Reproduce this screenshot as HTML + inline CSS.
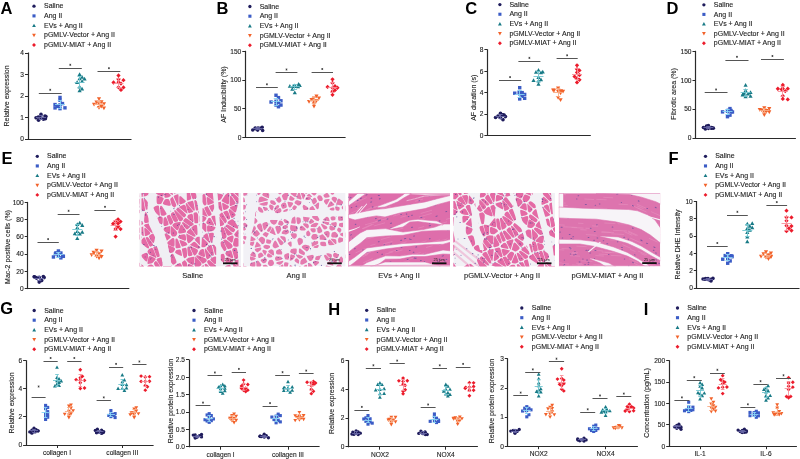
<!DOCTYPE html>
<html><head><meta charset="utf-8"><title>Figure</title>
<style>html,body{margin:0;padding:0;background:#fff;width:800px;height:459px;overflow:hidden}svg{display:block;font-family:"Liberation Sans",sans-serif;will-change:transform}</style>
</head><body>
<svg width="800" height="459" viewBox="0 0 800 459" font-family="Liberation Sans, sans-serif">
<defs>
<clipPath id="hc0"><rect x="139.5" y="193.0" width="101.5" height="73.4"/></clipPath>
<clipPath id="hc1"><rect x="243.3" y="193.0" width="102.0" height="73.4"/></clipPath>
<clipPath id="hc2"><rect x="348.3" y="193.2" width="101.7" height="73.2"/></clipPath>
<clipPath id="hc3"><rect x="453.3" y="193.0" width="101.7" height="73.4"/></clipPath>
<clipPath id="hc4"><rect x="558.8" y="193.2" width="101.4" height="73.0"/></clipPath>
</defs>
<g clip-path="url(#hc0)"><rect x="139.5" y="193.0" width="101.5" height="73.4" fill="#f0eff4"/>
<g fill="#e46aa5"><path d="M144.2 196.4Q143.7 196.4 143.7 196.4L143.6 196.4Q143.6 196.4 146.4 175.6L150.0 147.9Q152.8 127.1 153.6 139.5L154.7 156.1Q155.5 168.5 155.5 170.6L155.5 173.3Q155.6 175.4 154.6 179.9L153.4 185.9Q152.5 190.5 150.9 192.0L148.8 194.0Q147.2 195.5 146.7 195.8L146.0 196.1Q145.5 196.3 144.9 196.3Z"/><path d="M150.2 142.5Q153.3 119.1 143.8 -116.0L131.1 -429.6Q121.5 -664.8 90.7 -634.2L49.6 -593.5Q18.8 -562.9 55.4 -334.9L104.2 -30.9Q140.9 197.1 141.5 197.1L142.4 197.1Q143.0 197.0 146.1 173.7Z"/><path d="M123.6 197.7Q137.6 197.8 138.4 197.5L139.5 197.1Q140.3 196.8 105.9 -17.0L60.1 -302.1Q25.8 -515.9 -179.7 -313.4L-453.7 -43.5Q-659.3 159.0 -434.2 170.5L-134.1 185.9Q91.0 197.4 105.0 197.5Z"/><path d="M176.5 192.9Q177.7 192.4 179.5 189.2L181.8 184.8Q183.6 181.6 188.3 109.2L194.6 12.7Q199.4 -59.7 203.9 -247.1L209.8 -496.9Q214.3 -684.2 206.6 -692.4L196.2 -703.4Q188.5 -711.6 169.5 -692.1L144.1 -666.1Q125.1 -646.6 134.4 -416.5L146.8 -109.6Q156.1 120.5 157.0 134.2L158.2 152.4Q159.1 166.1 163.5 174.5L169.3 185.7Q173.6 194.1 174.8 193.6Z"/><path d="M172.6 194.8Q172.3 195.0 172.3 195.0L172.2 195.0Q172.2 195.0 170.0 193.3L167.0 191.1Q164.8 189.4 163.1 184.8L160.8 178.7Q159.1 174.1 159.1 171.9L159.0 168.9Q159.0 166.7 163.3 174.9L169.0 185.9Q173.3 194.2 173.0 194.4Z"/><path d="M166.1 197.8Q165.0 198.0 164.8 197.6L164.5 197.2Q164.3 196.8 164.4 194.8L164.6 192.2Q164.7 190.2 166.7 191.7L169.4 193.8Q171.4 195.3 170.6 196.0L169.5 196.8Q168.7 197.5 167.6 197.6Z"/><path d="M163.9 191.8Q164.0 189.5 162.2 184.7L159.7 178.2Q157.9 173.4 156.8 178.6L155.4 185.5Q154.4 190.6 155.0 191.8L155.9 193.3Q156.6 194.5 158.7 195.3L161.5 196.4Q163.5 197.2 163.7 194.9Z"/><path d="M159.8 204.1Q159.3 204.3 158.7 204.2L157.9 204.1Q157.3 204.0 157.1 203.4L156.8 202.7Q156.6 202.2 156.6 200.0L156.6 197.2Q156.6 195.0 158.6 195.8L161.2 196.8Q163.2 197.6 163.4 197.9L163.7 198.5Q163.9 198.8 163.1 200.3L162.1 202.2Q161.4 203.6 161.3 203.7L161.2 203.7Q161.2 203.8 160.6 203.9Z"/><path d="M150.0 208.0Q150.5 207.6 150.6 207.5L150.8 207.3Q150.9 207.1 149.3 204.7L147.2 201.3Q145.6 198.9 145.0 198.9L144.3 198.9Q143.8 198.9 144.4 202.2L145.2 206.6Q145.8 209.9 145.9 209.9L146.0 209.9Q146.1 209.9 146.9 209.6L148.0 209.3Q148.8 209.0 149.3 208.6Z"/><path d="M143.7 210.9Q144.4 211.0 144.7 210.9L145.0 210.8Q145.3 210.7 144.7 207.0L143.8 202.0Q143.1 198.3 143.1 198.3L143.0 198.3Q143.0 198.3 142.4 198.3L141.5 198.4Q140.9 198.4 140.0 198.7L138.9 199.1Q138.0 199.4 138.9 202.4L140.1 206.5Q141.0 209.5 141.4 209.9L141.9 210.4Q142.3 210.7 142.9 210.8Z"/><path d="M139.6 206.6Q140.4 209.5 125.3 206.5L105.2 202.5Q90.1 199.5 104.3 199.6L123.3 199.7Q137.6 199.8 138.4 202.7Z"/><path d="M123.5 219.0Q135.5 216.4 137.4 214.9L139.9 212.8Q141.9 211.3 141.5 210.9L141.0 210.4Q140.6 210.0 124.6 206.8L103.2 202.5Q87.2 199.3 -156.2 186.9L-480.7 170.2Q-724.1 157.8 -746.1 179.0L-775.4 207.3Q-797.4 228.5 -797.1 228.8L-796.6 229.2Q-796.2 229.6 -582.1 231.4L-296.6 233.7Q-82.4 235.5 -29.1 232.4L42.0 228.2Q95.3 225.1 107.4 222.5Z"/><path d="M196.0 192.9Q198.7 195.1 199.9 194.1L201.6 192.9Q202.8 191.9 203.5 190.4L204.4 188.3Q205.1 186.8 203.9 119.4L202.3 29.6Q201.1 -37.8 196.8 28.3L191.1 116.4Q186.7 182.5 187.1 183.3L187.5 184.3Q187.9 185.1 188.4 185.9L189.2 187.1Q189.8 187.9 192.4 190.1Z"/><path d="M194.0 199.1Q193.5 199.3 193.2 199.3L192.8 199.2Q192.5 199.2 191.4 195.9L190.0 191.4Q189.0 188.1 191.9 190.4L195.7 193.5Q198.6 195.8 198.5 196.0L198.4 196.1Q198.3 196.3 197.3 197.0L196.1 197.9Q195.2 198.6 194.7 198.8Z"/><path d="M190.8 196.0Q191.9 199.2 190.4 199.6L188.5 200.2Q187.0 200.6 187.0 200.5L186.9 200.3Q186.9 200.2 186.8 195.8L186.6 190.0Q186.5 185.6 187.1 186.4L187.9 187.6Q188.5 188.5 189.5 191.7Z"/><path d="M183.0 203.4Q184.6 202.7 184.9 202.4L185.2 202.1Q185.5 201.9 185.6 201.7L185.8 201.4Q185.9 201.2 185.9 201.1L185.8 200.9Q185.7 200.8 183.8 199.0L181.2 196.6Q179.2 194.8 179.2 197.9L179.2 201.9Q179.2 205.0 180.8 204.3Z"/><path d="M177.7 205.4Q177.7 205.4 178.0 205.2L178.3 204.9Q178.6 204.7 178.6 201.8L178.6 197.9Q178.6 195.0 178.4 194.7L178.2 194.3Q178.0 194.0 176.9 194.5L175.5 195.1Q174.4 195.6 174.1 195.8L173.7 196.1Q173.5 196.3 174.7 199.0L176.4 202.7Q177.7 205.4 177.7 205.4Z"/><path d="M176.1 206.3Q176.8 205.7 175.6 203.0L173.9 199.4Q172.7 196.7 172.6 196.8L172.6 196.8Q172.5 196.8 171.7 197.4L170.7 198.3Q169.8 198.9 170.5 201.0L171.3 203.7Q171.9 205.8 172.6 206.3L173.5 207.1Q174.2 207.7 174.2 207.7L174.2 207.7Q174.3 207.7 175.0 207.1Z"/><path d="M165.0 204.9Q162.3 204.2 163.0 202.7L164.1 200.8Q164.8 199.3 166.1 199.1L167.8 198.9Q169.1 198.7 169.7 201.0L170.7 204.1Q171.4 206.4 168.6 205.7Z"/><path d="M161.4 215.4Q160.7 215.2 160.4 212.4L160.1 208.8Q159.8 206.0 160.4 205.9L161.1 205.7Q161.7 205.5 163.2 208.1L165.4 211.4Q167.0 214.0 166.5 214.3L165.9 214.8Q165.5 215.1 164.8 215.4L163.8 215.7Q163.1 215.9 162.4 215.7Z"/><path d="M154.0 210.8Q151.9 208.6 152.0 208.4L152.1 208.2Q152.2 208.1 153.7 207.2L155.6 206.1Q157.0 205.3 157.6 205.4L158.4 205.5Q159.1 205.6 159.3 208.6L159.7 212.6Q160.0 215.6 159.6 215.7L159.2 215.9Q158.8 216.0 156.7 213.8Z"/><path d="M144.5 222.6Q144.8 223.2 146.3 222.9L148.4 222.4Q149.9 222.1 150.1 221.9L150.4 221.7Q150.6 221.6 149.2 218.7L147.5 215.0Q146.1 212.1 146.0 212.1L145.9 212.1Q145.8 212.1 145.5 212.2L145.2 212.4Q144.9 212.5 144.6 215.1L144.2 218.5Q144.0 221.1 144.2 221.8Z"/><path d="M125.5 219.9Q136.0 217.6 137.9 218.8L140.5 220.4Q142.5 221.6 142.7 222.2L143.0 223.0Q143.3 223.6 143.1 223.9L142.8 224.3Q142.6 224.6 140.2 225.3L137.0 226.2Q134.6 226.9 124.5 226.4L111.1 225.7Q101.0 225.2 111.5 222.9Z"/><path d="M227.6 190.6Q227.4 191.0 226.4 191.8L225.0 192.7Q224.0 193.5 221.1 192.9L217.2 192.3Q214.3 191.7 212.7 190.2L210.6 188.2Q209.0 186.6 207.8 118.1L206.2 26.6Q205.0 -41.9 209.2 -216.0L214.7 -448.2Q218.9 -622.3 247.4 -593.5L285.3 -555.2Q313.7 -526.4 288.4 -313.1L254.7 -28.8Q229.4 184.5 229.0 186.0L228.4 188.1Q228.0 189.6 227.8 190.0Z"/><path d="M217.5 200.7Q216.2 200.9 215.6 198.4L214.8 195.1Q214.1 192.6 217.0 193.2L221.0 193.9Q223.9 194.4 222.8 196.1L221.5 198.4Q220.4 200.1 219.2 200.3Z"/><path d="M215.1 201.4Q215.0 201.6 212.5 199.8L209.2 197.5Q206.7 195.8 206.3 194.9L205.8 193.8Q205.4 193.0 206.1 191.4L207.1 189.2Q207.8 187.6 209.4 189.2L211.6 191.3Q213.2 192.8 213.9 195.3L214.7 198.7Q215.4 201.2 215.3 201.3Z"/><path d="M214.7 202.6Q214.6 202.9 212.6 203.5L209.8 204.4Q207.8 205.0 207.7 205.0L207.6 205.0Q207.5 204.9 207.1 202.2L206.6 198.6Q206.2 195.8 208.9 197.7L212.4 200.2Q215.1 202.1 214.9 202.3Z"/><path d="M206.1 205.1Q206.9 204.8 206.5 202.2L206.0 198.8Q205.7 196.2 205.3 195.3L204.7 194.2Q204.3 193.4 203.0 194.4L201.2 195.7Q199.9 196.7 199.8 196.8L199.6 197.0Q199.6 197.2 200.9 199.8L202.8 203.3Q204.2 205.9 205.0 205.5Z"/><path d="M196.3 210.5Q195.9 210.5 195.3 207.5L194.6 203.5Q194.1 200.6 194.5 200.3L195.2 200.1Q195.7 199.9 197.4 202.2L199.6 205.3Q201.3 207.6 200.1 208.5L198.4 209.7Q197.1 210.7 196.7 210.6Z"/><path d="M194.0 210.7Q193.5 210.9 191.6 208.5L189.0 205.3Q187.1 202.9 187.2 202.7L187.4 202.4Q187.5 202.1 188.9 201.7L190.9 201.2Q192.3 200.8 192.6 200.8L193.0 200.9Q193.3 200.9 193.8 203.8L194.5 207.5Q195.0 210.4 194.6 210.5Z"/><path d="M192.9 212.0Q192.7 212.1 191.3 212.5L189.5 213.1Q188.2 213.5 187.4 210.5L186.3 206.5Q185.5 203.6 185.8 203.3L186.2 203.0Q186.4 202.7 188.6 205.4L191.4 208.9Q193.5 211.5 193.3 211.7Z"/><path d="M187.1 213.6Q186.9 213.8 184.5 211.8L181.3 209.1Q178.9 207.1 179.1 206.9L179.5 206.6Q179.8 206.4 181.4 205.7L183.6 204.8Q185.2 204.1 186.0 206.8L186.9 210.5Q187.7 213.2 187.4 213.4Z"/><path d="M185.7 216.1Q185.3 216.8 184.9 217.1L184.2 217.5Q183.8 217.9 181.3 215.4L178.0 212.1Q175.5 209.7 176.3 209.1L177.5 208.2Q178.3 207.6 178.3 207.6L178.3 207.6Q178.3 207.6 180.8 209.6L184.1 212.4Q186.5 214.4 186.2 215.1Z"/><path d="M177.6 212.3Q175.0 209.7 175.0 209.7L174.9 209.7Q174.9 209.8 174.6 210.2L174.2 210.8Q174.0 211.3 175.5 214.2L177.5 218.1Q179.1 221.1 179.6 221.2L180.3 221.3Q180.9 221.4 181.2 221.2L181.7 220.8Q182.1 220.5 182.6 219.9L183.2 219.0Q183.7 218.3 181.1 215.8Z"/><path d="M175.5 222.0Q174.1 222.3 173.0 219.9L171.4 216.6Q170.3 214.1 171.3 213.3L172.6 212.2Q173.6 211.3 175.2 214.3L177.3 218.3Q178.8 221.3 177.4 221.6Z"/><path d="M170.9 224.8Q170.7 224.9 170.4 224.8L170.1 224.8Q169.9 224.8 168.8 222.3L167.5 218.9Q166.5 216.4 166.9 216.1L167.5 215.6Q168.0 215.2 168.6 215.0L169.4 214.8Q170.0 214.6 171.1 216.9L172.5 220.0Q173.6 222.3 172.9 223.1L171.9 224.0Q171.2 224.8 171.1 224.8Z"/><path d="M167.7 225.2Q169.2 224.8 168.3 222.4L167.0 219.2Q166.0 216.9 165.3 217.1L164.3 217.4Q163.6 217.6 163.5 219.6L163.4 222.3Q163.3 224.4 163.6 224.9L163.9 225.7Q164.2 226.3 165.7 225.9Z"/><path d="M157.9 217.5Q159.0 216.7 159.4 216.6L159.9 216.4Q160.3 216.3 161.1 216.6L162.1 216.9Q162.9 217.1 162.8 219.3L162.7 222.4Q162.6 224.6 160.2 223.7L157.0 222.5Q154.6 221.6 154.5 221.5L154.3 221.3Q154.2 221.2 154.5 220.7L154.9 220.0Q155.2 219.5 156.4 218.6Z"/><path d="M144.2 225.2Q144.0 225.6 144.0 225.7L144.0 225.8Q144.1 225.9 146.3 228.0L149.3 230.9Q151.6 233.1 152.1 233.0L152.7 232.8Q153.1 232.7 152.3 229.8L151.2 226.0Q150.3 223.2 148.7 223.6L146.4 224.1Q144.8 224.4 144.5 224.8Z"/><path d="M146.2 228.5Q144.1 226.5 144.3 229.4L144.6 233.2Q144.8 236.0 144.8 236.0L144.9 236.1Q144.9 236.1 145.8 235.9L146.9 235.7Q147.8 235.5 148.8 234.8L150.1 233.9Q151.1 233.1 149.0 231.1Z"/><path d="M137.5 228.2Q135.1 228.9 137.5 231.1L140.6 234.0Q142.9 236.2 143.2 236.1L143.6 236.0Q143.9 235.9 143.7 233.2L143.4 229.5Q143.2 226.8 143.2 226.7L143.2 226.6Q143.2 226.6 140.7 227.2Z"/><path d="M110.7 228.4Q100.6 227.8 53.7 230.6L-8.7 234.2Q-55.6 237.0 -39.1 237.9L-17.2 239.3Q-0.7 240.2 41.3 240.2L97.4 240.1Q139.4 240.1 140.3 239.2L141.4 237.9Q142.3 237.0 139.9 234.8L136.8 231.8Q134.4 229.6 124.3 229.1Z"/><path d="M242.1 195.1Q245.9 199.5 465.7 172.6L758.9 136.8Q978.7 109.9 780.8 -84.8L516.9 -344.6Q319.0 -539.3 293.2 -322.1L258.9 -32.4Q233.1 184.8 236.9 189.2Z"/><path d="M239.3 197.7Q242.7 200.7 243.4 200.4L244.5 200.1Q245.3 199.8 241.5 195.5L236.6 189.8Q232.8 185.5 232.4 187.0L231.9 189.0Q231.5 190.6 234.8 193.6Z"/><path d="M237.3 203.4Q237.1 203.3 235.2 200.5L232.6 196.8Q230.7 194.0 230.5 193.5L230.3 192.8Q230.1 192.2 230.3 191.8L230.6 191.2Q230.8 190.8 234.3 194.0L238.9 198.2Q242.4 201.3 241.7 201.9L240.7 202.6Q239.9 203.1 239.3 203.2L238.5 203.4Q238.0 203.5 237.7 203.5Z"/><path d="M234.6 201.0Q236.6 203.9 234.6 204.5L232.1 205.4Q230.1 206.1 230.0 205.9L229.8 205.5Q229.6 205.3 229.7 202.0L229.9 197.5Q230.0 194.2 232.0 197.1Z"/><path d="M229.0 192.8Q228.9 192.3 227.8 193.1L226.3 194.1Q225.2 194.9 224.1 196.7L222.6 199.1Q221.5 200.9 221.6 201.0L221.7 201.2Q221.8 201.3 224.0 202.5L226.9 204.1Q229.1 205.3 229.2 202.0L229.3 197.5Q229.4 194.1 229.3 193.6Z"/><path d="M222.2 204.5Q221.7 202.0 223.8 203.2L226.5 204.7Q228.5 205.8 228.7 206.0L228.8 206.3Q229.0 206.6 228.9 206.9L228.7 207.4Q228.6 207.7 228.2 208.1L227.7 208.6Q227.2 209.0 226.0 209.4L224.4 210.0Q223.2 210.4 222.7 207.9Z"/><path d="M215.8 203.4Q215.7 203.6 215.8 204.4L216.0 205.4Q216.2 206.2 217.7 207.7L219.7 209.8Q221.1 211.3 221.4 211.2L221.7 211.2Q222.0 211.1 222.1 211.0L222.3 210.8Q222.5 210.6 222.0 208.1L221.4 204.6Q221.0 202.1 220.9 202.0L220.8 201.8Q220.7 201.7 219.5 202.0L217.8 202.3Q216.5 202.5 216.4 202.6L216.2 202.8Q216.1 202.9 216.0 203.1Z"/><path d="M214.6 204.8Q214.5 204.0 212.7 204.6L210.3 205.4Q208.5 205.9 209.6 208.0L211.1 210.8Q212.2 212.9 213.0 211.0L214.1 208.4Q215.0 206.5 214.8 205.7Z"/><path d="M208.7 216.1Q208.2 216.2 206.9 213.7L205.3 210.4Q204.1 207.9 204.3 207.7L204.5 207.4Q204.7 207.2 205.5 206.9L206.6 206.4Q207.4 206.1 207.5 206.1L207.6 206.2Q207.7 206.2 208.8 208.3L210.4 211.3Q211.5 213.4 211.5 213.7L211.6 214.2Q211.6 214.5 211.1 214.9L210.5 215.4Q210.0 215.8 209.4 215.9Z"/><path d="M198.1 212.3Q197.6 211.5 198.9 210.6L200.6 209.3Q201.9 208.4 202.4 208.2L203.0 208.0Q203.5 207.8 204.8 210.5L206.5 214.1Q207.8 216.8 207.8 216.8L207.8 216.8Q207.8 216.8 205.2 215.9L201.7 214.8Q199.1 214.0 198.7 213.2Z"/><path d="M199.3 217.1Q199.3 214.7 201.6 215.5L204.8 216.5Q207.1 217.3 206.4 218.6L205.4 220.3Q204.6 221.6 203.0 221.9L200.8 222.3Q199.2 222.6 199.2 220.2Z"/><path d="M193.6 213.1Q193.4 213.3 193.7 216.2L194.2 220.1Q194.5 223.1 194.5 223.1L194.5 223.1Q194.6 223.2 195.4 223.2L196.4 223.3Q197.2 223.3 197.4 223.3L197.6 223.2Q197.7 223.1 197.8 223.0L198.1 222.8Q198.2 222.7 198.2 220.3L198.2 217.1Q198.2 214.7 197.8 214.0L197.2 213.1Q196.8 212.4 196.4 212.3L196.0 212.3Q195.6 212.2 195.2 212.4L194.6 212.6Q194.1 212.7 193.9 212.9Z"/><path d="M193.1 216.3Q192.8 213.4 191.6 213.8L190.0 214.3Q188.8 214.6 188.5 214.8L188.2 215.1Q188.0 215.2 187.7 215.9L187.2 216.8Q186.9 217.5 189.0 219.2L191.8 221.4Q193.9 223.1 193.6 220.2Z"/><path d="M194.0 224.0Q193.9 223.9 191.6 222.0L188.4 219.5Q186.0 217.7 185.5 218.0L184.9 218.5Q184.4 218.8 183.9 219.5L183.2 220.4Q182.8 221.1 185.2 222.8L188.4 225.1Q190.8 226.8 191.7 226.0L193.0 224.9Q194.0 224.0 194.0 224.0Z"/><path d="M190.0 227.0Q190.1 226.9 188.0 225.3L185.1 223.3Q183.0 221.8 182.7 222.1L182.3 222.4Q182.0 222.6 182.0 222.9L182.0 223.2Q182.0 223.4 183.4 225.4L185.2 228.1Q186.5 230.2 187.5 229.3L188.9 228.2Q189.8 227.3 189.9 227.2Z"/><path d="M178.4 233.1Q178.5 233.8 180.7 233.4L183.5 232.9Q185.6 232.5 185.6 232.5L185.6 232.5Q185.6 232.5 185.8 232.0L186.1 231.3Q186.3 230.9 184.7 228.6L182.7 225.6Q181.2 223.3 180.3 225.8L179.0 229.1Q178.1 231.5 178.2 232.2Z"/><path d="M175.9 229.6Q177.6 231.4 178.6 228.9L179.8 225.6Q180.8 223.1 180.8 222.9L180.8 222.5Q180.7 222.2 180.2 222.1L179.5 222.0Q178.9 221.9 177.5 222.2L175.6 222.6Q174.2 222.9 173.5 223.7L172.5 224.7Q171.8 225.4 173.5 227.2Z"/><path d="M171.1 235.0Q170.5 234.4 170.6 231.9L170.8 228.7Q171.0 226.2 171.2 226.2L171.4 226.1Q171.5 226.1 173.1 227.8L175.3 230.0Q176.9 231.6 177.1 232.3L177.2 233.1Q177.4 233.8 176.9 234.5L176.3 235.4Q175.9 236.0 175.4 236.2L174.9 236.5Q174.4 236.6 173.8 236.6L173.0 236.6Q172.4 236.6 171.8 235.9Z"/><path d="M170.2 231.9Q170.0 234.5 168.5 233.7L166.6 232.8Q165.2 232.0 164.6 231.2L163.9 230.2Q163.4 229.4 163.7 228.8L164.1 228.1Q164.4 227.5 166.0 227.0L168.1 226.4Q169.7 225.9 169.9 225.9L170.3 226.0Q170.5 226.0 170.4 228.6Z"/><path d="M170.0 235.9Q169.4 235.2 168.0 234.5L166.2 233.6Q164.9 232.9 164.2 234.8L163.3 237.2Q162.6 239.0 162.9 239.8L163.4 240.8Q163.7 241.6 164.4 241.6L165.2 241.6Q165.9 241.6 167.5 240.3L169.6 238.6Q171.2 237.4 170.7 236.7Z"/><path d="M155.6 234.5Q155.7 234.9 155.1 237.7L154.3 241.5Q153.7 244.4 152.0 242.0L149.9 238.8Q148.3 236.4 149.3 235.7L150.8 234.6Q151.8 233.8 152.3 233.7L152.9 233.5Q153.3 233.4 153.9 233.5L154.6 233.6Q155.2 233.7 155.3 234.0Z"/><path d="M151.6 242.1Q153.0 244.3 153.1 244.6L153.2 245.0Q153.2 245.2 152.9 245.5L152.5 245.8Q152.1 246.1 151.4 246.3L150.4 246.7Q149.6 247.0 148.3 244.1L146.5 240.3Q145.2 237.5 146.0 237.3L147.2 237.1Q148.1 237.0 149.6 239.2Z"/><path d="M144.2 237.4Q144.5 237.2 144.6 237.2L144.6 237.2Q144.7 237.2 146.1 240.3L148.1 244.5Q149.5 247.5 149.0 247.9L148.3 248.4Q147.8 248.8 145.7 247.0L143.1 244.7Q141.0 243.0 140.8 242.4L140.5 241.7Q140.2 241.2 141.2 240.1L142.5 238.7Q143.5 237.6 143.8 237.5Z"/><path d="M788.6 230.2Q624.6 229.7 536.7 227.9L419.6 225.4Q331.8 223.6 305.4 221.3L270.1 218.2Q243.7 215.9 243.5 215.8L243.3 215.7Q243.1 215.6 242.4 212.2L241.4 207.7Q240.7 204.3 241.5 203.7L242.6 202.9Q243.4 202.3 244.3 202.0L245.5 201.6Q246.4 201.3 486.1 172.0L805.7 132.9Q1045.4 103.6 1084.1 141.0L1135.7 190.9Q1174.4 228.2 1173.5 229.1L1172.2 230.3Q1171.3 231.2 1007.2 230.7Z"/><path d="M237.3 204.6Q237.0 204.5 235.0 205.2L232.3 206.2Q230.2 206.9 230.1 207.3L229.9 207.8Q229.8 208.1 231.6 209.7L234.0 211.9Q235.8 213.4 236.4 210.8L237.3 207.3Q237.9 204.7 237.6 204.6Z"/><path d="M235.4 214.2Q235.2 213.7 233.6 212.2L231.4 210.3Q229.7 208.8 229.3 209.2L228.8 209.7Q228.3 210.1 229.2 212.5L230.4 215.7Q231.2 218.1 231.7 218.0L232.4 217.9Q232.9 217.8 233.8 217.0L234.9 216.0Q235.8 215.3 235.6 214.8Z"/><path d="M223.4 211.9Q223.6 211.8 224.8 211.3L226.5 210.8Q227.7 210.3 228.6 212.7L229.8 215.9Q230.6 218.3 229.8 218.9L228.6 219.6Q227.8 220.2 226.4 217.8L224.5 214.6Q223.1 212.2 223.2 212.1Z"/><path d="M221.7 212.6Q221.5 212.6 220.6 213.4L219.5 214.3Q218.6 215.1 220.5 217.6L223.1 221.0Q225.0 223.6 225.3 223.3L225.7 223.0Q226.0 222.7 226.4 222.1L226.9 221.4Q227.3 220.8 225.8 218.2L223.8 214.9Q222.4 212.4 222.1 212.5Z"/><path d="M218.5 223.1Q219.2 226.2 219.5 226.2L219.9 226.2Q220.3 226.2 221.1 226.0L222.1 225.7Q222.9 225.5 223.1 225.3L223.3 225.2Q223.5 225.0 223.9 224.6L224.3 224.1Q224.6 223.7 222.7 221.2L220.2 217.8Q218.3 215.3 217.9 215.5L217.4 215.7Q217.0 215.8 217.6 218.9Z"/><path d="M214.3 223.4Q215.8 226.1 216.1 226.3L216.5 226.6Q216.8 226.9 217.4 226.7L218.2 226.5Q218.8 226.4 218.1 223.2L217.2 219.0Q216.6 215.8 215.4 215.8L213.8 215.7Q212.6 215.6 212.1 216.1L211.4 216.6Q210.9 217.0 212.4 219.7Z"/><path d="M206.4 223.0Q206.0 222.5 206.8 221.2L207.8 219.4Q208.6 218.1 208.6 218.1L208.6 218.1Q208.6 218.1 209.1 218.0L209.9 217.8Q210.4 217.7 211.8 220.2L213.6 223.6Q215.0 226.1 212.6 225.6L209.5 224.8Q207.2 224.3 206.8 223.7Z"/><path d="M209.4 225.5Q207.0 224.9 207.0 226.9L207.1 229.5Q207.1 231.5 207.4 231.6L207.7 231.6Q208.0 231.7 209.6 231.5L211.8 231.2Q213.4 230.9 214.1 229.9L215.0 228.6Q215.8 227.6 215.5 227.4L215.1 227.1Q214.8 226.8 212.5 226.3Z"/><path d="M198.9 224.0Q199.1 223.9 200.9 223.5L203.3 223.1Q205.0 222.8 205.4 223.4L205.9 224.1Q206.3 224.7 206.4 226.9L206.4 229.7Q206.4 231.8 206.1 231.9L205.7 232.1Q205.4 232.2 203.3 229.8L200.6 226.7Q198.5 224.3 198.7 224.2Z"/><path d="M195.3 224.9Q194.4 224.9 193.5 225.6L192.3 226.7Q191.4 227.5 191.3 227.6L191.2 227.8Q191.2 227.9 192.7 230.2L194.7 233.2Q196.2 235.5 196.6 235.3L197.2 235.1Q197.6 234.9 197.5 232.0L197.3 228.0Q197.2 225.0 196.4 225.0Z"/><path d="M192.3 230.4Q190.8 228.0 189.7 229.0L188.2 230.2Q187.1 231.2 186.9 231.7L186.7 232.3Q186.5 232.8 188.9 234.0L192.2 235.7Q194.6 237.0 195.0 236.6L195.6 236.2Q196.0 235.9 194.4 233.5Z"/><path d="M186.8 239.1Q187.1 241.5 187.6 242.2L188.2 243.1Q188.7 243.7 190.1 242.5L191.9 240.9Q193.3 239.8 193.6 239.1L193.9 238.2Q194.2 237.5 191.8 236.3L188.7 234.7Q186.3 233.4 186.3 233.4L186.3 233.4Q186.3 233.5 186.5 235.9Z"/><path d="M178.2 236.5Q177.8 237.2 178.2 237.5L178.7 238.1Q179.1 238.4 181.3 239.3L184.1 240.5Q186.3 241.3 186.1 239.1L185.8 236.1Q185.6 233.8 183.7 234.2L181.1 234.7Q179.2 235.0 178.8 235.7Z"/><path d="M187.3 244.6Q187.3 244.6 187.3 244.5L187.4 244.3Q187.4 244.2 186.9 243.6L186.3 242.8Q185.9 242.2 183.8 241.3L181.0 240.2Q178.8 239.3 179.7 241.6L180.9 244.7Q181.7 247.0 183.0 246.6L184.6 246.1Q185.9 245.8 186.3 245.4L186.9 244.9Q187.3 244.6 187.3 244.6Z"/><path d="M175.7 238.7Q175.3 238.9 175.4 241.4L175.4 244.7Q175.5 247.2 175.6 247.5L175.9 248.0Q176.0 248.4 177.4 248.2L179.2 247.9Q180.6 247.7 180.7 247.6L180.8 247.5Q180.9 247.4 180.1 245.0L178.9 241.9Q178.0 239.6 177.6 239.2L177.1 238.7Q176.7 238.3 176.3 238.5Z"/><path d="M173.0 238.1Q172.3 238.1 170.6 239.5L168.2 241.4Q166.5 242.8 166.8 243.2L167.1 243.7Q167.4 244.2 169.6 245.2L172.5 246.5Q174.7 247.5 174.6 244.7L174.6 241.0Q174.5 238.2 173.9 238.2Z"/><path d="M167.9 246.9Q167.3 244.4 169.5 245.4L172.4 246.8Q174.6 247.8 174.8 248.2L175.1 248.8Q175.2 249.2 174.7 250.1L173.9 251.3Q173.3 252.2 173.2 252.2L173.1 252.3Q173.0 252.4 172.2 252.6L171.2 252.9Q170.5 253.1 170.1 253.0L169.6 252.8Q169.3 252.8 168.7 250.2Z"/><path d="M153.9 246.8Q154.2 246.5 155.1 246.6L156.3 246.6Q157.2 246.6 158.1 249.6L159.2 253.5Q160.1 256.5 159.2 256.8L157.9 257.2Q156.9 257.6 155.8 254.5L154.3 250.4Q153.1 247.4 153.5 247.1Z"/><path d="M151.3 255.8Q149.2 254.8 148.7 253.9L147.9 252.7Q147.3 251.8 147.7 251.1L148.1 250.3Q148.4 249.6 148.9 249.3L149.6 248.8Q150.1 248.4 150.9 248.2L151.9 247.8Q152.7 247.5 153.9 250.6L155.4 254.6Q156.5 257.7 156.4 257.8L156.2 258.0Q156.0 258.2 154.0 257.1Z"/><path d="M147.5 263.3Q147.4 262.9 147.8 260.6L148.4 257.5Q148.9 255.2 151.0 256.2L153.8 257.6Q155.9 258.7 155.8 258.9L155.7 259.2Q155.6 259.5 154.7 260.5L153.4 262.0Q152.5 263.1 151.1 263.4L149.2 263.8Q147.8 264.1 147.7 263.7Z"/><path d="M147.4 260.4Q147.0 262.6 144.9 260.4L142.2 257.4Q140.1 255.2 142.1 254.4L144.6 253.3Q146.6 252.4 147.1 253.3L147.9 254.4Q148.4 255.3 148.0 257.5Z"/><path d="M142.1 264.7Q145.1 266.7 144.4 269.8L143.4 274.0Q142.7 277.1 140.5 271.9L137.5 265.1Q135.3 259.9 138.3 262.0Z"/><path d="M89.9 253.8Q132.8 257.7 133.4 258.4L134.2 259.4Q134.8 260.1 137.0 265.3L140.0 272.3Q142.2 277.5 125.0 507.3L102.0 813.7Q84.7 1043.5 -162.1 801.1L-491.3 477.9Q-738.1 235.4 -537.3 237.1L-269.6 239.3Q-68.8 241.0 -51.3 242.0L-27.9 243.4Q-10.3 244.5 32.6 248.5Z"/><path d="M240.6 223.7Q239.4 226.2 239.4 226.7L239.5 227.3Q239.5 227.7 240.4 228.0L241.6 228.5Q242.6 228.8 266.2 227.5L297.8 225.8Q321.5 224.5 298.1 222.5L267.0 219.7Q243.6 217.7 242.3 220.3Z"/><path d="M227.4 222.8Q227.0 223.4 230.0 225.1L233.9 227.3Q236.8 229.0 237.3 228.7L237.9 228.5Q238.3 228.2 238.3 227.8L238.2 227.1Q238.2 226.6 236.7 224.4L234.7 221.3Q233.2 219.1 232.7 219.2L231.9 219.3Q231.4 219.4 230.5 220.0L229.2 220.8Q228.3 221.4 227.9 222.0Z"/><path d="M227.6 228.3Q225.3 226.3 225.6 225.9L226.0 225.4Q226.3 225.1 226.6 224.8L227.0 224.6Q227.3 224.3 229.9 225.8L233.4 227.8Q236.0 229.3 235.1 230.4L233.9 231.9Q233.0 233.0 230.7 231.0Z"/><path d="M224.2 226.4Q224.4 226.3 227.0 228.5L230.4 231.5Q232.9 233.8 232.9 233.9L232.9 234.0Q232.8 234.1 231.2 234.7L228.9 235.5Q227.3 236.2 226.2 233.3L224.8 229.6Q223.7 226.7 223.9 226.6Z"/><path d="M222.6 239.2Q222.8 239.4 223.5 239.1L224.6 238.8Q225.3 238.5 225.8 237.9L226.5 237.0Q227.0 236.4 225.9 233.5L224.4 229.6Q223.3 226.7 222.5 227.0L221.4 227.3Q220.6 227.5 221.1 230.9L221.8 235.4Q222.4 238.8 222.5 239.0Z"/><path d="M209.0 236.1Q208.3 233.2 209.8 233.0L211.9 232.7Q213.5 232.5 213.6 233.1L213.8 233.9Q214.0 234.4 213.4 236.9L212.7 240.2Q212.1 242.6 212.0 242.7L211.8 242.8Q211.6 242.8 211.4 242.8L211.0 242.8Q210.8 242.8 210.0 239.9Z"/><path d="M207.3 241.0Q209.4 243.0 209.6 243.0L209.9 242.9Q210.1 242.8 209.3 240.0L208.4 236.3Q207.6 233.5 207.4 233.4L207.0 233.3Q206.8 233.3 206.5 233.4L206.1 233.5Q205.8 233.6 204.8 234.4L203.5 235.5Q202.5 236.4 204.6 238.3Z"/><path d="M202.5 247.2Q201.8 247.2 201.7 247.0L201.5 246.7Q201.4 246.5 201.5 243.6L201.5 239.7Q201.6 236.8 201.6 236.8L201.6 236.8Q201.6 236.8 203.9 239.0L206.8 241.8Q209.0 244.0 207.8 244.8L206.2 246.0Q205.0 246.9 204.7 247.0L204.3 247.2Q204.1 247.3 203.4 247.3Z"/><path d="M200.9 243.6Q200.8 246.4 199.0 244.6L196.6 242.1Q194.8 240.3 195.0 239.7L195.4 238.8Q195.6 238.1 196.0 237.8L196.5 237.4Q196.9 237.1 197.3 236.9L197.8 236.7Q198.2 236.6 199.0 236.7L200.2 236.8Q201.0 236.9 201.0 239.8Z"/><path d="M199.8 248.0Q200.4 247.6 200.3 247.4L200.1 247.1Q200.0 246.9 198.3 245.2L196.0 242.8Q194.3 241.1 193.0 242.2L191.3 243.7Q190.0 244.7 190.0 244.8L190.0 245.0Q190.0 245.1 192.5 246.3L196.0 247.8Q198.5 249.0 199.1 248.6Z"/><path d="M198.0 251.2Q198.6 249.9 195.8 248.6L192.0 246.9Q189.1 245.6 189.1 245.6L189.1 245.6Q189.1 245.6 190.5 248.5L192.4 252.4Q193.8 255.3 194.2 255.4L194.6 255.5Q194.9 255.5 195.0 255.5L195.1 255.5Q195.1 255.4 195.6 255.0L196.2 254.5Q196.6 254.1 197.2 252.8Z"/><path d="M191.9 252.6Q193.2 255.4 191.6 255.7L189.5 256.2Q187.9 256.5 187.7 253.8L187.4 250.1Q187.2 247.3 187.7 246.9L188.3 246.4Q188.7 246.1 190.1 248.9Z"/><path d="M183.4 248.2Q182.1 248.6 182.0 248.7L181.9 248.9Q181.8 248.9 182.2 251.3L182.9 254.4Q183.3 256.7 183.6 257.2L184.0 257.8Q184.3 258.3 184.5 258.2L184.8 258.2Q185.0 258.2 185.7 257.8L186.6 257.1Q187.2 256.7 187.0 253.8L186.8 250.1Q186.6 247.3 185.2 247.7Z"/><path d="M181.9 254.5Q182.4 256.7 180.0 255.5L176.9 253.9Q174.6 252.7 175.1 251.9L175.8 250.8Q176.3 250.0 177.7 249.8L179.5 249.5Q180.9 249.3 181.3 251.5Z"/><path d="M175.9 259.7Q177.1 262.3 175.9 263.2L174.4 264.3Q173.3 265.1 172.5 264.2L171.5 262.9Q170.7 262.0 170.8 259.7L170.8 256.5Q170.8 254.2 171.6 254.0L172.5 253.8Q173.2 253.6 174.4 256.2Z"/><path d="M166.0 261.9Q164.4 261.5 163.9 263.4L163.2 266.0Q162.6 267.9 162.8 270.3L163.0 273.5Q163.1 275.9 164.0 279.3L165.3 283.8Q166.2 287.2 167.9 280.8L170.2 272.3Q171.9 265.9 171.2 265.0L170.2 263.8Q169.5 262.9 168.0 262.5Z"/><path d="M163.2 259.9Q163.8 261.0 163.2 263.2L162.4 266.1Q161.7 268.2 160.1 265.7L158.0 262.3Q156.4 259.8 156.5 259.5L156.6 259.2Q156.7 259.0 156.8 258.9L157.1 258.7Q157.2 258.6 158.2 258.2L159.5 257.8Q160.5 257.4 160.8 257.5L161.3 257.5Q161.6 257.5 162.3 258.5Z"/><path d="M154.2 262.6Q153.3 263.6 155.8 267.5L159.2 272.8Q161.7 276.7 161.6 274.1L161.4 270.7Q161.2 268.2 159.7 265.8L157.7 262.6Q156.2 260.3 155.3 261.3Z"/><path d="M149.6 264.8Q148.3 265.1 147.9 265.7L147.4 266.5Q147.0 267.1 146.3 270.2L145.3 274.2Q144.6 277.3 128.1 498.0L106.0 792.3Q89.4 1013.0 108.9 1032.5L135.0 1058.6Q154.5 1078.1 156.3 1004.3L158.7 905.9Q160.5 832.1 161.5 669.0L162.9 451.6Q164.0 288.5 163.1 285.0L161.8 280.4Q160.8 276.9 158.4 273.1L155.1 268.0Q152.6 264.1 151.3 264.4Z"/><path d="M489.8 235.2Q595.4 232.0 514.3 230.3L406.1 228.0Q325.0 226.4 300.3 227.7L267.3 229.5Q242.6 230.9 242.2 233.2L241.5 236.4Q241.1 238.7 241.8 239.9L242.8 241.5Q243.5 242.7 349.1 239.5Z"/><path d="M236.7 237.1Q235.1 236.5 234.8 235.9L234.4 235.0Q234.1 234.4 234.1 234.3L234.1 234.2Q234.2 234.1 235.1 232.9L236.4 231.4Q237.4 230.2 237.8 230.0L238.3 229.8Q238.7 229.6 239.7 229.9L240.9 230.4Q241.9 230.7 241.4 233.1L240.8 236.2Q240.4 238.6 238.8 238.0Z"/><path d="M236.1 246.7Q237.1 246.7 237.7 246.5L238.6 246.3Q239.2 246.1 240.3 245.3L241.8 244.3Q242.9 243.5 242.1 242.2L241.0 240.6Q240.3 239.3 238.6 238.6L236.4 237.8Q234.7 237.1 234.1 239.2L233.4 242.0Q232.9 244.1 233.1 244.8L233.4 245.8Q233.7 246.6 234.7 246.6Z"/><path d="M232.7 241.6Q232.2 243.4 230.4 242.1L228.2 240.3Q226.4 238.9 226.9 238.4L227.4 237.6Q227.9 237.0 229.3 236.5L231.3 235.7Q232.8 235.2 233.1 235.8L233.5 236.6Q233.8 237.2 233.3 239.1Z"/><path d="M231.6 247.9Q231.1 248.4 230.0 248.7L228.6 249.1Q227.6 249.4 226.2 246.6L224.4 242.9Q223.1 240.2 223.1 240.2L223.1 240.2Q223.1 240.2 223.9 239.9L224.9 239.6Q225.6 239.3 227.5 240.8L230.1 242.8Q232.0 244.3 232.2 245.1L232.6 246.1Q232.8 246.8 232.3 247.3Z"/><path d="M221.8 241.2Q222.7 240.4 224.1 243.1L225.8 246.8Q227.2 249.5 226.2 250.1L225.0 251.0Q224.0 251.7 222.7 249.1L220.8 245.7Q219.4 243.1 220.4 242.3Z"/><path d="M213.9 244.8Q214.3 244.8 216.1 247.2L218.6 250.4Q220.4 252.8 219.3 253.5L217.7 254.4Q216.6 255.1 216.1 255.0L215.5 254.9Q215.0 254.8 214.3 251.9L213.3 248.0Q212.5 245.0 212.7 245.0L212.9 244.9Q213.0 244.8 213.4 244.8Z"/><path d="M207.2 247.3Q205.9 248.3 207.7 250.6L210.1 253.7Q211.9 256.1 212.6 255.8L213.5 255.5Q214.2 255.2 213.5 252.1L212.4 248.1Q211.6 245.0 211.4 245.0L211.0 245.0Q210.8 245.0 210.5 245.1L210.3 245.1Q210.0 245.2 208.8 246.1Z"/><path d="M205.0 251.5Q204.6 248.9 204.9 248.8L205.3 248.6Q205.5 248.5 207.3 250.9L209.7 254.0Q211.5 256.4 210.6 257.1L209.5 258.1Q208.7 258.8 208.3 259.0L207.8 259.2Q207.4 259.4 206.9 258.9L206.4 258.2Q206.0 257.6 205.6 255.0Z"/><path d="M202.4 249.0Q201.7 249.0 201.1 249.4L200.3 250.1Q199.8 250.5 199.2 251.8L198.4 253.4Q197.8 254.6 200.1 255.5L203.1 256.8Q205.4 257.7 205.0 255.1L204.4 251.6Q204.0 249.0 203.3 249.0Z"/><path d="M199.7 255.9Q197.3 254.9 196.8 255.3L196.2 255.9Q195.7 256.3 197.8 258.5L200.6 261.5Q202.7 263.8 202.9 263.7L203.1 263.7Q203.3 263.6 204.1 263.1L205.2 262.4Q206.0 262.0 206.3 261.4L206.7 260.6Q207.0 260.1 206.5 259.5L206.0 258.8Q205.5 258.2 203.0 257.2Z"/><path d="M195.4 256.6Q195.5 256.5 197.6 258.8L200.4 261.7Q202.5 264.0 200.6 265.7L198.2 267.9Q196.3 269.6 195.8 268.5L195.0 267.0Q194.4 265.9 194.7 263.1L195.0 259.4Q195.3 256.6 195.3 256.6Z"/><path d="M194.4 256.8Q194.7 256.9 194.4 259.5L194.1 263.0Q193.9 265.6 192.2 264.7L189.9 263.4Q188.1 262.5 187.5 261.6L186.6 260.4Q185.9 259.5 186.6 259.0L187.5 258.4Q188.1 257.9 189.8 257.6L192.0 257.1Q193.6 256.7 193.9 256.8Z"/><path d="M186.9 271.0Q186.5 274.4 187.9 280.6L189.6 288.8Q191.0 295.0 192.4 287.5L194.3 277.5Q195.8 269.9 195.2 268.8L194.4 267.4Q193.9 266.2 192.0 265.2L189.6 263.9Q187.7 262.9 187.3 266.4Z"/><path d="M182.9 266.0Q181.5 262.8 182.3 262.1L183.5 261.1Q184.4 260.3 184.6 260.3L184.9 260.3Q185.1 260.3 185.8 261.2L186.6 262.3Q187.3 263.2 187.0 266.3L186.5 270.5Q186.2 273.6 184.8 270.4Z"/><path d="M182.2 266.3Q180.7 262.9 179.9 263.1L178.8 263.4Q178.0 263.6 176.8 264.4L175.3 265.6Q174.1 266.4 172.3 273.4L169.8 282.6Q167.9 289.6 166.8 461.0L165.3 689.6Q164.2 861.1 171.9 690.8L182.2 463.9Q189.9 293.6 188.6 287.8L186.9 280.0Q185.6 274.2 184.2 270.8Z"/><path d="M749.3 234.5Q597.1 234.0 491.1 237.3L349.7 241.6Q243.6 244.8 242.6 245.5L241.2 246.5Q240.1 247.3 241.4 250.1L243.1 253.7Q244.4 256.5 484.0 267.9L803.5 283.2Q1043.1 294.7 1061.5 276.9L1086.0 253.2Q1104.4 235.4 952.3 235.0Z"/><path d="M234.8 259.2Q234.9 259.3 236.0 259.0L237.4 258.6Q238.5 258.4 238.0 255.2L237.5 251.0Q237.0 247.9 236.0 247.8L234.7 247.8Q233.7 247.8 233.1 248.2L232.4 248.9Q231.9 249.3 232.7 252.2L233.8 256.1Q234.6 259.0 234.7 259.1Z"/><path d="M233.0 256.2Q233.7 258.8 231.5 257.9L228.6 256.8Q226.4 256.0 226.1 255.1L225.6 253.9Q225.2 253.0 225.2 253.0L225.2 253.0Q225.2 253.0 226.1 252.3L227.2 251.5Q228.1 250.9 229.0 250.7L230.3 250.3Q231.3 250.1 232.0 252.7Z"/><path d="M233.7 259.7Q233.8 259.8 233.5 260.5L233.0 261.3Q232.7 262.0 232.4 262.3L232.0 262.7Q231.7 263.0 229.8 263.3L227.2 263.8Q225.3 264.1 225.3 264.0L225.2 264.0Q225.2 263.9 225.5 261.7L225.8 258.8Q226.1 256.6 228.3 257.5L231.3 258.7Q233.6 259.5 233.6 259.6Z"/><path d="M218.6 255.8Q217.5 256.5 217.6 256.8L217.8 257.2Q217.9 257.5 219.8 259.4L222.3 261.8Q224.2 263.7 224.4 261.5L224.7 258.7Q225.0 256.6 224.6 255.7L224.1 254.5Q223.7 253.6 223.0 253.8L222.0 254.0Q221.3 254.2 220.1 254.9Z"/><path d="M215.2 256.6Q214.7 256.6 214.0 256.8L213.1 257.2Q212.4 257.4 211.6 258.1L210.5 259.1Q209.7 259.8 211.5 261.3L214.0 263.4Q215.9 264.9 216.1 262.8L216.4 260.0Q216.6 257.9 216.5 257.6L216.4 257.1Q216.3 256.8 215.8 256.8Z"/><path d="M207.5 261.1Q207.7 260.5 208.2 260.3L208.7 260.1Q209.2 259.9 211.1 261.5L213.8 263.7Q215.8 265.4 216.6 267.9L217.7 271.2Q218.5 273.7 218.3 274.5L218.1 275.6Q217.9 276.5 214.5 272.2L210.1 266.6Q206.8 262.4 207.1 261.8Z"/><path d="M205.7 263.8Q206.4 263.3 209.4 267.1L213.3 272.1Q216.2 275.8 216.2 280.2L216.1 286.0Q216.0 290.4 212.4 282.7L207.7 272.4Q204.1 264.8 204.8 264.3Z"/><path d="M203.4 265.0Q203.6 264.9 207.2 272.7L212.0 283.1Q215.6 290.8 223.1 515.3L233.0 814.6Q240.5 1039.0 226.2 1053.7L207.1 1073.2Q192.8 1087.9 184.1 1078.8L172.6 1066.5Q163.9 1057.4 165.6 985.5L168.0 889.6Q169.7 817.7 176.9 660.0L186.4 449.7Q193.5 292.0 194.8 285.4L196.5 276.6Q197.7 270.1 199.3 268.6L201.5 266.6Q203.1 265.1 203.2 265.0Z"/><path d="M766.3 283.5Q990.1 294.2 846.8 434.5L655.7 621.7Q512.4 762.1 431.6 614.3L323.8 417.2Q243.0 269.4 242.4 266.6L241.5 262.7Q240.8 259.8 241.8 259.4L243.2 258.9Q244.3 258.5 468.0 269.2Z"/><path d="M236.3 260.1Q235.2 260.4 234.9 261.1L234.5 262.0Q234.1 262.7 236.6 264.9L239.9 267.9Q242.4 270.1 241.7 267.0L240.7 262.8Q239.9 259.6 239.6 259.6L239.1 259.6Q238.7 259.5 237.7 259.8Z"/><path d="M233.3 263.1Q233.7 262.8 236.3 265.2L239.8 268.3Q242.4 270.7 335.5 441.0L459.7 668.2Q552.9 838.5 499.5 891.4L428.4 961.9Q375.1 1014.8 332.3 789.5L275.3 489.2Q232.6 263.9 232.9 263.6Z"/><path d="M230.0 264.8Q231.9 264.4 270.7 468.7L322.4 741.2Q361.2 945.5 326.5 980.1L280.3 1026.3Q245.6 1061.0 237.9 830.1L227.7 522.2Q220.0 291.3 220.1 286.8L220.2 280.7Q220.3 276.2 220.5 275.4L220.7 274.4Q220.9 273.6 222.3 271.2L224.1 268.0Q225.5 265.5 227.5 265.2Z"/></g>
<ellipse cx="153.1" cy="255.2" rx="0.68" ry="0.42" fill="#4e3f92" opacity="0.75"/>
<ellipse cx="189.8" cy="226.0" rx="0.65" ry="0.55" fill="#4e3f92" opacity="0.75"/>
<ellipse cx="149.0" cy="195.1" rx="0.70" ry="0.46" fill="#4e3f92" opacity="0.75"/>
<ellipse cx="216.9" cy="193.2" rx="0.58" ry="0.53" fill="#4e3f92" opacity="0.75"/>
<ellipse cx="162.7" cy="262.4" rx="0.72" ry="0.37" fill="#4e3f92" opacity="0.75"/>
<ellipse cx="142.1" cy="232.7" rx="0.73" ry="0.45" fill="#4e3f92" opacity="0.75"/>
<ellipse cx="161.5" cy="224.0" rx="0.46" ry="0.41" fill="#4e3f92" opacity="0.75"/>
<ellipse cx="183.9" cy="229.4" rx="0.52" ry="0.42" fill="#4e3f92" opacity="0.75"/>
<ellipse cx="161.7" cy="226.7" rx="0.54" ry="0.37" fill="#4e3f92" opacity="0.75"/>
<ellipse cx="224.5" cy="233.8" rx="0.64" ry="0.40" fill="#4e3f92" opacity="0.75"/>
<ellipse cx="240.2" cy="256.1" rx="0.49" ry="0.44" fill="#4e3f92" opacity="0.75"/>
<ellipse cx="212.7" cy="245.2" rx="0.73" ry="0.46" fill="#4e3f92" opacity="0.75"/>
<ellipse cx="223.7" cy="242.2" rx="0.54" ry="0.50" fill="#4e3f92" opacity="0.75"/>
<ellipse cx="229.1" cy="255.1" rx="0.60" ry="0.50" fill="#4e3f92" opacity="0.75"/>
<ellipse cx="143.0" cy="210.8" rx="0.69" ry="0.46" fill="#4e3f92" opacity="0.75"/>
<ellipse cx="157.1" cy="233.3" rx="0.66" ry="0.52" fill="#4e3f92" opacity="0.75"/>
<ellipse cx="177.5" cy="225.2" rx="0.60" ry="0.55" fill="#4e3f92" opacity="0.75"/>
<ellipse cx="192.4" cy="221.9" rx="0.60" ry="0.37" fill="#4e3f92" opacity="0.75"/>
<ellipse cx="143.9" cy="244.6" rx="0.74" ry="0.50" fill="#4e3f92" opacity="0.75"/>
<ellipse cx="179.5" cy="205.5" rx="0.60" ry="0.60" fill="#4e3f92" opacity="0.75"/>
<ellipse cx="217.7" cy="232.6" rx="0.71" ry="0.42" fill="#4e3f92" opacity="0.75"/>
<ellipse cx="191.6" cy="262.9" rx="0.62" ry="0.47" fill="#4e3f92" opacity="0.75"/>
<ellipse cx="166.8" cy="233.2" rx="0.74" ry="0.36" fill="#4e3f92" opacity="0.75"/>
<ellipse cx="219.0" cy="253.2" rx="0.72" ry="0.54" fill="#4e3f92" opacity="0.75"/>
<ellipse cx="221.6" cy="231.1" rx="0.62" ry="0.46" fill="#4e3f92" opacity="0.75"/>
<ellipse cx="145.2" cy="256.9" rx="0.62" ry="0.41" fill="#4e3f92" opacity="0.75"/>
<ellipse cx="190.7" cy="228.6" rx="0.56" ry="0.44" fill="#4e3f92" opacity="0.75"/>
<ellipse cx="194.2" cy="238.8" rx="0.63" ry="0.47" fill="#4e3f92" opacity="0.75"/>
<ellipse cx="142.3" cy="209.9" rx="0.50" ry="0.50" fill="#4e3f92" opacity="0.75"/>
<ellipse cx="226.9" cy="251.6" rx="0.69" ry="0.56" fill="#4e3f92" opacity="0.75"/>
<ellipse cx="165.4" cy="254.8" rx="0.65" ry="0.38" fill="#4e3f92" opacity="0.75"/>
<ellipse cx="141.2" cy="194.1" rx="0.68" ry="0.42" fill="#4e3f92" opacity="0.75"/>
<ellipse cx="150.6" cy="238.9" rx="0.55" ry="0.38" fill="#4e3f92" opacity="0.75"/>
<ellipse cx="155.7" cy="231.7" rx="0.50" ry="0.43" fill="#4e3f92" opacity="0.75"/>
<ellipse cx="211.7" cy="226.4" rx="0.55" ry="0.47" fill="#4e3f92" opacity="0.75"/>
<ellipse cx="141.9" cy="221.4" rx="0.58" ry="0.41" fill="#4e3f92" opacity="0.75"/>
<ellipse cx="150.5" cy="259.0" rx="0.60" ry="0.41" fill="#4e3f92" opacity="0.75"/>
<ellipse cx="201.0" cy="253.0" rx="0.46" ry="0.36" fill="#4e3f92" opacity="0.75"/>
<ellipse cx="154.4" cy="245.8" rx="0.50" ry="0.53" fill="#4e3f92" opacity="0.75"/>
<ellipse cx="208.3" cy="233.0" rx="0.52" ry="0.59" fill="#4e3f92" opacity="0.75"/>
<ellipse cx="220.5" cy="230.9" rx="0.52" ry="0.52" fill="#4e3f92" opacity="0.75"/>
<ellipse cx="179.6" cy="235.3" rx="0.55" ry="0.51" fill="#4e3f92" opacity="0.75"/>
<ellipse cx="145.5" cy="214.9" rx="0.74" ry="0.57" fill="#4e3f92" opacity="0.75"/>
<ellipse cx="170.6" cy="256.0" rx="0.54" ry="0.59" fill="#4e3f92" opacity="0.75"/>
<ellipse cx="215.0" cy="223.5" rx="0.53" ry="0.36" fill="#4e3f92" opacity="0.75"/>
<ellipse cx="228.7" cy="195.8" rx="0.70" ry="0.59" fill="#4e3f92" opacity="0.75"/>
<ellipse cx="197.4" cy="205.6" rx="0.71" ry="0.59" fill="#4e3f92" opacity="0.75"/>
<ellipse cx="211.0" cy="230.4" rx="0.56" ry="0.44" fill="#4e3f92" opacity="0.75"/>
<ellipse cx="160.4" cy="242.5" rx="0.58" ry="0.41" fill="#4e3f92" opacity="0.75"/>
<ellipse cx="150.1" cy="241.9" rx="0.54" ry="0.48" fill="#4e3f92" opacity="0.75"/>
<ellipse cx="172.5" cy="257.0" rx="0.72" ry="0.36" fill="#4e3f92" opacity="0.75"/>
<ellipse cx="159.9" cy="217.1" rx="0.75" ry="0.55" fill="#4e3f92" opacity="0.75"/>
<ellipse cx="173.9" cy="208.6" rx="0.65" ry="0.56" fill="#4e3f92" opacity="0.75"/>
<ellipse cx="234.1" cy="218.2" rx="0.71" ry="0.52" fill="#4e3f92" opacity="0.75"/>
<ellipse cx="188.7" cy="265.3" rx="0.52" ry="0.53" fill="#4e3f92" opacity="0.75"/>
<ellipse cx="148.1" cy="205.5" rx="0.72" ry="0.41" fill="#4e3f92" opacity="0.75"/>
<ellipse cx="216.6" cy="237.1" rx="0.70" ry="0.45" fill="#4e3f92" opacity="0.75"/>
<ellipse cx="174.0" cy="214.4" rx="0.71" ry="0.50" fill="#4e3f92" opacity="0.75"/>
<ellipse cx="236.4" cy="258.1" rx="0.49" ry="0.49" fill="#4e3f92" opacity="0.75"/>
<ellipse cx="150.1" cy="195.9" rx="0.47" ry="0.57" fill="#4e3f92" opacity="0.75"/>
<ellipse cx="219.5" cy="253.8" rx="0.55" ry="0.51" fill="#4e3f92" opacity="0.75"/>
<ellipse cx="218.9" cy="220.7" rx="0.62" ry="0.41" fill="#4e3f92" opacity="0.75"/>
<ellipse cx="147.8" cy="212.6" rx="0.72" ry="0.50" fill="#4e3f92" opacity="0.75"/>
<ellipse cx="233.4" cy="226.6" rx="0.53" ry="0.55" fill="#4e3f92" opacity="0.75"/>
<ellipse cx="223.5" cy="193.9" rx="0.65" ry="0.38" fill="#4e3f92" opacity="0.75"/>
<ellipse cx="151.2" cy="258.0" rx="0.46" ry="0.42" fill="#4e3f92" opacity="0.75"/>
<ellipse cx="239.8" cy="223.9" rx="0.48" ry="0.40" fill="#4e3f92" opacity="0.75"/>
<ellipse cx="164.0" cy="247.6" rx="0.48" ry="0.58" fill="#4e3f92" opacity="0.75"/>
<ellipse cx="177.9" cy="264.2" rx="0.72" ry="0.43" fill="#4e3f92" opacity="0.75"/>
<ellipse cx="165.2" cy="228.0" rx="0.48" ry="0.52" fill="#4e3f92" opacity="0.75"/>
<ellipse cx="143.5" cy="193.8" rx="0.74" ry="0.43" fill="#4e3f92" opacity="0.75"/>
<ellipse cx="200.1" cy="226.0" rx="0.54" ry="0.38" fill="#4e3f92" opacity="0.75"/>
<ellipse cx="232.2" cy="264.2" rx="0.74" ry="0.39" fill="#4e3f92" opacity="0.75"/>
<ellipse cx="161.3" cy="238.3" rx="0.74" ry="0.49" fill="#4e3f92" opacity="0.75"/>
<ellipse cx="209.4" cy="241.6" rx="0.53" ry="0.49" fill="#4e3f92" opacity="0.75"/>
<ellipse cx="170.7" cy="211.1" rx="0.47" ry="0.43" fill="#4e3f92" opacity="0.75"/>
<ellipse cx="239.3" cy="225.9" rx="0.65" ry="0.51" fill="#4e3f92" opacity="0.75"/>
<ellipse cx="235.0" cy="221.7" rx="0.54" ry="0.44" fill="#4e3f92" opacity="0.75"/>
<ellipse cx="171.6" cy="255.2" rx="0.72" ry="0.43" fill="#4e3f92" opacity="0.75"/>
<ellipse cx="173.4" cy="232.9" rx="0.62" ry="0.50" fill="#4e3f92" opacity="0.75"/>
<ellipse cx="164.4" cy="194.5" rx="0.52" ry="0.38" fill="#4e3f92" opacity="0.75"/>
<ellipse cx="195.4" cy="198.2" rx="0.47" ry="0.51" fill="#4e3f92" opacity="0.75"/>
<ellipse cx="169.0" cy="251.1" rx="0.60" ry="0.57" fill="#4e3f92" opacity="0.75"/>
<ellipse cx="155.1" cy="229.8" rx="0.69" ry="0.38" fill="#4e3f92" opacity="0.75"/>
<ellipse cx="235.8" cy="205.7" rx="0.68" ry="0.60" fill="#4e3f92" opacity="0.75"/>
<ellipse cx="222.9" cy="216.5" rx="0.48" ry="0.48" fill="#4e3f92" opacity="0.75"/>
<ellipse cx="232.8" cy="214.5" rx="0.72" ry="0.39" fill="#4e3f92" opacity="0.75"/>
<ellipse cx="231.9" cy="195.3" rx="0.54" ry="0.58" fill="#4e3f92" opacity="0.75"/>
<ellipse cx="221.1" cy="259.6" rx="0.70" ry="0.54" fill="#4e3f92" opacity="0.75"/>
<ellipse cx="209.5" cy="206.1" rx="0.58" ry="0.40" fill="#4e3f92" opacity="0.75"/>
<ellipse cx="212.1" cy="242.0" rx="0.53" ry="0.38" fill="#4e3f92" opacity="0.75"/>
<ellipse cx="237.3" cy="252.3" rx="0.61" ry="0.49" fill="#4e3f92" opacity="0.75"/>
<ellipse cx="225.9" cy="226.3" rx="0.57" ry="0.44" fill="#4e3f92" opacity="0.75"/>
<ellipse cx="165.7" cy="194.8" rx="0.64" ry="0.46" fill="#4e3f92" opacity="0.75"/>
<ellipse cx="197.4" cy="197.6" rx="0.56" ry="0.39" fill="#4e3f92" opacity="0.75"/>
<ellipse cx="152.2" cy="212.0" rx="0.70" ry="0.46" fill="#4e3f92" opacity="0.75"/>
<ellipse cx="180.2" cy="238.0" rx="0.52" ry="0.36" fill="#4e3f92" opacity="0.75"/>
<ellipse cx="193.2" cy="229.8" rx="0.64" ry="0.47" fill="#4e3f92" opacity="0.75"/>
<ellipse cx="209.2" cy="246.7" rx="0.52" ry="0.48" fill="#4e3f92" opacity="0.75"/>
<ellipse cx="188.1" cy="209.5" rx="0.57" ry="0.49" fill="#4e3f92" opacity="0.75"/>
<ellipse cx="231.6" cy="260.4" rx="0.53" ry="0.52" fill="#4e3f92" opacity="0.75"/>
<ellipse cx="144.4" cy="198.3" rx="0.60" ry="0.57" fill="#4e3f92" opacity="0.75"/>
<ellipse cx="155.7" cy="249.2" rx="0.71" ry="0.43" fill="#4e3f92" opacity="0.75"/>
<ellipse cx="209.8" cy="255.3" rx="0.56" ry="0.53" fill="#4e3f92" opacity="0.75"/>
<ellipse cx="214.2" cy="236.6" rx="0.71" ry="0.58" fill="#4e3f92" opacity="0.75"/>
<ellipse cx="236.9" cy="234.9" rx="0.50" ry="0.42" fill="#4e3f92" opacity="0.75"/>
<ellipse cx="161.6" cy="234.8" rx="0.68" ry="0.37" fill="#4e3f92" opacity="0.75"/>
<ellipse cx="208.7" cy="245.6" rx="0.55" ry="0.48" fill="#4e3f92" opacity="0.75"/>
<ellipse cx="156.2" cy="246.6" rx="0.46" ry="0.60" fill="#4e3f92" opacity="0.75"/>
<ellipse cx="221.5" cy="239.1" rx="0.53" ry="0.58" fill="#4e3f92" opacity="0.75"/>
<ellipse cx="236.9" cy="203.2" rx="0.68" ry="0.56" fill="#4e3f92" opacity="0.75"/>
<ellipse cx="206.5" cy="244.4" rx="0.58" ry="0.58" fill="#4e3f92" opacity="0.75"/>
<ellipse cx="238.1" cy="221.1" rx="0.69" ry="0.46" fill="#4e3f92" opacity="0.75"/>
<ellipse cx="156.2" cy="216.9" rx="0.49" ry="0.58" fill="#4e3f92" opacity="0.75"/>
<ellipse cx="236.9" cy="201.7" rx="0.63" ry="0.46" fill="#4e3f92" opacity="0.75"/>
<ellipse cx="151.5" cy="214.7" rx="0.52" ry="0.54" fill="#4e3f92" opacity="0.75"/>
<ellipse cx="139.9" cy="206.9" rx="0.58" ry="0.37" fill="#4e3f92" opacity="0.75"/>
<ellipse cx="203.2" cy="237.5" rx="0.70" ry="0.41" fill="#4e3f92" opacity="0.75"/>
<ellipse cx="168.4" cy="232.8" rx="0.53" ry="0.50" fill="#4e3f92" opacity="0.75"/>
<ellipse cx="165.0" cy="243.2" rx="0.69" ry="0.55" fill="#4e3f92" opacity="0.75"/>
<ellipse cx="238.3" cy="233.0" rx="0.60" ry="0.57" fill="#4e3f92" opacity="0.75"/>
<ellipse cx="217.6" cy="234.9" rx="0.56" ry="0.43" fill="#4e3f92" opacity="0.75"/>
<ellipse cx="150.5" cy="252.3" rx="0.49" ry="0.54" fill="#4e3f92" opacity="0.75"/>
<ellipse cx="194.8" cy="263.8" rx="0.68" ry="0.59" fill="#4e3f92" opacity="0.75"/>
<ellipse cx="153.4" cy="229.7" rx="0.62" ry="0.43" fill="#4e3f92" opacity="0.75"/>
<ellipse cx="190.6" cy="219.2" rx="0.61" ry="0.36" fill="#4e3f92" opacity="0.75"/>
<ellipse cx="184.4" cy="226.0" rx="0.54" ry="0.46" fill="#4e3f92" opacity="0.75"/>
<ellipse cx="219.0" cy="243.2" rx="0.60" ry="0.52" fill="#4e3f92" opacity="0.75"/>
<ellipse cx="177.8" cy="208.0" rx="0.45" ry="0.43" fill="#4e3f92" opacity="0.75"/>
<ellipse cx="200.2" cy="257.7" rx="0.70" ry="0.48" fill="#4e3f92" opacity="0.75"/>
<ellipse cx="239.7" cy="226.9" rx="0.70" ry="0.46" fill="#4e3f92" opacity="0.75"/>
<ellipse cx="215.1" cy="265.5" rx="0.54" ry="0.40" fill="#4e3f92" opacity="0.75"/>
<ellipse cx="202.4" cy="232.0" rx="0.56" ry="0.36" fill="#4e3f92" opacity="0.75"/>
<ellipse cx="179.0" cy="224.3" rx="0.57" ry="0.57" fill="#4e3f92" opacity="0.75"/>
<ellipse cx="198.8" cy="246.9" rx="0.72" ry="0.54" fill="#4e3f92" opacity="0.75"/>
<ellipse cx="189.5" cy="247.7" rx="0.64" ry="0.52" fill="#4e3f92" opacity="0.75"/>
<ellipse cx="203.4" cy="222.9" rx="0.64" ry="0.51" fill="#4e3f92" opacity="0.75"/>
<ellipse cx="234.6" cy="250.4" rx="0.70" ry="0.54" fill="#4e3f92" opacity="0.75"/>
<ellipse cx="222.3" cy="237.4" rx="0.55" ry="0.42" fill="#4e3f92" opacity="0.75"/>
<ellipse cx="211.4" cy="257.1" rx="0.61" ry="0.40" fill="#4e3f92" opacity="0.75"/>
<ellipse cx="224.0" cy="228.6" rx="0.59" ry="0.37" fill="#4e3f92" opacity="0.75"/>
<ellipse cx="191.3" cy="247.7" rx="0.58" ry="0.45" fill="#4e3f92" opacity="0.75"/>
<ellipse cx="206.2" cy="194.4" rx="0.60" ry="0.59" fill="#4e3f92" opacity="0.75"/>
<ellipse cx="209.6" cy="222.5" rx="0.66" ry="0.51" fill="#4e3f92" opacity="0.75"/>
<ellipse cx="160.7" cy="208.2" rx="0.72" ry="0.42" fill="#4e3f92" opacity="0.75"/>
<ellipse cx="147.1" cy="254.0" rx="0.61" ry="0.45" fill="#4e3f92" opacity="0.75"/>
<ellipse cx="191.4" cy="247.1" rx="0.50" ry="0.52" fill="#4e3f92" opacity="0.75"/>
<ellipse cx="211.9" cy="252.8" rx="0.53" ry="0.51" fill="#4e3f92" opacity="0.75"/>
<ellipse cx="163.1" cy="234.2" rx="0.50" ry="0.55" fill="#4e3f92" opacity="0.75"/>
<ellipse cx="227.5" cy="217.2" rx="0.52" ry="0.59" fill="#4e3f92" opacity="0.75"/>
<ellipse cx="211.2" cy="254.9" rx="0.46" ry="0.58" fill="#4e3f92" opacity="0.75"/>
<ellipse cx="202.7" cy="216.2" rx="0.58" ry="0.54" fill="#4e3f92" opacity="0.75"/>
<ellipse cx="219.2" cy="206.9" rx="0.64" ry="0.40" fill="#4e3f92" opacity="0.75"/>
<ellipse cx="238.3" cy="225.6" rx="0.72" ry="0.53" fill="#4e3f92" opacity="0.75"/>
<ellipse cx="201.0" cy="212.2" rx="0.61" ry="0.39" fill="#4e3f92" opacity="0.75"/>
<ellipse cx="153.5" cy="245.5" rx="0.56" ry="0.54" fill="#4e3f92" opacity="0.75"/>
<ellipse cx="163.9" cy="245.7" rx="0.67" ry="0.43" fill="#4e3f92" opacity="0.75"/>
<ellipse cx="150.3" cy="222.1" rx="0.60" ry="0.38" fill="#4e3f92" opacity="0.75"/>
<ellipse cx="158.5" cy="197.1" rx="0.63" ry="0.57" fill="#4e3f92" opacity="0.75"/>
<ellipse cx="161.5" cy="195.5" rx="0.66" ry="0.56" fill="#4e3f92" opacity="0.75"/>
<g fill="#f0eff4"><polygon points="148.5,193.0 155.0,193.0 153.5,208.0 160.0,224.7 164.0,233.0 167.0,241.0 170.0,257.4 171.5,266.4 163.0,266.4 161.5,257.4 157.0,241.0 153.0,233.0 149.0,224.7 147.5,208.3"/><polygon points="212.8,193.0 217.5,193.0 220.0,224.7 220.8,249.0 220.8,266.4 216.2,266.4 216.2,249.0 216.0,224.7"/><polygon points="196.0,193.0 202.5,193.0 202.5,216.5 202.0,235.0 201.0,246.0 200.0,246.0 199.5,230.0 199.5,216.5 197.5,205.0"/><polygon points="139.5,193.0 141.5,193.0 141.5,266.4 139.5,266.4"/><polygon points="238.5,193.0 241.5,193.0 241.5,266.4 238.5,266.4"/></g>
<rect x="223.0" y="262.4" width="14.5" height="1.8" fill="#111"/><text x="230.2" y="261.2" font-size="4" text-anchor="middle" fill="#222">25 μm</text></g>
<g clip-path="url(#hc1)"><rect x="243.3" y="193.0" width="102.0" height="73.4" fill="#f2f1f6"/>
<g fill="#e57aae"><path d="M243.6 192.0Q241.8 192.8 153.4 68.3L35.5 -97.5Q-53.0 -221.9 19.5 -293.5L116.2 -388.9Q188.7 -460.5 205.7 -287.8L228.4 -57.5Q245.4 115.3 246.1 137.8L247.1 167.9Q247.8 190.4 246.0 191.1Z"/><path d="M190.6 211.3Q175.6 214.3 165.2 214.6L151.2 215.0Q140.8 215.3 -36.0 215.1L-271.8 214.9Q-448.6 214.7 -324.1 92.9L-158.0 -69.6Q-33.5 -191.4 48.7 -75.8L158.2 78.2Q240.3 193.8 240.4 194.3L240.5 195.0Q240.6 195.5 238.9 197.1L236.7 199.3Q235.0 200.9 232.2 201.9L228.4 203.2Q225.6 204.1 210.6 207.2Z"/><path d="M244.2 195.8Q244.9 196.0 245.7 195.4L246.8 194.6Q247.6 194.0 247.8 193.5L248.1 192.8Q248.3 192.3 248.2 192.0L248.0 191.5Q247.9 191.2 246.2 191.8L243.9 192.8Q242.2 193.4 242.3 194.0L242.4 194.7Q242.5 195.2 243.2 195.5Z"/><path d="M245.0 202.1Q245.0 202.2 242.4 202.3L238.8 202.3Q236.2 202.4 237.9 200.7L240.2 198.5Q242.0 196.9 242.7 197.1L243.7 197.4Q244.4 197.7 244.6 198.9L244.9 200.5Q245.1 201.7 245.1 201.8Z"/><path d="M232.0 208.7Q226.9 208.2 229.7 207.2L233.5 205.9Q236.3 204.9 238.9 204.8L242.4 204.8Q245.0 204.7 245.3 205.1L245.7 205.5Q246.0 205.8 245.9 206.7L245.6 207.9Q245.5 208.8 244.9 209.2L244.2 209.6Q243.7 210.0 238.7 209.4Z"/><path d="M169.5 221.3Q170.4 221.4 174.6 221.4L180.2 221.4Q184.5 221.5 202.3 219.5L226.1 217.0Q244.0 215.0 243.9 214.0L243.8 212.6Q243.7 211.6 238.0 210.9L230.4 210.1Q224.7 209.5 207.6 213.0L184.7 217.7Q167.6 221.2 168.4 221.2Z"/><path d="M259.6 194.5Q260.2 194.2 260.8 193.1L261.7 191.6Q262.3 190.5 261.3 186.5L259.9 181.1Q258.9 177.0 258.4 182.1L257.7 188.8Q257.2 193.9 257.5 194.3L258.0 194.8Q258.3 195.2 258.9 194.9Z"/><path d="M257.5 181.1Q258.0 175.5 255.0 156.3L251.0 130.7Q248.0 111.5 248.8 135.1L249.8 166.6Q250.5 190.3 250.6 190.7L250.8 191.2Q250.9 191.6 252.5 192.3L254.6 193.4Q256.2 194.1 256.7 188.5Z"/><path d="M205.2 220.1Q188.6 221.9 200.8 222.2L217.0 222.7Q229.1 223.0 232.6 222.6L237.2 222.0Q240.7 221.5 241.8 221.2L243.3 220.7Q244.4 220.3 244.9 219.6L245.5 218.6Q245.9 217.9 245.3 217.3L244.6 216.5Q244.0 215.9 227.4 217.7Z"/><path d="M246.7 227.2Q246.2 227.9 244.8 226.7L242.9 225.1Q241.5 223.9 242.6 223.5L244.1 223.0Q245.2 222.6 246.0 223.4L247.1 224.5Q247.9 225.4 247.4 226.1Z"/><path d="M245.9 228.9Q245.9 228.5 244.4 227.2L242.4 225.4Q240.9 224.1 237.1 224.6L232.1 225.2Q228.3 225.7 233.0 227.2L239.2 229.1Q243.9 230.6 244.5 230.4L245.2 230.1Q245.8 229.9 245.9 229.5Z"/><path d="M178.7 226.2Q174.7 226.1 184.7 228.0L198.0 230.5Q208.0 232.4 217.9 233.7L231.0 235.4Q240.9 236.7 241.7 236.1L242.7 235.3Q243.5 234.6 243.5 233.8L243.4 232.8Q243.4 232.0 239.0 230.6L233.2 228.8Q228.8 227.4 216.6 227.1L200.2 226.6Q188.0 226.2 184.0 226.2Z"/><path d="M263.5 185.3Q264.7 190.0 266.3 190.6L268.3 191.6Q269.9 192.2 270.8 191.4L272.1 190.3Q273.0 189.5 273.4 187.9L273.9 185.8Q274.2 184.1 271.8 -50.3L268.6 -362.9Q266.2 -597.3 242.9 -573.6L211.9 -542.1Q188.6 -518.5 207.1 -330.5L231.8 -79.9Q250.3 108.1 253.5 128.0L257.6 154.6Q260.7 174.5 261.9 179.2Z"/><path d="M266.6 197.5Q268.7 198.4 268.8 198.3L268.9 198.2Q269.1 198.1 269.1 196.7L269.3 194.9Q269.3 193.5 267.8 192.8L265.7 191.9Q264.2 191.2 263.4 192.5L262.4 194.2Q261.7 195.4 263.8 196.3Z"/><path d="M258.5 202.3Q258.5 202.8 261.3 202.0L265.1 200.9Q267.9 200.2 268.0 199.9L268.2 199.6Q268.3 199.3 266.2 198.4L263.4 197.2Q261.3 196.3 260.7 196.7L259.8 197.1Q259.2 197.5 259.0 198.6L258.6 200.0Q258.4 201.1 258.4 201.6Z"/><path d="M260.4 204.8Q259.4 204.3 259.4 204.3L259.4 204.2Q259.4 204.2 259.4 204.0L259.5 203.8Q259.5 203.6 262.0 202.9L265.3 202.0Q267.7 201.4 267.8 202.0L267.8 202.8Q267.8 203.4 267.6 204.1L267.2 204.9Q267.0 205.6 265.7 205.6L263.9 205.7Q262.6 205.7 261.6 205.3Z"/><path d="M263.0 212.8Q262.8 213.3 262.1 213.2L261.2 213.1Q260.6 213.1 259.8 212.1L258.7 210.8Q257.8 209.8 258.0 208.8L258.2 207.4Q258.4 206.4 259.3 206.8L260.6 207.4Q261.6 207.8 262.2 209.0L263.0 210.6Q263.6 211.8 263.3 212.2Z"/><path d="M258.4 213.2Q259.3 214.2 258.7 215.2L257.9 216.5Q257.4 217.6 256.1 216.7L254.5 215.6Q253.2 214.7 253.2 214.7L253.3 214.6Q253.3 214.5 254.2 213.5L255.5 212.0Q256.5 211.0 257.3 211.9Z"/><path d="M251.7 219.5Q250.6 217.7 251.1 217.1L251.7 216.3Q252.2 215.8 253.5 216.7L255.3 217.9Q256.7 218.8 257.0 219.7L257.4 220.8Q257.6 221.7 256.9 222.3L255.9 223.2Q255.2 223.8 254.9 223.8L254.6 223.8Q254.3 223.8 253.2 221.9Z"/><path d="M243.4 236.1Q244.2 235.5 245.1 235.9L246.3 236.4Q247.2 236.8 246.7 237.9L246.0 239.3Q245.5 240.3 244.3 239.5L242.8 238.4Q241.7 237.5 242.4 236.9Z"/><path d="M244.8 243.1Q244.8 243.4 244.5 243.8L244.1 244.2Q243.9 244.5 232.5 241.4L217.3 237.2Q205.9 234.0 216.3 235.4L230.2 237.2Q240.6 238.6 241.9 239.5L243.6 240.8Q244.8 241.7 244.9 241.9L244.9 242.1Q244.9 242.3 244.9 242.6Z"/><path d="M242.4 249.1Q242.7 248.7 242.8 247.8L243.0 246.6Q243.1 245.7 233.0 242.9L219.4 239.1Q209.3 236.3 199.9 234.6L187.3 232.2Q177.9 230.4 177.2 230.4L176.2 230.3Q175.5 230.2 164.9 230.5L150.9 230.9Q140.3 231.2 170.8 236.8L211.4 244.3Q241.9 249.9 242.1 249.5Z"/><path d="M280.0 194.4Q280.4 194.4 281.1 193.7L282.0 192.8Q282.7 192.1 280.9 190.0L278.4 187.1Q276.6 185.0 276.2 186.5L275.8 188.5Q275.4 190.1 276.5 191.3L278.0 193.0Q279.1 194.2 279.5 194.3Z"/><path d="M270.4 200.7Q270.5 200.5 270.6 200.4L270.8 200.3Q270.9 200.2 271.8 200.3L273.1 200.6Q274.1 200.7 274.8 201.6L275.7 202.8Q276.4 203.7 275.8 204.2L275.0 204.8Q274.4 205.3 273.2 204.7L271.5 203.9Q270.3 203.3 270.3 202.7L270.2 201.9Q270.2 201.2 270.3 201.0Z"/><path d="M269.3 207.2Q269.0 206.4 269.2 205.7L269.6 204.8Q269.8 204.1 271.1 204.7L272.8 205.5Q274.1 206.1 273.6 207.5L272.9 209.4Q272.4 210.8 271.7 210.3L270.8 209.6Q270.1 209.2 269.8 208.3Z"/><path d="M264.0 210.1Q264.6 211.3 265.7 210.8L267.1 210.3Q268.2 209.9 267.9 209.1L267.4 208.0Q267.1 207.2 265.7 207.2L263.9 207.3Q262.6 207.3 263.2 208.5Z"/><path d="M260.2 231.3Q261.2 232.5 261.8 231.9L262.5 231.2Q263.1 230.7 262.5 228.5L261.8 225.6Q261.2 223.5 260.6 223.4L259.8 223.4Q259.2 223.4 258.4 224.1L257.4 224.9Q256.7 225.6 257.0 226.4L257.5 227.5Q257.8 228.4 258.8 229.6Z"/><path d="M251.5 230.5Q250.8 232.1 251.0 232.6L251.3 233.3Q251.6 233.8 251.6 233.8L251.6 233.8Q251.7 233.8 253.0 232.4L254.8 230.5Q256.2 229.0 255.9 228.2L255.5 227.1Q255.1 226.3 254.9 226.3L254.5 226.3Q254.2 226.3 253.9 226.4L253.5 226.6Q253.2 226.7 252.5 228.3Z"/><path d="M259.8 234.0Q259.8 234.3 258.8 235.1L257.5 236.2Q256.6 237.1 255.2 236.2L253.4 235.1Q252.0 234.2 253.4 232.8L255.3 230.9Q256.6 229.4 257.6 230.6L259.0 232.2Q259.9 233.4 259.9 233.6Z"/><path d="M252.4 241.0Q254.7 240.6 254.9 240.3L255.3 239.9Q255.5 239.6 255.5 239.4L255.5 239.1Q255.6 238.9 254.2 238.0L252.3 236.8Q250.9 235.9 250.9 235.9L250.9 235.9Q250.8 235.9 250.2 236.3L249.4 237.0Q248.7 237.4 248.2 238.6L247.4 240.1Q246.8 241.3 246.9 241.5L246.9 241.7Q247.0 241.9 249.3 241.5Z"/><path d="M253.5 244.9Q252.9 246.4 251.1 245.6L248.7 244.6Q246.9 243.8 247.0 243.5L247.1 243.0Q247.1 242.7 249.4 242.3L252.5 241.7Q254.8 241.3 254.2 242.9Z"/><path d="M245.9 268.0Q245.5 268.9 242.4 267.7L238.2 266.2Q235.0 265.0 237.0 264.2L239.5 263.1Q241.4 262.2 243.0 263.0L245.1 264.1Q246.7 264.9 246.8 265.2L246.8 265.6Q246.8 265.9 246.4 266.8Z"/><path d="M284.6 191.4Q283.5 191.7 281.6 189.4L279.0 186.4Q277.0 184.1 274.6 -49.8L271.4 -361.7Q268.9 -595.7 275.9 -602.8L285.1 -612.4Q292.1 -619.5 303.5 -607.5L318.7 -591.5Q330.1 -579.5 325.1 -437.5L318.6 -248.3Q313.6 -106.3 305.7 -17.2L295.1 101.6Q287.2 190.7 286.1 191.0Z"/><path d="M286.3 200.2Q286.0 200.4 285.3 200.3L284.3 200.3Q283.6 200.2 283.0 198.9L282.2 197.1Q281.5 195.7 282.3 195.0L283.2 194.1Q284.0 193.4 285.0 193.1L286.4 192.7Q287.5 192.4 287.7 192.8L288.0 193.2Q288.3 193.5 288.3 193.8L288.4 194.2Q288.5 194.5 288.0 196.1L287.4 198.2Q286.9 199.8 286.6 200.0Z"/><path d="M280.1 202.2Q279.4 202.8 278.9 202.7L278.3 202.6Q277.9 202.5 277.2 201.6L276.3 200.4Q275.6 199.6 276.6 198.6L277.8 197.4Q278.8 196.5 279.1 196.6L279.6 196.6Q279.9 196.7 280.5 197.9L281.2 199.5Q281.8 200.7 281.1 201.4Z"/><path d="M279.0 205.9Q278.9 205.3 278.5 205.2L277.9 205.1Q277.4 205.0 276.8 205.5L276.0 206.1Q275.4 206.6 274.9 207.9L274.3 209.7Q273.8 211.1 273.8 211.1L273.8 211.1Q273.8 211.1 273.9 211.1L274.0 211.2Q274.1 211.2 275.7 210.0L277.8 208.4Q279.4 207.2 279.2 206.6Z"/><path d="M281.5 210.5Q281.5 210.0 281.1 209.2L280.5 208.2Q280.0 207.4 278.2 208.8L275.8 210.6Q274.0 212.0 275.2 212.5L276.8 213.2Q278.0 213.7 279.0 213.1L280.3 212.4Q281.3 211.9 281.3 211.3Z"/><path d="M275.6 223.9Q276.3 223.6 276.7 222.5L277.3 221.1Q277.7 220.1 277.7 220.1L277.6 220.1Q277.6 220.0 275.6 219.9L272.8 219.7Q270.8 219.6 270.5 219.9L270.1 220.4Q269.7 220.7 270.2 221.5L270.8 222.6Q271.2 223.4 271.9 223.8L272.8 224.3Q273.4 224.6 273.6 224.7L273.8 224.8Q274.0 224.8 274.7 224.4Z"/><path d="M263.2 222.9Q262.0 223.3 262.5 225.5L263.3 228.3Q263.9 230.4 264.2 230.3L264.7 230.1Q265.0 230.0 266.1 228.5L267.6 226.4Q268.6 224.9 268.1 224.0L267.5 222.8Q267.0 222.0 266.8 221.9L266.5 221.9Q266.2 221.8 264.9 222.3Z"/><path d="M267.4 229.4Q266.4 230.8 267.3 231.2L268.4 231.8Q269.3 232.2 270.1 230.7L271.2 228.7Q272.0 227.2 271.4 226.8L270.5 226.4Q269.8 226.0 268.8 227.4Z"/><path d="M262.7 234.6Q262.6 234.9 263.7 235.6L265.2 236.6Q266.3 237.4 266.4 237.4L266.5 237.4Q266.6 237.4 267.4 236.3L268.3 234.8Q269.0 233.7 269.0 233.6L268.9 233.5Q268.8 233.4 267.9 232.9L266.7 232.4Q265.8 231.9 265.4 232.0L265.0 232.2Q264.7 232.3 264.1 232.8L263.4 233.5Q262.8 234.0 262.8 234.3Z"/><path d="M260.6 237.1Q261.6 236.3 262.7 237.1L264.2 238.1Q265.3 238.9 265.1 240.2L264.8 241.8Q264.7 243.1 264.0 243.5L263.1 244.0Q262.5 244.4 261.2 243.0L259.6 241.2Q258.4 239.8 258.4 239.6L258.4 239.3Q258.4 239.1 259.4 238.3Z"/><path d="M255.2 245.5Q254.7 246.8 254.8 247.0L254.8 247.4Q254.9 247.6 256.7 247.3L259.0 246.8Q260.8 246.5 260.8 246.2L260.8 245.9Q260.9 245.6 259.7 244.3L258.2 242.7Q257.1 241.5 256.9 241.7L256.6 242.1Q256.4 242.4 255.9 243.7Z"/><path d="M261.1 249.2Q261.4 248.6 261.3 248.2L261.2 247.8Q261.1 247.4 259.2 247.8L256.8 248.2Q254.9 248.6 254.9 249.0L254.8 249.7Q254.7 250.1 255.4 250.8L256.4 251.8Q257.1 252.5 258.1 251.9L259.4 251.1Q260.4 250.6 260.7 250.0Z"/><path d="M250.4 254.5Q249.6 255.6 251.5 256.2L254.1 256.9Q256.0 257.4 255.9 256.4L255.8 255.1Q255.7 254.1 254.9 253.3L253.9 252.2Q253.1 251.5 252.9 251.6L252.5 251.7Q252.3 251.8 251.5 253.0Z"/><path d="M249.5 256.3Q249.7 256.2 251.4 256.7L253.7 257.3Q255.5 257.8 255.6 258.1L255.7 258.5Q255.8 258.8 255.4 259.1L255.0 259.6Q254.6 259.9 253.4 260.2L251.8 260.6Q250.6 260.9 250.2 259.6L249.6 257.8Q249.1 256.5 249.3 256.4Z"/><path d="M255.4 265.4Q255.4 267.0 254.8 267.1L254.0 267.3Q253.4 267.5 252.2 267.0L250.6 266.3Q249.4 265.8 249.3 265.4L249.3 264.9Q249.3 264.5 249.8 264.0L250.5 263.3Q251.0 262.7 252.3 262.4L254.0 261.9Q255.3 261.6 255.4 263.2Z"/><path d="M248.8 275.5Q248.1 270.0 248.5 269.1L249.0 267.9Q249.4 267.0 250.4 267.5L251.8 268.1Q252.8 268.5 252.1 274.4L251.1 282.3Q250.3 288.2 249.7 282.7Z"/><path d="M297.3 190.8Q297.0 191.0 295.0 191.2L292.4 191.5Q290.4 191.8 290.2 191.5L289.9 191.1Q289.6 190.8 297.0 108.4L306.8 -1.5Q314.1 -84.0 313.6 -55.6L312.9 -17.7Q312.3 10.7 310.5 53.1L308.2 109.6Q306.4 152.0 304.0 163.2L300.9 178.1Q298.5 189.3 298.4 189.6L298.1 190.0Q298.0 190.2 297.7 190.5Z"/><path d="M296.1 196.0Q295.6 197.5 294.1 196.5L292.1 195.1Q290.7 194.1 290.6 193.8L290.5 193.4Q290.5 193.1 292.5 192.8L295.2 192.5Q297.2 192.3 296.7 193.9Z"/><path d="M294.7 198.5Q294.7 198.5 293.3 197.5L291.5 196.2Q290.2 195.3 289.7 196.7L289.2 198.6Q288.8 200.1 290.0 200.4L291.7 200.7Q293.0 201.0 293.5 200.3L294.2 199.4Q294.8 198.7 294.8 198.6Z"/><path d="M289.1 207.2Q289.3 207.3 289.7 207.4L290.3 207.5Q290.7 207.5 291.4 206.5L292.4 205.1Q293.2 204.1 293.0 203.6L292.9 203.1Q292.7 202.6 291.4 202.3L289.6 201.9Q288.2 201.6 288.0 201.8L287.6 202.1Q287.3 202.2 287.7 203.6L288.2 205.5Q288.6 206.9 288.8 207.0Z"/><path d="M285.8 207.9Q287.1 207.3 286.8 205.9L286.2 204.0Q285.9 202.6 285.1 202.5L284.2 202.4Q283.4 202.4 282.6 203.1L281.6 204.0Q280.8 204.7 280.9 205.3L281.1 206.1Q281.3 206.7 281.7 207.4L282.3 208.4Q282.7 209.1 284.1 208.6Z"/><path d="M287.9 208.9Q288.1 209.0 287.6 210.5L287.0 212.5Q286.6 213.9 286.4 214.0L286.0 214.0Q285.8 214.0 285.0 213.4L284.0 212.6Q283.2 212.0 283.3 211.5L283.4 210.8Q283.5 210.3 284.7 209.8L286.3 209.1Q287.5 208.6 287.7 208.7Z"/><path d="M278.8 224.9Q277.7 224.4 278.2 223.2L278.8 221.7Q279.3 220.5 280.1 220.6L281.3 220.8Q282.2 220.9 282.7 221.8L283.4 222.9Q284.0 223.7 283.2 224.4L282.2 225.4Q281.4 226.1 280.3 225.6Z"/><path d="M277.8 234.0Q277.9 234.0 278.4 233.7L279.1 233.4Q279.6 233.1 280.1 232.1L280.8 230.7Q281.3 229.6 281.2 228.9L281.0 227.8Q280.9 227.1 279.8 226.6L278.4 226.0Q277.3 225.5 276.6 225.9L275.6 226.4Q274.9 226.8 275.7 229.0L276.7 231.9Q277.5 234.0 277.7 234.0Z"/><path d="M275.0 232.5Q275.8 234.7 275.7 234.9L275.5 235.1Q275.3 235.2 273.7 234.5L271.6 233.5Q269.9 232.8 269.9 232.7L269.7 232.6Q269.7 232.5 270.5 230.9L271.7 228.8Q272.5 227.2 272.7 227.3L273.0 227.4Q273.1 227.4 273.9 229.6Z"/><path d="M271.3 241.5Q271.8 240.4 270.3 240.0L268.3 239.5Q266.8 239.2 266.7 239.2L266.6 239.2Q266.5 239.2 266.3 240.4L266.1 242.0Q265.9 243.2 267.2 243.4L268.9 243.8Q270.2 244.1 270.7 243.0Z"/><path d="M270.1 247.0Q270.3 247.6 269.4 248.1L268.3 248.8Q267.4 249.4 266.3 249.0L264.8 248.4Q263.7 248.0 263.6 247.6L263.5 247.1Q263.4 246.8 263.4 246.5L263.5 246.1Q263.5 245.8 264.1 245.5L264.9 245.0Q265.6 244.6 266.8 244.9L268.6 245.3Q269.9 245.6 270.0 246.2Z"/><path d="M266.8 251.3Q266.9 250.9 265.8 250.4L264.2 249.9Q263.1 249.4 262.8 250.0L262.4 250.8Q262.2 251.4 263.0 252.6L264.2 254.2Q265.1 255.4 265.1 255.4L265.2 255.4Q265.2 255.4 265.7 254.4L266.3 253.1Q266.8 252.1 266.8 251.8Z"/><path d="M263.3 254.8Q264.2 256.0 262.7 256.6L260.8 257.5Q259.3 258.2 259.1 258.1L258.7 258.0Q258.5 257.9 258.4 257.6L258.3 257.3Q258.2 257.0 258.2 256.1L258.1 254.9Q258.0 254.0 259.0 253.4L260.3 252.7Q261.3 252.1 262.2 253.3Z"/><path d="M263.7 263.2Q262.8 263.4 262.0 262.3L260.9 261.0Q260.0 259.9 261.5 259.3L263.5 258.4Q265.0 257.7 265.0 257.7L265.0 257.8Q265.1 257.8 265.7 258.3L266.6 259.0Q267.2 259.6 266.9 260.5L266.3 261.8Q266.0 262.8 265.0 263.0Z"/><path d="M261.2 265.6Q261.1 266.1 260.4 266.9L259.4 267.9Q258.7 268.7 258.0 268.2L257.1 267.5Q256.4 267.0 256.4 265.4L256.3 263.2Q256.3 261.6 256.6 261.3L257.1 260.9Q257.5 260.5 257.8 260.6L258.1 260.7Q258.4 260.8 259.3 261.9L260.5 263.5Q261.5 264.6 261.3 265.1Z"/><path d="M306.7 193.6Q306.0 194.2 304.6 192.9L302.7 191.2Q301.3 189.9 303.7 178.1L307.0 162.4Q309.5 150.7 309.6 151.7L309.7 153.0Q309.8 154.0 309.4 165.5L308.9 180.8Q308.5 192.2 307.8 192.8Z"/><path d="M305.2 195.5Q305.1 195.7 304.6 196.9L303.8 198.4Q303.3 199.5 303.3 199.5L303.3 199.5Q303.3 199.5 303.2 199.4L303.0 199.3Q302.9 199.3 302.1 196.9L301.0 193.8Q300.2 191.5 300.4 191.3L300.6 190.9Q300.8 190.6 302.1 191.9L304.0 193.5Q305.3 194.8 305.3 195.1Z"/><path d="M296.5 198.1Q296.5 198.0 297.0 196.3L297.7 194.1Q298.2 192.4 298.5 192.2L299.0 191.8Q299.3 191.6 300.2 194.1L301.3 197.4Q302.2 199.8 300.5 199.4L298.3 198.7Q296.6 198.3 296.5 198.2Z"/><path d="M301.3 202.7Q301.3 203.3 300.9 203.8L300.5 204.5Q300.2 205.1 299.6 205.2L298.8 205.4Q298.2 205.5 297.2 204.9L295.9 204.1Q294.9 203.6 294.8 203.2L294.6 202.6Q294.5 202.2 295.1 201.5L295.8 200.6Q296.3 199.9 297.8 200.3L299.8 200.9Q301.2 201.3 301.3 201.4L301.5 201.5Q301.5 201.5 301.5 202.0Z"/><path d="M293.6 210.1Q294.3 210.9 295.2 209.7L296.5 208.0Q297.5 206.8 296.5 206.2L295.1 205.5Q294.1 204.9 293.4 205.9L292.5 207.2Q291.8 208.2 292.6 209.0Z"/><path d="M288.8 223.6Q288.7 223.8 287.5 223.5L286.1 223.3Q285.0 223.1 284.4 222.2L283.8 221.1Q283.2 220.3 283.6 219.9L284.2 219.3Q284.6 218.8 286.0 219.6L287.8 220.7Q289.2 221.5 289.2 222.0L289.1 222.8Q289.1 223.3 289.0 223.5Z"/><path d="M287.9 226.4Q288.0 225.5 287.0 225.3L285.7 225.1Q284.7 224.9 284.0 225.5L283.1 226.3Q282.4 226.9 282.5 227.6L282.7 228.5Q282.8 229.2 284.3 229.0L286.3 228.6Q287.8 228.4 287.8 227.5Z"/><path d="M286.6 234.2Q285.8 234.5 284.4 234.3L282.6 234.0Q281.2 233.8 281.7 232.8L282.4 231.4Q282.9 230.3 284.4 230.1L286.6 229.7Q288.1 229.4 288.4 230.2L288.8 231.2Q289.1 231.9 288.9 232.3L288.6 232.9Q288.3 233.3 287.6 233.7Z"/><path d="M285.4 242.5Q285.4 242.5 285.6 242.1L285.9 241.7Q286.1 241.3 285.9 239.9L285.6 238.0Q285.4 236.6 284.1 236.4L282.4 236.2Q281.2 236.0 280.7 236.2L280.1 236.5Q279.6 236.7 281.3 238.5L283.5 240.8Q285.2 242.5 285.3 242.5Z"/><path d="M283.3 244.1Q284.4 243.4 282.7 241.6L280.3 239.2Q278.6 237.4 278.5 237.4L278.3 237.5Q278.2 237.5 278.1 237.6L277.9 237.8Q277.7 237.9 277.5 238.3L277.2 238.9Q277.0 239.4 278.1 241.3L279.5 243.9Q280.6 245.8 281.8 245.1Z"/><path d="M279.2 246.6Q279.2 246.6 277.9 247.2L276.2 248.0Q275.0 248.6 274.4 248.1L273.5 247.5Q272.9 247.1 272.8 246.5L272.6 245.7Q272.5 245.1 273.0 244.0L273.6 242.5Q274.1 241.4 274.6 241.0L275.2 240.6Q275.6 240.2 276.7 242.1L278.1 244.7Q279.2 246.6 279.2 246.6Z"/><path d="M273.0 250.1Q273.7 250.6 273.8 251.8L274.0 253.5Q274.1 254.7 273.9 255.0L273.6 255.4Q273.3 255.7 271.8 254.7L269.7 253.3Q268.2 252.2 268.2 251.8L268.2 251.3Q268.3 250.9 269.2 250.3L270.5 249.5Q271.4 248.9 272.1 249.4Z"/><path d="M267.6 253.8Q268.1 252.8 269.4 253.7L271.3 255.0Q272.6 255.9 272.4 256.3L272.2 256.8Q272.0 257.2 271.0 257.4L269.7 257.6Q268.7 257.7 268.1 257.2L267.2 256.5Q266.6 255.9 267.0 255.0Z"/><path d="M268.3 264.4Q267.6 263.5 268.0 262.5L268.6 261.2Q269.0 260.1 270.0 260.0L271.5 259.8Q272.5 259.7 272.9 260.5L273.5 261.5Q273.9 262.3 274.0 262.7L274.0 263.2Q274.0 263.6 273.7 264.2L273.2 265.0Q272.9 265.5 272.0 265.8L270.8 266.2Q269.8 266.5 269.2 265.6Z"/><path d="M262.8 266.1Q262.7 266.5 264.0 267.7L265.8 269.4Q267.2 270.6 267.6 269.7L268.1 268.4Q268.5 267.5 267.9 266.6L267.0 265.4Q266.3 264.5 265.3 264.7L264.0 264.9Q263.0 265.1 262.9 265.5Z"/><path d="M263.4 268.4Q262.2 267.3 261.5 268.0L260.7 268.9Q260.1 269.6 260.8 283.8L261.8 302.7Q262.5 316.8 263.7 303.1L265.2 284.8Q266.3 271.1 265.1 270.0Z"/><path d="M311.2 193.3Q310.3 192.3 310.6 181.3L311.1 166.6Q311.4 155.6 313.1 166.9L315.4 181.9Q317.0 193.2 316.4 193.8L315.6 194.7Q315.0 195.4 314.5 195.5L314.0 195.6Q313.5 195.6 312.5 194.6Z"/><path d="M306.7 195.8Q306.7 196.1 308.2 196.4L310.2 196.8Q311.7 197.2 311.9 197.0L312.1 196.8Q312.2 196.6 311.3 195.7L310.1 194.4Q309.2 193.5 308.5 194.0L307.6 194.7Q306.9 195.2 306.8 195.5Z"/><path d="M308.1 196.8Q306.6 196.5 306.1 197.5L305.4 198.9Q304.9 199.9 306.4 199.9L308.5 199.9Q310.0 199.9 310.5 199.2L311.1 198.3Q311.6 197.5 310.1 197.2Z"/><path d="M308.4 208.3Q308.4 207.6 307.0 206.7L305.1 205.4Q303.6 204.5 303.3 205.1L302.8 205.9Q302.4 206.5 302.9 207.8L303.5 209.5Q303.9 210.8 305.2 210.5L306.9 210.1Q308.2 209.8 308.3 209.2Z"/><path d="M297.3 223.8Q296.9 223.6 296.7 221.6L296.4 219.0Q296.1 217.0 297.4 217.2L299.2 217.4Q300.5 217.5 300.6 218.8L300.9 220.5Q301.0 221.7 300.8 222.1L300.5 222.6Q300.3 223.0 299.7 223.4L298.9 223.9Q298.3 224.3 297.9 224.1Z"/><path d="M292.6 223.6Q291.1 223.4 291.1 222.9L291.2 222.2Q291.2 221.6 291.5 220.5L291.9 219.0Q292.2 217.8 292.9 217.4L293.9 216.9Q294.6 216.5 294.8 216.5L295.0 216.6Q295.2 216.7 295.5 218.9L295.8 221.8Q296.1 224.0 294.6 223.8Z"/><path d="M290.4 225.3Q290.3 225.5 290.2 226.4L290.1 227.7Q290.0 228.6 290.3 229.4L290.7 230.5Q291.0 231.2 292.7 231.3L295.0 231.3Q296.7 231.3 296.9 231.1L297.1 230.7Q297.3 230.4 297.4 229.2L297.4 227.7Q297.5 226.5 297.0 226.2L296.4 225.9Q295.9 225.6 294.4 225.5L292.3 225.2Q290.8 225.0 290.6 225.2Z"/><path d="M291.2 235.7Q290.5 234.5 290.7 234.1L291.0 233.6Q291.2 233.2 292.8 233.2L294.8 233.2Q296.4 233.3 296.6 234.1L296.8 235.3Q297.0 236.2 296.5 237.0L295.7 238.0Q295.2 238.7 294.5 238.7L293.5 238.6Q292.7 238.5 292.1 237.3Z"/><path d="M288.4 244.6Q287.5 243.7 287.7 243.3L288.0 242.9Q288.2 242.5 289.2 242.1L290.5 241.5Q291.5 241.1 291.6 242.7L291.7 244.8Q291.7 246.4 291.4 246.5L290.8 246.7Q290.5 246.8 289.6 245.9Z"/><path d="M280.8 249.9Q280.1 248.6 278.9 249.2L277.2 250.0Q275.9 250.6 276.0 251.7L276.1 253.2Q276.2 254.3 277.8 254.5L280.0 254.6Q281.6 254.7 281.9 254.2L282.2 253.4Q282.5 252.9 281.8 251.6Z"/><path d="M277.7 256.4Q276.1 256.3 275.9 256.6L275.6 256.9Q275.4 257.2 275.2 257.6L275.0 258.2Q274.8 258.6 275.2 259.4L275.7 260.4Q276.1 261.1 278.0 260.7L280.5 260.1Q282.4 259.6 282.1 258.7L281.7 257.6Q281.5 256.7 279.8 256.6Z"/><path d="M283.0 260.9Q282.8 260.7 280.8 261.2L278.2 261.8Q276.3 262.3 276.3 262.7L276.3 263.2Q276.3 263.6 277.3 264.0L278.7 264.6Q279.7 265.0 280.5 264.5L281.6 263.7Q282.4 263.1 282.7 262.6L283.1 261.9Q283.4 261.3 283.2 261.1Z"/><path d="M268.1 436.1Q265.1 507.1 264.6 475.6L264.0 433.7Q263.5 402.3 264.0 377.4L264.7 344.2Q265.2 319.3 266.4 305.0L268.0 285.8Q269.2 271.4 269.6 270.5L270.1 269.3Q270.5 268.4 271.4 268.1L272.6 267.7Q273.5 267.4 274.0 268.3L274.7 269.5Q275.3 270.4 272.2 341.4Z"/><path d="M319.5 201.1Q319.9 201.2 320.5 201.1L321.4 201.0Q322.1 200.9 322.4 200.2L322.7 199.4Q323.0 198.8 322.5 197.9L321.9 196.7Q321.4 195.8 320.7 195.6L319.6 195.2Q318.9 195.0 318.3 195.6L317.5 196.5Q316.9 197.1 317.4 198.2L318.2 199.7Q318.8 200.8 319.1 200.9Z"/><path d="M313.5 198.3Q313.3 198.5 312.7 199.3L312.0 200.3Q311.5 201.1 311.9 202.1L312.6 203.3Q313.0 204.2 313.3 204.4L313.6 204.5Q313.9 204.6 315.0 203.7L316.4 202.5Q317.4 201.5 316.8 200.4L316.0 198.8Q315.4 197.6 314.9 197.7L314.3 197.8Q313.9 197.9 313.7 198.1Z"/><path d="M318.3 208.8Q318.8 208.6 318.9 206.8L319.1 204.5Q319.2 202.8 318.9 202.7L318.4 202.5Q318.1 202.3 317.0 203.2L315.6 204.5Q314.6 205.4 315.3 206.6L316.3 208.2Q317.1 209.4 317.6 209.2Z"/><path d="M314.8 209.1Q315.5 210.3 315.4 210.5L315.3 210.9Q315.1 211.1 314.2 211.5L313.0 212.1Q312.1 212.5 311.3 211.7L310.2 210.7Q309.4 209.9 309.5 209.3L309.6 208.4Q309.6 207.8 310.4 207.2L311.5 206.5Q312.3 206.0 312.5 206.1L312.9 206.2Q313.1 206.3 313.9 207.5Z"/><path d="M309.7 217.7Q309.8 217.9 309.2 219.1L308.4 220.7Q307.8 221.9 306.6 221.8L304.9 221.6Q303.6 221.5 303.4 220.1L303.2 218.3Q303.0 217.0 303.1 216.9L303.2 216.8Q303.3 216.7 305.2 216.9L307.7 217.2Q309.6 217.4 309.7 217.5Z"/><path d="M306.4 223.5Q307.6 223.6 308.0 224.1L308.4 224.7Q308.8 225.2 308.8 225.8L308.9 226.5Q308.9 227.0 308.7 227.3L308.4 227.8Q308.2 228.1 307.8 228.2L307.3 228.4Q306.9 228.4 305.7 227.3L304.0 225.7Q302.8 224.5 303.0 224.1L303.3 223.6Q303.6 223.2 304.8 223.3Z"/><path d="M299.8 227.8Q299.9 226.8 300.5 226.3L301.3 225.8Q301.9 225.3 303.2 226.5L304.8 228.1Q306.1 229.4 305.7 229.8L305.1 230.3Q304.7 230.7 303.2 230.6L301.2 230.5Q299.7 230.4 299.7 229.3Z"/><path d="M298.2 243.8Q298.7 245.4 299.1 245.3L299.6 245.3Q300.0 245.2 300.8 244.5L302.0 243.6Q302.9 242.9 302.9 241.7L302.8 240.1Q302.8 238.9 301.7 238.4L300.1 237.9Q299.0 237.5 298.4 238.3L297.6 239.3Q297.1 240.1 297.6 241.7Z"/><path d="M290.7 250.0Q291.0 249.2 291.5 249.1L292.0 248.9Q292.4 248.8 293.8 248.6L295.5 248.5Q296.9 248.4 296.8 249.8L296.7 251.7Q296.6 253.1 296.2 253.5L295.7 254.2Q295.3 254.7 294.0 254.1L292.2 253.4Q290.8 252.9 290.6 252.5L290.3 252.1Q290.0 251.7 290.3 251.0Z"/><path d="M291.8 254.4Q290.3 253.9 290.2 255.9L289.9 258.6Q289.8 260.6 289.8 260.6L289.9 260.7Q289.9 260.7 290.7 260.5L291.8 260.3Q292.5 260.1 293.3 259.1L294.3 257.8Q295.0 256.8 295.0 256.5L295.0 256.0Q295.0 255.7 293.6 255.1Z"/><path d="M286.0 253.7Q284.9 254.1 284.6 254.6L284.3 255.3Q284.0 255.9 284.3 256.8L284.7 257.9Q285.0 258.8 285.1 258.9L285.3 259.2Q285.5 259.4 286.5 259.6L287.8 259.8Q288.7 260.0 288.9 258.2L289.1 255.8Q289.2 254.0 289.0 253.7L288.7 253.3Q288.5 252.9 287.4 253.3Z"/><path d="M287.1 269.6Q286.5 272.2 286.0 271.5L285.3 270.6Q284.7 269.9 284.5 268.1L284.1 265.7Q283.9 263.8 284.2 263.3L284.5 262.6Q284.8 262.0 285.9 262.3L287.3 262.5Q288.3 262.8 288.4 262.8L288.4 262.8Q288.5 262.9 288.5 263.1L288.5 263.3Q288.5 263.5 287.9 266.1Z"/><path d="M283.0 269.4Q284.0 270.0 283.7 268.2L283.4 265.8Q283.1 264.0 282.3 264.5L281.1 265.3Q280.3 265.9 280.4 266.5L280.6 267.3Q280.7 267.9 281.7 268.5Z"/><path d="M287.6 282.2Q288.6 285.9 289.6 302.8L290.9 325.2Q291.8 342.1 288.8 557.7L284.7 845.3Q281.6 1060.9 277.7 1056.9L272.4 1051.4Q268.4 1047.4 267.6 892.1L266.5 684.9Q265.7 529.6 269.0 451.9L273.5 348.2Q276.8 270.5 277.8 270.0L279.1 269.3Q280.1 268.8 281.1 269.5L282.5 270.4Q283.5 271.1 284.1 271.8L284.8 272.7Q285.3 273.4 286.3 277.2Z"/><path d="M333.3 190.3Q334.9 192.1 336.9 189.5L339.6 186.1Q341.6 183.6 385.0 18.1L442.9 -202.6Q486.3 -368.1 442.2 -412.2L383.4 -470.9Q339.4 -515.0 334.9 -384.9L328.8 -211.4Q324.3 -81.3 323.8 -53.1L323.0 -15.6Q322.5 12.5 324.6 64.7L327.4 134.1Q329.6 186.3 331.2 188.0Z"/><path d="M332.3 194.7Q331.7 194.9 330.9 193.7L329.8 192.2Q329.0 191.1 329.1 189.7L329.2 187.8Q329.2 186.4 330.9 188.2L333.1 190.5Q334.7 192.3 334.4 192.9L334.0 193.8Q333.7 194.4 333.1 194.5Z"/><path d="M323.6 195.9Q323.1 195.0 324.4 194.3L326.0 193.3Q327.3 192.5 328.0 193.6L329.0 195.0Q329.8 196.0 329.6 196.4L329.3 197.0Q329.1 197.4 327.8 197.5L326.0 197.7Q324.6 197.9 324.2 197.0Z"/><path d="M325.7 204.3Q326.5 205.4 327.5 203.7L328.7 201.5Q329.7 199.9 329.6 199.6L329.6 199.2Q329.5 198.9 328.1 199.1L326.1 199.3Q324.6 199.5 324.4 200.1L324.0 201.0Q323.7 201.6 324.6 202.7Z"/><path d="M318.9 220.4Q318.7 220.8 318.6 220.9L318.5 221.1Q318.4 221.2 317.6 221.0L316.5 220.8Q315.6 220.6 314.6 219.6L313.1 218.4Q312.1 217.4 312.1 217.3L312.0 217.1Q312.0 216.9 312.3 216.3L312.8 215.5Q313.2 214.8 314.0 214.5L315.2 214.0Q316.1 213.6 317.1 215.2L318.4 217.4Q319.4 219.1 319.4 219.2L319.4 219.4Q319.3 219.5 319.2 219.9Z"/><path d="M313.7 220.7Q315.0 221.8 313.5 222.6L311.6 223.6Q310.2 224.4 309.8 223.9L309.3 223.1Q308.9 222.5 309.5 221.2L310.3 219.5Q310.9 218.2 312.1 219.3Z"/><path d="M318.3 223.5Q318.4 223.2 317.5 223.0L316.2 222.7Q315.3 222.5 313.9 223.3L312.1 224.3Q310.7 225.1 310.7 225.7L310.7 226.5Q310.7 227.1 312.3 227.1L314.3 227.2Q315.9 227.3 316.6 226.4L317.5 225.1Q318.2 224.2 318.3 223.9Z"/><path d="M314.2 228.3Q315.7 228.4 315.7 229.5L315.7 231.1Q315.7 232.2 314.7 232.3L313.3 232.5Q312.3 232.6 311.7 231.7L310.8 230.4Q310.2 229.4 310.4 229.1L310.7 228.6Q310.9 228.2 312.3 228.3Z"/><path d="M306.3 234.8Q306.4 235.9 307.3 236.0L308.5 236.2Q309.4 236.3 309.8 235.5L310.3 234.4Q310.8 233.6 310.1 232.7L309.3 231.5Q308.7 230.5 308.3 230.6L307.8 230.7Q307.5 230.8 307.1 231.2L306.6 231.8Q306.2 232.1 306.2 233.3Z"/><path d="M309.7 246.7Q309.9 247.2 309.4 248.3L308.7 249.8Q308.1 250.8 307.7 251.1L307.1 251.4Q306.7 251.7 305.0 250.3L302.7 248.4Q301.1 247.0 302.0 246.2L303.3 245.2Q304.2 244.5 305.7 244.8L307.7 245.2Q309.2 245.4 309.4 246.0Z"/><path d="M299.0 248.7Q299.0 248.8 298.9 250.1L298.8 251.8Q298.7 253.1 300.3 253.8L302.5 254.7Q304.1 255.3 304.1 255.3L304.2 255.3Q304.2 255.3 304.6 254.5L305.0 253.5Q305.3 252.7 303.8 251.5L301.8 249.8Q300.3 248.5 300.0 248.5L299.5 248.6Q299.1 248.6 299.1 248.7Z"/><path d="M297.1 255.3Q296.8 255.8 296.8 256.1L296.7 256.5Q296.7 256.8 297.7 257.5L299.1 258.4Q300.1 259.1 301.2 258.3L302.8 257.3Q303.9 256.6 302.2 255.9L299.8 254.9Q298.0 254.2 297.6 254.7Z"/><path d="M297.1 262.9Q298.4 263.8 298.5 263.7L298.7 263.7Q298.8 263.6 299.0 262.5L299.2 261.1Q299.4 260.0 298.4 259.4L297.2 258.5Q296.2 257.9 295.6 258.8L294.7 260.0Q294.0 260.9 295.3 261.7Z"/><path d="M290.2 280.0Q291.1 283.3 292.1 279.0L293.5 273.3Q294.5 269.0 293.2 267.6L291.4 265.6Q290.1 264.1 289.5 266.5L288.8 269.8Q288.2 272.2 289.1 275.5Z"/><path d="M334.2 202.3Q335.3 203.5 336.0 201.9L336.9 199.8Q337.5 198.3 336.5 197.8L335.2 197.1Q334.2 196.6 333.6 196.7L332.8 196.9Q332.3 197.1 332.0 197.5L331.8 198.1Q331.5 198.6 331.6 198.8L331.6 199.2Q331.7 199.5 332.8 200.7Z"/><path d="M327.7 206.9Q327.8 207.3 328.0 207.3L328.2 207.3Q328.3 207.3 329.9 206.8L332.0 206.0Q333.6 205.5 333.8 205.2L334.1 204.9Q334.3 204.7 334.3 204.6L334.3 204.5Q334.3 204.3 333.2 203.2L331.8 201.7Q330.7 200.5 329.8 202.1L328.5 204.3Q327.6 206.0 327.6 206.4Z"/><path d="M331.6 210.9Q332.8 211.8 333.3 211.3L334.0 210.6Q334.5 210.1 334.4 209.2L334.3 208.0Q334.2 207.0 332.6 207.6L330.4 208.3Q328.8 208.9 330.0 209.7Z"/><path d="M327.6 220.9Q329.7 221.3 329.7 221.3L329.7 221.2Q329.7 221.2 329.4 220.1L329.0 218.6Q328.7 217.5 328.0 217.2L327.2 216.8Q326.6 216.4 325.5 217.4L324.0 218.7Q322.9 219.6 322.9 219.8L322.9 220.0Q322.9 220.1 324.9 220.5Z"/><path d="M328.3 225.0Q328.0 225.4 326.2 224.5L323.8 223.3Q322.1 222.4 322.3 222.0L322.5 221.5Q322.7 221.1 324.7 221.5L327.4 222.0Q329.5 222.3 329.3 222.8L329.1 223.5Q329.0 224.0 328.7 224.4Z"/><path d="M327.3 228.1Q327.2 228.8 326.3 229.1L325.0 229.5Q324.0 229.8 323.1 228.3L321.9 226.3Q321.0 224.9 321.1 224.6L321.1 224.2Q321.2 223.9 321.3 223.8L321.4 223.7Q321.5 223.6 323.3 224.5L325.6 225.7Q327.3 226.6 327.3 227.2Z"/><path d="M321.6 229.2Q322.6 230.7 322.3 231.1L322.0 231.7Q321.8 232.1 321.0 232.5L319.8 233.1Q319.0 233.5 318.5 233.1L317.8 232.6Q317.4 232.2 317.3 231.0L317.3 229.5Q317.3 228.4 318.0 227.5L318.8 226.4Q319.5 225.6 320.4 227.1Z"/><path d="M317.6 238.0Q317.5 239.2 316.0 239.4L313.9 239.7Q312.4 239.9 312.0 239.1L311.4 238.1Q310.9 237.3 311.4 236.4L312.0 235.2Q312.4 234.3 313.5 234.1L314.9 234.0Q316.0 233.8 316.5 234.2L317.2 234.8Q317.7 235.2 317.7 236.4Z"/><path d="M316.4 244.7Q318.1 243.9 318.2 243.2L318.2 242.3Q318.2 241.6 318.0 241.5L317.8 241.2Q317.6 241.0 316.2 241.2L314.2 241.5Q312.8 241.7 312.4 242.6L311.9 243.8Q311.5 244.7 311.7 245.2L311.9 245.9Q312.1 246.4 312.2 246.4L312.3 246.4Q312.4 246.4 314.1 245.7Z"/><path d="M318.6 244.9Q318.4 244.4 316.7 245.2L314.3 246.2Q312.5 247.0 313.3 247.3L314.2 247.8Q314.9 248.1 315.8 248.1L317.0 248.1Q317.8 248.1 318.1 247.5L318.5 246.6Q318.9 245.9 318.7 245.5Z"/><path d="M313.8 256.8Q314.2 255.8 312.7 254.8L310.7 253.6Q309.2 252.7 308.8 252.9L308.2 253.3Q307.7 253.5 307.3 254.4L306.8 255.6Q306.5 256.5 307.3 257.8L308.3 259.5Q309.1 260.8 309.7 260.9L310.5 261.0Q311.1 261.1 311.6 260.5L312.4 259.8Q313.0 259.2 313.3 258.2Z"/><path d="M305.4 263.2Q306.8 262.5 307.0 262.3L307.3 262.0Q307.5 261.8 306.7 260.5L305.6 258.7Q304.9 257.4 304.8 257.4L304.7 257.4Q304.7 257.5 303.5 258.2L301.9 259.3Q300.7 260.1 300.5 261.3L300.3 262.9Q300.1 264.2 300.7 264.3L301.5 264.6Q302.2 264.8 303.6 264.1Z"/><path d="M306.6 272.6Q306.9 271.9 307.0 269.6L307.2 266.5Q307.3 264.2 306.0 264.8L304.4 265.6Q303.2 266.2 303.9 268.6L305.0 271.8Q305.8 274.2 306.1 273.5Z"/><path d="M294.6 279.7Q293.6 284.0 294.4 299.0L295.6 319.1Q296.4 334.1 298.7 316.3L301.8 292.6Q304.1 274.8 303.3 272.4L302.3 269.2Q301.5 266.8 300.9 266.6L300.2 266.4Q299.6 266.2 299.5 266.2L299.3 266.3Q299.2 266.3 298.5 267.3L297.6 268.6Q296.9 269.6 295.9 273.9Z"/><path d="M337.4 204.7Q336.2 204.4 336.1 204.3L336.1 204.1Q336.1 204.0 336.8 202.3L337.7 200.1Q338.4 198.5 338.6 198.5L338.8 198.5Q338.9 198.4 340.3 199.5L342.2 201.0Q343.5 202.1 343.5 202.3L343.4 202.7Q343.4 202.9 342.5 203.7L341.3 204.7Q340.3 205.5 339.1 205.1Z"/><path d="M335.4 206.9Q335.2 207.1 335.3 207.9L335.4 209.1Q335.6 210.0 336.4 210.6L337.5 211.4Q338.3 212.0 338.7 211.1L339.3 210.0Q339.7 209.1 339.7 208.6L339.6 207.8Q339.6 207.3 338.5 207.0L337.0 206.6Q335.9 206.3 335.7 206.6Z"/><path d="M330.6 218.2Q330.3 217.1 331.2 216.7L332.3 216.2Q333.2 215.9 333.9 216.2L334.8 216.5Q335.5 216.8 335.5 217.8L335.5 219.1Q335.6 220.1 334.3 220.3L332.6 220.5Q331.3 220.7 331.0 219.6Z"/><path d="M334.3 226.4Q335.7 227.2 335.9 226.9L336.3 226.3Q336.6 225.9 336.7 225.0L336.8 223.8Q336.9 222.9 336.6 222.7L336.3 222.3Q336.0 222.0 334.7 222.2L332.9 222.5Q331.5 222.7 331.5 222.7L331.5 222.8Q331.5 222.8 331.3 223.3L331.1 224.0Q331.0 224.6 332.4 225.4Z"/><path d="M335.3 228.5Q335.5 227.9 334.0 227.0L332.0 225.9Q330.5 225.0 330.2 225.5L329.7 226.1Q329.4 226.6 329.4 227.4L329.3 228.3Q329.3 229.1 329.9 229.6L330.7 230.2Q331.3 230.8 332.4 230.5L333.8 230.1Q334.8 229.9 335.0 229.3Z"/><path d="M329.3 231.9Q329.9 232.3 329.7 233.7L329.4 235.4Q329.2 236.7 329.1 236.9L328.9 237.0Q328.7 237.2 328.4 237.4L328.0 237.6Q327.7 237.8 326.5 236.4L324.9 234.6Q323.7 233.2 323.9 232.8L324.2 232.2Q324.5 231.8 325.5 231.5L326.9 231.0Q328.0 230.7 328.6 231.2Z"/><path d="M326.4 239.0Q326.7 238.6 325.5 237.2L323.9 235.4Q322.7 234.0 321.9 234.4L320.7 235.0Q319.8 235.4 319.8 236.5L319.7 238.0Q319.6 239.2 319.8 239.4L320.0 239.6Q320.2 239.8 321.9 239.8L324.1 239.9Q325.8 239.9 326.1 239.5Z"/><path d="M325.9 242.9Q325.7 241.8 324.1 241.8L321.9 241.8Q320.3 241.8 320.3 242.4L320.2 243.3Q320.2 244.0 320.3 244.4L320.5 245.0Q320.6 245.4 322.0 245.9L323.9 246.5Q325.4 247.0 325.7 246.5L326.1 245.9Q326.4 245.5 326.2 244.4Z"/><path d="M317.5 256.0Q316.4 256.2 316.3 256.3L316.0 256.5Q315.8 256.6 315.5 257.5L315.1 258.7Q314.7 259.6 316.0 259.9L317.7 260.3Q319.0 260.5 319.6 259.2L320.4 257.3Q321.0 256.0 320.7 255.9L320.2 255.7Q319.9 255.6 318.8 255.8Z"/><path d="M315.7 260.9Q314.4 260.6 313.8 261.1L313.1 261.8Q312.6 262.4 313.2 263.3L314.1 264.6Q314.7 265.6 315.0 265.7L315.3 265.9Q315.6 266.0 316.7 265.0L318.2 263.7Q319.3 262.7 319.1 262.4L319.0 261.9Q318.9 261.6 317.5 261.3Z"/><path d="M307.9 269.8Q307.8 272.4 309.3 270.7L311.4 268.5Q313.0 266.8 312.3 265.8L311.4 264.5Q310.7 263.5 310.1 263.4L309.4 263.3Q308.8 263.2 308.6 263.4L308.3 263.6Q308.1 263.8 308.0 266.4Z"/><path d="M308.6 273.6Q309.0 272.9 310.4 271.4L312.3 269.4Q313.7 267.9 313.9 268.0L314.3 268.2Q314.5 268.3 316.1 270.1L318.1 272.6Q319.6 274.5 322.8 288.4L327.1 307.0Q330.3 320.9 354.2 485.4L386.0 704.8Q409.9 869.3 376.8 903.1L332.8 948.3Q299.7 982.1 297.1 979.4L293.7 975.7Q291.1 973.0 293.8 781.3L297.4 525.9Q300.2 334.3 302.5 316.5L305.5 292.9Q307.8 275.2 308.2 274.5Z"/><path d="M346.5 201.8Q345.8 202.5 345.8 202.7L345.7 203.1Q345.7 203.3 348.0 205.7L351.2 208.9Q353.6 211.3 476.2 218.4L639.7 227.9Q762.3 235.0 868.7 238.6L1010.5 243.4Q1116.9 247.0 1124.4 240.2L1134.2 231.1Q1141.7 224.3 1114.7 198.1L1078.7 163.2Q1051.7 137.1 840.6 156.0L559.2 181.2Q348.1 200.1 347.4 200.8Z"/><path d="M341.7 207.5Q341.6 206.9 342.5 206.2L343.7 205.2Q344.6 204.5 346.9 206.8L350.0 210.0Q352.4 212.3 351.4 212.6L350.2 213.0Q349.2 213.3 347.0 212.0L344.0 210.2Q341.8 208.9 341.8 208.3Z"/><path d="M338.1 219.0Q338.1 220.0 338.4 220.3L338.7 220.6Q339.0 220.9 340.2 220.8L342.0 220.6Q343.3 220.4 343.8 219.4L344.5 218.1Q345.1 217.1 343.4 216.5L341.2 215.8Q339.5 215.2 339.1 215.6L338.4 216.3Q338.0 216.7 338.0 217.7Z"/><path d="M338.9 225.3Q338.8 226.2 339.7 226.6L340.9 227.1Q341.8 227.5 342.9 227.1L344.3 226.6Q345.4 226.2 344.8 225.1L344.1 223.7Q343.6 222.7 342.3 222.8L340.5 223.0Q339.1 223.2 339.0 224.1Z"/><path d="M337.4 229.1Q337.5 228.6 337.8 228.2L338.2 227.7Q338.4 227.3 339.3 227.7L340.4 228.2Q341.3 228.6 341.3 229.4L341.3 230.5Q341.3 231.3 340.7 231.7L339.9 232.3Q339.2 232.8 338.6 232.0L337.7 231.1Q337.0 230.4 337.1 229.8Z"/><path d="M334.2 231.9Q335.3 231.6 336.1 232.4L337.1 233.5Q337.9 234.3 338.0 234.8L338.0 235.5Q338.1 235.9 337.7 236.5L337.1 237.3Q336.6 237.9 334.9 237.6L332.6 237.4Q330.9 237.2 331.2 235.8L331.5 233.9Q331.7 232.5 332.8 232.2Z"/><path d="M332.0 240.7Q330.6 239.1 330.7 239.0L330.9 238.8Q331.1 238.6 332.6 238.8L334.7 239.1Q336.2 239.3 336.3 240.4L336.4 242.0Q336.5 243.2 336.5 243.3L336.4 243.5Q336.4 243.7 336.0 243.9L335.6 244.2Q335.3 244.4 333.9 242.8Z"/><path d="M329.1 239.7Q328.7 239.9 328.5 240.3L328.1 240.8Q327.8 241.3 328.0 242.4L328.3 244.0Q328.5 245.2 330.3 245.4L332.7 245.7Q334.4 245.9 334.6 245.7L334.9 245.3Q335.1 245.1 333.5 243.4L331.4 241.0Q329.9 239.2 329.5 239.4Z"/><path d="M328.3 253.3Q326.8 253.1 326.6 253.4L326.3 253.7Q326.0 254.0 327.4 255.4L329.2 257.2Q330.5 258.6 331.0 258.2L331.5 257.5Q331.9 257.1 331.9 256.1L331.8 254.9Q331.8 253.9 330.3 253.7Z"/><path d="M330.1 259.3Q330.1 259.1 328.7 257.7L326.9 255.8Q325.5 254.4 324.9 254.7L324.2 255.2Q323.7 255.5 324.5 257.2L325.7 259.5Q326.5 261.2 327.5 260.7L328.9 260.1Q330.0 259.6 330.0 259.5Z"/><path d="M348.2 217.9Q347.5 218.4 346.9 219.4L346.1 220.7Q345.6 221.7 346.1 222.8L346.8 224.1Q347.3 225.2 348.8 226.4L350.8 227.9Q352.3 229.1 353.9 229.8L355.9 230.8Q357.4 231.6 468.2 233.3L615.8 235.7Q726.5 237.5 614.5 231.0L465.1 222.3Q353.0 215.8 352.1 216.1L350.9 216.4Q350.1 216.7 349.3 217.2Z"/><path d="M342.3 236.3Q340.3 235.6 340.2 235.1L340.1 234.6Q340.1 234.1 340.7 233.6L341.6 233.0Q342.2 232.5 344.8 232.5L348.2 232.4Q350.8 232.4 352.3 233.1L354.4 234.1Q355.9 234.9 353.4 235.8L350.1 237.1Q347.6 238.1 347.5 238.1L347.2 238.1Q347.0 238.1 345.0 237.3Z"/><path d="M338.1 240.2Q338.0 238.9 338.4 238.4L339.0 237.6Q339.5 237.0 341.7 237.8L344.7 238.9Q346.9 239.7 344.4 240.8L340.9 242.2Q338.4 243.3 338.2 242.0Z"/><path d="M333.7 253.4Q333.0 253.8 333.1 254.8L333.1 256.1Q333.2 257.0 334.4 257.4L336.0 257.9Q337.2 258.3 337.9 257.3L338.8 256.1Q339.4 255.1 338.2 254.3L336.5 253.2Q335.2 252.4 334.5 252.8Z"/><path d="M331.4 259.6Q331.4 259.5 331.9 259.0L332.4 258.4Q332.9 257.9 334.1 258.3L335.7 258.8Q336.9 259.1 336.9 260.2L336.8 261.7Q336.8 262.8 336.2 263.3L335.5 264.0Q334.9 264.5 333.8 263.2L332.4 261.3Q331.3 260.0 331.3 259.8Z"/><path d="M331.3 262.2Q330.4 261.0 329.5 261.4L328.2 261.9Q327.3 262.3 327.1 262.9L326.9 263.6Q326.7 264.1 328.7 264.6L331.3 265.3Q333.3 265.7 333.4 265.5L333.5 265.2Q333.6 265.0 332.6 263.8Z"/><path d="M331.0 266.6Q333.0 267.0 333.5 282.7L334.3 303.6Q334.8 319.3 331.6 305.5L327.4 287.2Q324.2 273.4 324.7 271.2L325.3 268.2Q325.8 266.0 326.0 265.8L326.2 265.6Q326.4 265.4 328.4 265.9Z"/><path d="M346.8 245.2Q345.8 246.9 347.6 248.4L349.9 250.4Q351.6 251.9 355.6 252.6L361.0 253.6Q365.0 254.3 581.4 265.0L870.0 279.3Q1086.4 290.0 1096.9 279.8L1110.9 266.4Q1121.4 256.2 1014.3 252.6L871.6 247.8Q764.5 244.2 642.6 242.2L480.1 239.6Q358.2 237.7 355.5 238.7L351.8 240.2Q349.1 241.2 348.1 242.9Z"/><path d="M343.7 255.0Q343.9 254.8 345.9 254.6L348.7 254.4Q350.7 254.2 354.3 254.8L359.0 255.7Q362.5 256.3 357.4 257.2L350.7 258.3Q345.7 259.1 345.0 258.0L344.1 256.5Q343.4 255.3 343.5 255.2Z"/><path d="M338.7 261.6Q338.6 262.6 339.6 262.6L340.9 262.7Q341.9 262.8 342.4 262.4L343.1 261.9Q343.6 261.4 343.7 261.1L343.8 260.5Q344.0 260.2 343.3 259.0L342.3 257.5Q341.7 256.3 341.4 256.4L341.1 256.4Q340.8 256.5 340.2 257.3L339.4 258.5Q338.8 259.3 338.7 260.3Z"/><path d="M336.9 265.5Q336.4 266.0 336.3 266.3L336.1 266.6Q336.0 266.9 336.6 284.5L337.5 307.9Q338.1 325.5 364.6 508.1L399.9 751.5Q426.4 934.1 466.6 894.3L520.1 841.3Q560.2 801.6 494.7 640.5L407.4 425.7Q341.9 264.6 340.8 264.5L339.3 264.4Q338.2 264.3 337.6 264.8Z"/><path d="M818.5 280.4Q1013.6 290.0 923.0 378.7L802.2 496.9Q711.6 585.6 601.7 488.5L455.3 359.1Q345.5 262.1 345.6 261.7L345.8 261.2Q345.9 260.8 351.1 259.9L358.0 258.8Q363.2 257.9 558.3 267.5Z"/></g>
<ellipse cx="340.8" cy="262.6" rx="0.47" ry="0.38" fill="#4e3f92" opacity="0.75"/>
<ellipse cx="328.5" cy="247.0" rx="0.65" ry="0.43" fill="#4e3f92" opacity="0.75"/>
<ellipse cx="305.1" cy="237.5" rx="0.62" ry="0.40" fill="#4e3f92" opacity="0.75"/>
<ellipse cx="287.2" cy="221.9" rx="0.67" ry="0.60" fill="#4e3f92" opacity="0.75"/>
<ellipse cx="340.1" cy="232.9" rx="0.58" ry="0.42" fill="#4e3f92" opacity="0.75"/>
<ellipse cx="247.0" cy="195.0" rx="0.59" ry="0.44" fill="#4e3f92" opacity="0.75"/>
<ellipse cx="282.1" cy="258.5" rx="0.61" ry="0.49" fill="#4e3f92" opacity="0.75"/>
<ellipse cx="267.4" cy="194.8" rx="0.55" ry="0.39" fill="#4e3f92" opacity="0.75"/>
<ellipse cx="295.3" cy="266.3" rx="0.65" ry="0.40" fill="#4e3f92" opacity="0.75"/>
<ellipse cx="334.4" cy="251.5" rx="0.67" ry="0.58" fill="#4e3f92" opacity="0.75"/>
<ellipse cx="321.1" cy="251.0" rx="0.56" ry="0.60" fill="#4e3f92" opacity="0.75"/>
<ellipse cx="341.4" cy="204.8" rx="0.68" ry="0.53" fill="#4e3f92" opacity="0.75"/>
<ellipse cx="290.4" cy="231.9" rx="0.60" ry="0.58" fill="#4e3f92" opacity="0.75"/>
<ellipse cx="294.4" cy="254.0" rx="0.56" ry="0.57" fill="#4e3f92" opacity="0.75"/>
<ellipse cx="335.1" cy="226.8" rx="0.62" ry="0.58" fill="#4e3f92" opacity="0.75"/>
<ellipse cx="317.1" cy="228.7" rx="0.52" ry="0.44" fill="#4e3f92" opacity="0.75"/>
<ellipse cx="314.7" cy="205.2" rx="0.72" ry="0.42" fill="#4e3f92" opacity="0.75"/>
<ellipse cx="336.3" cy="215.7" rx="0.74" ry="0.53" fill="#4e3f92" opacity="0.75"/>
<ellipse cx="294.7" cy="231.0" rx="0.65" ry="0.50" fill="#4e3f92" opacity="0.75"/>
<ellipse cx="275.1" cy="208.3" rx="0.60" ry="0.58" fill="#4e3f92" opacity="0.75"/>
<ellipse cx="306.9" cy="198.5" rx="0.70" ry="0.53" fill="#4e3f92" opacity="0.75"/>
<ellipse cx="335.9" cy="207.0" rx="0.67" ry="0.37" fill="#4e3f92" opacity="0.75"/>
<ellipse cx="309.9" cy="213.0" rx="0.52" ry="0.57" fill="#4e3f92" opacity="0.75"/>
<ellipse cx="254.1" cy="231.3" rx="0.71" ry="0.42" fill="#4e3f92" opacity="0.75"/>
<ellipse cx="264.8" cy="257.6" rx="0.58" ry="0.53" fill="#4e3f92" opacity="0.75"/>
<ellipse cx="246.6" cy="219.6" rx="0.50" ry="0.52" fill="#4e3f92" opacity="0.75"/>
<ellipse cx="251.8" cy="263.1" rx="0.46" ry="0.54" fill="#4e3f92" opacity="0.75"/>
<ellipse cx="245.5" cy="211.8" rx="0.69" ry="0.40" fill="#4e3f92" opacity="0.75"/>
<ellipse cx="262.0" cy="243.8" rx="0.57" ry="0.37" fill="#4e3f92" opacity="0.75"/>
<ellipse cx="344.3" cy="204.1" rx="0.46" ry="0.44" fill="#4e3f92" opacity="0.75"/>
<ellipse cx="306.1" cy="247.5" rx="0.48" ry="0.44" fill="#4e3f92" opacity="0.75"/>
<ellipse cx="246.4" cy="225.9" rx="0.68" ry="0.54" fill="#4e3f92" opacity="0.75"/>
<ellipse cx="335.3" cy="248.5" rx="0.71" ry="0.53" fill="#4e3f92" opacity="0.75"/>
<ellipse cx="291.5" cy="209.6" rx="0.65" ry="0.44" fill="#4e3f92" opacity="0.75"/>
<ellipse cx="253.7" cy="225.9" rx="0.71" ry="0.39" fill="#4e3f92" opacity="0.75"/>
<ellipse cx="303.0" cy="221.8" rx="0.60" ry="0.39" fill="#4e3f92" opacity="0.75"/>
<ellipse cx="341.2" cy="212.0" rx="0.63" ry="0.46" fill="#4e3f92" opacity="0.75"/>
<ellipse cx="245.1" cy="234.0" rx="0.49" ry="0.37" fill="#4e3f92" opacity="0.75"/>
<ellipse cx="246.7" cy="204.8" rx="0.48" ry="0.51" fill="#4e3f92" opacity="0.75"/>
<ellipse cx="295.1" cy="265.2" rx="0.73" ry="0.60" fill="#4e3f92" opacity="0.75"/>
<ellipse cx="267.0" cy="225.6" rx="0.53" ry="0.50" fill="#4e3f92" opacity="0.75"/>
<ellipse cx="307.0" cy="251.7" rx="0.66" ry="0.42" fill="#4e3f92" opacity="0.75"/>
<ellipse cx="286.4" cy="231.6" rx="0.45" ry="0.37" fill="#4e3f92" opacity="0.75"/>
<ellipse cx="285.0" cy="201.2" rx="0.67" ry="0.42" fill="#4e3f92" opacity="0.75"/>
<ellipse cx="253.5" cy="206.3" rx="0.52" ry="0.41" fill="#4e3f92" opacity="0.75"/>
<ellipse cx="296.4" cy="227.1" rx="0.54" ry="0.51" fill="#4e3f92" opacity="0.75"/>
<ellipse cx="265.0" cy="259.5" rx="0.74" ry="0.53" fill="#4e3f92" opacity="0.75"/>
<ellipse cx="287.5" cy="230.5" rx="0.62" ry="0.37" fill="#4e3f92" opacity="0.75"/>
<ellipse cx="285.9" cy="231.5" rx="0.50" ry="0.38" fill="#4e3f92" opacity="0.75"/>
<ellipse cx="325.2" cy="219.9" rx="0.61" ry="0.58" fill="#4e3f92" opacity="0.75"/>
<ellipse cx="305.6" cy="214.3" rx="0.75" ry="0.45" fill="#4e3f92" opacity="0.75"/>
<ellipse cx="245.2" cy="243.3" rx="0.48" ry="0.43" fill="#4e3f92" opacity="0.75"/>
<ellipse cx="329.0" cy="242.4" rx="0.45" ry="0.47" fill="#4e3f92" opacity="0.75"/>
<ellipse cx="285.2" cy="228.7" rx="0.51" ry="0.50" fill="#4e3f92" opacity="0.75"/>
<ellipse cx="250.8" cy="213.9" rx="0.56" ry="0.58" fill="#4e3f92" opacity="0.75"/>
<ellipse cx="251.1" cy="248.4" rx="0.51" ry="0.50" fill="#4e3f92" opacity="0.75"/>
<ellipse cx="283.3" cy="227.0" rx="0.68" ry="0.45" fill="#4e3f92" opacity="0.75"/>
<ellipse cx="255.7" cy="201.9" rx="0.47" ry="0.56" fill="#4e3f92" opacity="0.75"/>
<ellipse cx="308.7" cy="263.4" rx="0.66" ry="0.37" fill="#4e3f92" opacity="0.75"/>
<ellipse cx="310.5" cy="250.0" rx="0.67" ry="0.48" fill="#4e3f92" opacity="0.75"/>
<ellipse cx="279.8" cy="226.5" rx="0.69" ry="0.42" fill="#4e3f92" opacity="0.75"/>
<ellipse cx="297.0" cy="228.1" rx="0.74" ry="0.55" fill="#4e3f92" opacity="0.75"/>
<ellipse cx="338.4" cy="254.4" rx="0.54" ry="0.42" fill="#4e3f92" opacity="0.75"/>
<ellipse cx="293.2" cy="212.0" rx="0.58" ry="0.52" fill="#4e3f92" opacity="0.75"/>
<ellipse cx="337.0" cy="236.0" rx="0.70" ry="0.38" fill="#4e3f92" opacity="0.75"/>
<ellipse cx="279.6" cy="266.2" rx="0.49" ry="0.46" fill="#4e3f92" opacity="0.75"/>
<ellipse cx="250.1" cy="199.3" rx="0.72" ry="0.60" fill="#4e3f92" opacity="0.75"/>
<ellipse cx="309.4" cy="202.4" rx="0.54" ry="0.42" fill="#4e3f92" opacity="0.75"/>
<ellipse cx="311.7" cy="243.0" rx="0.58" ry="0.49" fill="#4e3f92" opacity="0.75"/>
<ellipse cx="254.7" cy="232.7" rx="0.73" ry="0.54" fill="#4e3f92" opacity="0.75"/>
<ellipse cx="253.1" cy="230.9" rx="0.66" ry="0.42" fill="#4e3f92" opacity="0.75"/>
<ellipse cx="334.6" cy="226.8" rx="0.66" ry="0.46" fill="#4e3f92" opacity="0.75"/>
<ellipse cx="344.8" cy="250.5" rx="0.62" ry="0.39" fill="#4e3f92" opacity="0.75"/>
<ellipse cx="288.3" cy="195.2" rx="0.63" ry="0.57" fill="#4e3f92" opacity="0.75"/>
<ellipse cx="261.7" cy="230.4" rx="0.59" ry="0.46" fill="#4e3f92" opacity="0.75"/>
<ellipse cx="315.8" cy="261.8" rx="0.66" ry="0.47" fill="#4e3f92" opacity="0.75"/>
<ellipse cx="341.4" cy="217.3" rx="0.67" ry="0.52" fill="#4e3f92" opacity="0.75"/>
<ellipse cx="321.0" cy="255.5" rx="0.52" ry="0.51" fill="#4e3f92" opacity="0.75"/>
<ellipse cx="284.4" cy="242.0" rx="0.74" ry="0.51" fill="#4e3f92" opacity="0.75"/>
<ellipse cx="244.5" cy="227.1" rx="0.66" ry="0.57" fill="#4e3f92" opacity="0.75"/>
<ellipse cx="309.6" cy="252.9" rx="0.46" ry="0.59" fill="#4e3f92" opacity="0.75"/>
<ellipse cx="317.7" cy="237.5" rx="0.72" ry="0.57" fill="#4e3f92" opacity="0.75"/>
<ellipse cx="253.5" cy="252.9" rx="0.68" ry="0.41" fill="#4e3f92" opacity="0.75"/>
<ellipse cx="319.2" cy="236.0" rx="0.51" ry="0.55" fill="#4e3f92" opacity="0.75"/>
<ellipse cx="257.4" cy="237.9" rx="0.58" ry="0.42" fill="#4e3f92" opacity="0.75"/>
<ellipse cx="301.0" cy="227.3" rx="0.51" ry="0.59" fill="#4e3f92" opacity="0.75"/>
<ellipse cx="250.7" cy="193.2" rx="0.60" ry="0.56" fill="#4e3f92" opacity="0.75"/>
<ellipse cx="310.5" cy="248.4" rx="0.60" ry="0.52" fill="#4e3f92" opacity="0.75"/>
<ellipse cx="277.5" cy="212.6" rx="0.60" ry="0.37" fill="#4e3f92" opacity="0.75"/>
<ellipse cx="251.4" cy="248.3" rx="0.50" ry="0.54" fill="#4e3f92" opacity="0.75"/>
<ellipse cx="323.3" cy="222.7" rx="0.65" ry="0.55" fill="#4e3f92" opacity="0.75"/>
<ellipse cx="331.4" cy="202.9" rx="0.50" ry="0.45" fill="#4e3f92" opacity="0.75"/>
<ellipse cx="290.7" cy="214.6" rx="0.45" ry="0.49" fill="#4e3f92" opacity="0.75"/>
<ellipse cx="341.9" cy="219.9" rx="0.61" ry="0.45" fill="#4e3f92" opacity="0.75"/>
<ellipse cx="288.5" cy="256.9" rx="0.54" ry="0.52" fill="#4e3f92" opacity="0.75"/>
<ellipse cx="292.6" cy="232.5" rx="0.72" ry="0.38" fill="#4e3f92" opacity="0.75"/>
<ellipse cx="327.4" cy="215.3" rx="0.64" ry="0.55" fill="#4e3f92" opacity="0.75"/>
<ellipse cx="309.9" cy="221.8" rx="0.70" ry="0.38" fill="#4e3f92" opacity="0.75"/>
<ellipse cx="307.9" cy="221.7" rx="0.61" ry="0.56" fill="#4e3f92" opacity="0.75"/>
<ellipse cx="324.7" cy="239.2" rx="0.54" ry="0.42" fill="#4e3f92" opacity="0.75"/>
<ellipse cx="290.0" cy="210.0" rx="0.53" ry="0.59" fill="#4e3f92" opacity="0.75"/>
<ellipse cx="254.7" cy="253.1" rx="0.56" ry="0.45" fill="#4e3f92" opacity="0.75"/>
<ellipse cx="275.8" cy="198.7" rx="0.59" ry="0.40" fill="#4e3f92" opacity="0.75"/>
<ellipse cx="288.4" cy="214.4" rx="0.72" ry="0.58" fill="#4e3f92" opacity="0.75"/>
<ellipse cx="288.4" cy="239.9" rx="0.73" ry="0.44" fill="#4e3f92" opacity="0.75"/>
<ellipse cx="253.5" cy="210.5" rx="0.51" ry="0.52" fill="#4e3f92" opacity="0.75"/>
<ellipse cx="281.4" cy="219.1" rx="0.69" ry="0.42" fill="#4e3f92" opacity="0.75"/>
<ellipse cx="325.8" cy="239.5" rx="0.57" ry="0.56" fill="#4e3f92" opacity="0.75"/>
<ellipse cx="278.2" cy="257.5" rx="0.73" ry="0.48" fill="#4e3f92" opacity="0.75"/>
<ellipse cx="313.7" cy="262.6" rx="0.67" ry="0.54" fill="#4e3f92" opacity="0.75"/>
<ellipse cx="332.0" cy="261.7" rx="0.68" ry="0.59" fill="#4e3f92" opacity="0.75"/>
<ellipse cx="273.0" cy="238.7" rx="0.65" ry="0.45" fill="#4e3f92" opacity="0.75"/>
<ellipse cx="283.6" cy="205.8" rx="0.74" ry="0.44" fill="#4e3f92" opacity="0.75"/>
<ellipse cx="291.9" cy="258.6" rx="0.51" ry="0.59" fill="#4e3f92" opacity="0.75"/>
<ellipse cx="256.3" cy="195.1" rx="0.56" ry="0.45" fill="#4e3f92" opacity="0.75"/>
<ellipse cx="336.9" cy="257.8" rx="0.68" ry="0.46" fill="#4e3f92" opacity="0.75"/>
<ellipse cx="298.7" cy="210.4" rx="0.70" ry="0.45" fill="#4e3f92" opacity="0.75"/>
<ellipse cx="272.3" cy="239.8" rx="0.50" ry="0.44" fill="#4e3f92" opacity="0.75"/>
<ellipse cx="337.8" cy="200.0" rx="0.49" ry="0.41" fill="#4e3f92" opacity="0.75"/>
<ellipse cx="268.9" cy="223.9" rx="0.53" ry="0.44" fill="#4e3f92" opacity="0.75"/>
<ellipse cx="268.4" cy="210.6" rx="0.63" ry="0.44" fill="#4e3f92" opacity="0.75"/>
<ellipse cx="281.3" cy="249.4" rx="0.47" ry="0.39" fill="#4e3f92" opacity="0.75"/>
<ellipse cx="330.1" cy="224.5" rx="0.68" ry="0.39" fill="#4e3f92" opacity="0.75"/>
<ellipse cx="296.6" cy="255.1" rx="0.55" ry="0.54" fill="#4e3f92" opacity="0.75"/>
<ellipse cx="305.6" cy="222.0" rx="0.75" ry="0.45" fill="#4e3f92" opacity="0.75"/>
<ellipse cx="291.6" cy="238.5" rx="0.55" ry="0.56" fill="#4e3f92" opacity="0.75"/>
<ellipse cx="304.2" cy="236.2" rx="0.61" ry="0.60" fill="#4e3f92" opacity="0.75"/>
<ellipse cx="344.2" cy="254.7" rx="0.59" ry="0.46" fill="#4e3f92" opacity="0.75"/>
<ellipse cx="296.8" cy="196.4" rx="0.48" ry="0.60" fill="#4e3f92" opacity="0.75"/>
<ellipse cx="256.4" cy="261.8" rx="0.65" ry="0.58" fill="#4e3f92" opacity="0.75"/>
<ellipse cx="251.2" cy="215.4" rx="0.69" ry="0.36" fill="#4e3f92" opacity="0.75"/>
<ellipse cx="254.1" cy="218.7" rx="0.50" ry="0.40" fill="#4e3f92" opacity="0.75"/>
<ellipse cx="311.6" cy="199.7" rx="0.74" ry="0.52" fill="#4e3f92" opacity="0.75"/>
<ellipse cx="248.4" cy="259.0" rx="0.52" ry="0.48" fill="#4e3f92" opacity="0.75"/>
<ellipse cx="300.3" cy="203.2" rx="0.60" ry="0.37" fill="#4e3f92" opacity="0.75"/>
<ellipse cx="263.7" cy="260.4" rx="0.70" ry="0.49" fill="#4e3f92" opacity="0.75"/>
<ellipse cx="312.8" cy="257.3" rx="0.49" ry="0.48" fill="#4e3f92" opacity="0.75"/>
<ellipse cx="256.7" cy="201.6" rx="0.48" ry="0.41" fill="#4e3f92" opacity="0.75"/>
<ellipse cx="248.7" cy="208.8" rx="0.56" ry="0.51" fill="#4e3f92" opacity="0.75"/>
<ellipse cx="330.9" cy="259.4" rx="0.67" ry="0.48" fill="#4e3f92" opacity="0.75"/>
<ellipse cx="336.8" cy="205.0" rx="0.48" ry="0.56" fill="#4e3f92" opacity="0.75"/>
<ellipse cx="307.3" cy="208.4" rx="0.56" ry="0.43" fill="#4e3f92" opacity="0.75"/>
<ellipse cx="287.2" cy="224.4" rx="0.57" ry="0.55" fill="#4e3f92" opacity="0.75"/>
<ellipse cx="326.1" cy="234.3" rx="0.59" ry="0.43" fill="#4e3f92" opacity="0.75"/>
<ellipse cx="321.4" cy="265.4" rx="0.52" ry="0.53" fill="#4e3f92" opacity="0.75"/>
<ellipse cx="314.6" cy="241.3" rx="0.46" ry="0.49" fill="#4e3f92" opacity="0.75"/>
<ellipse cx="263.9" cy="207.3" rx="0.62" ry="0.51" fill="#4e3f92" opacity="0.75"/>
<ellipse cx="307.1" cy="247.5" rx="0.66" ry="0.47" fill="#4e3f92" opacity="0.75"/>
<ellipse cx="248.2" cy="249.7" rx="0.70" ry="0.56" fill="#4e3f92" opacity="0.75"/>
<ellipse cx="304.3" cy="195.8" rx="0.51" ry="0.39" fill="#4e3f92" opacity="0.75"/>
<g fill="#f2f1f6"><polygon points="247.5,193.0 256.0,193.0 256.0,208.0 254.0,225.0 251.0,235.0 250.0,245.0 250.0,266.4 243.3,266.4 243.3,248.0 246.0,240.0 248.0,228.0 247.5,210.0"/><polygon points="256.0,212.0 275.0,214.0 293.0,210.0 320.0,210.0 346.0,211.0 346.0,216.5 320.0,216.0 293.0,216.0 275.0,220.0 256.0,219.0"/><polygon points="305.0,252.0 320.0,247.0 346.0,243.0 346.0,249.0 320.0,253.0 307.0,256.0"/><polygon points="343.0,193.0 346.0,193.0 346.0,266.4 343.0,266.4"/></g>
<rect x="327.3" y="262.4" width="14.5" height="1.8" fill="#111"/><text x="334.6" y="261.2" font-size="4" text-anchor="middle" fill="#222">25 μm</text></g>
<g clip-path="url(#hc2)"><rect x="348.3" y="193.2" width="101.7" height="73.2" fill="#de6eab"/>
<g stroke="#f0a8cc" stroke-width="0.6" opacity="0.55" fill="none"><path d="M345.7 203.2L353.4 199.7"/><path d="M415.0 204.2L420.7 202.5"/><path d="M368.8 249.5L374.9 247.8"/><path d="M420.6 242.5L426.6 240.8"/><path d="M398.6 227.2L407.0 224.8"/><path d="M447.1 200.7L452.1 199.3"/><path d="M440.6 223.6L447.1 221.8"/><path d="M375.3 221.7L388.4 218.1"/><path d="M365.0 211.2L374.4 207.0"/><path d="M397.9 264.7L410.0 261.3"/><path d="M378.4 209.8L390.5 206.4"/><path d="M443.3 197.0L454.5 193.9"/><path d="M433.3 241.8L440.0 239.9"/><path d="M426.1 247.5L432.6 245.7"/><path d="M410.9 210.0L416.1 208.5"/><path d="M378.3 218.8L386.6 216.5"/><path d="M407.5 256.2L420.6 252.6"/><path d="M441.8 267.6L453.4 264.3"/><path d="M374.3 207.5L384.6 204.7"/><path d="M401.0 243.4L406.6 241.8"/><path d="M363.2 262.8L372.7 258.5"/><path d="M414.9 201.4L423.2 199.0"/><path d="M434.2 242.6L447.6 238.9"/><path d="M362.8 229.0L373.9 224.0"/><path d="M388.7 252.3L398.4 249.6"/><path d="M354.0 203.3L366.6 197.6"/><path d="M356.8 209.1L364.1 205.8"/><path d="M416.4 257.0L425.3 254.5"/><path d="M395.3 251.9L402.6 249.9"/><path d="M381.0 239.5L391.3 236.6"/><path d="M349.3 202.7L355.0 200.1"/><path d="M415.4 245.8L428.7 242.1"/><path d="M420.6 213.5L432.1 210.2"/><path d="M446.0 219.4L450.9 218.0"/><path d="M383.3 214.8L389.6 213.0"/><path d="M347.1 205.0L358.7 199.7"/><path d="M350.3 239.5L356.5 236.7"/><path d="M364.5 254.9L371.5 251.7"/><path d="M361.9 228.8L372.1 224.2"/><path d="M397.5 257.3L405.8 255.0"/><path d="M397.2 246.9L406.0 244.5"/><path d="M418.2 228.2L424.2 226.5"/><path d="M355.5 252.9L366.2 248.1"/><path d="M439.3 245.1L449.1 242.3"/><path d="M362.4 256.9L368.0 254.4"/><path d="M387.5 204.6L395.6 202.4"/><path d="M374.1 225.9L385.0 222.8"/><path d="M397.6 212.6L409.2 209.4"/><path d="M420.5 254.5L425.6 253.0"/><path d="M407.3 259.7L414.3 257.8"/><path d="M365.1 254.5L372.6 251.1"/><path d="M385.0 254.2L393.2 251.9"/><path d="M364.8 210.6L372.2 207.2"/><path d="M413.5 221.8L425.0 218.5"/><path d="M350.2 213.6L359.9 209.2"/><path d="M390.6 231.6L403.5 228.0"/><path d="M374.0 207.2L379.1 205.8"/><path d="M392.9 216.2L401.8 213.7"/><path d="M345.0 194.9L352.7 191.5"/><path d="M419.0 217.0L431.7 213.4"/><path d="M401.4 224.3L413.0 221.1"/><path d="M365.9 239.2L378.1 235.8"/><path d="M400.5 217.4L406.1 215.8"/><path d="M402.7 208.1L410.7 205.8"/><path d="M398.1 263.6L408.8 260.6"/><path d="M397.4 257.1L404.9 255.0"/><path d="M382.9 244.1L392.5 241.4"/><path d="M364.9 224.9L376.8 221.6"/><path d="M370.3 245.6L375.6 244.1"/><path d="M441.6 244.3L449.2 242.2"/></g>
<g fill="#6a4f9e" opacity="0.8"><ellipse cx="372.5" cy="233.0" rx="0.88" ry="0.5" transform="rotate(-16 372.5 233.0)"/><ellipse cx="409.7" cy="239.0" rx="0.73" ry="0.5" transform="rotate(-16 409.7 239.0)"/><ellipse cx="349.6" cy="254.5" rx="0.83" ry="0.5" transform="rotate(-24 349.6 254.5)"/><ellipse cx="372.1" cy="266.1" rx="0.94" ry="0.5" transform="rotate(-16 372.1 266.1)"/><ellipse cx="433.4" cy="228.1" rx="1.02" ry="0.5" transform="rotate(-16 433.4 228.1)"/><ellipse cx="363.6" cy="239.7" rx="1.13" ry="0.5" transform="rotate(-24 363.6 239.7)"/><ellipse cx="401.5" cy="247.5" rx="1.04" ry="0.5" transform="rotate(-16 401.5 247.5)"/><ellipse cx="354.8" cy="248.7" rx="1.00" ry="0.5" transform="rotate(-24 354.8 248.7)"/><ellipse cx="378.9" cy="195.5" rx="1.13" ry="0.5" transform="rotate(-16 378.9 195.5)"/><ellipse cx="396.4" cy="245.8" rx="1.14" ry="0.5" transform="rotate(-16 396.4 245.8)"/><ellipse cx="420.9" cy="260.6" rx="0.90" ry="0.5" transform="rotate(-16 420.9 260.6)"/><ellipse cx="429.8" cy="225.7" rx="1.17" ry="0.5" transform="rotate(-16 429.8 225.7)"/><ellipse cx="437.7" cy="200.3" rx="0.77" ry="0.5" transform="rotate(-16 437.7 200.3)"/><ellipse cx="370.4" cy="263.9" rx="0.92" ry="0.5" transform="rotate(-16 370.4 263.9)"/><ellipse cx="412.0" cy="215.2" rx="0.95" ry="0.5" transform="rotate(-16 412.0 215.2)"/><ellipse cx="387.5" cy="218.9" rx="0.99" ry="0.5" transform="rotate(-16 387.5 218.9)"/><ellipse cx="407.7" cy="259.4" rx="1.04" ry="0.5" transform="rotate(-16 407.7 259.4)"/><ellipse cx="442.8" cy="255.9" rx="1.20" ry="0.5" transform="rotate(-16 442.8 255.9)"/><ellipse cx="416.6" cy="205.1" rx="1.13" ry="0.5" transform="rotate(-16 416.6 205.1)"/><ellipse cx="446.4" cy="259.4" rx="0.98" ry="0.5" transform="rotate(-16 446.4 259.4)"/><ellipse cx="420.9" cy="208.7" rx="1.12" ry="0.5" transform="rotate(-16 420.9 208.7)"/><ellipse cx="406.6" cy="214.1" rx="0.73" ry="0.5" transform="rotate(-16 406.6 214.1)"/><ellipse cx="435.1" cy="265.7" rx="0.74" ry="0.5" transform="rotate(-16 435.1 265.7)"/><ellipse cx="429.7" cy="223.2" rx="0.78" ry="0.5" transform="rotate(-16 429.7 223.2)"/><ellipse cx="378.2" cy="249.5" rx="1.14" ry="0.5" transform="rotate(-16 378.2 249.5)"/><ellipse cx="352.8" cy="238.2" rx="0.72" ry="0.5" transform="rotate(-24 352.8 238.2)"/><ellipse cx="421.4" cy="217.4" rx="1.14" ry="0.5" transform="rotate(-16 421.4 217.4)"/><ellipse cx="448.0" cy="230.2" rx="1.20" ry="0.5" transform="rotate(-16 448.0 230.2)"/><ellipse cx="379.8" cy="198.8" rx="1.00" ry="0.5" transform="rotate(-16 379.8 198.8)"/><ellipse cx="351.5" cy="207.6" rx="0.90" ry="0.5" transform="rotate(-24 351.5 207.6)"/><ellipse cx="410.4" cy="204.6" rx="0.72" ry="0.5" transform="rotate(-16 410.4 204.6)"/><ellipse cx="436.6" cy="216.2" rx="1.18" ry="0.5" transform="rotate(-16 436.6 216.2)"/><ellipse cx="439.5" cy="220.9" rx="0.93" ry="0.5" transform="rotate(-16 439.5 220.9)"/><ellipse cx="401.2" cy="240.3" rx="1.00" ry="0.5" transform="rotate(-16 401.2 240.3)"/><ellipse cx="405.2" cy="238.6" rx="1.17" ry="0.5" transform="rotate(-16 405.2 238.6)"/><ellipse cx="399.9" cy="224.8" rx="1.06" ry="0.5" transform="rotate(-16 399.9 224.8)"/><ellipse cx="372.5" cy="215.2" rx="1.19" ry="0.5" transform="rotate(-16 372.5 215.2)"/><ellipse cx="401.3" cy="233.3" rx="0.71" ry="0.5" transform="rotate(-16 401.3 233.3)"/><ellipse cx="390.5" cy="235.7" rx="0.71" ry="0.5" transform="rotate(-16 390.5 235.7)"/><ellipse cx="410.9" cy="239.5" rx="0.73" ry="0.5" transform="rotate(-16 410.9 239.5)"/><ellipse cx="412.1" cy="227.3" rx="1.04" ry="0.5" transform="rotate(-16 412.1 227.3)"/><ellipse cx="384.2" cy="244.9" rx="1.07" ry="0.5" transform="rotate(-16 384.2 244.9)"/><ellipse cx="350.6" cy="197.6" rx="1.04" ry="0.5" transform="rotate(-24 350.6 197.6)"/><ellipse cx="446.3" cy="211.6" rx="0.93" ry="0.5" transform="rotate(-16 446.3 211.6)"/><ellipse cx="408.6" cy="216.6" rx="0.88" ry="0.5" transform="rotate(-16 408.6 216.6)"/><ellipse cx="380.1" cy="220.2" rx="1.00" ry="0.5" transform="rotate(-16 380.1 220.2)"/><ellipse cx="378.9" cy="220.8" rx="1.09" ry="0.5" transform="rotate(-16 378.9 220.8)"/><ellipse cx="351.0" cy="234.9" rx="1.07" ry="0.5" transform="rotate(-24 351.0 234.9)"/><ellipse cx="379.8" cy="209.5" rx="1.10" ry="0.5" transform="rotate(-16 379.8 209.5)"/><ellipse cx="372.6" cy="206.9" rx="0.92" ry="0.5" transform="rotate(-16 372.6 206.9)"/><ellipse cx="419.3" cy="200.7" rx="0.86" ry="0.5" transform="rotate(-16 419.3 200.7)"/><ellipse cx="382.2" cy="254.2" rx="0.92" ry="0.5" transform="rotate(-16 382.2 254.2)"/><ellipse cx="435.3" cy="205.6" rx="0.87" ry="0.5" transform="rotate(-16 435.3 205.6)"/><ellipse cx="414.4" cy="258.0" rx="0.93" ry="0.5" transform="rotate(-16 414.4 258.0)"/><ellipse cx="371.2" cy="202.1" rx="0.96" ry="0.5" transform="rotate(-16 371.2 202.1)"/><ellipse cx="367.7" cy="252.3" rx="1.12" ry="0.5" transform="rotate(-24 367.7 252.3)"/><ellipse cx="367.0" cy="213.6" rx="1.10" ry="0.5" transform="rotate(-24 367.0 213.6)"/><ellipse cx="413.6" cy="252.2" rx="0.87" ry="0.5" transform="rotate(-16 413.6 252.2)"/><ellipse cx="361.5" cy="214.6" rx="1.10" ry="0.5" transform="rotate(-24 361.5 214.6)"/><ellipse cx="375.9" cy="218.6" rx="0.91" ry="0.5" transform="rotate(-16 375.9 218.6)"/><ellipse cx="391.0" cy="223.2" rx="1.16" ry="0.5" transform="rotate(-16 391.0 223.2)"/><ellipse cx="364.2" cy="193.5" rx="1.17" ry="0.5" transform="rotate(-24 364.2 193.5)"/><ellipse cx="437.8" cy="265.4" rx="0.92" ry="0.5" transform="rotate(-16 437.8 265.4)"/><ellipse cx="444.9" cy="261.1" rx="0.81" ry="0.5" transform="rotate(-16 444.9 261.1)"/><ellipse cx="424.1" cy="254.4" rx="1.03" ry="0.5" transform="rotate(-16 424.1 254.4)"/><ellipse cx="401.1" cy="214.4" rx="0.87" ry="0.5" transform="rotate(-16 401.1 214.4)"/><ellipse cx="371.4" cy="198.2" rx="0.99" ry="0.5" transform="rotate(-16 371.4 198.2)"/><ellipse cx="377.5" cy="252.5" rx="0.72" ry="0.5" transform="rotate(-16 377.5 252.5)"/><ellipse cx="440.2" cy="244.0" rx="1.16" ry="0.5" transform="rotate(-16 440.2 244.0)"/><ellipse cx="439.5" cy="259.1" rx="0.99" ry="0.5" transform="rotate(-16 439.5 259.1)"/><ellipse cx="349.6" cy="247.8" rx="0.79" ry="0.5" transform="rotate(-24 349.6 247.8)"/><ellipse cx="378.8" cy="241.7" rx="0.96" ry="0.5" transform="rotate(-16 378.8 241.7)"/><ellipse cx="390.4" cy="261.9" rx="1.01" ry="0.5" transform="rotate(-16 390.4 261.9)"/><ellipse cx="383.0" cy="211.7" rx="1.13" ry="0.5" transform="rotate(-16 383.0 211.7)"/><ellipse cx="396.8" cy="250.5" rx="0.88" ry="0.5" transform="rotate(-16 396.8 250.5)"/><ellipse cx="368.4" cy="232.3" rx="1.11" ry="0.5" transform="rotate(-24 368.4 232.3)"/><ellipse cx="365.7" cy="251.2" rx="1.16" ry="0.5" transform="rotate(-24 365.7 251.2)"/><ellipse cx="430.3" cy="253.5" rx="0.70" ry="0.5" transform="rotate(-16 430.3 253.5)"/><ellipse cx="412.2" cy="256.3" rx="0.72" ry="0.5" transform="rotate(-16 412.2 256.3)"/><ellipse cx="375.9" cy="212.9" rx="0.96" ry="0.5" transform="rotate(-16 375.9 212.9)"/><ellipse cx="391.3" cy="227.8" rx="1.09" ry="0.5" transform="rotate(-16 391.3 227.8)"/><ellipse cx="348.5" cy="197.2" rx="0.76" ry="0.5" transform="rotate(-24 348.5 197.2)"/><ellipse cx="361.0" cy="198.2" rx="1.19" ry="0.5" transform="rotate(-24 361.0 198.2)"/><ellipse cx="435.2" cy="199.5" rx="0.95" ry="0.5" transform="rotate(-16 435.2 199.5)"/><ellipse cx="380.4" cy="216.2" rx="0.88" ry="0.5" transform="rotate(-16 380.4 216.2)"/><ellipse cx="414.1" cy="236.1" rx="0.88" ry="0.5" transform="rotate(-16 414.1 236.1)"/><ellipse cx="367.7" cy="217.3" rx="0.76" ry="0.5" transform="rotate(-24 367.7 217.3)"/><ellipse cx="404.8" cy="245.6" rx="0.89" ry="0.5" transform="rotate(-16 404.8 245.6)"/><ellipse cx="356.4" cy="206.3" rx="0.89" ry="0.5" transform="rotate(-24 356.4 206.3)"/><ellipse cx="409.8" cy="250.5" rx="0.89" ry="0.5" transform="rotate(-16 409.8 250.5)"/><ellipse cx="429.8" cy="238.8" rx="0.92" ry="0.5" transform="rotate(-16 429.8 238.8)"/><ellipse cx="386.2" cy="229.5" rx="1.05" ry="0.5" transform="rotate(-16 386.2 229.5)"/><ellipse cx="391.1" cy="244.0" rx="0.93" ry="0.5" transform="rotate(-16 391.1 244.0)"/><ellipse cx="373.2" cy="232.4" rx="1.05" ry="0.5" transform="rotate(-16 373.2 232.4)"/><ellipse cx="355.6" cy="224.3" rx="0.91" ry="0.5" transform="rotate(-24 355.6 224.3)"/><ellipse cx="437.8" cy="261.8" rx="0.89" ry="0.5" transform="rotate(-16 437.8 261.8)"/><ellipse cx="439.6" cy="251.1" rx="0.83" ry="0.5" transform="rotate(-16 439.6 251.1)"/><ellipse cx="395.5" cy="202.2" rx="1.11" ry="0.5" transform="rotate(-16 395.5 202.2)"/><ellipse cx="415.7" cy="258.2" rx="1.10" ry="0.5" transform="rotate(-16 415.7 258.2)"/><ellipse cx="416.2" cy="246.9" rx="0.98" ry="0.5" transform="rotate(-16 416.2 246.9)"/><ellipse cx="358.8" cy="236.2" rx="0.70" ry="0.5" transform="rotate(-24 358.8 236.2)"/><ellipse cx="362.9" cy="249.9" rx="0.72" ry="0.5" transform="rotate(-24 362.9 249.9)"/><ellipse cx="357.6" cy="200.5" rx="1.14" ry="0.5" transform="rotate(-24 357.6 200.5)"/><ellipse cx="366.5" cy="194.9" rx="1.12" ry="0.5" transform="rotate(-24 366.5 194.9)"/><ellipse cx="360.6" cy="255.0" rx="1.04" ry="0.5" transform="rotate(-24 360.6 255.0)"/><ellipse cx="433.3" cy="262.9" rx="0.99" ry="0.5" transform="rotate(-16 433.3 262.9)"/><ellipse cx="429.5" cy="195.9" rx="1.08" ry="0.5" transform="rotate(-16 429.5 195.9)"/><ellipse cx="400.3" cy="245.5" rx="0.75" ry="0.5" transform="rotate(-16 400.3 245.5)"/><ellipse cx="424.5" cy="261.6" rx="0.73" ry="0.5" transform="rotate(-16 424.5 261.6)"/><ellipse cx="381.3" cy="234.5" rx="1.11" ry="0.5" transform="rotate(-16 381.3 234.5)"/></g>
<g fill="#f7f4f8" stroke="#de6eab" stroke-width="0.60" stroke-linejoin="round"><polygon points="348.3,201.8 357.8,193.2 366.6,193.2 348.3,206.0"/><polygon points="377.7,206.3 385.0,203.6 395.8,199.5 402.4,195.3 404.9,193.2 412.3,193.2 404.0,197.8 397.4,202.0 385.0,206.9 377.7,207.8"/><polygon points="406.5,200.3 414.0,198.6 425.0,195.3 451.0,193.8 451.0,195.0 425.0,196.4 414.0,199.6 406.5,201.3"/><polygon points="409.8,193.2 451.0,193.2 451.0,194.3 425.0,195.0 412.0,194.5"/><polygon points="348.3,214.5 355.0,213.5 366.6,211.0 376.4,209.3 385.0,208.6 400.0,206.0 425.0,201.9 438.0,198.5 451.0,195.3 451.0,201.0 438.0,204.4 425.0,208.6 400.0,213.0 385.0,217.0 376.4,215.9 366.6,217.5 355.0,220.0 348.3,218.1"/><polygon points="348.3,242.2 355.0,237.0 360.0,233.0 366.8,229.7 385.5,228.6 395.0,230.5 403.0,232.0 423.0,229.6 435.0,227.0 443.0,224.0 451.0,224.0 451.0,230.4 443.0,230.4 423.0,231.2 403.0,235.3 385.5,236.0 366.8,237.7 360.0,243.5 355.0,247.0 348.3,252.4"/><polygon points="390.0,228.5 403.0,223.0 409.8,220.2 418.0,219.3 425.0,220.0 437.0,221.0 443.0,224.0 443.0,225.0 437.0,224.0 425.0,222.5 418.0,221.5 409.8,222.0 403.0,227.0 390.0,229.5"/><polygon points="348.3,261.5 355.0,257.0 366.8,247.9 385.5,245.6 403.0,243.5 425.0,242.4 443.0,241.0 451.0,239.4 451.0,242.0 443.0,244.3 425.0,244.7 403.0,246.8 385.5,249.0 366.8,252.4 355.0,262.0 348.3,267.0"/><polygon points="360.0,267.0 366.8,262.6 385.5,255.8 400.0,256.0 412.5,254.3 425.0,254.3 443.0,250.0 451.0,250.9 451.0,254.3 443.0,254.0 425.0,256.6 412.5,256.6 400.0,259.0 385.5,259.2 375.0,267.0"/><polygon points="370.0,267.0 385.0,262.0 425.0,262.0 440.0,266.0 440.0,267.0"/><polygon points="348.3,265.6 451.0,265.2 451.0,267.0 348.3,267.0"/></g><g fill="#f7f4f8"><polygon points="358.8,212.6 366.6,203.6 367.2,204.0 359.5,213.0"/><polygon points="355.0,214.0 362.0,206.0 362.6,206.4 355.7,214.4"/><polygon points="348.3,230.5 355.0,228.5 360.0,226.5 360.0,227.0 355.0,229.5 348.3,232.0"/></g>
<rect x="432.0" y="262.4" width="14.5" height="1.8" fill="#111"/><text x="439.2" y="261.2" font-size="4" text-anchor="middle" fill="#222">25 μm</text></g>
<g clip-path="url(#hc3)"><rect x="453.3" y="193.0" width="101.7" height="73.4" fill="#f2f1f5"/>
<g stroke="#efc6dc" stroke-width="2.2" fill="none"><path d="M453 245L478 266"/><path d="M453 252L470 266.5"/><path d="M455 241L482 262"/></g>
<g fill="#e46aa5"><path d="M467.9 193.5Q467.8 193.5 466.2 193.7L464.0 194.0Q462.4 194.2 447.9 -26.0L428.6 -319.6Q414.1 -539.9 428.3 -554.0L447.1 -572.9Q461.3 -587.0 464.8 -361.2L469.5 -60.0Q472.9 165.9 471.9 173.5L470.6 183.7Q469.6 191.3 469.1 191.9L468.5 192.8Q468.0 193.4 468.0 193.4Z"/><path d="M461.4 195.0Q461.3 195.1 460.8 195.3L460.1 195.5Q459.6 195.7 457.6 192.7L454.9 188.7Q452.8 185.7 390.1 -14.0L306.6 -280.2Q243.9 -479.9 292.7 -528.4L357.8 -593.1Q406.7 -641.6 423.2 -390.7L445.2 -56.2Q461.7 194.8 461.6 194.9Z"/><path d="M455.8 199.1Q456.0 199.0 456.9 198.1L458.2 196.8Q459.2 195.8 457.2 192.9L454.6 189.0Q452.6 186.1 452.6 190.0L452.6 195.2Q452.7 199.2 453.5 199.2L454.6 199.2Q455.4 199.3 455.6 199.2Z"/><path d="M488.0 193.5Q488.3 193.4 489.6 192.1L491.3 190.4Q492.6 189.1 493.1 186.8L493.7 183.7Q494.2 181.4 496.1 77.5L498.5 -61.1Q500.4 -165.0 497.4 -312.4L493.4 -508.9Q490.4 -656.4 482.6 -648.3L472.1 -637.7Q464.3 -629.6 468.0 -391.4L472.9 -73.7Q476.5 164.5 478.2 171.9L480.4 181.7Q482.1 189.0 483.6 190.4L485.6 192.3Q487.2 193.6 487.5 193.6Z"/><path d="M485.7 195.0Q486.5 194.2 485.0 192.9L483.1 191.1Q481.6 189.7 480.9 191.6L480.1 194.0Q479.4 195.8 479.7 196.4L480.0 197.3Q480.3 197.9 481.3 197.6L482.7 197.3Q483.8 197.0 484.6 196.2Z"/><path d="M479.2 181.5Q480.9 189.2 480.2 191.2L479.3 193.8Q478.6 195.8 476.4 194.5L473.6 192.8Q471.4 191.6 472.5 183.2L474.0 172.0Q475.2 163.6 476.9 171.3Z"/><path d="M473.4 203.0Q472.9 203.5 472.5 203.7L472.0 203.9Q471.6 204.0 470.6 203.9L469.2 203.8Q468.1 203.7 468.4 201.2L468.7 197.8Q469.0 195.3 469.1 195.3L469.1 195.2Q469.2 195.2 470.8 197.1L472.9 199.8Q474.5 201.7 474.0 202.3Z"/><path d="M468.1 197.6Q468.3 194.8 466.5 195.0L464.1 195.3Q462.2 195.5 462.1 195.6L462.0 195.7Q461.8 195.8 463.2 198.4L465.1 201.8Q466.5 204.4 466.8 204.3L467.1 204.1Q467.4 204.0 467.7 201.3Z"/><path d="M462.7 203.7Q465.3 205.3 465.6 205.1L465.9 204.8Q466.2 204.5 464.8 202.0L463.0 198.6Q461.6 196.0 461.1 196.2L460.4 196.4Q459.9 196.6 459.0 197.5L457.7 198.8Q456.7 199.8 459.3 201.5Z"/><path d="M464.3 206.2Q464.2 206.5 462.6 207.6L460.4 209.1Q458.8 210.2 458.0 207.4L457.0 203.6Q456.2 200.8 456.4 200.8L456.6 200.7Q456.8 200.6 459.1 202.1L462.3 204.1Q464.6 205.6 464.5 205.9Z"/><path d="M456.0 203.9Q455.2 201.1 454.5 201.0L453.5 201.0Q452.7 200.9 450.0 201.7L446.5 202.8Q443.8 203.6 448.0 205.7L453.6 208.5Q457.8 210.6 457.8 210.6L457.8 210.6Q457.8 210.6 457.0 207.7Z"/><path d="M456.7 213.1Q457.9 211.9 457.9 211.7L458.0 211.5Q458.0 211.3 453.4 209.0L447.2 206.0Q442.6 203.7 426.3 205.6L404.4 208.1Q388.1 210.0 407.8 211.8L434.1 214.2Q453.8 215.9 455.1 214.7Z"/><path d="M505.7 196.4Q505.2 196.3 505.2 196.1L505.2 195.8Q505.2 195.6 508.7 187.4L513.3 176.6Q516.9 168.4 517.0 172.7L517.3 178.5Q517.5 182.8 516.5 186.3L515.3 191.0Q514.3 194.5 512.1 195.1L509.2 196.0Q507.0 196.6 506.4 196.5Z"/><path d="M499.5 185.8Q497.2 182.0 499.0 83.6L501.3 -47.5Q503.1 -145.8 506.7 -60.3L511.5 53.7Q515.1 139.1 515.2 147.1L515.2 157.7Q515.3 165.7 515.2 167.2L515.1 169.3Q515.0 170.8 511.9 178.0L507.8 187.6Q504.7 194.8 502.5 190.9Z"/><path d="M503.9 196.1Q504.0 196.0 504.0 195.8L504.0 195.5Q504.0 195.3 501.7 191.4L498.6 186.2Q496.3 182.3 495.8 184.5L495.2 187.4Q494.7 189.6 495.3 190.7L496.0 192.2Q496.6 193.3 498.7 194.2L501.6 195.4Q503.7 196.3 503.8 196.2Z"/><path d="M503.1 197.6Q503.4 197.0 501.3 196.1L498.4 194.9Q496.3 194.0 496.0 196.4L495.7 199.5Q495.4 201.8 497.1 201.3L499.4 200.6Q501.1 200.0 501.4 199.8L501.9 199.4Q502.2 199.1 502.6 198.5Z"/><path d="M494.3 201.8Q494.5 201.6 494.8 199.3L495.1 196.3Q495.4 194.0 494.8 192.9L494.0 191.4Q493.5 190.3 492.3 191.6L490.6 193.2Q489.4 194.5 490.6 196.8L492.3 199.9Q493.5 202.2 493.6 202.2L493.7 202.2Q493.8 202.2 494.0 202.0Z"/><path d="M488.2 194.5Q488.6 194.5 489.9 197.1L491.8 200.6Q493.2 203.2 492.3 203.6L491.1 204.1Q490.3 204.5 488.5 202.5L486.1 199.8Q484.4 197.8 485.3 196.9L486.5 195.6Q487.4 194.7 487.7 194.6Z"/><path d="M482.5 201.4Q480.7 199.4 480.7 199.4L480.7 199.4Q480.7 199.4 481.8 199.1L483.1 198.8Q484.2 198.5 485.7 200.3L487.8 202.6Q489.3 204.3 489.1 204.6L488.8 204.9Q488.6 205.1 488.0 205.4L487.2 205.8Q486.6 206.0 484.9 204.0Z"/><path d="M479.3 199.8Q479.9 199.1 482.0 201.5L484.7 204.6Q486.8 206.9 485.7 208.0L484.3 209.3Q483.3 210.4 481.7 207.7L479.5 204.1Q477.9 201.3 478.5 200.7Z"/><path d="M474.4 204.0Q473.9 204.6 475.6 206.8L477.8 209.8Q479.5 212.0 480.4 211.7L481.5 211.3Q482.4 211.1 482.5 210.8L482.6 210.5Q482.8 210.3 481.2 207.8L479.2 204.3Q477.7 201.8 477.1 202.0L476.3 202.3Q475.6 202.6 475.1 203.2Z"/><path d="M470.5 205.2Q471.7 205.3 471.8 208.4L471.9 212.5Q471.9 215.5 471.8 215.6L471.7 215.7Q471.6 215.8 471.5 215.8L471.3 215.9Q471.1 215.9 471.1 215.9L471.1 215.9Q471.1 215.9 470.8 215.7L470.4 215.5Q470.2 215.3 468.8 212.8L466.9 209.5Q465.5 207.0 465.7 206.8L465.8 206.4Q466.0 206.1 466.2 205.9L466.6 205.6Q466.9 205.3 467.2 205.2L467.5 205.1Q467.8 205.0 469.0 205.1Z"/><path d="M461.4 213.7Q462.2 214.4 464.4 214.7L467.2 215.1Q469.4 215.3 468.1 213.0L466.4 210.0Q465.1 207.7 463.4 208.8L461.2 210.3Q459.6 211.5 459.6 211.5L459.6 211.5Q459.6 211.5 459.6 211.7L459.5 211.9Q459.5 212.1 460.3 212.8Z"/><path d="M462.3 217.6Q462.2 215.5 464.3 215.7L467.0 216.1Q469.1 216.4 469.3 216.5L469.6 216.7Q469.9 216.9 468.2 218.6L466.1 221.0Q464.5 222.8 463.9 222.7L463.3 222.6Q462.7 222.6 462.7 222.5L462.7 222.5Q462.6 222.4 462.5 220.3Z"/><path d="M453.9 217.2Q453.7 216.9 434.0 215.1L407.6 212.7Q387.8 210.9 292.2 214.4L164.7 219.0Q69.1 222.5 163.2 226.1L288.7 230.8Q382.8 234.3 403.9 232.7L431.9 230.6Q452.9 229.0 453.3 225.7L453.8 221.2Q454.1 217.9 454.0 217.6Z"/><path d="M537.1 193.3Q535.3 193.8 530.7 176.0L524.4 152.3Q519.7 134.5 515.8 41.4L510.6 -82.7Q506.6 -175.8 503.5 -327.6L499.4 -530.1Q496.3 -682.0 499.8 -685.7L504.4 -690.7Q507.9 -694.4 528.4 -673.7L555.7 -646.1Q576.2 -625.5 566.6 -381.9L553.8 -57.1Q544.3 186.5 544.1 186.9L544.0 187.5Q543.8 187.9 543.1 189.2L542.0 190.8Q541.3 192.0 539.5 192.5Z"/><path d="M534.7 194.1Q534.6 194.1 533.8 194.4L532.7 194.7Q531.9 195.0 528.2 185.6L523.3 173.0Q519.6 163.6 519.5 155.0L519.4 143.5Q519.3 134.9 524.0 152.6L530.2 176.2Q534.8 193.9 534.8 194.0Z"/><path d="M531.1 195.5Q530.9 195.6 529.1 194.9L526.7 193.9Q524.9 193.2 523.3 190.2L521.1 186.1Q519.4 183.1 519.2 179.0L519.0 173.6Q518.8 169.5 518.9 167.8L519.0 165.6Q519.1 163.9 522.8 173.3L527.7 185.8Q531.4 195.2 531.3 195.3Z"/><path d="M528.7 200.2Q529.5 199.5 529.8 198.6L530.2 197.3Q530.5 196.4 528.7 195.7L526.4 194.8Q524.6 194.1 523.9 195.6L523.0 197.6Q522.3 199.2 522.7 200.0L523.2 201.0Q523.6 201.8 524.5 201.8L525.7 201.9Q526.5 202.0 526.6 201.9L526.7 201.9Q526.8 201.9 527.6 201.2Z"/><path d="M520.0 198.2Q521.6 198.9 522.3 197.3L523.2 195.3Q523.9 193.7 522.3 190.8L520.2 186.8Q518.6 183.8 517.7 187.1L516.5 191.5Q515.6 194.8 515.8 195.3L516.2 196.0Q516.4 196.5 518.0 197.2Z"/><path d="M513.6 206.4Q513.6 206.7 515.2 206.8L517.2 206.9Q518.7 207.0 520.0 205.7L521.7 203.8Q522.9 202.4 522.5 201.6L521.9 200.5Q521.5 199.6 519.8 198.8L517.5 197.8Q515.9 197.0 515.2 199.6L514.2 203.1Q513.6 205.7 513.6 206.0Z"/><path d="M511.6 207.5Q512.2 207.3 512.4 207.1L512.7 206.9Q512.9 206.7 512.9 206.4L512.9 206.0Q512.8 205.7 511.0 203.2L508.6 199.9Q506.8 197.4 506.3 197.3L505.6 197.2Q505.1 197.1 505.0 197.2L504.8 197.3Q504.7 197.4 504.3 198.1L503.8 199.1Q503.3 199.8 505.4 202.3L508.2 205.6Q510.2 208.1 510.8 207.9Z"/><path d="M509.3 208.7Q509.9 208.2 507.9 205.8L505.2 202.5Q503.2 200.0 502.8 200.3L502.3 200.7Q502.0 201.0 502.7 203.9L503.6 207.8Q504.4 210.7 504.5 210.8L504.6 211.0Q504.8 211.1 505.7 210.8L506.8 210.3Q507.7 210.0 508.4 209.4Z"/><path d="M495.8 203.5Q496.0 203.3 497.7 202.8L499.9 202.2Q501.6 201.6 502.2 204.2L503.0 207.6Q503.7 210.2 501.7 209.1L499.0 207.6Q496.9 206.5 496.4 205.8L495.8 204.7Q495.3 204.0 495.5 203.8Z"/><path d="M494.4 205.5Q493.8 204.8 493.8 204.8L493.7 204.8Q493.6 204.8 492.8 205.1L491.7 205.6Q490.9 205.9 490.7 206.2L490.4 206.5Q490.1 206.7 491.2 209.6L492.6 213.4Q493.7 216.3 493.8 216.4L494.0 216.5Q494.1 216.6 494.3 216.6L494.6 216.5Q494.7 216.5 495.0 213.8L495.3 210.1Q495.6 207.4 495.0 206.6Z"/><path d="M486.3 208.5Q487.3 207.5 488.0 207.1L488.9 206.7Q489.5 206.3 490.7 209.5L492.3 213.8Q493.5 217.0 491.2 216.2L488.0 215.1Q485.6 214.3 485.0 213.5L484.1 212.5Q483.5 211.7 483.6 211.4L483.7 211.1Q483.8 210.9 484.9 209.9Z"/><path d="M480.7 221.2Q481.5 224.3 482.0 224.3L482.6 224.2Q483.1 224.2 483.4 224.1L483.7 223.9Q484.0 223.8 484.3 221.1L484.7 217.5Q485.0 214.8 484.4 214.0L483.5 213.0Q482.9 212.2 482.0 212.4L480.7 212.8Q479.8 213.1 479.6 213.3L479.2 213.6Q479.0 213.8 479.7 217.0Z"/><path d="M471.1 217.8Q471.0 217.8 469.4 219.6L467.2 222.0Q465.5 223.8 465.7 224.1L466.0 224.5Q466.2 224.7 468.0 225.5L470.4 226.5Q472.2 227.3 471.9 224.4L471.4 220.6Q471.1 217.8 471.1 217.8Z"/><path d="M466.9 234.4Q467.3 235.0 468.4 234.5L470.0 234.0Q471.1 233.5 471.6 232.2L472.3 230.5Q472.8 229.1 472.5 228.9L472.1 228.5Q471.8 228.2 470.0 227.5L467.6 226.4Q465.8 225.7 465.8 227.8L465.8 230.7Q465.8 232.9 466.3 233.5Z"/><path d="M454.0 242.4Q453.5 242.8 442.4 242.0L427.6 240.8Q416.4 240.0 407.9 238.7L396.4 237.1Q387.8 235.8 407.4 234.3L433.4 232.4Q453.0 230.9 453.0 230.9L453.1 230.9Q453.2 230.9 453.8 234.1L454.6 238.2Q455.2 241.4 454.7 241.8Z"/><path d="M980.0 154.4Q825.5 172.4 746.2 179.7L640.4 189.4Q561.0 196.7 556.6 193.7L550.7 189.6Q546.3 186.5 556.0 -61.8L569.0 -392.9Q578.8 -641.1 807.3 -415.1L1111.9 -113.7Q1340.4 112.4 1185.9 130.4Z"/><path d="M551.1 196.1Q553.3 199.2 555.3 198.5L558.1 197.6Q560.1 196.9 556.0 194.0L550.5 190.2Q546.4 187.4 546.3 187.8L546.1 188.4Q546.0 188.8 548.2 191.9Z"/><path d="M543.1 194.2Q543.2 194.8 545.2 196.8L547.8 199.4Q549.8 201.3 550.4 201.2L551.2 200.9Q551.9 200.7 552.2 200.5L552.6 200.1Q552.9 199.9 550.6 196.5L547.5 192.1Q545.2 188.8 544.4 190.0L543.4 191.6Q542.7 192.8 542.8 193.4Z"/><path d="M542.4 198.3Q542.9 195.6 544.7 197.4L547.2 199.8Q549.0 201.6 548.6 201.9L548.1 202.4Q547.8 202.7 546.2 203.3L544.1 204.2Q542.5 204.8 542.3 204.8L541.9 204.8Q541.6 204.8 541.4 204.8L541.2 204.7Q541.1 204.7 541.6 201.9Z"/><path d="M529.7 201.4Q530.5 200.7 532.5 202.3L535.2 204.5Q537.2 206.1 536.8 206.5L536.2 207.1Q535.8 207.5 535.2 207.9L534.4 208.3Q533.7 208.6 532.0 206.9L529.6 204.7Q527.9 203.0 528.6 202.3Z"/><path d="M529.2 205.2Q527.5 203.5 527.4 203.6L527.3 203.6Q527.2 203.6 527.4 205.8L527.6 208.8Q527.8 211.0 528.2 211.5L528.7 212.1Q529.1 212.6 529.5 212.5L530.0 212.3Q530.4 212.2 531.3 211.3L532.4 210.0Q533.2 209.0 531.5 207.4Z"/><path d="M526.9 208.9Q527.1 211.3 525.0 210.3L522.2 209.1Q520.0 208.1 519.9 208.0L519.7 207.7Q519.6 207.5 520.8 206.2L522.3 204.5Q523.5 203.2 524.4 203.3L525.6 203.4Q526.5 203.4 526.6 205.8Z"/><path d="M527.4 213.1Q527.8 213.6 527.6 213.9L527.3 214.4Q527.0 214.8 525.2 215.4L522.8 216.1Q520.9 216.7 520.6 214.4L520.2 211.3Q519.9 209.0 521.9 209.9L524.6 211.1Q526.5 212.0 526.9 212.5Z"/><path d="M512.0 208.6Q512.6 208.4 513.7 211.6L515.3 216.0Q516.4 219.3 515.8 219.8L514.9 220.6Q514.2 221.2 512.5 218.1L510.2 214.0Q508.4 210.8 509.1 210.3L509.9 209.6Q510.6 209.1 511.2 208.9Z"/><path d="M509.8 214.3Q508.2 211.3 507.3 211.6L506.2 212.0Q505.4 212.4 504.9 213.3L504.4 214.5Q503.9 215.4 506.7 217.3L510.3 219.8Q513.1 221.6 513.3 221.5L513.5 221.3Q513.7 221.2 513.7 221.2L513.7 221.2Q513.7 221.2 512.0 218.2Z"/><path d="M511.0 224.8Q511.4 224.5 511.9 223.8L512.6 222.9Q513.1 222.2 510.2 220.2L506.3 217.6Q503.4 215.7 502.9 216.1L502.3 216.7Q501.9 217.2 503.7 219.9L506.0 223.6Q507.8 226.3 508.5 226.1L509.4 225.7Q510.1 225.5 510.5 225.2Z"/><path d="M503.2 220.3Q501.5 217.7 501.0 217.9L500.3 218.2Q499.7 218.4 500.3 221.8L501.1 226.3Q501.7 229.7 501.8 229.7L502.0 229.7Q502.1 229.7 502.8 229.5L503.8 229.1Q504.6 228.9 505.4 228.1L506.4 227.1Q507.2 226.4 505.5 223.8Z"/><path d="M496.9 218.5Q495.9 218.6 496.2 221.3L496.6 225.0Q496.9 227.8 497.7 228.6L498.7 229.6Q499.4 230.4 499.9 230.2L500.6 230.0Q501.2 229.8 500.6 226.4L499.8 221.9Q499.2 218.5 498.2 218.5Z"/><path d="M495.3 218.3Q495.4 218.4 495.7 221.2L496.2 225.1Q496.5 228.0 494.5 227.2L491.8 226.2Q489.8 225.5 489.7 225.2L489.4 224.9Q489.3 224.6 490.8 222.7L492.8 220.2Q494.3 218.3 494.5 218.3L494.8 218.2Q495.0 218.2 495.1 218.3Z"/><path d="M498.0 231.3Q498.2 231.0 497.5 230.3L496.6 229.3Q495.9 228.6 494.1 227.9L491.7 227.0Q489.9 226.4 490.0 228.6L490.0 231.6Q490.1 233.8 491.2 234.0L492.7 234.2Q493.8 234.4 493.9 234.3L494.1 234.2Q494.3 234.2 495.3 233.5L496.6 232.6Q497.5 231.9 497.7 231.6Z"/><path d="M488.8 225.3Q488.6 225.0 487.3 224.9L485.6 224.7Q484.3 224.6 484.1 224.7L483.7 224.9Q483.4 225.0 484.3 228.2L485.5 232.4Q486.4 235.6 487.3 235.2L488.5 234.8Q489.3 234.4 489.3 231.9L489.2 228.4Q489.2 225.9 489.0 225.6Z"/><path d="M480.6 226.1Q480.2 226.3 479.8 226.8L479.3 227.4Q478.9 227.8 480.1 230.2L481.6 233.4Q482.8 235.8 483.1 236.0L483.5 236.2Q483.8 236.4 484.0 236.4L484.3 236.3Q484.5 236.2 484.9 235.9L485.4 235.5Q485.8 235.2 485.0 232.3L483.9 228.5Q483.1 225.6 482.7 225.6L482.1 225.7Q481.7 225.7 481.2 225.9Z"/><path d="M467.7 236.5Q467.6 236.5 469.1 239.5L471.1 243.5Q472.5 246.5 472.6 246.5L472.6 246.5Q472.7 246.5 473.5 245.9L474.6 245.0Q475.4 244.3 475.0 242.0L474.3 238.9Q473.8 236.6 473.2 236.1L472.4 235.4Q471.8 235.0 470.5 235.4L468.9 236.1Q467.7 236.5 467.7 236.5Z"/><path d="M453.9 250.9Q453.6 252.6 441.8 249.2L426.2 244.7Q414.5 241.3 426.2 242.2L441.8 243.4Q453.5 244.3 453.8 245.0L454.2 246.0Q454.6 246.8 454.3 248.5Z"/><path d="M453.4 253.9Q453.1 253.3 442.5 250.3L428.4 246.2Q417.8 243.1 409.7 242.0L398.8 240.4Q390.7 239.2 307.7 236.1L197.0 231.9Q114.1 228.8 -25.6 228.3L-211.9 227.7Q-351.6 227.2 -353.9 229.4L-357.1 232.3Q-359.5 234.5 -317.3 275.4L-261.1 330.0Q-218.9 370.9 -18.0 337.0L250.0 292.0Q450.9 258.2 451.9 257.2L453.2 256.0Q454.1 255.1 453.8 254.6Z"/><path d="M553.7 205.4Q552.8 202.0 553.2 201.7L553.6 201.4Q553.9 201.2 556.0 200.4L558.9 199.5Q561.1 198.7 637.9 191.6L740.4 182.2Q817.3 175.1 738.8 186.6L634.1 201.8Q555.6 213.3 554.8 209.9Z"/><path d="M549.7 207.0Q549.1 204.1 549.4 203.8L549.9 203.3Q550.3 203.0 550.9 202.8L551.6 202.6Q552.2 202.4 553.0 205.6L554.0 209.9Q554.8 213.1 554.2 213.4L553.4 213.8Q552.8 214.1 552.4 214.2L551.9 214.2Q551.5 214.3 551.4 214.1L551.2 213.8Q551.1 213.6 550.5 210.8Z"/><path d="M546.8 204.6Q548.5 204.0 549.1 207.0L550.0 211.0Q550.6 214.0 548.3 211.7L545.2 208.6Q542.8 206.2 544.5 205.5Z"/><path d="M544.8 209.0Q542.6 206.8 542.3 206.8L542.0 206.9Q541.7 206.9 542.5 210.0L543.5 214.1Q544.3 217.2 545.6 216.8L547.2 216.4Q548.5 216.1 549.1 215.8L549.8 215.3Q550.4 214.9 550.3 214.7L550.1 214.4Q550.0 214.2 547.8 212.0Z"/><path d="M535.1 209.6Q534.4 209.9 533.5 211.0L532.3 212.4Q531.4 213.4 533.7 215.2L536.7 217.6Q539.0 219.3 539.3 219.2L539.8 219.1Q540.2 219.0 539.1 215.9L537.7 211.8Q536.6 208.8 536.0 209.1Z"/><path d="M530.0 214.5Q529.6 214.7 529.4 215.0L529.1 215.5Q528.8 215.9 529.0 216.7L529.2 217.7Q529.3 218.4 531.2 219.7L533.7 221.4Q535.6 222.7 536.4 221.9L537.4 220.7Q538.2 219.9 536.1 218.2L533.2 215.9Q531.0 214.3 530.6 214.4Z"/><path d="M532.0 227.8Q532.2 227.8 532.8 227.2L533.7 226.5Q534.3 226.0 534.7 225.2L535.2 224.1Q535.6 223.3 533.6 221.9L530.9 220.0Q528.9 218.6 528.4 220.8L527.7 223.8Q527.2 226.0 527.4 226.4L527.5 227.1Q527.7 227.6 528.8 227.7L530.3 227.9Q531.5 228.0 531.7 227.9Z"/><path d="M528.3 217.6Q528.4 218.4 527.9 220.7L527.2 223.7Q526.7 226.0 524.7 223.8L522.0 220.9Q520.0 218.8 520.3 218.5L520.6 218.1Q520.8 217.9 522.9 217.2L525.8 216.3Q527.9 215.7 528.1 216.5Z"/><path d="M520.8 228.0Q523.3 230.3 523.1 230.5L522.9 230.9Q522.7 231.2 521.7 231.7L520.2 232.3Q519.2 232.8 517.2 230.5L514.6 227.6Q512.6 225.4 513.1 224.7L513.8 223.9Q514.2 223.2 514.4 223.1L514.6 222.9Q514.8 222.8 517.4 225.0Z"/><path d="M511.6 225.7Q512.0 225.4 514.1 227.8L516.9 230.9Q519.0 233.3 518.0 234.4L516.7 235.8Q515.6 236.9 515.5 236.9L515.3 237.0Q515.2 237.0 513.8 233.8L512.0 229.6Q510.7 226.4 511.1 226.1Z"/><path d="M511.7 230.0Q510.5 227.1 509.9 227.3L509.1 227.6Q508.4 227.8 507.7 228.5L506.7 229.4Q506.0 230.2 508.0 232.4L510.6 235.4Q512.6 237.6 512.8 237.7L513.1 237.7Q513.3 237.7 513.7 237.4L514.2 237.0Q514.6 236.7 513.3 233.8Z"/><path d="M508.3 239.8Q506.5 240.4 505.3 237.6L503.7 233.9Q502.5 231.2 503.2 230.9L504.3 230.5Q505.1 230.2 507.3 232.7L510.2 236.0Q512.4 238.5 510.6 239.0Z"/><path d="M505.7 240.5Q505.9 240.3 504.8 237.8L503.3 234.4Q502.2 231.9 502.1 231.9L501.9 231.9Q501.8 231.9 501.3 232.1L500.6 232.3Q500.1 232.4 499.9 232.7L499.6 233.1Q499.4 233.3 500.3 235.9L501.6 239.4Q502.5 242.0 503.4 241.7L504.5 241.3Q505.3 241.0 505.5 240.8Z"/><path d="M499.8 236.1Q498.8 233.5 497.8 234.2L496.5 235.2Q495.4 235.9 496.9 238.3L498.7 241.5Q500.2 243.9 500.7 243.4L501.4 242.7Q502.0 242.2 501.0 239.6Z"/><path d="M499.4 244.8Q499.7 244.2 498.3 241.8L496.4 238.5Q495.0 236.1 494.8 236.1L494.6 236.2Q494.4 236.3 494.0 239.1L493.6 242.9Q493.2 245.7 493.3 246.0L493.4 246.5Q493.5 246.8 493.8 246.9L494.1 247.1Q494.4 247.2 495.7 246.9L497.4 246.4Q498.8 246.1 499.0 245.5Z"/><path d="M486.2 236.7Q486.7 236.3 487.6 236.0L488.7 235.5Q489.6 235.2 490.9 235.4L492.6 235.6Q493.8 235.8 493.5 238.9L492.9 243.0Q492.6 246.0 490.4 243.4L487.4 240.0Q485.2 237.5 485.7 237.1Z"/><path d="M486.5 246.7Q488.1 248.7 489.4 248.3L491.2 247.8Q492.5 247.3 492.4 247.0L492.3 246.5Q492.2 246.2 490.0 243.7L487.2 240.3Q485.0 237.8 484.8 237.9L484.5 238.0Q484.3 238.1 483.9 239.2L483.2 240.7Q482.7 241.9 484.4 243.9Z"/><path d="M487.2 249.4Q487.6 249.0 486.0 247.0L483.9 244.3Q482.4 242.3 481.4 243.0L480.1 243.9Q479.2 244.6 480.4 246.7L482.1 249.5Q483.3 251.6 484.2 251.3L485.3 250.8Q486.1 250.5 486.6 250.0Z"/><path d="M481.6 249.8Q482.8 251.9 482.5 252.3L482.0 252.9Q481.6 253.3 479.6 252.3L476.9 250.9Q474.9 249.9 474.4 249.2L473.9 248.1Q473.5 247.4 474.3 246.7L475.3 245.9Q476.2 245.3 476.9 245.2L477.9 245.0Q478.7 244.9 479.9 247.0Z"/><path d="M456.9 268.1Q456.8 267.5 455.1 265.2L452.9 262.0Q451.2 259.6 240.6 295.1L-40.3 342.3Q-251.0 377.7 -103.7 522.1L92.6 714.5Q239.9 858.8 305.1 682.0L392.1 446.3Q457.3 269.5 457.1 268.9Z"/><path d="M637.1 233.9Q600.3 233.4 587.4 230.9L570.0 227.6Q557.1 225.0 556.1 222.5L554.9 219.0Q554.0 216.5 554.6 216.2L555.4 215.8Q556.0 215.5 629.8 204.7L728.2 190.4Q802.0 179.6 942.7 163.2L1130.3 141.4Q1270.9 125.0 1301.3 153.9L1341.7 192.5Q1372.0 221.4 1177.3 225.5L917.6 230.9Q722.9 235.0 686.1 234.5Z"/><path d="M552.1 216.6Q551.6 216.6 551.0 217.0L550.3 217.5Q549.7 217.9 550.2 220.8L550.9 224.7Q551.4 227.7 551.5 227.7L551.6 227.7Q551.7 227.7 553.1 227.0L554.9 226.2Q556.2 225.5 555.3 222.8L554.0 219.2Q553.0 216.5 552.6 216.5Z"/><path d="M544.4 219.6Q544.9 219.3 546.1 219.0L547.8 218.6Q549.0 218.3 549.5 221.1L550.1 224.8Q550.6 227.6 550.6 227.6L550.5 227.6Q550.5 227.7 548.7 226.3L546.3 224.6Q544.4 223.3 544.1 222.4L543.7 221.2Q543.4 220.3 543.9 220.0Z"/><path d="M537.4 222.8Q536.5 223.7 536.1 224.5L535.6 225.6Q535.2 226.4 537.5 227.5L540.5 228.8Q542.7 229.9 542.9 227.9L543.2 225.4Q543.4 223.4 543.1 222.4L542.6 221.1Q542.3 220.1 541.8 220.2L541.1 220.2Q540.6 220.2 540.3 220.3L539.8 220.5Q539.4 220.6 538.5 221.5Z"/><path d="M542.3 234.5Q543.5 234.3 543.7 234.1L543.9 233.8Q544.0 233.7 543.5 232.7L542.7 231.3Q542.2 230.3 540.1 229.4L537.4 228.1Q535.4 227.2 534.8 227.7L534.0 228.4Q533.4 228.9 535.2 230.7L537.6 233.3Q539.3 235.1 540.6 234.9Z"/><path d="M536.0 238.9Q534.8 240.2 534.2 240.3L533.5 240.3Q532.9 240.3 532.8 240.1L532.6 239.8Q532.5 239.6 532.3 236.5L532.0 232.4Q531.8 229.3 532.1 229.2L532.4 229.1Q532.6 229.0 534.5 231.1L537.1 233.8Q539.0 235.9 537.7 237.2Z"/><path d="M531.6 236.4Q531.7 239.2 530.0 238.2L527.8 236.7Q526.1 235.7 525.6 234.7L525.1 233.3Q524.7 232.3 524.8 232.1L525.0 231.7Q525.2 231.4 525.9 230.9L526.9 230.1Q527.7 229.5 528.7 229.6L530.1 229.8Q531.2 229.9 531.3 232.7Z"/><path d="M523.5 239.9Q523.1 241.4 521.2 240.2L518.8 238.7Q516.9 237.5 517.8 236.6L519.0 235.3Q519.9 234.4 520.9 234.0L522.3 233.4Q523.3 232.9 523.7 233.9L524.2 235.3Q524.7 236.2 524.2 237.8Z"/><path d="M523.5 244.1Q523.8 244.9 522.8 245.6L521.6 246.7Q520.6 247.4 518.8 245.4L516.5 242.6Q514.7 240.6 514.6 240.2L514.5 239.7Q514.5 239.3 514.9 239.0L515.4 238.6Q515.8 238.2 515.9 238.2L516.1 238.1Q516.2 238.0 518.2 239.3L520.8 240.9Q522.8 242.2 523.1 243.0Z"/><path d="M518.0 250.2Q517.5 250.6 517.0 250.8L516.2 251.2Q515.7 251.4 515.5 251.4L515.3 251.4Q515.2 251.4 514.2 250.9L512.8 250.3Q511.7 249.8 511.7 249.8L511.7 249.7Q511.7 249.7 512.4 247.2L513.4 243.8Q514.2 241.3 515.9 243.2L518.2 245.8Q519.8 247.8 519.6 248.2L519.4 248.8Q519.2 249.2 518.7 249.6Z"/><path d="M513.3 239.8Q513.2 239.4 513.0 239.4L512.7 239.3Q512.5 239.3 510.8 239.8L508.5 240.6Q506.8 241.1 506.6 241.4L506.4 241.7Q506.2 241.9 507.3 244.1L508.9 247.1Q510.1 249.4 510.3 249.5L510.5 249.7Q510.7 249.8 511.5 247.1L512.6 243.4Q513.4 240.7 513.4 240.3Z"/><path d="M506.8 244.5Q505.7 242.5 504.9 242.8L503.9 243.1Q503.1 243.4 502.6 243.9L501.9 244.5Q501.4 245.0 501.1 245.6L500.7 246.3Q500.4 246.8 500.8 247.1L501.2 247.4Q501.5 247.7 503.8 248.2L506.9 248.8Q509.3 249.3 508.2 247.3Z"/><path d="M508.8 252.2Q510.1 250.8 510.1 250.8L510.1 250.7Q510.1 250.7 509.9 250.6L509.6 250.4Q509.4 250.3 506.9 249.8L503.5 249.1Q501.0 248.6 501.7 250.8L502.5 253.8Q503.2 256.0 504.0 255.9L505.0 255.7Q505.8 255.5 507.1 254.1Z"/><path d="M502.0 254.0Q502.7 256.3 502.5 256.5L502.2 256.8Q502.0 257.0 501.6 257.1L501.0 257.3Q500.6 257.5 498.8 255.2L496.5 252.2Q494.7 250.0 494.6 249.5L494.6 249.0Q494.5 248.6 495.9 248.2L497.8 247.8Q499.2 247.4 499.6 247.8L500.0 248.2Q500.4 248.5 501.1 250.9Z"/><path d="M494.4 253.8Q494.7 250.6 496.3 252.7L498.4 255.4Q500.0 257.4 498.8 258.3L497.3 259.6Q496.1 260.5 495.3 260.7L494.3 260.9Q493.5 261.1 493.9 257.9Z"/><path d="M488.2 250.6Q488.6 250.1 489.8 249.8L491.4 249.2Q492.7 248.9 492.9 249.0L493.3 249.1Q493.5 249.2 493.6 249.6L493.7 250.1Q493.7 250.5 493.4 253.6L492.9 257.8Q492.5 261.0 492.3 261.1L492.1 261.3Q492.0 261.4 490.5 258.4L488.6 254.5Q487.2 251.5 487.6 251.1Z"/><path d="M485.7 251.8Q486.6 251.5 488.1 254.7L490.2 258.9Q491.7 262.1 491.2 262.7L490.5 263.5Q490.0 264.1 487.7 261.4L484.6 257.6Q482.3 254.9 482.3 254.6L482.4 254.3Q482.4 254.1 482.8 253.6L483.3 253.1Q483.7 252.6 484.6 252.3Z"/><path d="M481.0 256.5Q481.9 255.6 484.0 258.1L486.9 261.6Q489.0 264.1 489.0 264.2L489.0 264.2Q489.0 264.3 488.6 264.8L488.2 265.4Q487.9 265.9 485.2 263.8L481.6 260.9Q478.9 258.7 479.8 257.8Z"/><path d="M477.8 259.1Q478.4 258.9 481.3 261.2L485.1 264.3Q488.0 266.6 486.9 269.2L485.3 272.7Q484.1 275.3 483.4 274.3L482.5 272.9Q481.8 271.9 480.3 268.3L478.1 263.4Q476.5 259.8 477.1 259.5Z"/><path d="M469.4 264.1Q468.9 264.3 472.6 272.1L477.6 282.6Q481.3 290.5 481.8 286.0L482.4 280.0Q482.9 275.5 482.2 274.5L481.3 273.2Q480.7 272.2 477.6 269.7L473.6 266.2Q470.5 263.7 470.0 263.8Z"/><path d="M467.7 264.2Q467.4 264.2 467.3 264.3L467.1 264.4Q466.9 264.4 464.6 266.2L461.6 268.7Q459.4 270.5 390.0 458.5L297.6 709.0Q228.3 896.9 299.6 968.5L394.6 1064.0Q465.8 1135.5 470.5 882.4L476.7 545.0Q481.3 291.9 477.4 283.6L472.2 272.6Q468.3 264.3 468.0 264.3Z"/><path d="M592.4 236.9Q606.3 235.8 591.4 232.9L571.6 229.1Q556.8 226.2 555.3 226.9L553.3 227.8Q551.9 228.5 554.3 231.8L557.5 236.2Q559.9 239.5 573.8 238.4Z"/><path d="M550.0 235.6Q546.5 234.1 548.0 232.7L549.8 230.8Q551.3 229.4 551.3 229.4L551.4 229.3Q551.4 229.3 551.5 229.3L551.6 229.3Q551.7 229.3 553.8 232.2L556.7 236.1Q558.8 239.0 558.5 239.1L558.2 239.2Q558.0 239.2 554.6 237.7Z"/><path d="M535.6 241.2Q535.2 240.8 536.5 239.5L538.2 237.7Q539.5 236.3 541.0 236.0L542.9 235.6Q544.3 235.3 544.3 235.4L544.3 235.4Q544.3 235.5 543.9 238.0L543.4 241.3Q543.0 243.8 541.0 243.3L538.4 242.6Q536.5 242.1 536.1 241.8Z"/><path d="M538.4 243.1Q536.6 242.6 537.2 245.0L538.0 248.1Q538.6 250.4 538.6 250.4L538.7 250.4Q538.7 250.4 539.7 250.2L541.0 249.9Q541.9 249.6 542.3 249.4L542.7 249.1Q543.0 248.9 543.3 248.3L543.8 247.4Q544.1 246.8 543.7 246.0L543.1 244.9Q542.7 244.2 540.9 243.7Z"/><path d="M535.2 241.7Q534.8 241.3 534.2 241.3L533.5 241.3Q532.9 241.3 532.5 241.7L532.1 242.3Q531.7 242.7 532.3 245.5L533.0 249.3Q533.6 252.2 535.0 251.7L536.8 251.1Q538.2 250.7 537.6 248.3L536.7 245.0Q536.1 242.6 535.7 242.2Z"/><path d="M527.2 244.9Q525.5 245.6 527.2 247.8L529.5 250.6Q531.3 252.7 531.6 252.6L532.2 252.4Q532.6 252.3 532.7 252.2L532.8 252.0Q533.0 251.9 532.5 249.3L531.8 245.8Q531.3 243.1 529.5 243.9Z"/><path d="M524.9 246.3Q525.0 246.3 526.6 248.4L528.8 251.1Q530.4 253.1 529.8 253.7L529.1 254.5Q528.5 255.1 526.3 253.6L523.3 251.6Q521.1 250.1 521.3 249.7L521.6 249.1Q521.8 248.7 522.7 248.0L523.9 247.0Q524.8 246.3 524.9 246.3Z"/><path d="M527.7 257.9Q527.7 257.8 528.0 257.3L528.2 256.5Q528.4 255.9 526.0 254.3L522.8 252.1Q520.3 250.5 519.8 250.9L519.1 251.5Q518.5 252.0 520.4 254.1L522.8 257.0Q524.6 259.2 525.5 258.9L526.6 258.5Q527.4 258.1 527.5 258.0Z"/><path d="M522.4 257.3Q524.2 259.4 523.8 259.7L523.3 260.2Q522.9 260.5 521.9 260.8L520.5 261.2Q519.5 261.5 518.6 259.0L517.3 255.7Q516.4 253.3 517.0 253.0L517.8 252.7Q518.3 252.4 520.1 254.5Z"/><path d="M514.1 256.2Q515.2 253.7 515.3 253.7L515.5 253.7Q515.7 253.7 516.6 256.1L517.8 259.3Q518.6 261.7 518.5 261.9L518.3 262.2Q518.1 262.4 517.3 262.8L516.3 263.2Q515.6 263.6 514.5 263.5L513.0 263.3Q511.8 263.2 511.8 262.8L511.7 262.3Q511.7 261.9 512.7 259.4Z"/><path d="M512.0 251.8Q510.8 251.3 509.5 252.7L507.7 254.7Q506.4 256.2 507.7 257.9L509.5 260.2Q510.9 261.9 512.0 259.3L513.5 255.7Q514.7 253.0 513.5 252.5Z"/><path d="M507.3 258.2Q506.0 256.4 505.2 256.6L504.1 256.8Q503.3 256.9 503.1 257.1L502.8 257.4Q502.6 257.6 503.9 260.4L505.7 264.2Q507.0 267.1 508.1 266.1L509.6 264.7Q510.7 263.7 510.7 263.3L510.6 262.7Q510.5 262.3 509.2 260.5Z"/><path d="M503.6 260.5Q502.3 257.6 501.8 257.8L501.2 258.0Q500.8 258.1 499.5 259.2L497.7 260.6Q496.4 261.6 499.4 263.5L503.4 266.0Q506.4 267.9 506.5 267.7L506.6 267.5Q506.7 267.3 505.4 264.4Z"/><path d="M505.3 270.1Q505.1 271.0 501.1 269.3L495.6 267.1Q491.5 265.4 491.5 265.3L491.6 265.3Q491.6 265.2 492.1 264.7L492.7 263.9Q493.2 263.3 493.4 263.2L493.6 263.0Q493.8 262.9 494.6 262.7L495.6 262.5Q496.4 262.3 499.2 264.1L502.9 266.4Q505.6 268.1 505.5 269.0Z"/><path d="M557.0 252.2Q557.6 255.3 557.7 255.3L557.8 255.4Q557.9 255.4 607.1 250.8L672.8 244.8Q722.0 240.2 685.5 239.8L636.7 239.1Q600.1 238.7 588.0 239.6L571.8 240.9Q559.7 241.9 559.5 242.0L559.2 242.1Q558.9 242.1 557.9 243.0L556.6 244.1Q555.5 244.9 556.2 248.0Z"/><path d="M553.6 255.4Q552.1 255.2 552.1 252.4L552.2 248.8Q552.2 246.0 553.0 245.6L554.1 245.1Q554.9 244.7 555.6 248.0L556.5 252.4Q557.2 255.7 555.7 255.6Z"/><path d="M545.9 251.9Q543.8 250.3 543.6 250.5L543.2 250.8Q542.9 251.0 543.7 253.8L544.9 257.6Q545.8 260.5 545.9 260.4L546.2 260.3Q546.3 260.2 547.6 258.9L549.3 257.1Q550.5 255.7 548.5 254.1Z"/><path d="M539.8 251.2Q538.8 251.4 539.7 254.6L540.9 258.9Q541.7 262.2 542.6 262.2L543.7 262.1Q544.5 262.1 544.6 262.1L544.6 262.1Q544.7 262.1 544.9 261.8L545.3 261.5Q545.5 261.3 544.5 258.1L543.2 253.8Q542.2 250.6 541.2 250.8Z"/><path d="M538.4 251.9Q538.5 251.9 539.3 254.9L540.4 258.8Q541.2 261.8 540.6 262.0L539.9 262.2Q539.4 262.4 537.7 259.8L535.4 256.2Q533.7 253.6 533.8 253.5L534.0 253.3Q534.1 253.2 535.4 252.8L537.1 252.3Q538.4 251.9 538.4 251.9Z"/><path d="M531.5 260.0Q528.8 258.2 529.0 257.7L529.3 256.9Q529.5 256.3 530.2 255.6L531.0 254.8Q531.7 254.1 532.1 254.0L532.7 253.7Q533.1 253.6 534.9 256.4L537.3 260.2Q539.1 263.0 538.7 263.3L538.1 263.8Q537.6 264.1 535.0 262.3Z"/><path d="M528.8 263.6Q527.8 259.0 527.0 259.4L525.8 259.8Q524.9 260.1 524.5 260.5L524.0 261.0Q523.6 261.3 525.5 266.2L527.9 272.7Q529.8 277.5 530.1 276.5L530.6 275.2Q531.0 274.2 530.0 269.6Z"/><path d="M522.2 262.0Q523.2 261.8 525.0 266.3L527.2 272.3Q529.0 276.8 528.9 277.0L528.9 277.3Q528.8 277.4 526.0 273.2L522.2 267.6Q519.3 263.4 519.5 263.2L519.7 262.9Q519.9 262.7 520.9 262.4Z"/><path d="M518.0 264.1Q518.8 263.7 521.7 268.0L525.6 273.7Q528.5 278.0 527.9 285.0L527.1 294.3Q526.5 301.3 523.4 290.4L519.3 275.9Q516.2 265.0 517.0 264.6Z"/><path d="M510.4 265.5Q511.5 264.5 512.7 264.7L514.3 264.8Q515.5 265.0 518.7 276.4L523.1 291.6Q526.3 303.0 525.0 392.8L523.3 512.5Q522.1 602.4 517.5 503.1L511.5 370.7Q506.9 271.5 507.1 270.6L507.3 269.3Q507.4 268.4 507.5 268.3L507.7 268.0Q507.8 267.9 508.9 266.9Z"/><path d="M673.8 247.1Q723.4 242.6 918.6 238.5L1178.9 233.0Q1374.0 228.9 1376.3 231.0L1379.2 233.7Q1381.5 235.7 1217.5 396.1L998.8 609.9Q834.8 770.3 753.1 623.3L644.1 427.3Q562.4 280.3 560.6 275.8L558.1 269.7Q556.2 265.2 556.8 263.0L557.6 260.0Q558.1 257.8 607.7 253.3Z"/><path d="M546.5 262.1Q546.3 262.2 546.1 262.4L545.7 262.7Q545.5 262.9 550.5 268.8L557.1 276.6Q562.1 282.4 560.0 277.4L557.3 270.7Q555.2 265.6 552.7 264.5L549.4 263.0Q546.9 261.9 546.8 262.0Z"/><path d="M545.2 263.5Q545.3 263.5 550.0 269.1L556.4 276.6Q561.2 282.2 648.2 438.6L764.1 647.2Q851.1 803.6 765.5 888.8L651.5 1002.4Q566.0 1087.6 559.7 840.4L551.4 510.8Q545.1 263.6 545.2 263.5Z"/><path d="M536.5 267.9Q538.3 265.0 538.8 264.7L539.4 264.3Q539.8 263.9 540.4 263.7L541.2 263.5Q541.8 263.3 542.6 263.3L543.7 263.3Q544.5 263.3 551.1 522.2L559.8 867.4Q566.4 1126.4 555.1 1137.6L540.2 1152.7Q528.9 1163.9 527.6 997.0L525.9 774.4Q524.5 607.4 525.8 516.3L527.6 394.7Q528.8 303.5 529.5 296.1L530.3 286.2Q531.0 278.8 531.0 278.6L531.1 278.3Q531.1 278.1 531.5 277.1L532.0 275.7Q532.3 274.7 534.1 271.8Z"/></g>
<ellipse cx="477.3" cy="200.6" rx="0.57" ry="0.40" fill="#4e3f92" opacity="0.75"/>
<ellipse cx="460.1" cy="222.5" rx="0.73" ry="0.55" fill="#4e3f92" opacity="0.75"/>
<ellipse cx="531.1" cy="209.3" rx="0.61" ry="0.43" fill="#4e3f92" opacity="0.75"/>
<ellipse cx="470.9" cy="200.8" rx="0.51" ry="0.58" fill="#4e3f92" opacity="0.75"/>
<ellipse cx="537.6" cy="252.2" rx="0.69" ry="0.41" fill="#4e3f92" opacity="0.75"/>
<ellipse cx="484.8" cy="239.0" rx="0.67" ry="0.57" fill="#4e3f92" opacity="0.75"/>
<ellipse cx="542.8" cy="199.4" rx="0.63" ry="0.52" fill="#4e3f92" opacity="0.75"/>
<ellipse cx="504.8" cy="206.0" rx="0.59" ry="0.38" fill="#4e3f92" opacity="0.75"/>
<ellipse cx="548.3" cy="256.5" rx="0.61" ry="0.43" fill="#4e3f92" opacity="0.75"/>
<ellipse cx="545.7" cy="235.0" rx="0.71" ry="0.56" fill="#4e3f92" opacity="0.75"/>
<ellipse cx="505.0" cy="223.4" rx="0.63" ry="0.46" fill="#4e3f92" opacity="0.75"/>
<ellipse cx="469.7" cy="215.4" rx="0.69" ry="0.37" fill="#4e3f92" opacity="0.75"/>
<ellipse cx="458.0" cy="239.0" rx="0.53" ry="0.49" fill="#4e3f92" opacity="0.75"/>
<ellipse cx="501.2" cy="218.2" rx="0.75" ry="0.41" fill="#4e3f92" opacity="0.75"/>
<ellipse cx="495.3" cy="207.9" rx="0.64" ry="0.43" fill="#4e3f92" opacity="0.75"/>
<ellipse cx="489.5" cy="247.8" rx="0.55" ry="0.49" fill="#4e3f92" opacity="0.75"/>
<ellipse cx="545.3" cy="200.4" rx="0.47" ry="0.41" fill="#4e3f92" opacity="0.75"/>
<ellipse cx="531.1" cy="238.2" rx="0.52" ry="0.44" fill="#4e3f92" opacity="0.75"/>
<ellipse cx="471.4" cy="226.7" rx="0.46" ry="0.53" fill="#4e3f92" opacity="0.75"/>
<ellipse cx="544.4" cy="263.1" rx="0.67" ry="0.59" fill="#4e3f92" opacity="0.75"/>
<ellipse cx="455.1" cy="214.2" rx="0.74" ry="0.55" fill="#4e3f92" opacity="0.75"/>
<ellipse cx="495.0" cy="262.2" rx="0.64" ry="0.56" fill="#4e3f92" opacity="0.75"/>
<ellipse cx="483.1" cy="207.0" rx="0.58" ry="0.39" fill="#4e3f92" opacity="0.75"/>
<ellipse cx="492.1" cy="263.6" rx="0.55" ry="0.36" fill="#4e3f92" opacity="0.75"/>
<ellipse cx="457.9" cy="205.4" rx="0.69" ry="0.45" fill="#4e3f92" opacity="0.75"/>
<ellipse cx="482.8" cy="200.1" rx="0.74" ry="0.46" fill="#4e3f92" opacity="0.75"/>
<ellipse cx="474.4" cy="197.4" rx="0.47" ry="0.40" fill="#4e3f92" opacity="0.75"/>
<ellipse cx="522.1" cy="204.0" rx="0.46" ry="0.48" fill="#4e3f92" opacity="0.75"/>
<ellipse cx="478.6" cy="266.2" rx="0.49" ry="0.49" fill="#4e3f92" opacity="0.75"/>
<ellipse cx="532.0" cy="223.0" rx="0.75" ry="0.47" fill="#4e3f92" opacity="0.75"/>
<ellipse cx="477.9" cy="223.1" rx="0.46" ry="0.46" fill="#4e3f92" opacity="0.75"/>
<ellipse cx="478.6" cy="258.3" rx="0.70" ry="0.48" fill="#4e3f92" opacity="0.75"/>
<ellipse cx="456.5" cy="211.7" rx="0.52" ry="0.41" fill="#4e3f92" opacity="0.75"/>
<ellipse cx="476.8" cy="256.8" rx="0.49" ry="0.37" fill="#4e3f92" opacity="0.75"/>
<ellipse cx="547.7" cy="234.5" rx="0.75" ry="0.46" fill="#4e3f92" opacity="0.75"/>
<ellipse cx="544.9" cy="241.0" rx="0.69" ry="0.54" fill="#4e3f92" opacity="0.75"/>
<ellipse cx="503.6" cy="199.8" rx="0.51" ry="0.57" fill="#4e3f92" opacity="0.75"/>
<ellipse cx="544.8" cy="260.9" rx="0.55" ry="0.52" fill="#4e3f92" opacity="0.75"/>
<ellipse cx="534.6" cy="240.2" rx="0.69" ry="0.49" fill="#4e3f92" opacity="0.75"/>
<ellipse cx="519.9" cy="243.3" rx="0.53" ry="0.58" fill="#4e3f92" opacity="0.75"/>
<ellipse cx="550.6" cy="198.5" rx="0.74" ry="0.59" fill="#4e3f92" opacity="0.75"/>
<ellipse cx="521.3" cy="196.3" rx="0.72" ry="0.39" fill="#4e3f92" opacity="0.75"/>
<ellipse cx="551.8" cy="242.0" rx="0.47" ry="0.40" fill="#4e3f92" opacity="0.75"/>
<ellipse cx="517.9" cy="234.8" rx="0.67" ry="0.58" fill="#4e3f92" opacity="0.75"/>
<ellipse cx="475.5" cy="193.2" rx="0.73" ry="0.36" fill="#4e3f92" opacity="0.75"/>
<ellipse cx="542.4" cy="201.5" rx="0.69" ry="0.55" fill="#4e3f92" opacity="0.75"/>
<ellipse cx="542.6" cy="233.4" rx="0.71" ry="0.41" fill="#4e3f92" opacity="0.75"/>
<ellipse cx="521.6" cy="217.3" rx="0.72" ry="0.55" fill="#4e3f92" opacity="0.75"/>
<ellipse cx="501.3" cy="231.6" rx="0.46" ry="0.37" fill="#4e3f92" opacity="0.75"/>
<ellipse cx="513.8" cy="228.9" rx="0.71" ry="0.51" fill="#4e3f92" opacity="0.75"/>
<ellipse cx="467.4" cy="219.6" rx="0.68" ry="0.49" fill="#4e3f92" opacity="0.75"/>
<ellipse cx="454.4" cy="254.5" rx="0.70" ry="0.38" fill="#4e3f92" opacity="0.75"/>
<ellipse cx="508.6" cy="221.0" rx="0.69" ry="0.43" fill="#4e3f92" opacity="0.75"/>
<ellipse cx="477.1" cy="228.7" rx="0.74" ry="0.38" fill="#4e3f92" opacity="0.75"/>
<ellipse cx="464.9" cy="238.6" rx="0.72" ry="0.48" fill="#4e3f92" opacity="0.75"/>
<ellipse cx="497.4" cy="256.0" rx="0.68" ry="0.38" fill="#4e3f92" opacity="0.75"/>
<ellipse cx="542.9" cy="207.4" rx="0.54" ry="0.56" fill="#4e3f92" opacity="0.75"/>
<ellipse cx="496.3" cy="251.6" rx="0.50" ry="0.57" fill="#4e3f92" opacity="0.75"/>
<ellipse cx="471.2" cy="204.0" rx="0.60" ry="0.44" fill="#4e3f92" opacity="0.75"/>
<ellipse cx="508.4" cy="259.4" rx="0.66" ry="0.36" fill="#4e3f92" opacity="0.75"/>
<ellipse cx="485.0" cy="233.0" rx="0.60" ry="0.53" fill="#4e3f92" opacity="0.75"/>
<ellipse cx="502.5" cy="198.6" rx="0.52" ry="0.56" fill="#4e3f92" opacity="0.75"/>
<ellipse cx="489.6" cy="249.3" rx="0.75" ry="0.51" fill="#4e3f92" opacity="0.75"/>
<ellipse cx="522.1" cy="237.7" rx="0.54" ry="0.58" fill="#4e3f92" opacity="0.75"/>
<ellipse cx="500.8" cy="259.9" rx="0.54" ry="0.57" fill="#4e3f92" opacity="0.75"/>
<ellipse cx="533.3" cy="238.0" rx="0.58" ry="0.39" fill="#4e3f92" opacity="0.75"/>
<ellipse cx="531.7" cy="219.6" rx="0.65" ry="0.39" fill="#4e3f92" opacity="0.75"/>
<ellipse cx="461.7" cy="203.6" rx="0.69" ry="0.40" fill="#4e3f92" opacity="0.75"/>
<ellipse cx="545.0" cy="220.3" rx="0.62" ry="0.44" fill="#4e3f92" opacity="0.75"/>
<ellipse cx="516.4" cy="199.9" rx="0.57" ry="0.58" fill="#4e3f92" opacity="0.75"/>
<ellipse cx="471.6" cy="241.0" rx="0.55" ry="0.43" fill="#4e3f92" opacity="0.75"/>
<ellipse cx="455.7" cy="194.5" rx="0.73" ry="0.56" fill="#4e3f92" opacity="0.75"/>
<ellipse cx="534.8" cy="252.3" rx="0.74" ry="0.40" fill="#4e3f92" opacity="0.75"/>
<ellipse cx="512.7" cy="229.4" rx="0.62" ry="0.59" fill="#4e3f92" opacity="0.75"/>
<ellipse cx="530.6" cy="264.1" rx="0.49" ry="0.52" fill="#4e3f92" opacity="0.75"/>
<ellipse cx="522.0" cy="247.7" rx="0.64" ry="0.56" fill="#4e3f92" opacity="0.75"/>
<ellipse cx="484.1" cy="261.1" rx="0.57" ry="0.50" fill="#4e3f92" opacity="0.75"/>
<ellipse cx="544.5" cy="244.6" rx="0.54" ry="0.42" fill="#4e3f92" opacity="0.75"/>
<ellipse cx="486.5" cy="239.0" rx="0.75" ry="0.58" fill="#4e3f92" opacity="0.75"/>
<ellipse cx="494.0" cy="222.4" rx="0.70" ry="0.43" fill="#4e3f92" opacity="0.75"/>
<ellipse cx="495.2" cy="194.0" rx="0.51" ry="0.49" fill="#4e3f92" opacity="0.75"/>
<ellipse cx="523.8" cy="238.1" rx="0.56" ry="0.59" fill="#4e3f92" opacity="0.75"/>
<ellipse cx="516.7" cy="204.5" rx="0.47" ry="0.59" fill="#4e3f92" opacity="0.75"/>
<ellipse cx="553.8" cy="260.5" rx="0.63" ry="0.43" fill="#4e3f92" opacity="0.75"/>
<ellipse cx="462.6" cy="211.9" rx="0.52" ry="0.58" fill="#4e3f92" opacity="0.75"/>
<ellipse cx="544.1" cy="250.1" rx="0.49" ry="0.42" fill="#4e3f92" opacity="0.75"/>
<ellipse cx="483.7" cy="262.6" rx="0.50" ry="0.55" fill="#4e3f92" opacity="0.75"/>
<ellipse cx="522.5" cy="233.2" rx="0.74" ry="0.42" fill="#4e3f92" opacity="0.75"/>
<ellipse cx="506.6" cy="204.6" rx="0.48" ry="0.37" fill="#4e3f92" opacity="0.75"/>
<ellipse cx="485.5" cy="201.9" rx="0.47" ry="0.60" fill="#4e3f92" opacity="0.75"/>
<ellipse cx="482.7" cy="258.3" rx="0.66" ry="0.54" fill="#4e3f92" opacity="0.75"/>
<ellipse cx="519.9" cy="262.9" rx="0.71" ry="0.53" fill="#4e3f92" opacity="0.75"/>
<ellipse cx="510.2" cy="243.9" rx="0.67" ry="0.49" fill="#4e3f92" opacity="0.75"/>
<ellipse cx="504.4" cy="204.3" rx="0.70" ry="0.48" fill="#4e3f92" opacity="0.75"/>
<ellipse cx="460.2" cy="205.3" rx="0.71" ry="0.42" fill="#4e3f92" opacity="0.75"/>
<ellipse cx="493.1" cy="243.1" rx="0.71" ry="0.44" fill="#4e3f92" opacity="0.75"/>
<ellipse cx="492.6" cy="224.1" rx="0.46" ry="0.57" fill="#4e3f92" opacity="0.75"/>
<ellipse cx="455.2" cy="263.5" rx="0.50" ry="0.40" fill="#4e3f92" opacity="0.75"/>
<ellipse cx="539.6" cy="253.4" rx="0.52" ry="0.49" fill="#4e3f92" opacity="0.75"/>
<ellipse cx="501.8" cy="245.7" rx="0.51" ry="0.56" fill="#4e3f92" opacity="0.75"/>
<ellipse cx="554.6" cy="244.9" rx="0.73" ry="0.58" fill="#4e3f92" opacity="0.75"/>
<ellipse cx="491.9" cy="255.2" rx="0.70" ry="0.50" fill="#4e3f92" opacity="0.75"/>
<ellipse cx="464.2" cy="238.5" rx="0.72" ry="0.43" fill="#4e3f92" opacity="0.75"/>
<ellipse cx="519.1" cy="258.9" rx="0.63" ry="0.37" fill="#4e3f92" opacity="0.75"/>
<ellipse cx="517.6" cy="211.8" rx="0.71" ry="0.52" fill="#4e3f92" opacity="0.75"/>
<ellipse cx="484.6" cy="258.7" rx="0.64" ry="0.44" fill="#4e3f92" opacity="0.75"/>
<ellipse cx="538.1" cy="258.4" rx="0.72" ry="0.57" fill="#4e3f92" opacity="0.75"/>
<ellipse cx="520.3" cy="244.3" rx="0.63" ry="0.49" fill="#4e3f92" opacity="0.75"/>
<ellipse cx="553.7" cy="218.9" rx="0.47" ry="0.53" fill="#4e3f92" opacity="0.75"/>
<ellipse cx="504.0" cy="233.1" rx="0.63" ry="0.42" fill="#4e3f92" opacity="0.75"/>
<ellipse cx="473.7" cy="198.2" rx="0.68" ry="0.58" fill="#4e3f92" opacity="0.75"/>
<ellipse cx="524.2" cy="201.6" rx="0.74" ry="0.56" fill="#4e3f92" opacity="0.75"/>
<ellipse cx="505.1" cy="193.1" rx="0.70" ry="0.51" fill="#4e3f92" opacity="0.75"/>
<ellipse cx="516.6" cy="194.3" rx="0.67" ry="0.37" fill="#4e3f92" opacity="0.75"/>
<ellipse cx="501.9" cy="203.6" rx="0.56" ry="0.57" fill="#4e3f92" opacity="0.75"/>
<ellipse cx="529.4" cy="252.9" rx="0.54" ry="0.45" fill="#4e3f92" opacity="0.75"/>
<ellipse cx="514.8" cy="195.5" rx="0.57" ry="0.59" fill="#4e3f92" opacity="0.75"/>
<ellipse cx="530.0" cy="256.3" rx="0.54" ry="0.53" fill="#4e3f92" opacity="0.75"/>
<ellipse cx="533.5" cy="244.7" rx="0.58" ry="0.40" fill="#4e3f92" opacity="0.75"/>
<ellipse cx="455.1" cy="258.1" rx="0.73" ry="0.43" fill="#4e3f92" opacity="0.75"/>
<ellipse cx="530.2" cy="222.9" rx="0.64" ry="0.56" fill="#4e3f92" opacity="0.75"/>
<ellipse cx="486.0" cy="238.5" rx="0.53" ry="0.48" fill="#4e3f92" opacity="0.75"/>
<ellipse cx="456.4" cy="212.3" rx="0.54" ry="0.58" fill="#4e3f92" opacity="0.75"/>
<ellipse cx="466.8" cy="248.7" rx="0.48" ry="0.60" fill="#4e3f92" opacity="0.75"/>
<ellipse cx="470.2" cy="199.8" rx="0.51" ry="0.58" fill="#4e3f92" opacity="0.75"/>
<ellipse cx="521.3" cy="258.4" rx="0.60" ry="0.39" fill="#4e3f92" opacity="0.75"/>
<ellipse cx="487.9" cy="226.4" rx="0.75" ry="0.40" fill="#4e3f92" opacity="0.75"/>
<ellipse cx="478.1" cy="254.9" rx="0.48" ry="0.59" fill="#4e3f92" opacity="0.75"/>
<ellipse cx="483.5" cy="234.6" rx="0.65" ry="0.58" fill="#4e3f92" opacity="0.75"/>
<ellipse cx="461.0" cy="255.2" rx="0.50" ry="0.53" fill="#4e3f92" opacity="0.75"/>
<ellipse cx="456.1" cy="249.3" rx="0.50" ry="0.41" fill="#4e3f92" opacity="0.75"/>
<ellipse cx="456.8" cy="216.8" rx="0.55" ry="0.60" fill="#4e3f92" opacity="0.75"/>
<ellipse cx="515.0" cy="219.7" rx="0.75" ry="0.40" fill="#4e3f92" opacity="0.75"/>
<ellipse cx="475.2" cy="263.2" rx="0.74" ry="0.52" fill="#4e3f92" opacity="0.75"/>
<ellipse cx="552.8" cy="197.2" rx="0.72" ry="0.53" fill="#4e3f92" opacity="0.75"/>
<ellipse cx="521.2" cy="254.9" rx="0.48" ry="0.41" fill="#4e3f92" opacity="0.75"/>
<ellipse cx="467.3" cy="228.1" rx="0.61" ry="0.49" fill="#4e3f92" opacity="0.75"/>
<ellipse cx="490.1" cy="247.6" rx="0.70" ry="0.54" fill="#4e3f92" opacity="0.75"/>
<ellipse cx="457.2" cy="204.2" rx="0.52" ry="0.42" fill="#4e3f92" opacity="0.75"/>
<ellipse cx="511.7" cy="207.3" rx="0.64" ry="0.44" fill="#4e3f92" opacity="0.75"/>
<ellipse cx="490.3" cy="245.0" rx="0.73" ry="0.41" fill="#4e3f92" opacity="0.75"/>
<ellipse cx="488.7" cy="265.0" rx="0.51" ry="0.37" fill="#4e3f92" opacity="0.75"/>
<ellipse cx="472.7" cy="253.6" rx="0.67" ry="0.59" fill="#4e3f92" opacity="0.75"/>
<ellipse cx="503.9" cy="196.0" rx="0.54" ry="0.53" fill="#4e3f92" opacity="0.75"/>
<ellipse cx="493.3" cy="203.2" rx="0.56" ry="0.47" fill="#4e3f92" opacity="0.75"/>
<ellipse cx="489.5" cy="225.8" rx="0.49" ry="0.37" fill="#4e3f92" opacity="0.75"/>
<ellipse cx="533.0" cy="246.7" rx="0.58" ry="0.39" fill="#4e3f92" opacity="0.75"/>
<ellipse cx="483.4" cy="234.0" rx="0.72" ry="0.48" fill="#4e3f92" opacity="0.75"/>
<ellipse cx="552.3" cy="231.7" rx="0.50" ry="0.51" fill="#4e3f92" opacity="0.75"/>
<ellipse cx="514.3" cy="237.0" rx="0.67" ry="0.37" fill="#4e3f92" opacity="0.75"/>
<ellipse cx="497.7" cy="251.7" rx="0.49" ry="0.37" fill="#4e3f92" opacity="0.75"/>
<ellipse cx="471.9" cy="214.0" rx="0.58" ry="0.44" fill="#4e3f92" opacity="0.75"/>
<ellipse cx="517.8" cy="205.5" rx="0.55" ry="0.52" fill="#4e3f92" opacity="0.75"/>
<ellipse cx="508.7" cy="263.4" rx="0.73" ry="0.42" fill="#4e3f92" opacity="0.75"/>
<ellipse cx="487.4" cy="232.5" rx="0.61" ry="0.45" fill="#4e3f92" opacity="0.75"/>
<ellipse cx="541.0" cy="207.5" rx="0.59" ry="0.39" fill="#4e3f92" opacity="0.75"/>
<ellipse cx="543.1" cy="236.7" rx="0.75" ry="0.39" fill="#4e3f92" opacity="0.75"/>
<ellipse cx="525.6" cy="236.8" rx="0.47" ry="0.56" fill="#4e3f92" opacity="0.75"/>
<ellipse cx="542.2" cy="198.9" rx="0.73" ry="0.55" fill="#4e3f92" opacity="0.75"/>
<ellipse cx="514.8" cy="232.9" rx="0.53" ry="0.37" fill="#4e3f92" opacity="0.75"/>
<g fill="#f2f1f5"><polygon points="474.0,193.0 480.0,193.0 479.0,205.0 476.0,210.0"/><polygon points="470.0,205.0 474.0,205.0 481.0,235.0 484.0,250.0 480.0,250.0 477.0,238.0"/><polygon points="532.5,193.0 538.0,193.0 545.0,216.0 553.0,249.0 555.0,266.4 551.5,266.4 546.0,245.0 538.0,216.0"/><polygon points="509.5,193.0 513.5,193.0 519.0,210.0 525.0,230.0 532.0,255.0 530.0,255.0 522.5,232.0 515.0,210.0"/><polygon points="551.0,193.0 555.0,193.0 555.0,225.0 553.0,215.0"/></g>
<rect x="537.0" y="262.4" width="14.5" height="1.8" fill="#111"/><text x="544.2" y="261.2" font-size="4" text-anchor="middle" fill="#222">25 μm</text></g>
<g clip-path="url(#hc4)"><rect x="558.8" y="193.2" width="101.4" height="73.0" fill="#dd74ae"/>
<g stroke="#f0a8cc" stroke-width="0.6" opacity="0.55" fill="none"><path d="M580.3 229.7L586.7 230.0"/><path d="M637.5 208.0L646.6 212.1"/><path d="M646.5 219.4L659.0 225.0"/><path d="M628.1 231.0L637.8 235.4"/><path d="M611.3 219.1L625.2 219.8"/><path d="M593.4 264.7L606.1 265.3"/><path d="M557.0 211.8L566.3 212.3"/><path d="M636.6 204.0L646.2 208.3"/><path d="M589.4 250.2L602.7 250.9"/><path d="M630.7 204.9L641.5 209.7"/><path d="M598.6 254.1L607.8 254.5"/><path d="M645.1 262.6L656.4 267.7"/><path d="M637.9 250.9L647.3 255.1"/><path d="M571.9 265.0L581.1 265.4"/><path d="M556.1 224.7L564.8 225.1"/><path d="M576.2 263.2L582.2 263.5"/><path d="M647.5 232.0L653.5 234.7"/><path d="M592.1 225.9L598.2 226.2"/><path d="M629.9 237.9L642.5 243.6"/><path d="M636.6 247.7L649.3 253.4"/><path d="M648.8 238.2L657.8 242.2"/><path d="M605.3 252.3L618.6 252.9"/><path d="M640.6 253.4L645.4 255.5"/><path d="M596.3 199.3L606.6 199.8"/><path d="M611.3 233.8L624.0 234.5"/><path d="M576.5 246.1L586.7 246.7"/><path d="M577.7 264.5L583.1 264.8"/><path d="M600.8 232.0L611.1 232.6"/><path d="M652.5 230.8L664.3 236.1"/><path d="M585.5 228.2L591.8 228.5"/><path d="M617.6 223.7L629.7 224.3"/><path d="M563.4 226.8L577.0 227.4"/><path d="M554.4 241.1L565.5 241.7"/><path d="M628.1 231.9L636.7 235.8"/><path d="M650.9 211.6L661.3 216.2"/><path d="M622.3 244.5L630.8 248.3"/><path d="M556.8 249.6L564.3 250.0"/><path d="M632.7 262.8L643.6 267.7"/><path d="M595.4 255.6L603.9 256.0"/><path d="M585.8 234.6L596.7 235.2"/><path d="M624.4 231.8L632.3 235.3"/><path d="M629.3 214.7L638.9 219.0"/><path d="M553.0 202.4L565.7 203.1"/><path d="M577.9 223.2L583.4 223.5"/><path d="M633.9 216.1L638.9 218.3"/><path d="M580.7 260.8L592.5 261.4"/><path d="M556.3 262.7L561.9 263.0"/><path d="M601.9 231.9L613.9 232.5"/><path d="M569.4 253.2L576.9 253.6"/><path d="M629.0 258.7L638.4 263.0"/><path d="M554.5 241.7L563.4 242.1"/><path d="M630.1 249.2L635.6 251.7"/><path d="M609.7 239.8L623.0 240.5"/><path d="M615.1 237.8L627.0 238.4"/><path d="M569.9 255.7L580.1 256.2"/><path d="M618.5 204.2L628.2 204.7"/><path d="M593.6 207.9L607.0 208.6"/><path d="M642.0 225.5L647.2 227.9"/><path d="M654.2 199.8L662.9 203.8"/><path d="M610.7 255.4L621.6 255.9"/><path d="M613.1 230.3L626.9 231.0"/><path d="M636.4 216.7L647.5 221.7"/><path d="M652.3 227.5L657.5 229.9"/><path d="M562.2 263.7L569.0 264.0"/><path d="M637.1 205.9L643.5 208.7"/><path d="M572.2 252.6L578.0 252.9"/><path d="M601.8 252.0L611.5 252.5"/><path d="M553.5 194.1L566.0 194.7"/><path d="M584.4 199.0L594.1 199.5"/><path d="M635.5 214.1L641.2 216.6"/><path d="M571.6 227.5L583.6 228.1"/><path d="M561.6 248.5L572.8 249.0"/><path d="M612.7 221.0L618.0 221.3"/><path d="M604.3 223.0L615.4 223.5"/><path d="M562.5 205.2L567.7 205.4"/><path d="M603.3 197.3L613.0 197.8"/><path d="M599.8 217.2L606.5 217.5"/><path d="M649.5 227.1L654.9 229.5"/><path d="M612.7 248.7L622.1 249.1"/><path d="M644.1 252.1L654.2 256.7"/></g>
<g fill="#6a4f9e" opacity="0.8"><ellipse cx="622.0" cy="247.4" rx="1.10" ry="0.5" transform="rotate(3 622.0 247.4)"/><ellipse cx="654.4" cy="247.2" rx="1.16" ry="0.5" transform="rotate(24 654.4 247.2)"/><ellipse cx="561.7" cy="227.2" rx="1.17" ry="0.5" transform="rotate(3 561.7 227.2)"/><ellipse cx="624.6" cy="259.0" rx="0.76" ry="0.5" transform="rotate(3 624.6 259.0)"/><ellipse cx="606.4" cy="211.2" rx="0.97" ry="0.5" transform="rotate(3 606.4 211.2)"/><ellipse cx="617.0" cy="194.2" rx="0.81" ry="0.5" transform="rotate(3 617.0 194.2)"/><ellipse cx="587.1" cy="260.1" rx="1.08" ry="0.5" transform="rotate(3 587.1 260.1)"/><ellipse cx="575.0" cy="251.4" rx="0.77" ry="0.5" transform="rotate(3 575.0 251.4)"/><ellipse cx="621.4" cy="202.4" rx="0.70" ry="0.5" transform="rotate(3 621.4 202.4)"/><ellipse cx="647.2" cy="208.5" rx="0.81" ry="0.5" transform="rotate(24 647.2 208.5)"/><ellipse cx="658.4" cy="256.9" rx="0.84" ry="0.5" transform="rotate(24 658.4 256.9)"/><ellipse cx="656.3" cy="232.6" rx="1.04" ry="0.5" transform="rotate(24 656.3 232.6)"/><ellipse cx="579.6" cy="261.9" rx="1.05" ry="0.5" transform="rotate(3 579.6 261.9)"/><ellipse cx="656.8" cy="258.4" rx="0.85" ry="0.5" transform="rotate(24 656.8 258.4)"/><ellipse cx="595.4" cy="205.3" rx="0.77" ry="0.5" transform="rotate(3 595.4 205.3)"/><ellipse cx="565.4" cy="215.2" rx="1.00" ry="0.5" transform="rotate(3 565.4 215.2)"/><ellipse cx="559.1" cy="242.7" rx="0.87" ry="0.5" transform="rotate(3 559.1 242.7)"/><ellipse cx="590.2" cy="253.0" rx="0.94" ry="0.5" transform="rotate(3 590.2 253.0)"/><ellipse cx="590.8" cy="228.3" rx="1.05" ry="0.5" transform="rotate(3 590.8 228.3)"/><ellipse cx="564.6" cy="264.4" rx="0.71" ry="0.5" transform="rotate(3 564.6 264.4)"/><ellipse cx="634.8" cy="254.9" rx="0.71" ry="0.5" transform="rotate(24 634.8 254.9)"/><ellipse cx="638.7" cy="219.9" rx="0.99" ry="0.5" transform="rotate(24 638.7 219.9)"/><ellipse cx="559.7" cy="196.6" rx="0.79" ry="0.5" transform="rotate(3 559.7 196.6)"/><ellipse cx="655.7" cy="207.5" rx="1.08" ry="0.5" transform="rotate(24 655.7 207.5)"/><ellipse cx="653.1" cy="262.0" rx="0.87" ry="0.5" transform="rotate(24 653.1 262.0)"/><ellipse cx="594.8" cy="231.5" rx="1.09" ry="0.5" transform="rotate(3 594.8 231.5)"/><ellipse cx="569.8" cy="247.8" rx="1.10" ry="0.5" transform="rotate(3 569.8 247.8)"/><ellipse cx="646.0" cy="195.9" rx="1.17" ry="0.5" transform="rotate(24 646.0 195.9)"/><ellipse cx="568.0" cy="218.1" rx="1.01" ry="0.5" transform="rotate(3 568.0 218.1)"/><ellipse cx="651.9" cy="218.0" rx="1.16" ry="0.5" transform="rotate(24 651.9 218.0)"/><ellipse cx="614.1" cy="216.0" rx="0.86" ry="0.5" transform="rotate(3 614.1 216.0)"/><ellipse cx="576.8" cy="198.9" rx="0.77" ry="0.5" transform="rotate(3 576.8 198.9)"/><ellipse cx="628.7" cy="266.0" rx="0.78" ry="0.5" transform="rotate(24 628.7 266.0)"/><ellipse cx="563.7" cy="265.2" rx="0.97" ry="0.5" transform="rotate(3 563.7 265.2)"/><ellipse cx="600.0" cy="210.5" rx="1.00" ry="0.5" transform="rotate(3 600.0 210.5)"/><ellipse cx="642.6" cy="226.5" rx="0.91" ry="0.5" transform="rotate(24 642.6 226.5)"/><ellipse cx="564.4" cy="260.1" rx="0.72" ry="0.5" transform="rotate(3 564.4 260.1)"/><ellipse cx="608.8" cy="254.4" rx="0.77" ry="0.5" transform="rotate(3 608.8 254.4)"/><ellipse cx="633.0" cy="262.5" rx="1.02" ry="0.5" transform="rotate(24 633.0 262.5)"/><ellipse cx="638.7" cy="201.0" rx="0.92" ry="0.5" transform="rotate(24 638.7 201.0)"/><ellipse cx="573.9" cy="254.9" rx="0.85" ry="0.5" transform="rotate(3 573.9 254.9)"/><ellipse cx="604.7" cy="266.1" rx="1.13" ry="0.5" transform="rotate(3 604.7 266.1)"/><ellipse cx="657.8" cy="226.3" rx="0.94" ry="0.5" transform="rotate(24 657.8 226.3)"/><ellipse cx="632.8" cy="228.2" rx="0.85" ry="0.5" transform="rotate(24 632.8 228.2)"/><ellipse cx="599.7" cy="203.9" rx="0.89" ry="0.5" transform="rotate(3 599.7 203.9)"/><ellipse cx="659.0" cy="263.3" rx="1.01" ry="0.5" transform="rotate(24 659.0 263.3)"/><ellipse cx="609.4" cy="217.9" rx="0.74" ry="0.5" transform="rotate(3 609.4 217.9)"/><ellipse cx="586.4" cy="250.3" rx="1.13" ry="0.5" transform="rotate(3 586.4 250.3)"/><ellipse cx="595.4" cy="250.6" rx="1.09" ry="0.5" transform="rotate(3 595.4 250.6)"/><ellipse cx="629.2" cy="241.7" rx="1.08" ry="0.5" transform="rotate(24 629.2 241.7)"/><ellipse cx="595.7" cy="244.6" rx="0.84" ry="0.5" transform="rotate(3 595.7 244.6)"/><ellipse cx="608.0" cy="249.4" rx="1.05" ry="0.5" transform="rotate(3 608.0 249.4)"/><ellipse cx="588.6" cy="262.2" rx="1.02" ry="0.5" transform="rotate(3 588.6 262.2)"/><ellipse cx="617.7" cy="194.0" rx="0.97" ry="0.5" transform="rotate(3 617.7 194.0)"/><ellipse cx="584.2" cy="242.2" rx="0.93" ry="0.5" transform="rotate(3 584.2 242.2)"/><ellipse cx="641.6" cy="240.5" rx="1.10" ry="0.5" transform="rotate(24 641.6 240.5)"/><ellipse cx="594.1" cy="240.2" rx="1.07" ry="0.5" transform="rotate(3 594.1 240.2)"/><ellipse cx="642.8" cy="218.8" rx="1.12" ry="0.5" transform="rotate(24 642.8 218.8)"/><ellipse cx="647.0" cy="243.4" rx="1.19" ry="0.5" transform="rotate(24 647.0 243.4)"/><ellipse cx="655.8" cy="231.0" rx="0.96" ry="0.5" transform="rotate(24 655.8 231.0)"/><ellipse cx="575.6" cy="254.3" rx="1.17" ry="0.5" transform="rotate(3 575.6 254.3)"/><ellipse cx="607.2" cy="243.7" rx="1.06" ry="0.5" transform="rotate(3 607.2 243.7)"/><ellipse cx="632.9" cy="205.7" rx="1.09" ry="0.5" transform="rotate(24 632.9 205.7)"/><ellipse cx="617.7" cy="241.8" rx="0.91" ry="0.5" transform="rotate(3 617.7 241.8)"/><ellipse cx="622.0" cy="249.8" rx="1.02" ry="0.5" transform="rotate(3 622.0 249.8)"/><ellipse cx="631.9" cy="195.2" rx="0.78" ry="0.5" transform="rotate(24 631.9 195.2)"/><ellipse cx="603.5" cy="240.7" rx="0.81" ry="0.5" transform="rotate(3 603.5 240.7)"/><ellipse cx="628.4" cy="239.3" rx="0.72" ry="0.5" transform="rotate(24 628.4 239.3)"/><ellipse cx="606.6" cy="209.7" rx="0.73" ry="0.5" transform="rotate(3 606.6 209.7)"/><ellipse cx="572.3" cy="216.4" rx="0.79" ry="0.5" transform="rotate(3 572.3 216.4)"/><ellipse cx="578.4" cy="195.8" rx="0.93" ry="0.5" transform="rotate(3 578.4 195.8)"/><ellipse cx="597.4" cy="237.9" rx="1.00" ry="0.5" transform="rotate(3 597.4 237.9)"/><ellipse cx="582.9" cy="259.1" rx="0.70" ry="0.5" transform="rotate(3 582.9 259.1)"/><ellipse cx="599.9" cy="213.5" rx="0.91" ry="0.5" transform="rotate(3 599.9 213.5)"/><ellipse cx="570.5" cy="253.9" rx="0.89" ry="0.5" transform="rotate(3 570.5 253.9)"/><ellipse cx="562.5" cy="238.0" rx="0.75" ry="0.5" transform="rotate(3 562.5 238.0)"/><ellipse cx="614.1" cy="218.0" rx="0.99" ry="0.5" transform="rotate(3 614.1 218.0)"/><ellipse cx="656.0" cy="253.0" rx="0.91" ry="0.5" transform="rotate(24 656.0 253.0)"/><ellipse cx="641.2" cy="240.1" rx="0.88" ry="0.5" transform="rotate(24 641.2 240.1)"/><ellipse cx="573.2" cy="236.7" rx="0.98" ry="0.5" transform="rotate(3 573.2 236.7)"/><ellipse cx="655.9" cy="263.9" rx="1.00" ry="0.5" transform="rotate(24 655.9 263.9)"/><ellipse cx="594.4" cy="258.4" rx="0.70" ry="0.5" transform="rotate(3 594.4 258.4)"/><ellipse cx="569.7" cy="234.5" rx="1.01" ry="0.5" transform="rotate(3 569.7 234.5)"/><ellipse cx="573.1" cy="239.2" rx="1.15" ry="0.5" transform="rotate(3 573.1 239.2)"/><ellipse cx="596.9" cy="224.7" rx="0.81" ry="0.5" transform="rotate(3 596.9 224.7)"/><ellipse cx="588.4" cy="264.2" rx="0.89" ry="0.5" transform="rotate(3 588.4 264.2)"/><ellipse cx="656.3" cy="259.9" rx="1.00" ry="0.5" transform="rotate(24 656.3 259.9)"/><ellipse cx="585.1" cy="264.8" rx="0.95" ry="0.5" transform="rotate(3 585.1 264.8)"/><ellipse cx="600.9" cy="216.5" rx="1.19" ry="0.5" transform="rotate(3 600.9 216.5)"/><ellipse cx="608.7" cy="214.1" rx="0.94" ry="0.5" transform="rotate(3 608.7 214.1)"/><ellipse cx="571.2" cy="238.6" rx="0.92" ry="0.5" transform="rotate(3 571.2 238.6)"/><ellipse cx="588.5" cy="250.3" rx="1.11" ry="0.5" transform="rotate(3 588.5 250.3)"/><ellipse cx="560.1" cy="232.1" rx="0.84" ry="0.5" transform="rotate(3 560.1 232.1)"/><ellipse cx="653.6" cy="250.3" rx="0.82" ry="0.5" transform="rotate(24 653.6 250.3)"/><ellipse cx="585.9" cy="204.5" rx="1.19" ry="0.5" transform="rotate(3 585.9 204.5)"/><ellipse cx="588.5" cy="237.6" rx="0.94" ry="0.5" transform="rotate(3 588.5 237.6)"/><ellipse cx="624.2" cy="237.3" rx="1.07" ry="0.5" transform="rotate(3 624.2 237.3)"/><ellipse cx="570.8" cy="248.7" rx="0.85" ry="0.5" transform="rotate(3 570.8 248.7)"/><ellipse cx="612.9" cy="217.7" rx="0.85" ry="0.5" transform="rotate(3 612.9 217.7)"/><ellipse cx="612.5" cy="227.1" rx="0.88" ry="0.5" transform="rotate(3 612.5 227.1)"/></g>
<g fill="#f7f4f8" stroke="#dd74ae" stroke-width="0.60" stroke-linejoin="round"><polygon points="558.8,193.2 563.5,193.2 563.5,207.5 558.8,208.0"/><polygon points="596.0,193.2 661.0,193.2 661.0,204.3 655.8,201.7 641.5,197.2 629.8,194.6"/><polygon points="558.8,207.0 583.0,208.2 609.0,208.9 628.5,209.5 637.6,210.8 648.0,215.0 655.0,220.0 661.0,228.7 661.0,243.3 658.5,241.5 650.3,235.0 641.2,229.6 629.3,225.0 615.5,221.8 596.0,219.2 570.0,218.5 558.8,217.9"/><polygon points="558.8,239.3 580.0,239.8 595.0,241.5 613.7,247.0 627.4,252.4 638.4,258.8 647.6,264.3 650.0,267.0 645.7,267.0 638.4,261.6 627.4,256.1 613.7,251.5 595.0,246.5 580.0,244.0 558.8,244.0"/><polygon points="600.0,236.0 618.3,236.9 632.0,241.5 641.2,246.0 650.3,251.5 656.7,255.2 661.0,257.5 661.0,261.0 656.7,258.8 650.3,255.2 641.2,249.7 627.4,243.3 613.7,239.6 600.0,236.6"/><polygon points="590.0,258.0 600.0,260.5 609.0,263.0 616.0,267.0 606.0,267.0 600.0,263.0 590.0,259.0"/><polygon points="558.8,265.8 661.0,265.8 661.0,267.0 558.8,267.0"/></g><g fill="#f7f4f8"><polygon points="639.6,213.6 650.0,216.4 661.0,219.4 661.0,220.8 650.0,217.6 639.6,214.4"/><polygon points="588.0,251.5 600.0,241.8 600.8,242.6 588.8,252.3"/></g>
<rect x="642.2" y="262.2" width="14.5" height="1.8" fill="#111"/><text x="649.5" y="261.0" font-size="4" text-anchor="middle" fill="#222">25 μm</text></g>
<text x="0.6" y="14.3" font-size="16.5" font-weight="bold" fill="#000">A</text>
<circle cx="34" cy="6.2" r="1.65" fill="#1f1c5c"/>
<text x="44" y="8.35" font-size="7" fill="#222" stroke="#222" stroke-width="0.12">Saline</text>
<rect x="32.45" y="14.35" width="3.1" height="3.1" fill="#3b5cc6"/>
<text x="44" y="18.05" font-size="7" fill="#222" stroke="#222" stroke-width="0.12">Ang II</text>
<path d="M34 23.7L35.9 27.12L32.1 27.12Z" fill="#187a86"/>
<text x="44" y="27.75" font-size="7" fill="#222" stroke="#222" stroke-width="0.12">EVs + Ang II</text>
<path d="M34 37.2L35.9 33.78L32.1 33.78Z" fill="#f2622a"/>
<text x="44" y="37.45" font-size="7" fill="#222" stroke="#222" stroke-width="0.12">pGMLV-Vector + Ang II</text>
<path d="M34 43.05L35.95 45L34 46.95L32.05 45Z" fill="#ec1b2b"/>
<text x="44" y="47.15" font-size="7" fill="#222" stroke="#222" stroke-width="0.12">pGMLV-MIAT + Ang II</text>
<line x1="28.5" y1="52.5" x2="28.5" y2="139.6" stroke="#2a2a2a" stroke-width="1.2"/>
<line x1="27.4" y1="139.5" x2="131.5" y2="139.5" stroke="#2a2a2a" stroke-width="1.2"/>
<line x1="25" y1="139.5" x2="28" y2="139.5" stroke="#2a2a2a" stroke-width="1"/>
<text x="24" y="141.3" font-size="6.6" text-anchor="end" fill="#222" stroke="#222" stroke-width="0.12">0</text>
<line x1="25" y1="117.5" x2="28" y2="117.5" stroke="#2a2a2a" stroke-width="1"/>
<text x="24" y="119.8" font-size="6.6" text-anchor="end" fill="#222" stroke="#222" stroke-width="0.12">1</text>
<line x1="25" y1="96.5" x2="28" y2="96.5" stroke="#2a2a2a" stroke-width="1"/>
<text x="24" y="98.3" font-size="6.6" text-anchor="end" fill="#222" stroke="#222" stroke-width="0.12">2</text>
<line x1="25" y1="74.5" x2="28" y2="74.5" stroke="#2a2a2a" stroke-width="1"/>
<text x="24" y="76.8" font-size="6.6" text-anchor="end" fill="#222" stroke="#222" stroke-width="0.12">3</text>
<line x1="25" y1="53.5" x2="28" y2="53.5" stroke="#2a2a2a" stroke-width="1"/>
<text x="24" y="55.3" font-size="6.6" text-anchor="end" fill="#222" stroke="#222" stroke-width="0.12">4</text>
<text transform="translate(8.7 96) rotate(-90)" font-size="7" text-anchor="middle" fill="#222" stroke="#222" stroke-width="0.12">Relative expression</text>
<circle cx="41" cy="117.64" r="1.81" fill="#1f1c5c"/>
<circle cx="43.48" cy="119.21" r="1.81" fill="#1f1c5c"/>
<circle cx="41" cy="114.39" r="1.81" fill="#1f1c5c"/>
<circle cx="45.95" cy="116.47" r="1.81" fill="#1f1c5c"/>
<circle cx="36.05" cy="117.84" r="1.81" fill="#1f1c5c"/>
<circle cx="38.31" cy="116.96" r="1.81" fill="#1f1c5c"/>
<circle cx="45.41" cy="118.69" r="1.81" fill="#1f1c5c"/>
<circle cx="38.52" cy="120.2" r="1.81" fill="#1f1c5c"/>
<circle cx="44.97" cy="116.11" r="1.81" fill="#1f1c5c"/>
<line x1="36" y1="117.5" x2="46" y2="117.5" stroke="#6a6aa8" stroke-width="0.9"/>
<line x1="41.5" y1="115.74" x2="41.5" y2="119.26" stroke="#6a6aa8" stroke-width="0.9"/>
<line x1="38.75" y1="115.5" x2="43.25" y2="115.5" stroke="#6a6aa8" stroke-width="0.9"/>
<line x1="38.75" y1="119.5" x2="43.25" y2="119.5" stroke="#6a6aa8" stroke-width="0.9"/>
<rect x="58.3" y="106.94" width="3.41" height="3.41" fill="#3b5cc6"/>
<rect x="58.3" y="103.2" width="3.41" height="3.41" fill="#3b5cc6"/>
<rect x="58.3" y="95.76" width="3.41" height="3.41" fill="#3b5cc6"/>
<rect x="58.3" y="98.52" width="3.41" height="3.41" fill="#3b5cc6"/>
<rect x="60.77" y="101.86" width="3.41" height="3.41" fill="#3b5cc6"/>
<rect x="53.34" y="102.86" width="3.41" height="3.41" fill="#3b5cc6"/>
<rect x="63.25" y="106.14" width="3.41" height="3.41" fill="#3b5cc6"/>
<rect x="55.82" y="104.58" width="3.41" height="3.41" fill="#3b5cc6"/>
<rect x="53.34" y="106.19" width="3.41" height="3.41" fill="#3b5cc6"/>
<line x1="55" y1="104.5" x2="65" y2="104.5" stroke="#86d4f5" stroke-width="0.9"/>
<line x1="60.5" y1="100.86" x2="60.5" y2="108.34" stroke="#86d4f5" stroke-width="0.9"/>
<line x1="57.75" y1="100.5" x2="62.25" y2="100.5" stroke="#86d4f5" stroke-width="0.9"/>
<line x1="57.75" y1="108.5" x2="62.25" y2="108.5" stroke="#86d4f5" stroke-width="0.9"/>
<path d="M79.6 88.38L81.69 92.14L77.51 92.14Z" fill="#187a86"/>
<path d="M79.6 76.5L81.69 80.26L77.51 80.26Z" fill="#187a86"/>
<path d="M79.6 72.26L81.69 76.02L77.51 76.02Z" fill="#187a86"/>
<path d="M82.07 79.13L84.16 82.9L79.98 82.9Z" fill="#187a86"/>
<path d="M82.07 74.9L84.16 78.66L79.98 78.66Z" fill="#187a86"/>
<path d="M84.55 76.77L86.64 80.54L82.46 80.54Z" fill="#187a86"/>
<path d="M82.07 86.64L84.16 90.4L79.98 90.4Z" fill="#187a86"/>
<path d="M79.6 84.65L81.69 88.42L77.51 88.42Z" fill="#187a86"/>
<path d="M77.12 80.17L79.22 83.93L75.03 83.93Z" fill="#187a86"/>
<line x1="74.6" y1="82.5" x2="84.6" y2="82.5" stroke="#72c6d0" stroke-width="0.9"/>
<line x1="79.5" y1="76.49" x2="79.5" y2="87.56" stroke="#72c6d0" stroke-width="0.9"/>
<line x1="77.35" y1="76.5" x2="81.85" y2="76.5" stroke="#72c6d0" stroke-width="0.9"/>
<line x1="77.35" y1="87.5" x2="81.85" y2="87.5" stroke="#72c6d0" stroke-width="0.9"/>
<path d="M99 106.01L101.09 102.25L96.91 102.25Z" fill="#f2622a"/>
<path d="M103.95 106L106.04 102.24L101.86 102.24Z" fill="#f2622a"/>
<path d="M99 101.03L101.09 97.27L96.91 97.27Z" fill="#f2622a"/>
<path d="M99 109.85L101.09 106.09L96.91 106.09Z" fill="#f2622a"/>
<path d="M101.47 108.4L103.56 104.64L99.38 104.64Z" fill="#f2622a"/>
<path d="M101.47 103.97L103.56 100.21L99.38 100.21Z" fill="#f2622a"/>
<path d="M94.05 106.58L96.14 102.82L91.96 102.82Z" fill="#f2622a"/>
<path d="M96.53 104.22L98.62 100.46L94.44 100.46Z" fill="#f2622a"/>
<path d="M103.95 110.27L106.04 106.51L101.86 106.51Z" fill="#f2622a"/>
<line x1="94" y1="104.5" x2="104" y2="104.5" stroke="#f8ab84" stroke-width="0.9"/>
<line x1="99.5" y1="101.2" x2="99.5" y2="107.14" stroke="#f8ab84" stroke-width="0.9"/>
<line x1="96.75" y1="101.5" x2="101.25" y2="101.5" stroke="#f8ab84" stroke-width="0.9"/>
<line x1="96.75" y1="107.5" x2="101.25" y2="107.5" stroke="#f8ab84" stroke-width="0.9"/>
<path d="M118.5 80.01L120.64 82.15L118.5 84.3L116.36 82.15Z" fill="#ec1b2b"/>
<path d="M118.5 77.23L120.64 79.37L118.5 81.52L116.36 79.37Z" fill="#ec1b2b"/>
<path d="M120.97 81.39L123.12 83.53L120.97 85.68L118.83 83.53Z" fill="#ec1b2b"/>
<path d="M118.5 85.17L120.64 87.31L118.5 89.46L116.36 87.31Z" fill="#ec1b2b"/>
<path d="M118.5 73.35L120.64 75.5L118.5 77.64L116.36 75.5Z" fill="#ec1b2b"/>
<path d="M123.45 85.32L125.59 87.46L123.45 89.61L121.31 87.46Z" fill="#ec1b2b"/>
<path d="M123.45 78.04L125.59 80.18L123.45 82.33L121.31 80.18Z" fill="#ec1b2b"/>
<path d="M113.55 80.34L115.69 82.49L113.55 84.63L111.41 82.49Z" fill="#ec1b2b"/>
<path d="M120.97 87.76L123.12 89.9L120.97 92.05L118.83 89.9Z" fill="#ec1b2b"/>
<line x1="113.5" y1="83.5" x2="123.5" y2="83.5" stroke="#f7909a" stroke-width="0.9"/>
<line x1="118.5" y1="78.56" x2="118.5" y2="87.64" stroke="#f7909a" stroke-width="0.9"/>
<line x1="116.25" y1="78.5" x2="120.75" y2="78.5" stroke="#f7909a" stroke-width="0.9"/>
<line x1="116.25" y1="87.5" x2="120.75" y2="87.5" stroke="#f7909a" stroke-width="0.9"/>
<line x1="38.8" y1="93.5" x2="61.7" y2="93.5" stroke="#555" stroke-width="1"/>
<path d="M50.25 88.8v2M49.4 89.3l1.7 1M51.1 89.3l-1.7 1" stroke="#333" stroke-width="0.7"/>
<line x1="58.8" y1="68.5" x2="81.8" y2="68.5" stroke="#555" stroke-width="1"/>
<path d="M70.3 63.8v2M69.45 64.3l1.7 1M71.15 64.3l-1.7 1" stroke="#333" stroke-width="0.7"/>
<line x1="97.5" y1="71.5" x2="120.3" y2="71.5" stroke="#555" stroke-width="1"/>
<path d="M108.9 67.2v2M108.05 67.7l1.7 1M109.75 67.7l-1.7 1" stroke="#333" stroke-width="0.7"/>
<text x="216.6" y="14.2" font-size="16.5" font-weight="bold" fill="#000">B</text>
<circle cx="249.9" cy="6.5" r="1.65" fill="#1f1c5c"/>
<text x="259.7" y="8.65" font-size="7" fill="#222" stroke="#222" stroke-width="0.12">Saline</text>
<rect x="248.35" y="14.65" width="3.1" height="3.1" fill="#3b5cc6"/>
<text x="259.7" y="18.35" font-size="7" fill="#222" stroke="#222" stroke-width="0.12">Ang II</text>
<path d="M249.9 24L251.8 27.42L248 27.42Z" fill="#187a86"/>
<text x="259.7" y="28.05" font-size="7" fill="#222" stroke="#222" stroke-width="0.12">EVs + Ang II</text>
<path d="M249.9 37.5L251.8 34.08L248 34.08Z" fill="#f2622a"/>
<text x="259.7" y="37.75" font-size="7" fill="#222" stroke="#222" stroke-width="0.12">pGMLV-Vector + Ang II</text>
<path d="M249.9 43.35L251.85 45.3L249.9 47.25L247.95 45.3Z" fill="#ec1b2b"/>
<text x="259.7" y="47.45" font-size="7" fill="#222" stroke="#222" stroke-width="0.12">pGMLV-MIAT + Ang II</text>
<line x1="245.5" y1="50.8" x2="245.5" y2="138" stroke="#2a2a2a" stroke-width="1.2"/>
<line x1="244.7" y1="137.5" x2="345.6" y2="137.5" stroke="#2a2a2a" stroke-width="1.2"/>
<line x1="242.3" y1="137.5" x2="245.3" y2="137.5" stroke="#2a2a2a" stroke-width="1"/>
<text x="241.3" y="139.7" font-size="6.6" text-anchor="end" fill="#222" stroke="#222" stroke-width="0.12">0</text>
<line x1="242.3" y1="108.5" x2="245.3" y2="108.5" stroke="#2a2a2a" stroke-width="1"/>
<text x="241.3" y="111" font-size="6.6" text-anchor="end" fill="#222" stroke="#222" stroke-width="0.12">50</text>
<line x1="242.3" y1="80.5" x2="245.3" y2="80.5" stroke="#2a2a2a" stroke-width="1"/>
<text x="241.3" y="82.3" font-size="6.6" text-anchor="end" fill="#222" stroke="#222" stroke-width="0.12">100</text>
<line x1="242.3" y1="51.5" x2="245.3" y2="51.5" stroke="#2a2a2a" stroke-width="1"/>
<text x="241.3" y="53.6" font-size="6.6" text-anchor="end" fill="#222" stroke="#222" stroke-width="0.12">150</text>
<text transform="translate(226.2 94.5) rotate(-90)" font-size="7" text-anchor="middle" fill="#222" stroke="#222" stroke-width="0.12">AF Inducibility (%)</text>
<circle cx="257.7" cy="130.08" r="1.81" fill="#1f1c5c"/>
<circle cx="262.65" cy="130.46" r="1.81" fill="#1f1c5c"/>
<circle cx="260.18" cy="128.23" r="1.81" fill="#1f1c5c"/>
<circle cx="252.75" cy="130.01" r="1.81" fill="#1f1c5c"/>
<circle cx="255.22" cy="127.97" r="1.81" fill="#1f1c5c"/>
<circle cx="262.15" cy="127.31" r="1.81" fill="#1f1c5c"/>
<circle cx="258.14" cy="127.95" r="1.81" fill="#1f1c5c"/>
<circle cx="257.15" cy="128.47" r="1.81" fill="#1f1c5c"/>
<circle cx="255.41" cy="128.63" r="1.81" fill="#1f1c5c"/>
<line x1="252.7" y1="128.5" x2="262.7" y2="128.5" stroke="#6a6aa8" stroke-width="0.9"/>
<line x1="257.5" y1="127.67" x2="257.5" y2="129.91" stroke="#6a6aa8" stroke-width="0.9"/>
<line x1="255.45" y1="127.5" x2="259.95" y2="127.5" stroke="#6a6aa8" stroke-width="0.9"/>
<line x1="255.45" y1="129.5" x2="259.95" y2="129.5" stroke="#6a6aa8" stroke-width="0.9"/>
<rect x="274.3" y="103.28" width="3.41" height="3.41" fill="#3b5cc6"/>
<rect x="274.3" y="99.59" width="3.41" height="3.41" fill="#3b5cc6"/>
<rect x="279.25" y="99.07" width="3.41" height="3.41" fill="#3b5cc6"/>
<rect x="274.3" y="93.55" width="3.41" height="3.41" fill="#3b5cc6"/>
<rect x="279.25" y="103.36" width="3.41" height="3.41" fill="#3b5cc6"/>
<rect x="276.77" y="100.85" width="3.41" height="3.41" fill="#3b5cc6"/>
<rect x="276.77" y="105.03" width="3.41" height="3.41" fill="#3b5cc6"/>
<rect x="276.77" y="95.92" width="3.41" height="3.41" fill="#3b5cc6"/>
<rect x="269.35" y="100.32" width="3.41" height="3.41" fill="#3b5cc6"/>
<line x1="271" y1="101.5" x2="281" y2="101.5" stroke="#86d4f5" stroke-width="0.9"/>
<line x1="276.5" y1="98.15" x2="276.5" y2="105.48" stroke="#86d4f5" stroke-width="0.9"/>
<line x1="273.75" y1="98.5" x2="278.25" y2="98.5" stroke="#86d4f5" stroke-width="0.9"/>
<line x1="273.75" y1="105.5" x2="278.25" y2="105.5" stroke="#86d4f5" stroke-width="0.9"/>
<path d="M294.8 83.44L296.89 87.2L292.71 87.2Z" fill="#187a86"/>
<path d="M299.75 83.36L301.84 87.12L297.66 87.12Z" fill="#187a86"/>
<path d="M289.85 84.11L291.94 87.87L287.76 87.87Z" fill="#187a86"/>
<path d="M294.81 84.28L296.9 88.05L292.72 88.05Z" fill="#187a86"/>
<path d="M298.08 84.47L300.17 88.23L295.99 88.23Z" fill="#187a86"/>
<path d="M293.35 84.06L295.44 87.83L291.26 87.83Z" fill="#187a86"/>
<path d="M292.32 86.93L294.41 90.69L290.24 90.69Z" fill="#187a86"/>
<path d="M298.59 81.96L300.68 85.73L296.5 85.73Z" fill="#187a86"/>
<path d="M294.8 90.57L296.89 94.34L292.71 94.34Z" fill="#187a86"/>
<line x1="289.8" y1="86.5" x2="299.8" y2="86.5" stroke="#72c6d0" stroke-width="0.9"/>
<line x1="294.5" y1="84.36" x2="294.5" y2="89.42" stroke="#72c6d0" stroke-width="0.9"/>
<line x1="292.55" y1="84.5" x2="297.05" y2="84.5" stroke="#72c6d0" stroke-width="0.9"/>
<line x1="292.55" y1="89.5" x2="297.05" y2="89.5" stroke="#72c6d0" stroke-width="0.9"/>
<path d="M314 100.33L316.09 96.57L311.91 96.57Z" fill="#f2622a"/>
<path d="M316.48 102.9L318.56 99.14L314.39 99.14Z" fill="#f2622a"/>
<path d="M311.52 101.69L313.61 97.93L309.44 97.93Z" fill="#f2622a"/>
<path d="M314 108.59L316.09 104.83L311.91 104.83Z" fill="#f2622a"/>
<path d="M316.48 98.26L318.56 94.5L314.39 94.5Z" fill="#f2622a"/>
<path d="M314 105.58L316.09 101.82L311.91 101.82Z" fill="#f2622a"/>
<path d="M309.05 103.73L311.14 99.97L306.96 99.97Z" fill="#f2622a"/>
<path d="M318.95 100.17L321.04 96.41L316.86 96.41Z" fill="#f2622a"/>
<path d="M314.04 103.53L316.13 99.77L311.95 99.77Z" fill="#f2622a"/>
<line x1="309" y1="100.5" x2="319" y2="100.5" stroke="#f8ab84" stroke-width="0.9"/>
<line x1="314.5" y1="97.55" x2="314.5" y2="103.78" stroke="#f8ab84" stroke-width="0.9"/>
<line x1="311.75" y1="97.5" x2="316.25" y2="97.5" stroke="#f8ab84" stroke-width="0.9"/>
<line x1="311.75" y1="103.5" x2="316.25" y2="103.5" stroke="#f8ab84" stroke-width="0.9"/>
<path d="M332.5 85.66L334.64 87.8L332.5 89.95L330.36 87.8Z" fill="#ec1b2b"/>
<path d="M332.5 77.19L334.64 79.33L332.5 81.48L330.36 79.33Z" fill="#ec1b2b"/>
<path d="M334.98 87.98L337.12 90.13L334.98 92.27L332.83 90.13Z" fill="#ec1b2b"/>
<path d="M332.5 92.68L334.64 94.83L332.5 96.97L330.36 94.83Z" fill="#ec1b2b"/>
<path d="M332.5 80.75L334.64 82.89L332.5 85.04L330.36 82.89Z" fill="#ec1b2b"/>
<path d="M334.98 84.04L337.12 86.18L334.98 88.33L332.83 86.18Z" fill="#ec1b2b"/>
<path d="M332.5 89.19L334.64 91.34L332.5 93.48L330.36 91.34Z" fill="#ec1b2b"/>
<path d="M337.45 85.59L339.59 87.73L337.45 89.88L335.31 87.73Z" fill="#ec1b2b"/>
<path d="M327.55 84.77L329.69 86.92L327.55 89.06L325.41 86.92Z" fill="#ec1b2b"/>
<line x1="327.5" y1="87.5" x2="337.5" y2="87.5" stroke="#f7909a" stroke-width="0.9"/>
<line x1="332.5" y1="82.91" x2="332.5" y2="92.01" stroke="#f7909a" stroke-width="0.9"/>
<line x1="330.25" y1="82.5" x2="334.75" y2="82.5" stroke="#f7909a" stroke-width="0.9"/>
<line x1="330.25" y1="92.5" x2="334.75" y2="92.5" stroke="#f7909a" stroke-width="0.9"/>
<line x1="256" y1="87.5" x2="277.8" y2="87.5" stroke="#555" stroke-width="1"/>
<path d="M266.9 83.3v2M266.05 83.8l1.7 1M267.75 83.8l-1.7 1" stroke="#333" stroke-width="0.7"/>
<line x1="275.6" y1="72.5" x2="297.4" y2="72.5" stroke="#555" stroke-width="1"/>
<path d="M286.5 68.5v2M285.65 69l1.7 1M287.35 69l-1.7 1" stroke="#333" stroke-width="0.7"/>
<line x1="311.6" y1="72.5" x2="333" y2="72.5" stroke="#555" stroke-width="1"/>
<path d="M322.3 68v2M321.45 68.5l1.7 1M323.15 68.5l-1.7 1" stroke="#333" stroke-width="0.7"/>
<text x="465.3" y="14.2" font-size="16.5" font-weight="bold" fill="#000">C</text>
<circle cx="499.9" cy="4.6" r="1.65" fill="#1f1c5c"/>
<text x="509.4" y="6.75" font-size="7" fill="#222" stroke="#222" stroke-width="0.12">Saline</text>
<rect x="498.35" y="12.7" width="3.1" height="3.1" fill="#3b5cc6"/>
<text x="509.4" y="16.4" font-size="7" fill="#222" stroke="#222" stroke-width="0.12">Ang II</text>
<path d="M499.9 22L501.8 25.42L498 25.42Z" fill="#187a86"/>
<text x="509.4" y="26.05" font-size="7" fill="#222" stroke="#222" stroke-width="0.12">EVs + Ang II</text>
<path d="M499.9 35.45L501.8 32.03L498 32.03Z" fill="#f2622a"/>
<text x="509.4" y="35.7" font-size="7" fill="#222" stroke="#222" stroke-width="0.12">pGMLV-Vector + Ang II</text>
<path d="M499.9 41.25L501.85 43.2L499.9 45.15L497.95 43.2Z" fill="#ec1b2b"/>
<text x="509.4" y="45.35" font-size="7" fill="#222" stroke="#222" stroke-width="0.12">pGMLV-MIAT + Ang II</text>
<line x1="487.5" y1="49.3" x2="487.5" y2="136" stroke="#2a2a2a" stroke-width="1.2"/>
<line x1="486.8" y1="135.5" x2="590.8" y2="135.5" stroke="#2a2a2a" stroke-width="1.2"/>
<line x1="484.4" y1="135.5" x2="487.4" y2="135.5" stroke="#2a2a2a" stroke-width="1"/>
<text x="483.4" y="137.7" font-size="6.6" text-anchor="end" fill="#222" stroke="#222" stroke-width="0.12">0</text>
<line x1="484.4" y1="114.5" x2="487.4" y2="114.5" stroke="#2a2a2a" stroke-width="1"/>
<text x="483.4" y="116.3" font-size="6.6" text-anchor="end" fill="#222" stroke="#222" stroke-width="0.12">2</text>
<line x1="484.4" y1="92.5" x2="487.4" y2="92.5" stroke="#2a2a2a" stroke-width="1"/>
<text x="483.4" y="94.9" font-size="6.6" text-anchor="end" fill="#222" stroke="#222" stroke-width="0.12">4</text>
<line x1="484.4" y1="71.5" x2="487.4" y2="71.5" stroke="#2a2a2a" stroke-width="1"/>
<text x="483.4" y="73.5" font-size="6.6" text-anchor="end" fill="#222" stroke="#222" stroke-width="0.12">6</text>
<line x1="484.4" y1="49.5" x2="487.4" y2="49.5" stroke="#2a2a2a" stroke-width="1"/>
<text x="483.4" y="52.1" font-size="6.6" text-anchor="end" fill="#222" stroke="#222" stroke-width="0.12">8</text>
<text transform="translate(475.5 97.7) rotate(-90)" font-size="7" text-anchor="middle" fill="#222" stroke="#222" stroke-width="0.12">AF duration (s)</text>
<circle cx="500.5" cy="117.69" r="1.81" fill="#1f1c5c"/>
<circle cx="505.45" cy="116.61" r="1.81" fill="#1f1c5c"/>
<circle cx="500.5" cy="113.21" r="1.81" fill="#1f1c5c"/>
<circle cx="498.02" cy="115.97" r="1.81" fill="#1f1c5c"/>
<circle cx="502.98" cy="114.74" r="1.81" fill="#1f1c5c"/>
<circle cx="495.55" cy="117.44" r="1.81" fill="#1f1c5c"/>
<circle cx="501.84" cy="114.85" r="1.81" fill="#1f1c5c"/>
<circle cx="502.98" cy="119.63" r="1.81" fill="#1f1c5c"/>
<circle cx="504.14" cy="115.13" r="1.81" fill="#1f1c5c"/>
<line x1="495.5" y1="116.5" x2="505.5" y2="116.5" stroke="#6a6aa8" stroke-width="0.9"/>
<line x1="500.5" y1="114.21" x2="500.5" y2="118.07" stroke="#6a6aa8" stroke-width="0.9"/>
<line x1="498.25" y1="114.5" x2="502.75" y2="114.5" stroke="#6a6aa8" stroke-width="0.9"/>
<line x1="498.25" y1="118.5" x2="502.75" y2="118.5" stroke="#6a6aa8" stroke-width="0.9"/>
<rect x="518" y="97.22" width="3.41" height="3.41" fill="#3b5cc6"/>
<rect x="518" y="92.17" width="3.41" height="3.41" fill="#3b5cc6"/>
<rect x="522.95" y="92.74" width="3.41" height="3.41" fill="#3b5cc6"/>
<rect x="522.95" y="96.61" width="3.41" height="3.41" fill="#3b5cc6"/>
<rect x="520.47" y="90.91" width="3.41" height="3.41" fill="#3b5cc6"/>
<rect x="520.47" y="94.61" width="3.41" height="3.41" fill="#3b5cc6"/>
<rect x="518" y="85.98" width="3.41" height="3.41" fill="#3b5cc6"/>
<rect x="513.04" y="91.49" width="3.41" height="3.41" fill="#3b5cc6"/>
<rect x="517.45" y="90.76" width="3.41" height="3.41" fill="#3b5cc6"/>
<line x1="514.7" y1="94.5" x2="524.7" y2="94.5" stroke="#86d4f5" stroke-width="0.9"/>
<line x1="519.5" y1="90.8" x2="519.5" y2="97.61" stroke="#86d4f5" stroke-width="0.9"/>
<line x1="517.45" y1="90.5" x2="521.95" y2="90.5" stroke="#86d4f5" stroke-width="0.9"/>
<line x1="517.45" y1="97.5" x2="521.95" y2="97.5" stroke="#86d4f5" stroke-width="0.9"/>
<path d="M538.5 68.11L540.59 71.88L536.41 71.88Z" fill="#187a86"/>
<path d="M538.5 78.73L540.59 82.5L536.41 82.5Z" fill="#187a86"/>
<path d="M540.98 70.58L543.07 74.34L538.88 74.34Z" fill="#187a86"/>
<path d="M536.02 69.99L538.12 73.75L533.93 73.75Z" fill="#187a86"/>
<path d="M540.98 77.49L543.07 81.25L538.88 81.25Z" fill="#187a86"/>
<path d="M533.55 78.33L535.64 82.09L531.46 82.09Z" fill="#187a86"/>
<path d="M538.5 82.02L540.59 85.79L536.41 85.79Z" fill="#187a86"/>
<path d="M538.5 75.2L540.59 78.96L536.41 78.96Z" fill="#187a86"/>
<path d="M542.75 69.68L544.84 73.44L540.66 73.44Z" fill="#187a86"/>
<line x1="533.5" y1="76.5" x2="543.5" y2="76.5" stroke="#72c6d0" stroke-width="0.9"/>
<line x1="538.5" y1="71.57" x2="538.5" y2="81.53" stroke="#72c6d0" stroke-width="0.9"/>
<line x1="536.25" y1="71.5" x2="540.75" y2="71.5" stroke="#72c6d0" stroke-width="0.9"/>
<line x1="536.25" y1="81.5" x2="540.75" y2="81.5" stroke="#72c6d0" stroke-width="0.9"/>
<path d="M558.1 93.5L560.19 89.74L556.01 89.74Z" fill="#f2622a"/>
<path d="M563.05 93.54L565.14 89.78L560.96 89.78Z" fill="#f2622a"/>
<path d="M558.1 99.66L560.19 95.9L556.01 95.9Z" fill="#f2622a"/>
<path d="M560.58 102.03L562.67 98.27L558.49 98.27Z" fill="#f2622a"/>
<path d="M560.58 95.17L562.67 91.41L558.49 91.41Z" fill="#f2622a"/>
<path d="M558.1 90.26L560.19 86.5L556.01 86.5Z" fill="#f2622a"/>
<path d="M553.15 92.35L555.24 88.59L551.06 88.59Z" fill="#f2622a"/>
<path d="M554.03 92.58L556.12 88.82L551.94 88.82Z" fill="#f2622a"/>
<path d="M561.08 93.11L563.17 89.35L558.99 89.35Z" fill="#f2622a"/>
<line x1="553.1" y1="92.5" x2="563.1" y2="92.5" stroke="#f8ab84" stroke-width="0.9"/>
<line x1="558.5" y1="88.83" x2="558.5" y2="96.37" stroke="#f8ab84" stroke-width="0.9"/>
<line x1="555.85" y1="88.5" x2="560.35" y2="88.5" stroke="#f8ab84" stroke-width="0.9"/>
<line x1="555.85" y1="96.5" x2="560.35" y2="96.5" stroke="#f8ab84" stroke-width="0.9"/>
<path d="M577 80.33L579.14 82.48L577 84.62L574.86 82.48Z" fill="#ec1b2b"/>
<path d="M577 70.3L579.14 72.45L577 74.59L574.86 72.45Z" fill="#ec1b2b"/>
<path d="M579.48 77.63L581.62 79.77L579.48 81.92L577.33 79.77Z" fill="#ec1b2b"/>
<path d="M579.48 72.92L581.62 75.07L579.48 77.21L577.33 75.07Z" fill="#ec1b2b"/>
<path d="M579.48 68.32L581.62 70.47L579.48 72.61L577.33 70.47Z" fill="#ec1b2b"/>
<path d="M577 63.21L579.14 65.36L577 67.5L574.86 65.36Z" fill="#ec1b2b"/>
<path d="M577 76.26L579.14 78.4L577 80.55L574.86 78.4Z" fill="#ec1b2b"/>
<path d="M574.52 74.42L576.67 76.56L574.52 78.71L572.38 76.56Z" fill="#ec1b2b"/>
<path d="M577 66.99L579.14 69.13L577 71.28L574.86 69.13Z" fill="#ec1b2b"/>
<line x1="572" y1="74.5" x2="582" y2="74.5" stroke="#f7909a" stroke-width="0.9"/>
<line x1="577.5" y1="68.89" x2="577.5" y2="79.93" stroke="#f7909a" stroke-width="0.9"/>
<line x1="574.75" y1="68.5" x2="579.25" y2="68.5" stroke="#f7909a" stroke-width="0.9"/>
<line x1="574.75" y1="79.5" x2="579.25" y2="79.5" stroke="#f7909a" stroke-width="0.9"/>
<line x1="499" y1="80.5" x2="521.2" y2="80.5" stroke="#555" stroke-width="1"/>
<path d="M510.1 76.1v2M509.25 76.6l1.7 1M510.95 76.6l-1.7 1" stroke="#333" stroke-width="0.7"/>
<line x1="518.4" y1="61.5" x2="540.4" y2="61.5" stroke="#555" stroke-width="1"/>
<path d="M529.4 56.9v2M528.55 57.4l1.7 1M530.25 57.4l-1.7 1" stroke="#333" stroke-width="0.7"/>
<line x1="556.6" y1="58.5" x2="577.7" y2="58.5" stroke="#555" stroke-width="1"/>
<path d="M567.15 54.3v2M566.3 54.8l1.7 1M568 54.8l-1.7 1" stroke="#333" stroke-width="0.7"/>
<text x="666.5" y="14.2" font-size="16.5" font-weight="bold" fill="#000">D</text>
<circle cx="703.9" cy="4.8" r="1.65" fill="#1f1c5c"/>
<text x="713.8" y="6.95" font-size="7" fill="#222" stroke="#222" stroke-width="0.12">Saline</text>
<rect x="702.35" y="12.85" width="3.1" height="3.1" fill="#3b5cc6"/>
<text x="713.8" y="16.55" font-size="7" fill="#222" stroke="#222" stroke-width="0.12">Ang II</text>
<path d="M703.9 22.1L705.8 25.52L702 25.52Z" fill="#187a86"/>
<text x="713.8" y="26.15" font-size="7" fill="#222" stroke="#222" stroke-width="0.12">EVs + Ang II</text>
<path d="M703.9 35.5L705.8 32.08L702 32.08Z" fill="#f2622a"/>
<text x="713.8" y="35.75" font-size="7" fill="#222" stroke="#222" stroke-width="0.12">pGMLV-Vector + Ang II</text>
<path d="M703.9 41.25L705.85 43.2L703.9 45.15L701.95 43.2Z" fill="#ec1b2b"/>
<text x="713.8" y="45.35" font-size="7" fill="#222" stroke="#222" stroke-width="0.12">pGMLV-MIAT + Ang II</text>
<line x1="695.5" y1="50.8" x2="695.5" y2="138.6" stroke="#2a2a2a" stroke-width="1.2"/>
<line x1="694.9" y1="138.5" x2="795.9" y2="138.5" stroke="#2a2a2a" stroke-width="1.2"/>
<line x1="692.5" y1="138.5" x2="695.5" y2="138.5" stroke="#2a2a2a" stroke-width="1"/>
<text x="691.5" y="140.3" font-size="6.6" text-anchor="end" fill="#222" stroke="#222" stroke-width="0.12">0</text>
<line x1="692.5" y1="109.5" x2="695.5" y2="109.5" stroke="#2a2a2a" stroke-width="1"/>
<text x="691.5" y="111.4" font-size="6.6" text-anchor="end" fill="#222" stroke="#222" stroke-width="0.12">50</text>
<line x1="692.5" y1="80.5" x2="695.5" y2="80.5" stroke="#2a2a2a" stroke-width="1"/>
<text x="691.5" y="82.5" font-size="6.6" text-anchor="end" fill="#222" stroke="#222" stroke-width="0.12">100</text>
<line x1="692.5" y1="51.5" x2="695.5" y2="51.5" stroke="#2a2a2a" stroke-width="1"/>
<text x="691.5" y="53.6" font-size="6.6" text-anchor="end" fill="#222" stroke="#222" stroke-width="0.12">150</text>
<text transform="translate(676.4 94) rotate(-90)" font-size="7" text-anchor="middle" fill="#222" stroke="#222" stroke-width="0.12">Fibrotic area (%)</text>
<circle cx="708.4" cy="128.37" r="1.81" fill="#1f1c5c"/>
<circle cx="713.35" cy="128.14" r="1.81" fill="#1f1c5c"/>
<circle cx="703.45" cy="127.5" r="1.81" fill="#1f1c5c"/>
<circle cx="711.66" cy="127.93" r="1.81" fill="#1f1c5c"/>
<circle cx="711.44" cy="127.51" r="1.81" fill="#1f1c5c"/>
<circle cx="711.37" cy="128.27" r="1.81" fill="#1f1c5c"/>
<circle cx="708.4" cy="125.51" r="1.81" fill="#1f1c5c"/>
<circle cx="705.37" cy="128.98" r="1.81" fill="#1f1c5c"/>
<circle cx="706.52" cy="126.16" r="1.81" fill="#1f1c5c"/>
<line x1="703.4" y1="127.5" x2="713.4" y2="127.5" stroke="#6a6aa8" stroke-width="0.9"/>
<line x1="708.5" y1="126.49" x2="708.5" y2="128.7" stroke="#6a6aa8" stroke-width="0.9"/>
<line x1="706.15" y1="126.5" x2="710.65" y2="126.5" stroke="#6a6aa8" stroke-width="0.9"/>
<line x1="706.15" y1="128.5" x2="710.65" y2="128.5" stroke="#6a6aa8" stroke-width="0.9"/>
<rect x="725.79" y="109.52" width="3.41" height="3.41" fill="#3b5cc6"/>
<rect x="728.27" y="106.88" width="3.41" height="3.41" fill="#3b5cc6"/>
<rect x="730.75" y="110.29" width="3.41" height="3.41" fill="#3b5cc6"/>
<rect x="720.84" y="110.16" width="3.41" height="3.41" fill="#3b5cc6"/>
<rect x="725.79" y="114.98" width="3.41" height="3.41" fill="#3b5cc6"/>
<rect x="728.27" y="113.44" width="3.41" height="3.41" fill="#3b5cc6"/>
<rect x="726.51" y="108.62" width="3.41" height="3.41" fill="#3b5cc6"/>
<rect x="729.58" y="109.89" width="3.41" height="3.41" fill="#3b5cc6"/>
<rect x="729.24" y="108.78" width="3.41" height="3.41" fill="#3b5cc6"/>
<line x1="722.5" y1="111.5" x2="732.5" y2="111.5" stroke="#86d4f5" stroke-width="0.9"/>
<line x1="727.5" y1="109.51" x2="727.5" y2="114.47" stroke="#86d4f5" stroke-width="0.9"/>
<line x1="725.25" y1="109.5" x2="729.75" y2="109.5" stroke="#86d4f5" stroke-width="0.9"/>
<line x1="725.25" y1="114.5" x2="729.75" y2="114.5" stroke="#86d4f5" stroke-width="0.9"/>
<path d="M745.6 94.55L747.69 98.31L743.51 98.31Z" fill="#187a86"/>
<path d="M745.6 82.99L747.69 86.75L743.51 86.75Z" fill="#187a86"/>
<path d="M745.6 88.37L747.69 92.13L743.51 92.13Z" fill="#187a86"/>
<path d="M748.08 91.83L750.17 95.59L745.99 95.59Z" fill="#187a86"/>
<path d="M750.55 94.02L752.64 97.78L748.46 97.78Z" fill="#187a86"/>
<path d="M743.12 91.68L745.22 95.44L741.03 95.44Z" fill="#187a86"/>
<path d="M750.55 90.22L752.64 93.99L748.46 93.99Z" fill="#187a86"/>
<path d="M744.74 91.01L746.83 94.77L742.65 94.77Z" fill="#187a86"/>
<path d="M742.66 92.77L744.75 96.53L740.57 96.53Z" fill="#187a86"/>
<line x1="740.6" y1="92.5" x2="750.6" y2="92.5" stroke="#72c6d0" stroke-width="0.9"/>
<line x1="745.5" y1="89.43" x2="745.5" y2="96.41" stroke="#72c6d0" stroke-width="0.9"/>
<line x1="743.35" y1="89.5" x2="747.85" y2="89.5" stroke="#72c6d0" stroke-width="0.9"/>
<line x1="743.35" y1="96.5" x2="747.85" y2="96.5" stroke="#72c6d0" stroke-width="0.9"/>
<path d="M764.3 110.08L766.39 106.31L762.21 106.31Z" fill="#f2622a"/>
<path d="M764.3 117.01L766.39 113.25L762.21 113.25Z" fill="#f2622a"/>
<path d="M766.77 112.66L768.87 108.9L764.68 108.9Z" fill="#f2622a"/>
<path d="M761.82 112.28L763.91 108.51L759.73 108.51Z" fill="#f2622a"/>
<path d="M759.77 111.68L761.86 107.92L757.68 107.92Z" fill="#f2622a"/>
<path d="M764.3 113.9L766.39 110.14L762.21 110.14Z" fill="#f2622a"/>
<path d="M769.25 110.86L771.34 107.1L767.16 107.1Z" fill="#f2622a"/>
<path d="M766.25 113.72L768.34 109.95L764.16 109.95Z" fill="#f2622a"/>
<path d="M769.25 114.13L771.34 110.37L767.16 110.37Z" fill="#f2622a"/>
<line x1="759.3" y1="110.5" x2="769.3" y2="110.5" stroke="#f8ab84" stroke-width="0.9"/>
<line x1="764.5" y1="108.77" x2="764.5" y2="112.9" stroke="#f8ab84" stroke-width="0.9"/>
<line x1="762.05" y1="108.5" x2="766.55" y2="108.5" stroke="#f8ab84" stroke-width="0.9"/>
<line x1="762.05" y1="112.5" x2="766.55" y2="112.5" stroke="#f8ab84" stroke-width="0.9"/>
<path d="M782.8 86.47L784.94 88.62L782.8 90.76L780.65 88.62Z" fill="#ec1b2b"/>
<path d="M782.8 96.75L784.94 98.89L782.8 101.04L780.65 98.89Z" fill="#ec1b2b"/>
<path d="M787.75 86.54L789.89 88.69L787.75 90.83L785.61 88.69Z" fill="#ec1b2b"/>
<path d="M782.8 82.85L784.94 85L782.8 87.14L780.65 85Z" fill="#ec1b2b"/>
<path d="M782.8 93.81L784.94 95.96L782.8 98.1L780.65 95.96Z" fill="#ec1b2b"/>
<path d="M777.85 86.6L779.99 88.74L777.85 90.89L775.7 88.74Z" fill="#ec1b2b"/>
<path d="M787.75 97.3L789.89 99.45L787.75 101.59L785.61 99.45Z" fill="#ec1b2b"/>
<path d="M785.27 88.98L787.42 91.12L785.27 93.27L783.13 91.12Z" fill="#ec1b2b"/>
<path d="M781.63 87.23L783.77 89.38L781.63 91.52L779.48 89.38Z" fill="#ec1b2b"/>
<line x1="777.8" y1="91.5" x2="787.8" y2="91.5" stroke="#f7909a" stroke-width="0.9"/>
<line x1="782.5" y1="86.66" x2="782.5" y2="96.86" stroke="#f7909a" stroke-width="0.9"/>
<line x1="780.55" y1="86.5" x2="785.05" y2="86.5" stroke="#f7909a" stroke-width="0.9"/>
<line x1="780.55" y1="96.5" x2="785.05" y2="96.5" stroke="#f7909a" stroke-width="0.9"/>
<line x1="704.7" y1="92.5" x2="727.5" y2="92.5" stroke="#555" stroke-width="1"/>
<path d="M716.1 88.5v2M715.25 89l1.7 1M716.95 89l-1.7 1" stroke="#333" stroke-width="0.7"/>
<line x1="725.4" y1="60.5" x2="748.5" y2="60.5" stroke="#555" stroke-width="1"/>
<path d="M736.95 55.8v2M736.1 56.3l1.7 1M737.8 56.3l-1.7 1" stroke="#333" stroke-width="0.7"/>
<line x1="761" y1="59.5" x2="783.9" y2="59.5" stroke="#555" stroke-width="1"/>
<path d="M772.45 55v2M771.6 55.5l1.7 1M773.3 55.5l-1.7 1" stroke="#333" stroke-width="0.7"/>
<text x="1.6" y="164.2" font-size="16.5" font-weight="bold" fill="#000">E</text>
<circle cx="37.3" cy="156.3" r="1.65" fill="#1f1c5c"/>
<text x="47" y="158.45" font-size="7" fill="#222" stroke="#222" stroke-width="0.12">Saline</text>
<rect x="35.75" y="164.4" width="3.1" height="3.1" fill="#3b5cc6"/>
<text x="47" y="168.1" font-size="7" fill="#222" stroke="#222" stroke-width="0.12">Ang II</text>
<path d="M37.3 173.7L39.2 177.12L35.4 177.12Z" fill="#187a86"/>
<text x="47" y="177.75" font-size="7" fill="#222" stroke="#222" stroke-width="0.12">EVs + Ang II</text>
<path d="M37.3 187.15L39.2 183.73L35.4 183.73Z" fill="#f2622a"/>
<text x="47" y="187.4" font-size="7" fill="#222" stroke="#222" stroke-width="0.12">pGMLV-Vector + Ang II</text>
<path d="M37.3 192.95L39.25 194.9L37.3 196.85L35.35 194.9Z" fill="#ec1b2b"/>
<text x="47" y="197.05" font-size="7" fill="#222" stroke="#222" stroke-width="0.12">pGMLV-MIAT + Ang II</text>
<line x1="27.5" y1="201.9" x2="27.5" y2="289.1" stroke="#2a2a2a" stroke-width="1.2"/>
<line x1="27.1" y1="288.5" x2="129.3" y2="288.5" stroke="#2a2a2a" stroke-width="1.2"/>
<line x1="24.7" y1="288.5" x2="27.7" y2="288.5" stroke="#2a2a2a" stroke-width="1"/>
<text x="23.7" y="290.8" font-size="6.6" text-anchor="end" fill="#222" stroke="#222" stroke-width="0.12">0</text>
<line x1="24.7" y1="271.5" x2="27.7" y2="271.5" stroke="#2a2a2a" stroke-width="1"/>
<text x="23.7" y="273.58" font-size="6.6" text-anchor="end" fill="#222" stroke="#222" stroke-width="0.12">20</text>
<line x1="24.7" y1="254.5" x2="27.7" y2="254.5" stroke="#2a2a2a" stroke-width="1"/>
<text x="23.7" y="256.36" font-size="6.6" text-anchor="end" fill="#222" stroke="#222" stroke-width="0.12">40</text>
<line x1="24.7" y1="236.5" x2="27.7" y2="236.5" stroke="#2a2a2a" stroke-width="1"/>
<text x="23.7" y="239.14" font-size="6.6" text-anchor="end" fill="#222" stroke="#222" stroke-width="0.12">60</text>
<line x1="24.7" y1="219.5" x2="27.7" y2="219.5" stroke="#2a2a2a" stroke-width="1"/>
<text x="23.7" y="221.92" font-size="6.6" text-anchor="end" fill="#222" stroke="#222" stroke-width="0.12">80</text>
<line x1="24.7" y1="202.5" x2="27.7" y2="202.5" stroke="#2a2a2a" stroke-width="1"/>
<text x="23.7" y="204.7" font-size="6.6" text-anchor="end" fill="#222" stroke="#222" stroke-width="0.12">100</text>
<text transform="translate(9.8 247) rotate(-90)" font-size="7" text-anchor="middle" fill="#222" stroke="#222" stroke-width="0.12">Mac-2 positive cells (%)</text>
<circle cx="39.2" cy="277.39" r="1.81" fill="#1f1c5c"/>
<circle cx="44.15" cy="277.62" r="1.81" fill="#1f1c5c"/>
<circle cx="39.2" cy="282.07" r="1.81" fill="#1f1c5c"/>
<circle cx="34.25" cy="276.77" r="1.81" fill="#1f1c5c"/>
<circle cx="34.38" cy="276.86" r="1.81" fill="#1f1c5c"/>
<circle cx="41.68" cy="280.6" r="1.81" fill="#1f1c5c"/>
<circle cx="36.4" cy="278.11" r="1.81" fill="#1f1c5c"/>
<circle cx="37.02" cy="277.61" r="1.81" fill="#1f1c5c"/>
<circle cx="43.32" cy="276.48" r="1.81" fill="#1f1c5c"/>
<line x1="34.2" y1="278.5" x2="44.2" y2="278.5" stroke="#6a6aa8" stroke-width="0.9"/>
<line x1="39.5" y1="276.27" x2="39.5" y2="280.07" stroke="#6a6aa8" stroke-width="0.9"/>
<line x1="36.95" y1="276.5" x2="41.45" y2="276.5" stroke="#6a6aa8" stroke-width="0.9"/>
<line x1="36.95" y1="280.5" x2="41.45" y2="280.5" stroke="#6a6aa8" stroke-width="0.9"/>
<rect x="56.7" y="249.26" width="3.41" height="3.41" fill="#3b5cc6"/>
<rect x="59.17" y="251.33" width="3.41" height="3.41" fill="#3b5cc6"/>
<rect x="56.7" y="254.57" width="3.41" height="3.41" fill="#3b5cc6"/>
<rect x="61.65" y="254.63" width="3.41" height="3.41" fill="#3b5cc6"/>
<rect x="51.74" y="255.28" width="3.41" height="3.41" fill="#3b5cc6"/>
<rect x="59.17" y="256.15" width="3.41" height="3.41" fill="#3b5cc6"/>
<rect x="54.22" y="251.17" width="3.41" height="3.41" fill="#3b5cc6"/>
<rect x="53.77" y="252.1" width="3.41" height="3.41" fill="#3b5cc6"/>
<rect x="61.06" y="254.46" width="3.41" height="3.41" fill="#3b5cc6"/>
<line x1="53.4" y1="254.5" x2="63.4" y2="254.5" stroke="#86d4f5" stroke-width="0.9"/>
<line x1="58.5" y1="252.61" x2="58.5" y2="257.24" stroke="#86d4f5" stroke-width="0.9"/>
<line x1="56.15" y1="252.5" x2="60.65" y2="252.5" stroke="#86d4f5" stroke-width="0.9"/>
<line x1="56.15" y1="257.5" x2="60.65" y2="257.5" stroke="#86d4f5" stroke-width="0.9"/>
<path d="M77.3 222.28L79.39 226.04L75.21 226.04Z" fill="#187a86"/>
<path d="M77.3 236.31L79.39 240.07L75.21 240.07Z" fill="#187a86"/>
<path d="M79.77 220.81L81.86 224.57L77.68 224.57Z" fill="#187a86"/>
<path d="M77.3 229.31L79.39 233.08L75.21 233.08Z" fill="#187a86"/>
<path d="M82.25 230.04L84.34 233.8L80.16 233.8Z" fill="#187a86"/>
<path d="M79.77 231.82L81.86 235.58L77.68 235.58Z" fill="#187a86"/>
<path d="M77.3 225.48L79.39 229.25L75.21 229.25Z" fill="#187a86"/>
<path d="M82.25 223.12L84.34 226.89L80.16 226.89Z" fill="#187a86"/>
<path d="M74.83 231.58L76.92 235.34L72.73 235.34Z" fill="#187a86"/>
<line x1="72.3" y1="229.5" x2="82.3" y2="229.5" stroke="#72c6d0" stroke-width="0.9"/>
<line x1="77.5" y1="224.75" x2="77.5" y2="235.16" stroke="#72c6d0" stroke-width="0.9"/>
<line x1="75.05" y1="224.5" x2="79.55" y2="224.5" stroke="#72c6d0" stroke-width="0.9"/>
<line x1="75.05" y1="235.5" x2="79.55" y2="235.5" stroke="#72c6d0" stroke-width="0.9"/>
<path d="M96.6 258.5L98.69 254.74L94.51 254.74Z" fill="#f2622a"/>
<path d="M96.6 252.49L98.69 248.72L94.51 248.72Z" fill="#f2622a"/>
<path d="M101.55 253.17L103.64 249.41L99.46 249.41Z" fill="#f2622a"/>
<path d="M101.55 258.7L103.64 254.94L99.46 254.94Z" fill="#f2622a"/>
<path d="M99.07 256.04L101.16 252.28L96.98 252.28Z" fill="#f2622a"/>
<path d="M94.12 254.74L96.22 250.98L92.03 250.98Z" fill="#f2622a"/>
<path d="M91.65 257L93.74 253.24L89.56 253.24Z" fill="#f2622a"/>
<path d="M99.07 260.23L101.16 256.47L96.98 256.47Z" fill="#f2622a"/>
<path d="M93.6 254.48L95.69 250.72L91.51 250.72Z" fill="#f2622a"/>
<line x1="91.6" y1="254.5" x2="101.6" y2="254.5" stroke="#f8ab84" stroke-width="0.9"/>
<line x1="96.5" y1="251.4" x2="96.5" y2="256.72" stroke="#f8ab84" stroke-width="0.9"/>
<line x1="94.35" y1="251.5" x2="98.85" y2="251.5" stroke="#f8ab84" stroke-width="0.9"/>
<line x1="94.35" y1="256.5" x2="98.85" y2="256.5" stroke="#f8ab84" stroke-width="0.9"/>
<path d="M115.6 219.22L117.74 221.36L115.6 223.51L113.45 221.36Z" fill="#ec1b2b"/>
<path d="M115.6 226.8L117.74 228.95L115.6 231.09L113.45 228.95Z" fill="#ec1b2b"/>
<path d="M115.6 234.4L117.74 236.54L115.6 238.69L113.45 236.54Z" fill="#ec1b2b"/>
<path d="M118.07 224.61L120.22 226.75L118.07 228.9L115.93 226.75Z" fill="#ec1b2b"/>
<path d="M118.07 221.37L120.22 223.51L118.07 225.66L115.93 223.51Z" fill="#ec1b2b"/>
<path d="M118.07 217.18L120.22 219.32L118.07 221.47L115.93 219.32Z" fill="#ec1b2b"/>
<path d="M113.12 221.62L115.27 223.77L113.12 225.91L110.98 223.77Z" fill="#ec1b2b"/>
<path d="M120.55 219.38L122.69 221.52L120.55 223.67L118.41 221.52Z" fill="#ec1b2b"/>
<path d="M120.55 226.94L122.69 229.08L120.55 231.23L118.41 229.08Z" fill="#ec1b2b"/>
<line x1="110.6" y1="225.5" x2="120.6" y2="225.5" stroke="#f7909a" stroke-width="0.9"/>
<line x1="115.5" y1="220.33" x2="115.5" y2="230.96" stroke="#f7909a" stroke-width="0.9"/>
<line x1="113.35" y1="220.5" x2="117.85" y2="220.5" stroke="#f7909a" stroke-width="0.9"/>
<line x1="113.35" y1="230.5" x2="117.85" y2="230.5" stroke="#f7909a" stroke-width="0.9"/>
<line x1="37.5" y1="242.5" x2="58.8" y2="242.5" stroke="#555" stroke-width="1"/>
<path d="M48.15 238.1v2M47.3 238.6l1.7 1M49 238.6l-1.7 1" stroke="#333" stroke-width="0.7"/>
<line x1="57.7" y1="214.5" x2="79.5" y2="214.5" stroke="#555" stroke-width="1"/>
<path d="M68.6 209.8v2M67.75 210.3l1.7 1M69.45 210.3l-1.7 1" stroke="#333" stroke-width="0.7"/>
<line x1="94.4" y1="210.5" x2="115.6" y2="210.5" stroke="#555" stroke-width="1"/>
<path d="M105 205.8v2M104.15 206.3l1.7 1M105.85 206.3l-1.7 1" stroke="#333" stroke-width="0.7"/>
<text x="668.4" y="164" font-size="16.5" font-weight="bold" fill="#000">F</text>
<circle cx="705.5" cy="156.3" r="1.65" fill="#1f1c5c"/>
<text x="715.2" y="158.45" font-size="7" fill="#222" stroke="#222" stroke-width="0.12">Saline</text>
<rect x="703.95" y="164.4" width="3.1" height="3.1" fill="#3b5cc6"/>
<text x="715.2" y="168.1" font-size="7" fill="#222" stroke="#222" stroke-width="0.12">Ang II</text>
<path d="M705.5 173.7L707.4 177.12L703.6 177.12Z" fill="#187a86"/>
<text x="715.2" y="177.75" font-size="7" fill="#222" stroke="#222" stroke-width="0.12">EVs + Ang II</text>
<path d="M705.5 187.15L707.4 183.73L703.6 183.73Z" fill="#f2622a"/>
<text x="715.2" y="187.4" font-size="7" fill="#222" stroke="#222" stroke-width="0.12">pGMLV-Vector + Ang II</text>
<path d="M705.5 192.95L707.45 194.9L705.5 196.85L703.55 194.9Z" fill="#ec1b2b"/>
<text x="715.2" y="197.05" font-size="7" fill="#222" stroke="#222" stroke-width="0.12">pGMLV-MIAT + Ang II</text>
<line x1="696.5" y1="201" x2="696.5" y2="288.6" stroke="#2a2a2a" stroke-width="1.2"/>
<line x1="696.2" y1="288.5" x2="799.5" y2="288.5" stroke="#2a2a2a" stroke-width="1.2"/>
<line x1="693.8" y1="288.5" x2="696.8" y2="288.5" stroke="#2a2a2a" stroke-width="1"/>
<text x="692.8" y="290.3" font-size="6.6" text-anchor="end" fill="#222" stroke="#222" stroke-width="0.12">0</text>
<line x1="693.8" y1="270.5" x2="696.8" y2="270.5" stroke="#2a2a2a" stroke-width="1"/>
<text x="692.8" y="273" font-size="6.6" text-anchor="end" fill="#222" stroke="#222" stroke-width="0.12">2</text>
<line x1="693.8" y1="253.5" x2="696.8" y2="253.5" stroke="#2a2a2a" stroke-width="1"/>
<text x="692.8" y="255.7" font-size="6.6" text-anchor="end" fill="#222" stroke="#222" stroke-width="0.12">4</text>
<line x1="693.8" y1="236.5" x2="696.8" y2="236.5" stroke="#2a2a2a" stroke-width="1"/>
<text x="692.8" y="238.4" font-size="6.6" text-anchor="end" fill="#222" stroke="#222" stroke-width="0.12">6</text>
<line x1="693.8" y1="218.5" x2="696.8" y2="218.5" stroke="#2a2a2a" stroke-width="1"/>
<text x="692.8" y="221.1" font-size="6.6" text-anchor="end" fill="#222" stroke="#222" stroke-width="0.12">8</text>
<line x1="693.8" y1="201.5" x2="696.8" y2="201.5" stroke="#2a2a2a" stroke-width="1"/>
<text x="692.8" y="203.8" font-size="6.6" text-anchor="end" fill="#222" stroke="#222" stroke-width="0.12">10</text>
<text transform="translate(679.8 244.5) rotate(-90)" font-size="7" text-anchor="middle" fill="#222" stroke="#222" stroke-width="0.12">Relative DHE Intensity</text>
<circle cx="708" cy="278.63" r="1.81" fill="#1f1c5c"/>
<circle cx="712.95" cy="278.39" r="1.81" fill="#1f1c5c"/>
<circle cx="710.48" cy="280.23" r="1.81" fill="#1f1c5c"/>
<circle cx="703.05" cy="278.94" r="1.81" fill="#1f1c5c"/>
<circle cx="704.96" cy="279.31" r="1.81" fill="#1f1c5c"/>
<circle cx="708.53" cy="279.72" r="1.81" fill="#1f1c5c"/>
<circle cx="711.02" cy="280.98" r="1.81" fill="#1f1c5c"/>
<circle cx="705.68" cy="278.68" r="1.81" fill="#1f1c5c"/>
<circle cx="711" cy="279.28" r="1.81" fill="#1f1c5c"/>
<line x1="703" y1="279.5" x2="713" y2="279.5" stroke="#6a6aa8" stroke-width="0.9"/>
<line x1="708.5" y1="278.51" x2="708.5" y2="280.19" stroke="#6a6aa8" stroke-width="0.9"/>
<line x1="705.75" y1="278.5" x2="710.25" y2="278.5" stroke="#6a6aa8" stroke-width="0.9"/>
<line x1="705.75" y1="280.5" x2="710.25" y2="280.5" stroke="#6a6aa8" stroke-width="0.9"/>
<rect x="726" y="261.52" width="3.41" height="3.41" fill="#3b5cc6"/>
<rect x="726" y="252" width="3.41" height="3.41" fill="#3b5cc6"/>
<rect x="728.47" y="254.18" width="3.41" height="3.41" fill="#3b5cc6"/>
<rect x="723.52" y="253.87" width="3.41" height="3.41" fill="#3b5cc6"/>
<rect x="726" y="256.72" width="3.41" height="3.41" fill="#3b5cc6"/>
<rect x="728.47" y="259.23" width="3.41" height="3.41" fill="#3b5cc6"/>
<rect x="730.28" y="255" width="3.41" height="3.41" fill="#3b5cc6"/>
<rect x="730.05" y="254.15" width="3.41" height="3.41" fill="#3b5cc6"/>
<rect x="721.04" y="257.5" width="3.41" height="3.41" fill="#3b5cc6"/>
<line x1="722.7" y1="257.5" x2="732.7" y2="257.5" stroke="#86d4f5" stroke-width="0.9"/>
<line x1="727.5" y1="254.73" x2="727.5" y2="260.72" stroke="#86d4f5" stroke-width="0.9"/>
<line x1="725.45" y1="254.5" x2="729.95" y2="254.5" stroke="#86d4f5" stroke-width="0.9"/>
<line x1="725.45" y1="260.5" x2="729.95" y2="260.5" stroke="#86d4f5" stroke-width="0.9"/>
<path d="M747.3 226.31L749.39 230.07L745.21 230.07Z" fill="#187a86"/>
<path d="M747.3 221.78L749.39 225.55L745.21 225.55Z" fill="#187a86"/>
<path d="M752.25 221.35L754.34 225.12L750.16 225.12Z" fill="#187a86"/>
<path d="M747.3 230.16L749.39 233.93L745.21 233.93Z" fill="#187a86"/>
<path d="M749.77 224.11L751.87 227.87L747.68 227.87Z" fill="#187a86"/>
<path d="M749.77 228.08L751.87 231.84L747.68 231.84Z" fill="#187a86"/>
<path d="M747.3 239.52L749.39 243.28L745.21 243.28Z" fill="#187a86"/>
<path d="M747.3 234.7L749.39 238.46L745.21 238.46Z" fill="#187a86"/>
<path d="M752.25 225.58L754.34 229.34L750.16 229.34Z" fill="#187a86"/>
<line x1="742.3" y1="230.5" x2="752.3" y2="230.5" stroke="#72c6d0" stroke-width="0.9"/>
<line x1="747.5" y1="224.04" x2="747.5" y2="236.05" stroke="#72c6d0" stroke-width="0.9"/>
<line x1="745.05" y1="224.5" x2="749.55" y2="224.5" stroke="#72c6d0" stroke-width="0.9"/>
<line x1="745.05" y1="236.5" x2="749.55" y2="236.5" stroke="#72c6d0" stroke-width="0.9"/>
<path d="M766 254.01L768.09 250.25L763.91 250.25Z" fill="#f2622a"/>
<path d="M766 259.57L768.09 255.81L763.91 255.81Z" fill="#f2622a"/>
<path d="M770.95 258.55L773.04 254.78L768.86 254.78Z" fill="#f2622a"/>
<path d="M761.05 258.62L763.14 254.85L758.96 254.85Z" fill="#f2622a"/>
<path d="M770.95 255.14L773.04 251.38L768.86 251.38Z" fill="#f2622a"/>
<path d="M763.52 256.01L765.62 252.25L761.43 252.25Z" fill="#f2622a"/>
<path d="M770.95 258.92L773.04 255.16L768.86 255.16Z" fill="#f2622a"/>
<path d="M768.48 260.93L770.57 257.17L766.38 257.17Z" fill="#f2622a"/>
<path d="M768.48 257.12L770.57 253.36L766.38 253.36Z" fill="#f2622a"/>
<line x1="761" y1="255.5" x2="771" y2="255.5" stroke="#f8ab84" stroke-width="0.9"/>
<line x1="766.5" y1="253.32" x2="766.5" y2="257.81" stroke="#f8ab84" stroke-width="0.9"/>
<line x1="763.75" y1="253.5" x2="768.25" y2="253.5" stroke="#f8ab84" stroke-width="0.9"/>
<line x1="763.75" y1="257.5" x2="768.25" y2="257.5" stroke="#f8ab84" stroke-width="0.9"/>
<path d="M786.5 223.54L788.64 225.68L786.5 227.83L784.36 225.68Z" fill="#ec1b2b"/>
<path d="M788.98 226.19L791.12 228.33L788.98 230.48L786.83 228.33Z" fill="#ec1b2b"/>
<path d="M786.5 215.21L788.64 217.35L786.5 219.5L784.36 217.35Z" fill="#ec1b2b"/>
<path d="M786.5 208.55L788.64 210.69L786.5 212.84L784.36 210.69Z" fill="#ec1b2b"/>
<path d="M791.45 215.23L793.6 217.38L791.45 219.52L789.31 217.38Z" fill="#ec1b2b"/>
<path d="M791.45 223.91L793.6 226.06L791.45 228.2L789.31 226.06Z" fill="#ec1b2b"/>
<path d="M786.5 218.71L788.64 220.86L786.5 223L784.36 220.86Z" fill="#ec1b2b"/>
<path d="M786.5 229.04L788.64 231.19L786.5 233.33L784.36 231.19Z" fill="#ec1b2b"/>
<path d="M791.45 228.44L793.6 230.59L791.45 232.73L789.31 230.59Z" fill="#ec1b2b"/>
<line x1="781.5" y1="223.5" x2="791.5" y2="223.5" stroke="#f7909a" stroke-width="0.9"/>
<line x1="786.5" y1="216.15" x2="786.5" y2="230.1" stroke="#f7909a" stroke-width="0.9"/>
<line x1="784.25" y1="216.5" x2="788.75" y2="216.5" stroke="#f7909a" stroke-width="0.9"/>
<line x1="784.25" y1="230.5" x2="788.75" y2="230.5" stroke="#f7909a" stroke-width="0.9"/>
<line x1="707" y1="246.5" x2="727.7" y2="246.5" stroke="#555" stroke-width="1"/>
<path d="M717.35 242v2M716.5 242.5l1.7 1M718.2 242.5l-1.7 1" stroke="#333" stroke-width="0.7"/>
<line x1="727" y1="215.5" x2="747.8" y2="215.5" stroke="#555" stroke-width="1"/>
<path d="M737.4 210.8v2M736.55 211.3l1.7 1M738.25 211.3l-1.7 1" stroke="#333" stroke-width="0.7"/>
<line x1="766.4" y1="205.5" x2="787.1" y2="205.5" stroke="#555" stroke-width="1"/>
<path d="M776.75 201.1v2M775.9 201.6l1.7 1M777.6 201.6l-1.7 1" stroke="#333" stroke-width="0.7"/>
<text x="192.7" y="278.3" font-size="7.5" text-anchor="middle" fill="#222" stroke="#222" stroke-width="0.12">Saline</text>
<text x="296.4" y="278.3" font-size="7.5" text-anchor="middle" fill="#222" stroke="#222" stroke-width="0.12">Ang II</text>
<text x="399" y="278.3" font-size="7.5" text-anchor="middle" fill="#222" stroke="#222" stroke-width="0.12">EVs + Ang II</text>
<text x="502" y="278.3" font-size="7.5" text-anchor="middle" fill="#222" stroke="#222" stroke-width="0.12">pGMLV-Vector + Ang II</text>
<text x="607.5" y="278.3" font-size="7.5" text-anchor="middle" fill="#222" stroke="#222" stroke-width="0.12">pGMLV-MIAT + Ang II</text>
<text x="0.2" y="314.3" font-size="16.5" font-weight="bold" fill="#000">G</text>
<circle cx="34.2" cy="310.5" r="1.65" fill="#1f1c5c"/>
<text x="44.2" y="312.65" font-size="7" fill="#222" stroke="#222" stroke-width="0.12">Saline</text>
<rect x="32.65" y="318.65" width="3.1" height="3.1" fill="#3b5cc6"/>
<text x="44.2" y="322.35" font-size="7" fill="#222" stroke="#222" stroke-width="0.12">Ang II</text>
<path d="M34.2 328L36.1 331.42L32.3 331.42Z" fill="#187a86"/>
<text x="44.2" y="332.05" font-size="7" fill="#222" stroke="#222" stroke-width="0.12">EVs + Ang II</text>
<path d="M34.2 341.5L36.1 338.08L32.3 338.08Z" fill="#f2622a"/>
<text x="44.2" y="341.75" font-size="7" fill="#222" stroke="#222" stroke-width="0.12">pGMLV-Vector + Ang II</text>
<path d="M34.2 347.35L36.15 349.3L34.2 351.25L32.25 349.3Z" fill="#ec1b2b"/>
<text x="44.2" y="351.45" font-size="7" fill="#222" stroke="#222" stroke-width="0.12">pGMLV-MIAT + Ang II</text>
<line x1="26.5" y1="360.2" x2="26.5" y2="445.6" stroke="#2a2a2a" stroke-width="1.2"/>
<line x1="25.5" y1="445.5" x2="153.6" y2="445.5" stroke="#2a2a2a" stroke-width="1.2"/>
<line x1="23.1" y1="445.5" x2="26.1" y2="445.5" stroke="#2a2a2a" stroke-width="1"/>
<text x="22.1" y="447.3" font-size="6.6" text-anchor="end" fill="#222" stroke="#222" stroke-width="0.12">0</text>
<line x1="23.1" y1="416.5" x2="26.1" y2="416.5" stroke="#2a2a2a" stroke-width="1"/>
<text x="22.1" y="419.2" font-size="6.6" text-anchor="end" fill="#222" stroke="#222" stroke-width="0.12">2</text>
<line x1="23.1" y1="388.5" x2="26.1" y2="388.5" stroke="#2a2a2a" stroke-width="1"/>
<text x="22.1" y="391.1" font-size="6.6" text-anchor="end" fill="#222" stroke="#222" stroke-width="0.12">4</text>
<line x1="23.1" y1="360.5" x2="26.1" y2="360.5" stroke="#2a2a2a" stroke-width="1"/>
<text x="22.1" y="363" font-size="6.6" text-anchor="end" fill="#222" stroke="#222" stroke-width="0.12">6</text>
<text transform="translate(14.1 403) rotate(-90)" font-size="7" text-anchor="middle" fill="#222" stroke="#222" stroke-width="0.12">Relative expression</text>
<line x1="57.5" y1="445" x2="57.5" y2="448" stroke="#2a2a2a" stroke-width="1"/>
<text x="57" y="455" font-size="6.6" text-anchor="middle" fill="#222" stroke="#222" stroke-width="0.12">collagen I</text>
<line x1="122.5" y1="445" x2="122.5" y2="448" stroke="#2a2a2a" stroke-width="1"/>
<text x="122.3" y="455" font-size="6.6" text-anchor="middle" fill="#222" stroke="#222" stroke-width="0.12">collagen III</text>
<circle cx="34" cy="428.21" r="1.65" fill="#1f1c5c"/>
<circle cx="34" cy="431.61" r="1.65" fill="#1f1c5c"/>
<circle cx="36.1" cy="429.77" r="1.65" fill="#1f1c5c"/>
<circle cx="38.21" cy="430.82" r="1.65" fill="#1f1c5c"/>
<circle cx="29.79" cy="431.95" r="1.65" fill="#1f1c5c"/>
<circle cx="35.07" cy="431.9" r="1.65" fill="#1f1c5c"/>
<circle cx="37.77" cy="430.97" r="1.65" fill="#1f1c5c"/>
<circle cx="31.9" cy="433.13" r="1.65" fill="#1f1c5c"/>
<circle cx="31.9" cy="430.19" r="1.65" fill="#1f1c5c"/>
<line x1="30" y1="430.5" x2="38" y2="430.5" stroke="#6a6aa8" stroke-width="0.9"/>
<line x1="34.5" y1="429.51" x2="34.5" y2="432.39" stroke="#6a6aa8" stroke-width="0.9"/>
<line x1="32.2" y1="429.5" x2="35.8" y2="429.5" stroke="#6a6aa8" stroke-width="0.9"/>
<line x1="32.2" y1="432.5" x2="35.8" y2="432.5" stroke="#6a6aa8" stroke-width="0.9"/>
<rect x="44.05" y="414.64" width="3.1" height="3.1" fill="#3b5cc6"/>
<rect x="44.05" y="417.91" width="3.1" height="3.1" fill="#3b5cc6"/>
<rect x="44.05" y="411.98" width="3.1" height="3.1" fill="#3b5cc6"/>
<rect x="44.05" y="403.86" width="3.1" height="3.1" fill="#3b5cc6"/>
<rect x="44.05" y="407.11" width="3.1" height="3.1" fill="#3b5cc6"/>
<rect x="46.15" y="413.1" width="3.1" height="3.1" fill="#3b5cc6"/>
<rect x="46.15" y="405.87" width="3.1" height="3.1" fill="#3b5cc6"/>
<rect x="46.15" y="415.67" width="3.1" height="3.1" fill="#3b5cc6"/>
<rect x="46.15" y="410.08" width="3.1" height="3.1" fill="#3b5cc6"/>
<line x1="41.6" y1="412.5" x2="49.6" y2="412.5" stroke="#86d4f5" stroke-width="0.9"/>
<line x1="45.5" y1="407.93" x2="45.5" y2="417.44" stroke="#86d4f5" stroke-width="0.9"/>
<line x1="43.8" y1="407.5" x2="47.4" y2="407.5" stroke="#86d4f5" stroke-width="0.9"/>
<line x1="43.8" y1="417.5" x2="47.4" y2="417.5" stroke="#86d4f5" stroke-width="0.9"/>
<path d="M57 382.1L58.9 385.52L55.1 385.52Z" fill="#187a86"/>
<path d="M57 378.71L58.9 382.13L55.1 382.13Z" fill="#187a86"/>
<path d="M59.1 383.69L61 387.11L57.2 387.11Z" fill="#187a86"/>
<path d="M61.21 379.07L63.11 382.49L59.31 382.49Z" fill="#187a86"/>
<path d="M57 375.6L58.9 379.02L55.1 379.02Z" fill="#187a86"/>
<path d="M54.9 384.11L56.8 387.53L53 387.53Z" fill="#187a86"/>
<path d="M59.1 376.9L61 380.32L57.2 380.32Z" fill="#187a86"/>
<path d="M57 365.43L58.9 368.85L55.1 368.85Z" fill="#187a86"/>
<path d="M59.1 380.62L61 384.04L57.2 384.04Z" fill="#187a86"/>
<line x1="53" y1="380.5" x2="61" y2="380.5" stroke="#72c6d0" stroke-width="0.9"/>
<line x1="57.5" y1="374.69" x2="57.5" y2="386.05" stroke="#72c6d0" stroke-width="0.9"/>
<line x1="55.2" y1="374.5" x2="58.8" y2="374.5" stroke="#72c6d0" stroke-width="0.9"/>
<line x1="55.2" y1="386.5" x2="58.8" y2="386.5" stroke="#72c6d0" stroke-width="0.9"/>
<path d="M68.9 413.22L70.8 409.8L67 409.8Z" fill="#f2622a"/>
<path d="M68.9 416.82L70.8 413.4L67 413.4Z" fill="#f2622a"/>
<path d="M68.9 407.89L70.8 404.47L67 404.47Z" fill="#f2622a"/>
<path d="M73.11 412.55L75.01 409.13L71.21 409.13Z" fill="#f2622a"/>
<path d="M71 415.75L72.9 412.33L69.1 412.33Z" fill="#f2622a"/>
<path d="M68.9 419.47L70.8 416.05L67 416.05Z" fill="#f2622a"/>
<path d="M71 410.01L72.9 406.59L69.1 406.59Z" fill="#f2622a"/>
<path d="M71 406.83L72.9 403.41L69.1 403.41Z" fill="#f2622a"/>
<path d="M64.69 416.07L66.59 412.65L62.79 412.65Z" fill="#f2622a"/>
<line x1="64.9" y1="411.5" x2="72.9" y2="411.5" stroke="#f8ab84" stroke-width="0.9"/>
<line x1="68.5" y1="407" x2="68.5" y2="415.56" stroke="#f8ab84" stroke-width="0.9"/>
<line x1="67.1" y1="407.5" x2="70.7" y2="407.5" stroke="#f8ab84" stroke-width="0.9"/>
<line x1="67.1" y1="415.5" x2="70.7" y2="415.5" stroke="#f8ab84" stroke-width="0.9"/>
<path d="M80.3 378.22L82.25 380.17L80.3 382.12L78.35 380.17Z" fill="#ec1b2b"/>
<path d="M84.51 378.45L86.46 380.4L84.51 382.35L82.56 380.4Z" fill="#ec1b2b"/>
<path d="M76.09 377.71L78.04 379.66L76.09 381.61L74.14 379.66Z" fill="#ec1b2b"/>
<path d="M80.3 375.81L82.25 377.76L80.3 379.71L78.35 377.76Z" fill="#ec1b2b"/>
<path d="M82.4 374.38L84.35 376.33L82.4 378.28L80.45 376.33Z" fill="#ec1b2b"/>
<path d="M80.3 386.49L82.25 388.44L80.3 390.39L78.35 388.44Z" fill="#ec1b2b"/>
<path d="M80.3 380.82L82.25 382.77L80.3 384.72L78.35 382.77Z" fill="#ec1b2b"/>
<path d="M80.3 367.82L82.25 369.77L80.3 371.72L78.35 369.77Z" fill="#ec1b2b"/>
<path d="M84.51 386.09L86.46 388.04L84.51 389.99L82.56 388.04Z" fill="#ec1b2b"/>
<line x1="76.3" y1="380.5" x2="84.3" y2="380.5" stroke="#f7909a" stroke-width="0.9"/>
<line x1="80.5" y1="374.61" x2="80.5" y2="386.13" stroke="#f7909a" stroke-width="0.9"/>
<line x1="78.5" y1="374.5" x2="82.1" y2="374.5" stroke="#f7909a" stroke-width="0.9"/>
<line x1="78.5" y1="386.5" x2="82.1" y2="386.5" stroke="#f7909a" stroke-width="0.9"/>
<circle cx="99.5" cy="432.12" r="1.65" fill="#1f1c5c"/>
<circle cx="101.6" cy="430.14" r="1.65" fill="#1f1c5c"/>
<circle cx="103.71" cy="431.66" r="1.65" fill="#1f1c5c"/>
<circle cx="101.6" cy="433.43" r="1.65" fill="#1f1c5c"/>
<circle cx="97.4" cy="429.21" r="1.65" fill="#1f1c5c"/>
<circle cx="95.29" cy="430.47" r="1.65" fill="#1f1c5c"/>
<circle cx="103.35" cy="432.49" r="1.65" fill="#1f1c5c"/>
<circle cx="96.56" cy="432.71" r="1.65" fill="#1f1c5c"/>
<circle cx="96.77" cy="432.64" r="1.65" fill="#1f1c5c"/>
<line x1="95.5" y1="431.5" x2="103.5" y2="431.5" stroke="#6a6aa8" stroke-width="0.9"/>
<line x1="99.5" y1="430.25" x2="99.5" y2="433.06" stroke="#6a6aa8" stroke-width="0.9"/>
<line x1="97.7" y1="430.5" x2="101.3" y2="430.5" stroke="#6a6aa8" stroke-width="0.9"/>
<line x1="97.7" y1="433.5" x2="101.3" y2="433.5" stroke="#6a6aa8" stroke-width="0.9"/>
<rect x="109.35" y="415.11" width="3.1" height="3.1" fill="#3b5cc6"/>
<rect x="113.56" y="416.01" width="3.1" height="3.1" fill="#3b5cc6"/>
<rect x="109.35" y="412.58" width="3.1" height="3.1" fill="#3b5cc6"/>
<rect x="109.35" y="408.98" width="3.1" height="3.1" fill="#3b5cc6"/>
<rect x="113.56" y="412.03" width="3.1" height="3.1" fill="#3b5cc6"/>
<rect x="111.45" y="413.75" width="3.1" height="3.1" fill="#3b5cc6"/>
<rect x="107.25" y="413.9" width="3.1" height="3.1" fill="#3b5cc6"/>
<rect x="111.71" y="412.92" width="3.1" height="3.1" fill="#3b5cc6"/>
<rect x="112.5" y="413.91" width="3.1" height="3.1" fill="#3b5cc6"/>
<line x1="106.9" y1="414.5" x2="114.9" y2="414.5" stroke="#86d4f5" stroke-width="0.9"/>
<line x1="110.5" y1="412.78" x2="110.5" y2="416.81" stroke="#86d4f5" stroke-width="0.9"/>
<line x1="109.1" y1="412.5" x2="112.7" y2="412.5" stroke="#86d4f5" stroke-width="0.9"/>
<line x1="109.1" y1="416.5" x2="112.7" y2="416.5" stroke="#86d4f5" stroke-width="0.9"/>
<path d="M122.3 382.67L124.2 386.09L120.4 386.09Z" fill="#187a86"/>
<path d="M122.3 386.51L124.2 389.93L120.4 389.93Z" fill="#187a86"/>
<path d="M126.51 382.74L128.41 386.16L124.61 386.16Z" fill="#187a86"/>
<path d="M122.3 379.94L124.2 383.36L120.4 383.36Z" fill="#187a86"/>
<path d="M126.51 386.09L128.41 389.51L124.61 389.51Z" fill="#187a86"/>
<path d="M122.3 373.07L124.2 376.49L120.4 376.49Z" fill="#187a86"/>
<path d="M124.4 388.52L126.3 391.94L122.5 391.94Z" fill="#187a86"/>
<path d="M124.4 378.04L126.3 381.46L122.5 381.46Z" fill="#187a86"/>
<path d="M118.09 386.57L119.99 389.99L116.19 389.99Z" fill="#187a86"/>
<line x1="118.3" y1="384.5" x2="126.3" y2="384.5" stroke="#72c6d0" stroke-width="0.9"/>
<line x1="122.5" y1="379.62" x2="122.5" y2="389.55" stroke="#72c6d0" stroke-width="0.9"/>
<line x1="120.5" y1="379.5" x2="124.1" y2="379.5" stroke="#72c6d0" stroke-width="0.9"/>
<line x1="120.5" y1="389.5" x2="124.1" y2="389.5" stroke="#72c6d0" stroke-width="0.9"/>
<path d="M134.2 416.38L136.1 412.96L132.3 412.96Z" fill="#f2622a"/>
<path d="M138.41 415.62L140.31 412.2L136.51 412.2Z" fill="#f2622a"/>
<path d="M132.1 414.79L134 411.37L130.2 411.37Z" fill="#f2622a"/>
<path d="M131.35 414.92L133.25 411.5L129.45 411.5Z" fill="#f2622a"/>
<path d="M134.2 411.03L136.1 407.61L132.3 407.61Z" fill="#f2622a"/>
<path d="M136.3 412.95L138.2 409.53L134.4 409.53Z" fill="#f2622a"/>
<path d="M130.19 416.57L132.09 413.15L128.29 413.15Z" fill="#f2622a"/>
<path d="M134.2 419.41L136.1 415.99L132.3 415.99Z" fill="#f2622a"/>
<path d="M136.3 409.58L138.2 406.16L134.4 406.16Z" fill="#f2622a"/>
<line x1="130.2" y1="412.5" x2="138.2" y2="412.5" stroke="#f8ab84" stroke-width="0.9"/>
<line x1="134.5" y1="409.68" x2="134.5" y2="415.69" stroke="#f8ab84" stroke-width="0.9"/>
<line x1="132.4" y1="409.5" x2="136" y2="409.5" stroke="#f8ab84" stroke-width="0.9"/>
<line x1="132.4" y1="415.5" x2="136" y2="415.5" stroke="#f8ab84" stroke-width="0.9"/>
<path d="M145.3 383.47L147.25 385.42L145.3 387.37L143.35 385.42Z" fill="#ec1b2b"/>
<path d="M145.3 375L147.25 376.95L145.3 378.9L143.35 376.95Z" fill="#ec1b2b"/>
<path d="M149.51 374.71L151.46 376.66L149.51 378.61L147.56 376.66Z" fill="#ec1b2b"/>
<path d="M145.3 379.45L147.25 381.4L145.3 383.35L143.35 381.4Z" fill="#ec1b2b"/>
<path d="M147.4 384.73L149.35 386.68L147.4 388.63L145.45 386.68Z" fill="#ec1b2b"/>
<path d="M141.09 374.13L143.04 376.08L141.09 378.03L139.14 376.08Z" fill="#ec1b2b"/>
<path d="M149.51 379.3L151.46 381.25L149.51 383.2L147.56 381.25Z" fill="#ec1b2b"/>
<path d="M141.09 379.45L143.04 381.4L141.09 383.35L139.14 381.4Z" fill="#ec1b2b"/>
<path d="M145.3 388.18L147.25 390.13L145.3 392.08L143.35 390.13Z" fill="#ec1b2b"/>
<line x1="141.3" y1="381.5" x2="149.3" y2="381.5" stroke="#f7909a" stroke-width="0.9"/>
<line x1="145.5" y1="376.91" x2="145.5" y2="386.64" stroke="#f7909a" stroke-width="0.9"/>
<line x1="143.5" y1="376.5" x2="147.1" y2="376.5" stroke="#f7909a" stroke-width="0.9"/>
<line x1="143.5" y1="386.5" x2="147.1" y2="386.5" stroke="#f7909a" stroke-width="0.9"/>
<line x1="31.6" y1="397.5" x2="45.6" y2="397.5" stroke="#555" stroke-width="1"/>
<path d="M38.6 385.5v2M37.75 386l1.7 1M39.45 386l-1.7 1" stroke="#333" stroke-width="0.7"/>
<line x1="43.5" y1="361.5" x2="57.7" y2="361.5" stroke="#555" stroke-width="1"/>
<path d="M50.6 357v2M49.75 357.5l1.7 1M51.45 357.5l-1.7 1" stroke="#333" stroke-width="0.7"/>
<line x1="67.2" y1="361.5" x2="81.5" y2="361.5" stroke="#555" stroke-width="1"/>
<path d="M74.35 357v2M73.5 357.5l1.7 1M75.2 357.5l-1.7 1" stroke="#333" stroke-width="0.7"/>
<line x1="96.6" y1="400.5" x2="110.9" y2="400.5" stroke="#555" stroke-width="1"/>
<path d="M103.75 396.4v2M102.9 396.9l1.7 1M104.6 396.9l-1.7 1" stroke="#333" stroke-width="0.7"/>
<line x1="109" y1="367.5" x2="123.2" y2="367.5" stroke="#555" stroke-width="1"/>
<path d="M116.1 362.9v2M115.25 363.4l1.7 1M116.95 363.4l-1.7 1" stroke="#333" stroke-width="0.7"/>
<line x1="132.3" y1="364.5" x2="146.5" y2="364.5" stroke="#555" stroke-width="1"/>
<path d="M139.4 360.5v2M138.55 361l1.7 1M140.25 361l-1.7 1" stroke="#333" stroke-width="0.7"/>
<circle cx="194" cy="310.5" r="1.65" fill="#1f1c5c"/>
<text x="203.9" y="312.65" font-size="7" fill="#222" stroke="#222" stroke-width="0.12">Saline</text>
<rect x="192.45" y="318.65" width="3.1" height="3.1" fill="#3b5cc6"/>
<text x="203.9" y="322.35" font-size="7" fill="#222" stroke="#222" stroke-width="0.12">Ang II</text>
<path d="M194 328L195.9 331.42L192.1 331.42Z" fill="#187a86"/>
<text x="203.9" y="332.05" font-size="7" fill="#222" stroke="#222" stroke-width="0.12">EVs + Ang II</text>
<path d="M194 341.5L195.9 338.08L192.1 338.08Z" fill="#f2622a"/>
<text x="203.9" y="341.75" font-size="7" fill="#222" stroke="#222" stroke-width="0.12">pGMLV-Vector + Ang II</text>
<path d="M194 347.35L195.95 349.3L194 351.25L192.05 349.3Z" fill="#ec1b2b"/>
<text x="203.9" y="351.45" font-size="7" fill="#222" stroke="#222" stroke-width="0.12">pGMLV-MIAT + Ang II</text>
<line x1="189.5" y1="359.45" x2="189.5" y2="447.3" stroke="#2a2a2a" stroke-width="1.2"/>
<line x1="188.4" y1="446.5" x2="319.6" y2="446.5" stroke="#2a2a2a" stroke-width="1.2"/>
<line x1="186" y1="446.5" x2="189" y2="446.5" stroke="#2a2a2a" stroke-width="1"/>
<text x="185" y="449" font-size="6.6" text-anchor="end" fill="#222" stroke="#222" stroke-width="0.12">0.0</text>
<line x1="186" y1="429.5" x2="189" y2="429.5" stroke="#2a2a2a" stroke-width="1"/>
<text x="185" y="431.65" font-size="6.6" text-anchor="end" fill="#222" stroke="#222" stroke-width="0.12">0.5</text>
<line x1="186" y1="412.5" x2="189" y2="412.5" stroke="#2a2a2a" stroke-width="1"/>
<text x="185" y="414.3" font-size="6.6" text-anchor="end" fill="#222" stroke="#222" stroke-width="0.12">1.0</text>
<line x1="186" y1="394.5" x2="189" y2="394.5" stroke="#2a2a2a" stroke-width="1"/>
<text x="185" y="396.95" font-size="6.6" text-anchor="end" fill="#222" stroke="#222" stroke-width="0.12">1.5</text>
<line x1="186" y1="377.5" x2="189" y2="377.5" stroke="#2a2a2a" stroke-width="1"/>
<text x="185" y="379.6" font-size="6.6" text-anchor="end" fill="#222" stroke="#222" stroke-width="0.12">2.0</text>
<line x1="186" y1="359.5" x2="189" y2="359.5" stroke="#2a2a2a" stroke-width="1"/>
<text x="185" y="362.25" font-size="6.6" text-anchor="end" fill="#222" stroke="#222" stroke-width="0.12">2.5</text>
<text transform="translate(172.9 401) rotate(-90)" font-size="7" text-anchor="middle" fill="#222" stroke="#222" stroke-width="0.12">Relative protein expression</text>
<line x1="220.5" y1="446.7" x2="220.5" y2="449.7" stroke="#2a2a2a" stroke-width="1"/>
<text x="220.6" y="456.7" font-size="6.6" text-anchor="middle" fill="#222" stroke="#222" stroke-width="0.12">collagen I</text>
<line x1="288.5" y1="446.7" x2="288.5" y2="449.7" stroke="#2a2a2a" stroke-width="1"/>
<text x="288" y="456.7" font-size="6.6" text-anchor="middle" fill="#222" stroke="#222" stroke-width="0.12">collagen III</text>
<circle cx="197.3" cy="436.9" r="1.65" fill="#1f1c5c"/>
<circle cx="199.4" cy="435.71" r="1.65" fill="#1f1c5c"/>
<circle cx="195.2" cy="437.98" r="1.65" fill="#1f1c5c"/>
<circle cx="195.2" cy="434.95" r="1.65" fill="#1f1c5c"/>
<circle cx="193.26" cy="435.04" r="1.65" fill="#1f1c5c"/>
<circle cx="201.51" cy="436.96" r="1.65" fill="#1f1c5c"/>
<circle cx="195.34" cy="437.22" r="1.65" fill="#1f1c5c"/>
<circle cx="201.51" cy="434.51" r="1.65" fill="#1f1c5c"/>
<circle cx="196.52" cy="437.33" r="1.65" fill="#1f1c5c"/>
<line x1="193.3" y1="436.5" x2="201.3" y2="436.5" stroke="#6a6aa8" stroke-width="0.9"/>
<line x1="197.5" y1="435.04" x2="197.5" y2="437.54" stroke="#6a6aa8" stroke-width="0.9"/>
<line x1="195.5" y1="435.5" x2="199.1" y2="435.5" stroke="#6a6aa8" stroke-width="0.9"/>
<line x1="195.5" y1="437.5" x2="199.1" y2="437.5" stroke="#6a6aa8" stroke-width="0.9"/>
<rect x="207.65" y="415.83" width="3.1" height="3.1" fill="#3b5cc6"/>
<rect x="209.75" y="413.99" width="3.1" height="3.1" fill="#3b5cc6"/>
<rect x="207.65" y="420.77" width="3.1" height="3.1" fill="#3b5cc6"/>
<rect x="209.75" y="419.12" width="3.1" height="3.1" fill="#3b5cc6"/>
<rect x="205.55" y="419.45" width="3.1" height="3.1" fill="#3b5cc6"/>
<rect x="203.44" y="418.18" width="3.1" height="3.1" fill="#3b5cc6"/>
<rect x="207.65" y="412.1" width="3.1" height="3.1" fill="#3b5cc6"/>
<rect x="211.86" y="417.4" width="3.1" height="3.1" fill="#3b5cc6"/>
<rect x="205.55" y="413.41" width="3.1" height="3.1" fill="#3b5cc6"/>
<line x1="205.2" y1="418.5" x2="213.2" y2="418.5" stroke="#86d4f5" stroke-width="0.9"/>
<line x1="209.5" y1="415.23" x2="209.5" y2="421.26" stroke="#86d4f5" stroke-width="0.9"/>
<line x1="207.4" y1="415.5" x2="211" y2="415.5" stroke="#86d4f5" stroke-width="0.9"/>
<line x1="207.4" y1="421.5" x2="211" y2="421.5" stroke="#86d4f5" stroke-width="0.9"/>
<path d="M220.6 383.89L222.5 387.31L218.7 387.31Z" fill="#187a86"/>
<path d="M220.6 386.86L222.5 390.28L218.7 390.28Z" fill="#187a86"/>
<path d="M222.7 382.62L224.6 386.04L220.8 386.04Z" fill="#187a86"/>
<path d="M220.6 389.62L222.5 393.04L218.7 393.04Z" fill="#187a86"/>
<path d="M224.81 386.27L226.71 389.69L222.91 389.69Z" fill="#187a86"/>
<path d="M218.5 385.3L220.4 388.72L216.6 388.72Z" fill="#187a86"/>
<path d="M224.81 388.78L226.71 392.2L222.91 392.2Z" fill="#187a86"/>
<path d="M224.81 383.89L226.71 387.31L222.91 387.31Z" fill="#187a86"/>
<path d="M222.7 391.3L224.6 394.72L220.8 394.72Z" fill="#187a86"/>
<line x1="216.6" y1="388.5" x2="224.6" y2="388.5" stroke="#72c6d0" stroke-width="0.9"/>
<line x1="220.5" y1="385.48" x2="220.5" y2="391.33" stroke="#72c6d0" stroke-width="0.9"/>
<line x1="218.8" y1="385.5" x2="222.4" y2="385.5" stroke="#72c6d0" stroke-width="0.9"/>
<line x1="218.8" y1="391.5" x2="222.4" y2="391.5" stroke="#72c6d0" stroke-width="0.9"/>
<path d="M232 422.59L233.9 419.17L230.1 419.17Z" fill="#f2622a"/>
<path d="M234.1 424.48L236 421.06L232.2 421.06Z" fill="#f2622a"/>
<path d="M234.1 420.29L236 416.87L232.2 416.87Z" fill="#f2622a"/>
<path d="M236.21 422.28L238.11 418.86L234.31 418.86Z" fill="#f2622a"/>
<path d="M229.9 420.25L231.8 416.83L228 416.83Z" fill="#f2622a"/>
<path d="M231.36 420.13L233.26 416.71L229.46 416.71Z" fill="#f2622a"/>
<path d="M232 417.39L233.9 413.97L230.1 413.97Z" fill="#f2622a"/>
<path d="M236.21 418.08L238.11 414.66L234.31 414.66Z" fill="#f2622a"/>
<path d="M234.1 415.81L236 412.39L232.2 412.39Z" fill="#f2622a"/>
<line x1="228" y1="418.5" x2="236" y2="418.5" stroke="#f8ab84" stroke-width="0.9"/>
<line x1="232.5" y1="415.51" x2="232.5" y2="420.99" stroke="#f8ab84" stroke-width="0.9"/>
<line x1="230.2" y1="415.5" x2="233.8" y2="415.5" stroke="#f8ab84" stroke-width="0.9"/>
<line x1="230.2" y1="420.5" x2="233.8" y2="420.5" stroke="#f8ab84" stroke-width="0.9"/>
<path d="M243.6 382.05L245.55 384L243.6 385.95L241.65 384Z" fill="#ec1b2b"/>
<path d="M243.6 388.28L245.55 390.23L243.6 392.18L241.65 390.23Z" fill="#ec1b2b"/>
<path d="M243.6 378.13L245.55 380.08L243.6 382.03L241.65 380.08Z" fill="#ec1b2b"/>
<path d="M247.81 382.55L249.76 384.5L247.81 386.45L245.86 384.5Z" fill="#ec1b2b"/>
<path d="M245.7 386.31L247.65 388.26L245.7 390.21L243.75 388.26Z" fill="#ec1b2b"/>
<path d="M241.5 384.02L243.45 385.97L241.5 387.92L239.55 385.97Z" fill="#ec1b2b"/>
<path d="M247.81 388.21L249.76 390.16L247.81 392.11L245.86 390.16Z" fill="#ec1b2b"/>
<path d="M241.5 386.47L243.45 388.42L241.5 390.37L239.55 388.42Z" fill="#ec1b2b"/>
<path d="M245.7 389.58L247.65 391.53L245.7 393.48L243.75 391.53Z" fill="#ec1b2b"/>
<line x1="239.6" y1="387.5" x2="247.6" y2="387.5" stroke="#f7909a" stroke-width="0.9"/>
<line x1="243.5" y1="383.33" x2="243.5" y2="390.7" stroke="#f7909a" stroke-width="0.9"/>
<line x1="241.8" y1="383.5" x2="245.4" y2="383.5" stroke="#f7909a" stroke-width="0.9"/>
<line x1="241.8" y1="390.5" x2="245.4" y2="390.5" stroke="#f7909a" stroke-width="0.9"/>
<circle cx="264.2" cy="437.05" r="1.65" fill="#1f1c5c"/>
<circle cx="268.41" cy="437.73" r="1.65" fill="#1f1c5c"/>
<circle cx="264.2" cy="434.26" r="1.65" fill="#1f1c5c"/>
<circle cx="259.99" cy="436.23" r="1.65" fill="#1f1c5c"/>
<circle cx="260.13" cy="436.21" r="1.65" fill="#1f1c5c"/>
<circle cx="261.17" cy="436.69" r="1.65" fill="#1f1c5c"/>
<circle cx="266.3" cy="435.76" r="1.65" fill="#1f1c5c"/>
<circle cx="263.24" cy="436.13" r="1.65" fill="#1f1c5c"/>
<circle cx="264.82" cy="436.54" r="1.65" fill="#1f1c5c"/>
<line x1="260.2" y1="436.5" x2="268.2" y2="436.5" stroke="#6a6aa8" stroke-width="0.9"/>
<line x1="264.5" y1="435.33" x2="264.5" y2="437.25" stroke="#6a6aa8" stroke-width="0.9"/>
<line x1="262.4" y1="435.5" x2="266" y2="435.5" stroke="#6a6aa8" stroke-width="0.9"/>
<line x1="262.4" y1="437.5" x2="266" y2="437.5" stroke="#6a6aa8" stroke-width="0.9"/>
<rect x="274.55" y="421.25" width="3.1" height="3.1" fill="#3b5cc6"/>
<rect x="274.55" y="414.64" width="3.1" height="3.1" fill="#3b5cc6"/>
<rect x="278.76" y="420.32" width="3.1" height="3.1" fill="#3b5cc6"/>
<rect x="276.65" y="418.97" width="3.1" height="3.1" fill="#3b5cc6"/>
<rect x="278.76" y="414.06" width="3.1" height="3.1" fill="#3b5cc6"/>
<rect x="270.34" y="415.5" width="3.1" height="3.1" fill="#3b5cc6"/>
<rect x="276.65" y="412.57" width="3.1" height="3.1" fill="#3b5cc6"/>
<rect x="275.44" y="414.9" width="3.1" height="3.1" fill="#3b5cc6"/>
<rect x="272.45" y="418.05" width="3.1" height="3.1" fill="#3b5cc6"/>
<line x1="272.1" y1="418.5" x2="280.1" y2="418.5" stroke="#86d4f5" stroke-width="0.9"/>
<line x1="276.5" y1="415.21" x2="276.5" y2="421.28" stroke="#86d4f5" stroke-width="0.9"/>
<line x1="274.3" y1="415.5" x2="277.9" y2="415.5" stroke="#86d4f5" stroke-width="0.9"/>
<line x1="274.3" y1="421.5" x2="277.9" y2="421.5" stroke="#86d4f5" stroke-width="0.9"/>
<path d="M288 386.08L289.9 389.5L286.1 389.5Z" fill="#187a86"/>
<path d="M292.21 385.08L294.11 388.5L290.31 388.5Z" fill="#187a86"/>
<path d="M288 388.66L289.9 392.08L286.1 392.08Z" fill="#187a86"/>
<path d="M292.21 388.41L294.11 391.83L290.31 391.83Z" fill="#187a86"/>
<path d="M290.1 390.22L292 393.64L288.2 393.64Z" fill="#187a86"/>
<path d="M283.79 388.63L285.69 392.05L281.89 392.05Z" fill="#187a86"/>
<path d="M283.79 385.92L285.69 389.34L281.89 389.34Z" fill="#187a86"/>
<path d="M284.7 385.73L286.6 389.15L282.8 389.15Z" fill="#187a86"/>
<path d="M288 379.81L289.9 383.23L286.1 383.23Z" fill="#187a86"/>
<line x1="284" y1="388.5" x2="292" y2="388.5" stroke="#72c6d0" stroke-width="0.9"/>
<line x1="288.5" y1="385.35" x2="288.5" y2="391.46" stroke="#72c6d0" stroke-width="0.9"/>
<line x1="286.2" y1="385.5" x2="289.8" y2="385.5" stroke="#72c6d0" stroke-width="0.9"/>
<line x1="286.2" y1="391.5" x2="289.8" y2="391.5" stroke="#72c6d0" stroke-width="0.9"/>
<path d="M299.4 418.19L301.3 414.77L297.5 414.77Z" fill="#f2622a"/>
<path d="M299.4 421.72L301.3 418.3L297.5 418.3Z" fill="#f2622a"/>
<path d="M303.61 417.51L305.51 414.09L301.71 414.09Z" fill="#f2622a"/>
<path d="M301.5 419.67L303.4 416.25L299.6 416.25Z" fill="#f2622a"/>
<path d="M303.61 421.29L305.51 417.87L301.71 417.87Z" fill="#f2622a"/>
<path d="M295.19 417.61L297.09 414.19L293.29 414.19Z" fill="#f2622a"/>
<path d="M297.3 419.26L299.2 415.84L295.4 415.84Z" fill="#f2622a"/>
<path d="M299.4 414.35L301.3 410.93L297.5 410.93Z" fill="#f2622a"/>
<path d="M295.19 422.33L297.09 418.91L293.29 418.91Z" fill="#f2622a"/>
<line x1="295.4" y1="417.5" x2="303.4" y2="417.5" stroke="#f8ab84" stroke-width="0.9"/>
<line x1="299.5" y1="414.69" x2="299.5" y2="419.72" stroke="#f8ab84" stroke-width="0.9"/>
<line x1="297.6" y1="414.5" x2="301.2" y2="414.5" stroke="#f8ab84" stroke-width="0.9"/>
<line x1="297.6" y1="419.5" x2="301.2" y2="419.5" stroke="#f8ab84" stroke-width="0.9"/>
<path d="M311.3 391.69L313.25 393.64L311.3 395.59L309.35 393.64Z" fill="#ec1b2b"/>
<path d="M311.3 383.72L313.25 385.67L311.3 387.62L309.35 385.67Z" fill="#ec1b2b"/>
<path d="M311.3 380.85L313.25 382.8L311.3 384.75L309.35 382.8Z" fill="#ec1b2b"/>
<path d="M313.4 379.54L315.35 381.49L313.4 383.44L311.45 381.49Z" fill="#ec1b2b"/>
<path d="M307.09 380.36L309.04 382.31L307.09 384.26L305.14 382.31Z" fill="#ec1b2b"/>
<path d="M313.4 382.53L315.35 384.48L313.4 386.43L311.45 384.48Z" fill="#ec1b2b"/>
<path d="M315.51 381.02L317.46 382.97L315.51 384.92L313.56 382.97Z" fill="#ec1b2b"/>
<path d="M311.3 387.27L313.25 389.22L311.3 391.17L309.35 389.22Z" fill="#ec1b2b"/>
<path d="M313.4 389.24L315.35 391.19L313.4 393.14L311.45 391.19Z" fill="#ec1b2b"/>
<line x1="307.3" y1="385.5" x2="315.3" y2="385.5" stroke="#f7909a" stroke-width="0.9"/>
<line x1="311.5" y1="381.63" x2="311.5" y2="390.32" stroke="#f7909a" stroke-width="0.9"/>
<line x1="309.5" y1="381.5" x2="313.1" y2="381.5" stroke="#f7909a" stroke-width="0.9"/>
<line x1="309.5" y1="390.5" x2="313.1" y2="390.5" stroke="#f7909a" stroke-width="0.9"/>
<line x1="195.6" y1="405.5" x2="210.4" y2="405.5" stroke="#555" stroke-width="1"/>
<path d="M203 401.6v2M202.15 402.1l1.7 1M203.85 402.1l-1.7 1" stroke="#333" stroke-width="0.7"/>
<line x1="207.5" y1="375.5" x2="222.2" y2="375.5" stroke="#555" stroke-width="1"/>
<path d="M214.85 371.5v2M214 372l1.7 1M215.7 372l-1.7 1" stroke="#333" stroke-width="0.7"/>
<line x1="231.7" y1="372.5" x2="246" y2="372.5" stroke="#555" stroke-width="1"/>
<path d="M238.85 367.9v2M238 368.4l1.7 1M239.7 368.4l-1.7 1" stroke="#333" stroke-width="0.7"/>
<line x1="262.6" y1="406.5" x2="277.5" y2="406.5" stroke="#555" stroke-width="1"/>
<path d="M270.05 402.1v2M269.2 402.6l1.7 1M270.9 402.6l-1.7 1" stroke="#333" stroke-width="0.7"/>
<line x1="275.2" y1="375.5" x2="289.9" y2="375.5" stroke="#555" stroke-width="1"/>
<path d="M282.55 371.2v2M281.7 371.7l1.7 1M283.4 371.7l-1.7 1" stroke="#333" stroke-width="0.7"/>
<line x1="298.9" y1="373.5" x2="313.6" y2="373.5" stroke="#555" stroke-width="1"/>
<path d="M306.25 369.6v2M305.4 370.1l1.7 1M307.1 370.1l-1.7 1" stroke="#333" stroke-width="0.7"/>
<text x="328.2" y="314.6" font-size="16.5" font-weight="bold" fill="#000">H</text>
<circle cx="366.7" cy="310.3" r="1.65" fill="#1f1c5c"/>
<text x="376.6" y="312.45" font-size="7" fill="#222" stroke="#222" stroke-width="0.12">Saline</text>
<rect x="365.15" y="318.45" width="3.1" height="3.1" fill="#3b5cc6"/>
<text x="376.6" y="322.15" font-size="7" fill="#222" stroke="#222" stroke-width="0.12">Ang II</text>
<path d="M366.7 327.8L368.6 331.22L364.8 331.22Z" fill="#187a86"/>
<text x="376.6" y="331.85" font-size="7" fill="#222" stroke="#222" stroke-width="0.12">EVs + Ang II</text>
<path d="M366.7 341.3L368.6 337.88L364.8 337.88Z" fill="#f2622a"/>
<text x="376.6" y="341.55" font-size="7" fill="#222" stroke="#222" stroke-width="0.12">pGMLV-Vector + Ang II</text>
<path d="M366.7 347.15L368.65 349.1L366.7 351.05L364.75 349.1Z" fill="#ec1b2b"/>
<text x="376.6" y="351.25" font-size="7" fill="#222" stroke="#222" stroke-width="0.12">pGMLV-MIAT + Ang II</text>
<line x1="348.5" y1="360.22" x2="348.5" y2="447.3" stroke="#2a2a2a" stroke-width="1.2"/>
<line x1="347.9" y1="446.5" x2="477.9" y2="446.5" stroke="#2a2a2a" stroke-width="1.2"/>
<line x1="345.5" y1="446.5" x2="348.5" y2="446.5" stroke="#2a2a2a" stroke-width="1"/>
<text x="344.5" y="449" font-size="6.6" text-anchor="end" fill="#222" stroke="#222" stroke-width="0.12">0</text>
<line x1="345.5" y1="418.5" x2="348.5" y2="418.5" stroke="#2a2a2a" stroke-width="1"/>
<text x="344.5" y="420.34" font-size="6.6" text-anchor="end" fill="#222" stroke="#222" stroke-width="0.12">2</text>
<line x1="345.5" y1="389.5" x2="348.5" y2="389.5" stroke="#2a2a2a" stroke-width="1"/>
<text x="344.5" y="391.68" font-size="6.6" text-anchor="end" fill="#222" stroke="#222" stroke-width="0.12">4</text>
<line x1="345.5" y1="360.5" x2="348.5" y2="360.5" stroke="#2a2a2a" stroke-width="1"/>
<text x="344.5" y="363.02" font-size="6.6" text-anchor="end" fill="#222" stroke="#222" stroke-width="0.12">6</text>
<text transform="translate(334.1 403.5) rotate(-90)" font-size="7" text-anchor="middle" fill="#222" stroke="#222" stroke-width="0.12">Relative expression</text>
<line x1="379.5" y1="446.7" x2="379.5" y2="449.7" stroke="#2a2a2a" stroke-width="1"/>
<text x="379.9" y="456.7" font-size="6.6" text-anchor="middle" fill="#222" stroke="#222" stroke-width="0.12">NOX2</text>
<line x1="445.5" y1="446.7" x2="445.5" y2="449.7" stroke="#2a2a2a" stroke-width="1"/>
<text x="445.8" y="456.7" font-size="6.6" text-anchor="middle" fill="#222" stroke="#222" stroke-width="0.12">NOX4</text>
<circle cx="356.1" cy="433.43" r="1.65" fill="#1f1c5c"/>
<circle cx="358.2" cy="434.52" r="1.65" fill="#1f1c5c"/>
<circle cx="358.2" cy="432.02" r="1.65" fill="#1f1c5c"/>
<circle cx="351.89" cy="434.06" r="1.65" fill="#1f1c5c"/>
<circle cx="353.89" cy="434.42" r="1.65" fill="#1f1c5c"/>
<circle cx="356.1" cy="430.94" r="1.65" fill="#1f1c5c"/>
<circle cx="360.31" cy="433.19" r="1.65" fill="#1f1c5c"/>
<circle cx="352.83" cy="432.11" r="1.65" fill="#1f1c5c"/>
<circle cx="356.15" cy="433.08" r="1.65" fill="#1f1c5c"/>
<line x1="352.1" y1="433.5" x2="360.1" y2="433.5" stroke="#6a6aa8" stroke-width="0.9"/>
<line x1="356.5" y1="431.88" x2="356.5" y2="434.29" stroke="#6a6aa8" stroke-width="0.9"/>
<line x1="354.3" y1="431.5" x2="357.9" y2="431.5" stroke="#6a6aa8" stroke-width="0.9"/>
<line x1="354.3" y1="434.5" x2="357.9" y2="434.5" stroke="#6a6aa8" stroke-width="0.9"/>
<rect x="366.45" y="418.44" width="3.1" height="3.1" fill="#3b5cc6"/>
<rect x="368.55" y="420.37" width="3.1" height="3.1" fill="#3b5cc6"/>
<rect x="364.35" y="419.77" width="3.1" height="3.1" fill="#3b5cc6"/>
<rect x="368.55" y="417.25" width="3.1" height="3.1" fill="#3b5cc6"/>
<rect x="362.24" y="417.43" width="3.1" height="3.1" fill="#3b5cc6"/>
<rect x="364.35" y="416.29" width="3.1" height="3.1" fill="#3b5cc6"/>
<rect x="366.45" y="422.6" width="3.1" height="3.1" fill="#3b5cc6"/>
<rect x="366.45" y="414.01" width="3.1" height="3.1" fill="#3b5cc6"/>
<rect x="370.66" y="421.59" width="3.1" height="3.1" fill="#3b5cc6"/>
<line x1="364" y1="420.5" x2="372" y2="420.5" stroke="#86d4f5" stroke-width="0.9"/>
<line x1="368.5" y1="417.47" x2="368.5" y2="422.91" stroke="#86d4f5" stroke-width="0.9"/>
<line x1="366.2" y1="417.5" x2="369.8" y2="417.5" stroke="#86d4f5" stroke-width="0.9"/>
<line x1="366.2" y1="422.5" x2="369.8" y2="422.5" stroke="#86d4f5" stroke-width="0.9"/>
<path d="M379.9 391.85L381.8 395.27L378 395.27Z" fill="#187a86"/>
<path d="M379.9 387.54L381.8 390.96L378 390.96Z" fill="#187a86"/>
<path d="M379.9 381L381.8 384.42L378 384.42Z" fill="#187a86"/>
<path d="M382 382.65L383.9 386.07L380.1 386.07Z" fill="#187a86"/>
<path d="M384.11 386.82L386.01 390.24L382.21 390.24Z" fill="#187a86"/>
<path d="M384.11 391.52L386.01 394.94L382.21 394.94Z" fill="#187a86"/>
<path d="M377.8 382.58L379.7 386L375.9 386Z" fill="#187a86"/>
<path d="M375.69 388.03L377.59 391.45L373.79 391.45Z" fill="#187a86"/>
<path d="M379.9 395.33L381.8 398.75L378 398.75Z" fill="#187a86"/>
<line x1="375.9" y1="389.5" x2="383.9" y2="389.5" stroke="#72c6d0" stroke-width="0.9"/>
<line x1="379.5" y1="384.54" x2="379.5" y2="394.22" stroke="#72c6d0" stroke-width="0.9"/>
<line x1="378.1" y1="384.5" x2="381.7" y2="384.5" stroke="#72c6d0" stroke-width="0.9"/>
<line x1="378.1" y1="394.5" x2="381.7" y2="394.5" stroke="#72c6d0" stroke-width="0.9"/>
<path d="M391.3 419.14L393.2 415.72L389.4 415.72Z" fill="#f2622a"/>
<path d="M395.51 419.25L397.41 415.83L393.61 415.83Z" fill="#f2622a"/>
<path d="M391.3 423.99L393.2 420.57L389.4 420.57Z" fill="#f2622a"/>
<path d="M393.4 421.83L395.3 418.41L391.5 418.41Z" fill="#f2622a"/>
<path d="M389.2 421.19L391.1 417.77L387.3 417.77Z" fill="#f2622a"/>
<path d="M388.35 421.95L390.25 418.53L386.45 418.53Z" fill="#f2622a"/>
<path d="M395.51 423.63L397.41 420.21L393.61 420.21Z" fill="#f2622a"/>
<path d="M391.3 426.42L393.2 423L389.4 423Z" fill="#f2622a"/>
<path d="M389.35 421.42L391.25 418L387.45 418Z" fill="#f2622a"/>
<line x1="387.3" y1="420.5" x2="395.3" y2="420.5" stroke="#f8ab84" stroke-width="0.9"/>
<line x1="391.5" y1="417.88" x2="391.5" y2="422.5" stroke="#f8ab84" stroke-width="0.9"/>
<line x1="389.5" y1="417.5" x2="393.1" y2="417.5" stroke="#f8ab84" stroke-width="0.9"/>
<line x1="389.5" y1="422.5" x2="393.1" y2="422.5" stroke="#f8ab84" stroke-width="0.9"/>
<path d="M403.1 391.92L405.05 393.87L403.1 395.82L401.15 393.87Z" fill="#ec1b2b"/>
<path d="M403.1 382.33L405.05 384.28L403.1 386.23L401.15 384.28Z" fill="#ec1b2b"/>
<path d="M403.1 379.43L405.05 381.38L403.1 383.33L401.15 381.38Z" fill="#ec1b2b"/>
<path d="M403.1 376.16L405.05 378.11L403.1 380.06L401.15 378.11Z" fill="#ec1b2b"/>
<path d="M405.2 383.45L407.15 385.4L405.2 387.35L403.25 385.4Z" fill="#ec1b2b"/>
<path d="M407.31 378.87L409.26 380.82L407.31 382.77L405.36 380.82Z" fill="#ec1b2b"/>
<path d="M398.89 378.91L400.84 380.86L398.89 382.81L396.94 380.86Z" fill="#ec1b2b"/>
<path d="M403.1 389.24L405.05 391.19L403.1 393.14L401.15 391.19Z" fill="#ec1b2b"/>
<path d="M405.2 387.87L407.15 389.82L405.2 391.77L403.25 389.82Z" fill="#ec1b2b"/>
<line x1="399.1" y1="385.5" x2="407.1" y2="385.5" stroke="#f7909a" stroke-width="0.9"/>
<line x1="403.5" y1="379.65" x2="403.5" y2="390.51" stroke="#f7909a" stroke-width="0.9"/>
<line x1="401.3" y1="379.5" x2="404.9" y2="379.5" stroke="#f7909a" stroke-width="0.9"/>
<line x1="401.3" y1="390.5" x2="404.9" y2="390.5" stroke="#f7909a" stroke-width="0.9"/>
<circle cx="423" cy="433.64" r="1.65" fill="#1f1c5c"/>
<circle cx="425.1" cy="431.88" r="1.65" fill="#1f1c5c"/>
<circle cx="427.21" cy="434.48" r="1.65" fill="#1f1c5c"/>
<circle cx="420.9" cy="431.03" r="1.65" fill="#1f1c5c"/>
<circle cx="418.79" cy="433.45" r="1.65" fill="#1f1c5c"/>
<circle cx="425.36" cy="434.62" r="1.65" fill="#1f1c5c"/>
<circle cx="425.59" cy="433.32" r="1.65" fill="#1f1c5c"/>
<circle cx="422.98" cy="432.98" r="1.65" fill="#1f1c5c"/>
<circle cx="424.76" cy="432.38" r="1.65" fill="#1f1c5c"/>
<line x1="419" y1="433.5" x2="427" y2="433.5" stroke="#6a6aa8" stroke-width="0.9"/>
<line x1="423.5" y1="431.92" x2="423.5" y2="434.26" stroke="#6a6aa8" stroke-width="0.9"/>
<line x1="421.2" y1="431.5" x2="424.8" y2="431.5" stroke="#6a6aa8" stroke-width="0.9"/>
<line x1="421.2" y1="434.5" x2="424.8" y2="434.5" stroke="#6a6aa8" stroke-width="0.9"/>
<rect x="432.85" y="415.16" width="3.1" height="3.1" fill="#3b5cc6"/>
<rect x="434.95" y="416.62" width="3.1" height="3.1" fill="#3b5cc6"/>
<rect x="432.85" y="418.97" width="3.1" height="3.1" fill="#3b5cc6"/>
<rect x="437.06" y="419.89" width="3.1" height="3.1" fill="#3b5cc6"/>
<rect x="432.85" y="412.42" width="3.1" height="3.1" fill="#3b5cc6"/>
<rect x="428.64" y="419.78" width="3.1" height="3.1" fill="#3b5cc6"/>
<rect x="436.61" y="418.64" width="3.1" height="3.1" fill="#3b5cc6"/>
<rect x="434.95" y="421.02" width="3.1" height="3.1" fill="#3b5cc6"/>
<rect x="436.94" y="418.79" width="3.1" height="3.1" fill="#3b5cc6"/>
<line x1="430.4" y1="419.5" x2="438.4" y2="419.5" stroke="#86d4f5" stroke-width="0.9"/>
<line x1="434.5" y1="416.76" x2="434.5" y2="422.19" stroke="#86d4f5" stroke-width="0.9"/>
<line x1="432.6" y1="416.5" x2="436.2" y2="416.5" stroke="#86d4f5" stroke-width="0.9"/>
<line x1="432.6" y1="422.5" x2="436.2" y2="422.5" stroke="#86d4f5" stroke-width="0.9"/>
<path d="M445.8 387.34L447.7 390.76L443.9 390.76Z" fill="#187a86"/>
<path d="M445.8 392.07L447.7 395.49L443.9 395.49Z" fill="#187a86"/>
<path d="M450.01 392.49L451.91 395.91L448.11 395.91Z" fill="#187a86"/>
<path d="M445.8 382.56L447.7 385.98L443.9 385.98Z" fill="#187a86"/>
<path d="M447.9 394.03L449.8 397.45L446 397.45Z" fill="#187a86"/>
<path d="M447.9 384.29L449.8 387.71L446 387.71Z" fill="#187a86"/>
<path d="M447.9 390.8L449.8 394.22L446 394.22Z" fill="#187a86"/>
<path d="M450.01 387.38L451.91 390.8L448.11 390.8Z" fill="#187a86"/>
<path d="M443.7 389.25L445.6 392.67L441.8 392.67Z" fill="#187a86"/>
<line x1="441.8" y1="390.5" x2="449.8" y2="390.5" stroke="#72c6d0" stroke-width="0.9"/>
<line x1="445.5" y1="386.95" x2="445.5" y2="394.67" stroke="#72c6d0" stroke-width="0.9"/>
<line x1="444" y1="386.5" x2="447.6" y2="386.5" stroke="#72c6d0" stroke-width="0.9"/>
<line x1="444" y1="394.5" x2="447.6" y2="394.5" stroke="#72c6d0" stroke-width="0.9"/>
<path d="M457.7 420.33L459.6 416.91L455.8 416.91Z" fill="#f2622a"/>
<path d="M461.91 420.59L463.81 417.17L460.01 417.17Z" fill="#f2622a"/>
<path d="M453.49 420.65L455.39 417.23L451.59 417.23Z" fill="#f2622a"/>
<path d="M455.36 419.67L457.26 416.25L453.46 416.25Z" fill="#f2622a"/>
<path d="M459.8 418.88L461.7 415.46L457.9 415.46Z" fill="#f2622a"/>
<path d="M459.8 422.38L461.7 418.96L457.9 418.96Z" fill="#f2622a"/>
<path d="M457.7 423.53L459.6 420.11L455.8 420.11Z" fill="#f2622a"/>
<path d="M453.6 420.29L455.5 416.87L451.7 416.87Z" fill="#f2622a"/>
<path d="M457.7 426.05L459.6 422.63L455.8 422.63Z" fill="#f2622a"/>
<line x1="453.7" y1="419.5" x2="461.7" y2="419.5" stroke="#f8ab84" stroke-width="0.9"/>
<line x1="457.5" y1="417.24" x2="457.5" y2="421.71" stroke="#f8ab84" stroke-width="0.9"/>
<line x1="455.9" y1="417.5" x2="459.5" y2="417.5" stroke="#f8ab84" stroke-width="0.9"/>
<line x1="455.9" y1="421.5" x2="459.5" y2="421.5" stroke="#f8ab84" stroke-width="0.9"/>
<path d="M469.4 388.31L471.35 390.26L469.4 392.21L467.45 390.26Z" fill="#ec1b2b"/>
<path d="M473.61 388.34L475.56 390.29L473.61 392.24L471.66 390.29Z" fill="#ec1b2b"/>
<path d="M469.4 393.78L471.35 395.73L469.4 397.68L467.45 395.73Z" fill="#ec1b2b"/>
<path d="M469.4 385.35L471.35 387.3L469.4 389.25L467.45 387.3Z" fill="#ec1b2b"/>
<path d="M465.19 386.26L467.14 388.21L465.19 390.16L463.24 388.21Z" fill="#ec1b2b"/>
<path d="M473.61 384.6L475.56 386.55L473.61 388.5L471.66 386.55Z" fill="#ec1b2b"/>
<path d="M469.4 380.86L471.35 382.81L469.4 384.76L467.45 382.81Z" fill="#ec1b2b"/>
<path d="M473.61 380.88L475.56 382.83L473.61 384.78L471.66 382.83Z" fill="#ec1b2b"/>
<path d="M465.74 385.6L467.69 387.55L465.74 389.5L463.79 387.55Z" fill="#ec1b2b"/>
<line x1="465.4" y1="387.5" x2="473.4" y2="387.5" stroke="#f7909a" stroke-width="0.9"/>
<line x1="469.5" y1="383.97" x2="469.5" y2="391.92" stroke="#f7909a" stroke-width="0.9"/>
<line x1="467.6" y1="383.5" x2="471.2" y2="383.5" stroke="#f7909a" stroke-width="0.9"/>
<line x1="467.6" y1="391.5" x2="471.2" y2="391.5" stroke="#f7909a" stroke-width="0.9"/>
<line x1="354.4" y1="410.5" x2="369.2" y2="410.5" stroke="#555" stroke-width="1"/>
<path d="M361.8 405.9v2M360.95 406.4l1.7 1M362.65 406.4l-1.7 1" stroke="#333" stroke-width="0.7"/>
<line x1="365.8" y1="368.5" x2="381" y2="368.5" stroke="#555" stroke-width="1"/>
<path d="M373.4 364.3v2M372.55 364.8l1.7 1M374.25 364.8l-1.7 1" stroke="#333" stroke-width="0.7"/>
<line x1="389.6" y1="363.5" x2="404.8" y2="363.5" stroke="#555" stroke-width="1"/>
<path d="M397.2 359.6v2M396.35 360.1l1.7 1M398.05 360.1l-1.7 1" stroke="#333" stroke-width="0.7"/>
<line x1="420.7" y1="407.5" x2="435.6" y2="407.5" stroke="#555" stroke-width="1"/>
<path d="M428.15 403.5v2M427.3 404l1.7 1M429 404l-1.7 1" stroke="#333" stroke-width="0.7"/>
<line x1="432.5" y1="368.5" x2="447" y2="368.5" stroke="#555" stroke-width="1"/>
<path d="M439.75 364.3v2M438.9 364.8l1.7 1M440.6 364.8l-1.7 1" stroke="#333" stroke-width="0.7"/>
<line x1="455.8" y1="367.5" x2="470.5" y2="367.5" stroke="#555" stroke-width="1"/>
<path d="M463.15 362.9v2M462.3 363.4l1.7 1M464 363.4l-1.7 1" stroke="#333" stroke-width="0.7"/>
<circle cx="521.8" cy="308" r="1.65" fill="#1f1c5c"/>
<text x="531.8" y="310.15" font-size="7" fill="#222" stroke="#222" stroke-width="0.12">Saline</text>
<rect x="520.25" y="316.15" width="3.1" height="3.1" fill="#3b5cc6"/>
<text x="531.8" y="319.85" font-size="7" fill="#222" stroke="#222" stroke-width="0.12">Ang II</text>
<path d="M521.8 325.5L523.7 328.92L519.9 328.92Z" fill="#187a86"/>
<text x="531.8" y="329.55" font-size="7" fill="#222" stroke="#222" stroke-width="0.12">EVs + Ang II</text>
<path d="M521.8 339L523.7 335.58L519.9 335.58Z" fill="#f2622a"/>
<text x="531.8" y="339.25" font-size="7" fill="#222" stroke="#222" stroke-width="0.12">pGMLV-Vector + Ang II</text>
<path d="M521.8 344.85L523.75 346.8L521.8 348.75L519.85 346.8Z" fill="#ec1b2b"/>
<text x="531.8" y="348.95" font-size="7" fill="#222" stroke="#222" stroke-width="0.12">pGMLV-MIAT + Ang II</text>
<line x1="507.5" y1="358.49" x2="507.5" y2="446.8" stroke="#2a2a2a" stroke-width="1.2"/>
<line x1="507.2" y1="446.5" x2="637.9" y2="446.5" stroke="#2a2a2a" stroke-width="1.2"/>
<line x1="504.8" y1="446.5" x2="507.8" y2="446.5" stroke="#2a2a2a" stroke-width="1"/>
<text x="503.8" y="448.5" font-size="6.6" text-anchor="end" fill="#222" stroke="#222" stroke-width="0.12">0</text>
<line x1="504.8" y1="417.5" x2="507.8" y2="417.5" stroke="#2a2a2a" stroke-width="1"/>
<text x="503.8" y="419.43" font-size="6.6" text-anchor="end" fill="#222" stroke="#222" stroke-width="0.12">1</text>
<line x1="504.8" y1="388.5" x2="507.8" y2="388.5" stroke="#2a2a2a" stroke-width="1"/>
<text x="503.8" y="390.36" font-size="6.6" text-anchor="end" fill="#222" stroke="#222" stroke-width="0.12">2</text>
<line x1="504.8" y1="358.5" x2="507.8" y2="358.5" stroke="#2a2a2a" stroke-width="1"/>
<text x="503.8" y="361.29" font-size="6.6" text-anchor="end" fill="#222" stroke="#222" stroke-width="0.12">3</text>
<text transform="translate(493.6 401) rotate(-90)" font-size="7" text-anchor="middle" fill="#222" stroke="#222" stroke-width="0.12">Relative protein expression</text>
<line x1="538.5" y1="446.2" x2="538.5" y2="449.2" stroke="#2a2a2a" stroke-width="1"/>
<text x="538.7" y="456.2" font-size="6.6" text-anchor="middle" fill="#222" stroke="#222" stroke-width="0.12">NOX2</text>
<line x1="605.5" y1="446.2" x2="605.5" y2="449.2" stroke="#2a2a2a" stroke-width="1"/>
<text x="605.6" y="456.2" font-size="6.6" text-anchor="middle" fill="#222" stroke="#222" stroke-width="0.12">NOX4</text>
<circle cx="515" cy="430.34" r="1.65" fill="#1f1c5c"/>
<circle cx="515" cy="433.27" r="1.65" fill="#1f1c5c"/>
<circle cx="517.1" cy="431.43" r="1.65" fill="#1f1c5c"/>
<circle cx="510.79" cy="431.03" r="1.65" fill="#1f1c5c"/>
<circle cx="519.21" cy="429.49" r="1.65" fill="#1f1c5c"/>
<circle cx="514" cy="430.8" r="1.65" fill="#1f1c5c"/>
<circle cx="513.18" cy="430.32" r="1.65" fill="#1f1c5c"/>
<circle cx="516.47" cy="431.01" r="1.65" fill="#1f1c5c"/>
<circle cx="514.64" cy="432.07" r="1.65" fill="#1f1c5c"/>
<line x1="511" y1="431.5" x2="519" y2="431.5" stroke="#6a6aa8" stroke-width="0.9"/>
<line x1="515.5" y1="429.99" x2="515.5" y2="432.18" stroke="#6a6aa8" stroke-width="0.9"/>
<line x1="513.2" y1="429.5" x2="516.8" y2="429.5" stroke="#6a6aa8" stroke-width="0.9"/>
<line x1="513.2" y1="432.5" x2="516.8" y2="432.5" stroke="#6a6aa8" stroke-width="0.9"/>
<rect x="525.25" y="405.1" width="3.1" height="3.1" fill="#3b5cc6"/>
<rect x="525.25" y="415.27" width="3.1" height="3.1" fill="#3b5cc6"/>
<rect x="525.25" y="408.91" width="3.1" height="3.1" fill="#3b5cc6"/>
<rect x="527.35" y="413.13" width="3.1" height="3.1" fill="#3b5cc6"/>
<rect x="527.35" y="406.75" width="3.1" height="3.1" fill="#3b5cc6"/>
<rect x="529.46" y="408.29" width="3.1" height="3.1" fill="#3b5cc6"/>
<rect x="521.04" y="409.47" width="3.1" height="3.1" fill="#3b5cc6"/>
<rect x="523.15" y="406.65" width="3.1" height="3.1" fill="#3b5cc6"/>
<rect x="524.71" y="409.1" width="3.1" height="3.1" fill="#3b5cc6"/>
<line x1="522.8" y1="410.5" x2="530.8" y2="410.5" stroke="#86d4f5" stroke-width="0.9"/>
<line x1="526.5" y1="407.52" x2="526.5" y2="413.95" stroke="#86d4f5" stroke-width="0.9"/>
<line x1="525" y1="407.5" x2="528.6" y2="407.5" stroke="#86d4f5" stroke-width="0.9"/>
<line x1="525" y1="413.5" x2="528.6" y2="413.5" stroke="#86d4f5" stroke-width="0.9"/>
<path d="M538.7 388.03L540.6 391.45L536.8 391.45Z" fill="#187a86"/>
<path d="M538.7 383.83L540.6 387.25L536.8 387.25Z" fill="#187a86"/>
<path d="M538.7 394.04L540.6 397.46L536.8 397.46Z" fill="#187a86"/>
<path d="M538.7 381.03L540.6 384.45L536.8 384.45Z" fill="#187a86"/>
<path d="M540.8 386.92L542.7 390.34L538.9 390.34Z" fill="#187a86"/>
<path d="M540.8 389.98L542.7 393.4L538.9 393.4Z" fill="#187a86"/>
<path d="M536.6 389.52L538.5 392.94L534.7 392.94Z" fill="#187a86"/>
<path d="M538.7 372.23L540.6 375.65L536.8 375.65Z" fill="#187a86"/>
<path d="M538.7 376.78L540.6 380.2L536.8 380.2Z" fill="#187a86"/>
<line x1="534.7" y1="386.5" x2="542.7" y2="386.5" stroke="#72c6d0" stroke-width="0.9"/>
<line x1="538.5" y1="379.65" x2="538.5" y2="393.56" stroke="#72c6d0" stroke-width="0.9"/>
<line x1="536.9" y1="379.5" x2="540.5" y2="379.5" stroke="#72c6d0" stroke-width="0.9"/>
<line x1="536.9" y1="393.5" x2="540.5" y2="393.5" stroke="#72c6d0" stroke-width="0.9"/>
<path d="M550.1 415.97L552 412.55L548.2 412.55Z" fill="#f2622a"/>
<path d="M550.1 409.16L552 405.74L548.2 405.74Z" fill="#f2622a"/>
<path d="M554.31 416.58L556.21 413.16L552.41 413.16Z" fill="#f2622a"/>
<path d="M552.2 407.25L554.1 403.83L550.3 403.83Z" fill="#f2622a"/>
<path d="M545.89 416.44L547.79 413.02L543.99 413.02Z" fill="#f2622a"/>
<path d="M550.1 418.87L552 415.45L548.2 415.45Z" fill="#f2622a"/>
<path d="M552.2 410.38L554.1 406.96L550.3 406.96Z" fill="#f2622a"/>
<path d="M548 410.66L549.9 407.24L546.1 407.24Z" fill="#f2622a"/>
<path d="M552.2 413.64L554.1 410.22L550.3 410.22Z" fill="#f2622a"/>
<line x1="546.1" y1="411.5" x2="554.1" y2="411.5" stroke="#f8ab84" stroke-width="0.9"/>
<line x1="550.5" y1="407.31" x2="550.5" y2="415.32" stroke="#f8ab84" stroke-width="0.9"/>
<line x1="548.3" y1="407.5" x2="551.9" y2="407.5" stroke="#f8ab84" stroke-width="0.9"/>
<line x1="548.3" y1="415.5" x2="551.9" y2="415.5" stroke="#f8ab84" stroke-width="0.9"/>
<path d="M561.7 376.5L563.65 378.45L561.7 380.4L559.75 378.45Z" fill="#ec1b2b"/>
<path d="M563.8 378.15L565.75 380.1L563.8 382.05L561.85 380.1Z" fill="#ec1b2b"/>
<path d="M561.7 366.86L563.65 368.81L561.7 370.76L559.75 368.81Z" fill="#ec1b2b"/>
<path d="M561.7 387.21L563.65 389.16L561.7 391.11L559.75 389.16Z" fill="#ec1b2b"/>
<path d="M561.7 383.72L563.65 385.67L561.7 387.62L559.75 385.67Z" fill="#ec1b2b"/>
<path d="M557.49 377.16L559.44 379.11L557.49 381.06L555.54 379.11Z" fill="#ec1b2b"/>
<path d="M563.8 381.7L565.75 383.65L563.8 385.6L561.85 383.65Z" fill="#ec1b2b"/>
<path d="M563.8 388.95L565.75 390.9L563.8 392.85L561.85 390.9Z" fill="#ec1b2b"/>
<path d="M559.6 382.39L561.55 384.34L559.6 386.29L557.65 384.34Z" fill="#ec1b2b"/>
<line x1="557.7" y1="382.5" x2="565.7" y2="382.5" stroke="#f7909a" stroke-width="0.9"/>
<line x1="561.5" y1="375.63" x2="561.5" y2="388.86" stroke="#f7909a" stroke-width="0.9"/>
<line x1="559.9" y1="375.5" x2="563.5" y2="375.5" stroke="#f7909a" stroke-width="0.9"/>
<line x1="559.9" y1="388.5" x2="563.5" y2="388.5" stroke="#f7909a" stroke-width="0.9"/>
<circle cx="581.9" cy="439.66" r="1.65" fill="#1f1c5c"/>
<circle cx="584" cy="441.05" r="1.65" fill="#1f1c5c"/>
<circle cx="586.11" cy="439.97" r="1.65" fill="#1f1c5c"/>
<circle cx="584" cy="438.14" r="1.65" fill="#1f1c5c"/>
<circle cx="579.8" cy="440.84" r="1.65" fill="#1f1c5c"/>
<circle cx="577.99" cy="439.84" r="1.65" fill="#1f1c5c"/>
<circle cx="577.72" cy="438.99" r="1.65" fill="#1f1c5c"/>
<circle cx="582.2" cy="439.83" r="1.65" fill="#1f1c5c"/>
<circle cx="578.12" cy="439.91" r="1.65" fill="#1f1c5c"/>
<line x1="577.9" y1="439.5" x2="585.9" y2="439.5" stroke="#6a6aa8" stroke-width="0.9"/>
<line x1="581.5" y1="438.93" x2="581.5" y2="440.68" stroke="#6a6aa8" stroke-width="0.9"/>
<line x1="580.1" y1="438.5" x2="583.7" y2="438.5" stroke="#6a6aa8" stroke-width="0.9"/>
<line x1="580.1" y1="440.5" x2="583.7" y2="440.5" stroke="#6a6aa8" stroke-width="0.9"/>
<rect x="592.15" y="427.33" width="3.1" height="3.1" fill="#3b5cc6"/>
<rect x="592.15" y="424.66" width="3.1" height="3.1" fill="#3b5cc6"/>
<rect x="594.25" y="423.53" width="3.1" height="3.1" fill="#3b5cc6"/>
<rect x="592.15" y="429.93" width="3.1" height="3.1" fill="#3b5cc6"/>
<rect x="596.36" y="427.09" width="3.1" height="3.1" fill="#3b5cc6"/>
<rect x="587.94" y="427.24" width="3.1" height="3.1" fill="#3b5cc6"/>
<rect x="589.94" y="428.97" width="3.1" height="3.1" fill="#3b5cc6"/>
<rect x="594.25" y="428.9" width="3.1" height="3.1" fill="#3b5cc6"/>
<rect x="593.15" y="427.22" width="3.1" height="3.1" fill="#3b5cc6"/>
<line x1="589.7" y1="428.5" x2="597.7" y2="428.5" stroke="#86d4f5" stroke-width="0.9"/>
<line x1="593.5" y1="426.71" x2="593.5" y2="430.8" stroke="#86d4f5" stroke-width="0.9"/>
<line x1="591.9" y1="426.5" x2="595.5" y2="426.5" stroke="#86d4f5" stroke-width="0.9"/>
<line x1="591.9" y1="430.5" x2="595.5" y2="430.5" stroke="#86d4f5" stroke-width="0.9"/>
<path d="M605.6 409.54L607.5 412.96L603.7 412.96Z" fill="#187a86"/>
<path d="M605.6 413.6L607.5 417.02L603.7 417.02Z" fill="#187a86"/>
<path d="M609.81 408.89L611.71 412.31L607.91 412.31Z" fill="#187a86"/>
<path d="M601.39 410.25L603.29 413.67L599.49 413.67Z" fill="#187a86"/>
<path d="M605.6 404.88L607.5 408.3L603.7 408.3Z" fill="#187a86"/>
<path d="M603.79 409.18L605.69 412.6L601.89 412.6Z" fill="#187a86"/>
<path d="M607.03 407.96L608.93 411.38L605.13 411.38Z" fill="#187a86"/>
<path d="M602.58 408.1L604.48 411.52L600.68 411.52Z" fill="#187a86"/>
<path d="M606.4 407.09L608.3 410.51L604.5 410.51Z" fill="#187a86"/>
<line x1="601.6" y1="410.5" x2="609.6" y2="410.5" stroke="#72c6d0" stroke-width="0.9"/>
<line x1="605.5" y1="408.35" x2="605.5" y2="413.11" stroke="#72c6d0" stroke-width="0.9"/>
<line x1="603.8" y1="408.5" x2="607.4" y2="408.5" stroke="#72c6d0" stroke-width="0.9"/>
<line x1="603.8" y1="413.5" x2="607.4" y2="413.5" stroke="#72c6d0" stroke-width="0.9"/>
<path d="M617.7 429.52L619.6 426.1L615.8 426.1Z" fill="#f2622a"/>
<path d="M619.8 427.94L621.7 424.52L617.9 424.52Z" fill="#f2622a"/>
<path d="M621.91 429.77L623.81 426.35L620.01 426.35Z" fill="#f2622a"/>
<path d="M613.49 429.73L615.39 426.31L611.59 426.31Z" fill="#f2622a"/>
<path d="M615.73 429.49L617.63 426.07L613.83 426.07Z" fill="#f2622a"/>
<path d="M616.56 429.18L618.46 425.76L614.66 425.76Z" fill="#f2622a"/>
<path d="M618.77 429.52L620.67 426.1L616.87 426.1Z" fill="#f2622a"/>
<path d="M618.77 427.4L620.67 423.98L616.87 423.98Z" fill="#f2622a"/>
<path d="M615.26 430.3L617.16 426.88L613.36 426.88Z" fill="#f2622a"/>
<line x1="613.7" y1="427.5" x2="621.7" y2="427.5" stroke="#f8ab84" stroke-width="0.9"/>
<line x1="617.5" y1="426.37" x2="617.5" y2="428.24" stroke="#f8ab84" stroke-width="0.9"/>
<line x1="615.9" y1="426.5" x2="619.5" y2="426.5" stroke="#f8ab84" stroke-width="0.9"/>
<line x1="615.9" y1="428.5" x2="619.5" y2="428.5" stroke="#f8ab84" stroke-width="0.9"/>
<path d="M629.4 409.58L631.35 411.53L629.4 413.48L627.45 411.53Z" fill="#ec1b2b"/>
<path d="M629.4 402.32L631.35 404.27L629.4 406.22L627.45 404.27Z" fill="#ec1b2b"/>
<path d="M629.4 405.85L631.35 407.8L629.4 409.75L627.45 407.8Z" fill="#ec1b2b"/>
<path d="M633.61 406.08L635.56 408.03L633.61 409.98L631.66 408.03Z" fill="#ec1b2b"/>
<path d="M627.3 407.09L629.25 409.04L627.3 410.99L625.35 409.04Z" fill="#ec1b2b"/>
<path d="M633.61 408.92L635.56 410.87L633.61 412.82L631.66 410.87Z" fill="#ec1b2b"/>
<path d="M631.5 404.65L633.45 406.6L631.5 408.55L629.55 406.6Z" fill="#ec1b2b"/>
<path d="M625.19 409.02L627.14 410.97L625.19 412.92L623.24 410.97Z" fill="#ec1b2b"/>
<path d="M627.3 404.63L629.25 406.58L627.3 408.53L625.35 406.58Z" fill="#ec1b2b"/>
<line x1="625.4" y1="408.5" x2="633.4" y2="408.5" stroke="#f7909a" stroke-width="0.9"/>
<line x1="629.5" y1="405.98" x2="629.5" y2="410.83" stroke="#f7909a" stroke-width="0.9"/>
<line x1="627.6" y1="405.5" x2="631.2" y2="405.5" stroke="#f7909a" stroke-width="0.9"/>
<line x1="627.6" y1="410.5" x2="631.2" y2="410.5" stroke="#f7909a" stroke-width="0.9"/>
<line x1="513.3" y1="395.5" x2="528" y2="395.5" stroke="#555" stroke-width="1"/>
<path d="M520.65 391.6v2M519.8 392.1l1.7 1M521.5 392.1l-1.7 1" stroke="#333" stroke-width="0.7"/>
<line x1="525.2" y1="372.5" x2="540.4" y2="372.5" stroke="#555" stroke-width="1"/>
<path d="M532.8 368.4v2M531.95 368.9l1.7 1M533.65 368.9l-1.7 1" stroke="#333" stroke-width="0.7"/>
<line x1="548.9" y1="361.5" x2="564.1" y2="361.5" stroke="#555" stroke-width="1"/>
<path d="M556.5 357.7v2M555.65 358.2l1.7 1M557.35 358.2l-1.7 1" stroke="#333" stroke-width="0.7"/>
<line x1="580.2" y1="412.5" x2="595.2" y2="412.5" stroke="#555" stroke-width="1"/>
<path d="M587.7 408.3v2M586.85 408.8l1.7 1M588.55 408.8l-1.7 1" stroke="#333" stroke-width="0.7"/>
<line x1="592.5" y1="398.5" x2="607.5" y2="398.5" stroke="#555" stroke-width="1"/>
<path d="M600 394.5v2M599.15 395l1.7 1M600.85 395l-1.7 1" stroke="#333" stroke-width="0.7"/>
<line x1="616.3" y1="396.5" x2="631.3" y2="396.5" stroke="#555" stroke-width="1"/>
<path d="M623.8 392.6v2M622.95 393.1l1.7 1M624.65 393.1l-1.7 1" stroke="#333" stroke-width="0.7"/>
<text x="643.8" y="314.6" font-size="16.5" font-weight="bold" fill="#000">I</text>
<circle cx="677.5" cy="308" r="1.65" fill="#1f1c5c"/>
<text x="687.3" y="310.15" font-size="7" fill="#222" stroke="#222" stroke-width="0.12">Saline</text>
<rect x="675.95" y="316.15" width="3.1" height="3.1" fill="#3b5cc6"/>
<text x="687.3" y="319.85" font-size="7" fill="#222" stroke="#222" stroke-width="0.12">Ang II</text>
<path d="M677.5 325.5L679.4 328.92L675.6 328.92Z" fill="#187a86"/>
<text x="687.3" y="329.55" font-size="7" fill="#222" stroke="#222" stroke-width="0.12">EVs + Ang II</text>
<path d="M677.5 339L679.4 335.58L675.6 335.58Z" fill="#f2622a"/>
<text x="687.3" y="339.25" font-size="7" fill="#222" stroke="#222" stroke-width="0.12">pGMLV-Vector + Ang II</text>
<path d="M677.5 344.85L679.45 346.8L677.5 348.75L675.55 346.8Z" fill="#ec1b2b"/>
<text x="687.3" y="348.95" font-size="7" fill="#222" stroke="#222" stroke-width="0.12">pGMLV-MIAT + Ang II</text>
<line x1="669.5" y1="360.2" x2="669.5" y2="446.8" stroke="#2a2a2a" stroke-width="1.2"/>
<line x1="668.6" y1="446.5" x2="796.9" y2="446.5" stroke="#2a2a2a" stroke-width="1.2"/>
<line x1="666.2" y1="446.5" x2="669.2" y2="446.5" stroke="#2a2a2a" stroke-width="1"/>
<text x="665.2" y="448.5" font-size="6.6" text-anchor="end" fill="#222" stroke="#222" stroke-width="0.12">0</text>
<line x1="666.2" y1="424.5" x2="669.2" y2="424.5" stroke="#2a2a2a" stroke-width="1"/>
<text x="665.2" y="427.12" font-size="6.6" text-anchor="end" fill="#222" stroke="#222" stroke-width="0.12">50</text>
<line x1="666.2" y1="403.5" x2="669.2" y2="403.5" stroke="#2a2a2a" stroke-width="1"/>
<text x="665.2" y="405.75" font-size="6.6" text-anchor="end" fill="#222" stroke="#222" stroke-width="0.12">100</text>
<line x1="666.2" y1="382.5" x2="669.2" y2="382.5" stroke="#2a2a2a" stroke-width="1"/>
<text x="665.2" y="384.38" font-size="6.6" text-anchor="end" fill="#222" stroke="#222" stroke-width="0.12">150</text>
<line x1="666.2" y1="360.5" x2="669.2" y2="360.5" stroke="#2a2a2a" stroke-width="1"/>
<text x="665.2" y="363" font-size="6.6" text-anchor="end" fill="#222" stroke="#222" stroke-width="0.12">200</text>
<text transform="translate(649.3 403) rotate(-90)" font-size="7" text-anchor="middle" fill="#222" stroke="#222" stroke-width="0.12">Concentration (pg/mL)</text>
<line x1="700.5" y1="446.2" x2="700.5" y2="449.2" stroke="#2a2a2a" stroke-width="1"/>
<text x="700.1" y="456.2" font-size="6.6" text-anchor="middle" fill="#222" stroke="#222" stroke-width="0.12">IL-1</text>
<line x1="766.5" y1="446.2" x2="766.5" y2="449.2" stroke="#2a2a2a" stroke-width="1"/>
<text x="766" y="456.2" font-size="6.6" text-anchor="middle" fill="#222" stroke="#222" stroke-width="0.12">IL-6</text>
<circle cx="676.8" cy="428.35" r="1.65" fill="#1f1c5c"/>
<circle cx="678.9" cy="427.27" r="1.65" fill="#1f1c5c"/>
<circle cx="674.7" cy="426.91" r="1.65" fill="#1f1c5c"/>
<circle cx="676.8" cy="425.5" r="1.65" fill="#1f1c5c"/>
<circle cx="681.01" cy="429.27" r="1.65" fill="#1f1c5c"/>
<circle cx="678.9" cy="424.14" r="1.65" fill="#1f1c5c"/>
<circle cx="680.86" cy="426.8" r="1.65" fill="#1f1c5c"/>
<circle cx="680.71" cy="427.32" r="1.65" fill="#1f1c5c"/>
<circle cx="678.1" cy="427.11" r="1.65" fill="#1f1c5c"/>
<line x1="672.8" y1="426.5" x2="680.8" y2="426.5" stroke="#6a6aa8" stroke-width="0.9"/>
<line x1="676.5" y1="425.48" x2="676.5" y2="428.45" stroke="#6a6aa8" stroke-width="0.9"/>
<line x1="675" y1="425.5" x2="678.6" y2="425.5" stroke="#6a6aa8" stroke-width="0.9"/>
<line x1="675" y1="428.5" x2="678.6" y2="428.5" stroke="#6a6aa8" stroke-width="0.9"/>
<rect x="687.15" y="410.07" width="3.1" height="3.1" fill="#3b5cc6"/>
<rect x="687.15" y="404.98" width="3.1" height="3.1" fill="#3b5cc6"/>
<rect x="687.15" y="407.62" width="3.1" height="3.1" fill="#3b5cc6"/>
<rect x="687.15" y="400.67" width="3.1" height="3.1" fill="#3b5cc6"/>
<rect x="689.25" y="408.91" width="3.1" height="3.1" fill="#3b5cc6"/>
<rect x="682.94" y="409.22" width="3.1" height="3.1" fill="#3b5cc6"/>
<rect x="691.36" y="405.6" width="3.1" height="3.1" fill="#3b5cc6"/>
<rect x="685.28" y="407.98" width="3.1" height="3.1" fill="#3b5cc6"/>
<rect x="691.34" y="408.21" width="3.1" height="3.1" fill="#3b5cc6"/>
<line x1="684.7" y1="408.5" x2="692.7" y2="408.5" stroke="#86d4f5" stroke-width="0.9"/>
<line x1="688.5" y1="405.69" x2="688.5" y2="411.47" stroke="#86d4f5" stroke-width="0.9"/>
<line x1="686.9" y1="405.5" x2="690.5" y2="405.5" stroke="#86d4f5" stroke-width="0.9"/>
<line x1="686.9" y1="411.5" x2="690.5" y2="411.5" stroke="#86d4f5" stroke-width="0.9"/>
<path d="M700.1 391.85L702 395.27L698.2 395.27Z" fill="#187a86"/>
<path d="M704.31 391.13L706.21 394.55L702.41 394.55Z" fill="#187a86"/>
<path d="M700.1 384.41L702 387.83L698.2 387.83Z" fill="#187a86"/>
<path d="M700.1 380.86L702 384.28L698.2 384.28Z" fill="#187a86"/>
<path d="M700.1 397.11L702 400.53L698.2 400.53Z" fill="#187a86"/>
<path d="M702.2 382.52L704.1 385.94L700.3 385.94Z" fill="#187a86"/>
<path d="M698 390.81L699.9 394.23L696.1 394.23Z" fill="#187a86"/>
<path d="M702.2 393.8L704.1 397.22L700.3 397.22Z" fill="#187a86"/>
<path d="M702.2 386.03L704.1 389.45L700.3 389.45Z" fill="#187a86"/>
<line x1="696.1" y1="390.5" x2="704.1" y2="390.5" stroke="#72c6d0" stroke-width="0.9"/>
<line x1="700.5" y1="385.12" x2="700.5" y2="396.13" stroke="#72c6d0" stroke-width="0.9"/>
<line x1="698.3" y1="385.5" x2="701.9" y2="385.5" stroke="#72c6d0" stroke-width="0.9"/>
<line x1="698.3" y1="396.5" x2="701.9" y2="396.5" stroke="#72c6d0" stroke-width="0.9"/>
<path d="M711.3 406.15L713.2 402.73L709.4 402.73Z" fill="#f2622a"/>
<path d="M711.3 413.53L713.2 410.11L709.4 410.11Z" fill="#f2622a"/>
<path d="M713.4 407.58L715.3 404.16L711.5 404.16Z" fill="#f2622a"/>
<path d="M711.3 409.81L713.2 406.39L709.4 406.39Z" fill="#f2622a"/>
<path d="M715.51 412.93L717.41 409.51L713.61 409.51Z" fill="#f2622a"/>
<path d="M711.3 400.71L713.2 397.29L709.4 397.29Z" fill="#f2622a"/>
<path d="M713.4 404.21L715.3 400.79L711.5 400.79Z" fill="#f2622a"/>
<path d="M713.4 411.04L715.3 407.62L711.5 407.62Z" fill="#f2622a"/>
<path d="M715.51 409.12L717.41 405.7L713.61 405.7Z" fill="#f2622a"/>
<line x1="707.3" y1="406.5" x2="715.3" y2="406.5" stroke="#f8ab84" stroke-width="0.9"/>
<line x1="711.5" y1="402.28" x2="711.5" y2="410.61" stroke="#f8ab84" stroke-width="0.9"/>
<line x1="709.5" y1="402.5" x2="713.1" y2="402.5" stroke="#f8ab84" stroke-width="0.9"/>
<line x1="709.5" y1="410.5" x2="713.1" y2="410.5" stroke="#f8ab84" stroke-width="0.9"/>
<path d="M722.7 391.64L724.65 393.59L722.7 395.54L720.75 393.59Z" fill="#ec1b2b"/>
<path d="M722.7 379.02L724.65 380.97L722.7 382.92L720.75 380.97Z" fill="#ec1b2b"/>
<path d="M722.7 385.3L724.65 387.25L722.7 389.2L720.75 387.25Z" fill="#ec1b2b"/>
<path d="M724.8 380.16L726.75 382.11L724.8 384.06L722.85 382.11Z" fill="#ec1b2b"/>
<path d="M720.6 377.83L722.55 379.78L720.6 381.73L718.65 379.78Z" fill="#ec1b2b"/>
<path d="M722.7 373.69L724.65 375.64L722.7 377.59L720.75 375.64Z" fill="#ec1b2b"/>
<path d="M726.91 385.12L728.86 387.07L726.91 389.02L724.96 387.07Z" fill="#ec1b2b"/>
<path d="M718.49 385.93L720.44 387.88L718.49 389.83L716.54 387.88Z" fill="#ec1b2b"/>
<path d="M722.7 381.67L724.65 383.62L722.7 385.57L720.75 383.62Z" fill="#ec1b2b"/>
<line x1="718.7" y1="384.5" x2="726.7" y2="384.5" stroke="#f7909a" stroke-width="0.9"/>
<line x1="722.5" y1="378.88" x2="722.5" y2="389.54" stroke="#f7909a" stroke-width="0.9"/>
<line x1="720.9" y1="378.5" x2="724.5" y2="378.5" stroke="#f7909a" stroke-width="0.9"/>
<line x1="720.9" y1="389.5" x2="724.5" y2="389.5" stroke="#f7909a" stroke-width="0.9"/>
<circle cx="742.3" cy="430.41" r="1.65" fill="#1f1c5c"/>
<circle cx="746.51" cy="430.95" r="1.65" fill="#1f1c5c"/>
<circle cx="738.09" cy="430.06" r="1.65" fill="#1f1c5c"/>
<circle cx="740.2" cy="431.59" r="1.65" fill="#1f1c5c"/>
<circle cx="744.4" cy="429.18" r="1.65" fill="#1f1c5c"/>
<circle cx="741.91" cy="431.94" r="1.65" fill="#1f1c5c"/>
<circle cx="744.4" cy="432.34" r="1.65" fill="#1f1c5c"/>
<circle cx="746.16" cy="432.05" r="1.65" fill="#1f1c5c"/>
<circle cx="742.16" cy="432.6" r="1.65" fill="#1f1c5c"/>
<line x1="738.3" y1="431.5" x2="746.3" y2="431.5" stroke="#6a6aa8" stroke-width="0.9"/>
<line x1="742.5" y1="430.08" x2="742.5" y2="432.4" stroke="#6a6aa8" stroke-width="0.9"/>
<line x1="740.5" y1="430.5" x2="744.1" y2="430.5" stroke="#6a6aa8" stroke-width="0.9"/>
<line x1="740.5" y1="432.5" x2="744.1" y2="432.5" stroke="#6a6aa8" stroke-width="0.9"/>
<rect x="752.65" y="413.84" width="3.1" height="3.1" fill="#3b5cc6"/>
<rect x="754.75" y="415.71" width="3.1" height="3.1" fill="#3b5cc6"/>
<rect x="752.65" y="411.07" width="3.1" height="3.1" fill="#3b5cc6"/>
<rect x="756.86" y="411.29" width="3.1" height="3.1" fill="#3b5cc6"/>
<rect x="748.44" y="410.88" width="3.1" height="3.1" fill="#3b5cc6"/>
<rect x="754.75" y="409.72" width="3.1" height="3.1" fill="#3b5cc6"/>
<rect x="756.86" y="414.27" width="3.1" height="3.1" fill="#3b5cc6"/>
<rect x="754.75" y="412.38" width="3.1" height="3.1" fill="#3b5cc6"/>
<rect x="748.44" y="414.14" width="3.1" height="3.1" fill="#3b5cc6"/>
<line x1="750.2" y1="414.5" x2="758.2" y2="414.5" stroke="#86d4f5" stroke-width="0.9"/>
<line x1="754.5" y1="412.15" x2="754.5" y2="416.13" stroke="#86d4f5" stroke-width="0.9"/>
<line x1="752.4" y1="412.5" x2="756" y2="412.5" stroke="#86d4f5" stroke-width="0.9"/>
<line x1="752.4" y1="416.5" x2="756" y2="416.5" stroke="#86d4f5" stroke-width="0.9"/>
<path d="M766 385.97L767.9 389.39L764.1 389.39Z" fill="#187a86"/>
<path d="M768.1 383.74L770 387.16L766.2 387.16Z" fill="#187a86"/>
<path d="M766 393.86L767.9 397.28L764.1 397.28Z" fill="#187a86"/>
<path d="M766 389.96L767.9 393.38L764.1 393.38Z" fill="#187a86"/>
<path d="M766 398.28L767.9 401.7L764.1 401.7Z" fill="#187a86"/>
<path d="M768.1 388.78L770 392.2L766.2 392.2Z" fill="#187a86"/>
<path d="M763.9 387.48L765.8 390.9L762 390.9Z" fill="#187a86"/>
<path d="M768.1 396.04L770 399.46L766.2 399.46Z" fill="#187a86"/>
<path d="M770.21 393.66L772.11 397.08L768.31 397.08Z" fill="#187a86"/>
<line x1="762" y1="392.5" x2="770" y2="392.5" stroke="#72c6d0" stroke-width="0.9"/>
<line x1="766.5" y1="387.89" x2="766.5" y2="397.63" stroke="#72c6d0" stroke-width="0.9"/>
<line x1="764.2" y1="387.5" x2="767.8" y2="387.5" stroke="#72c6d0" stroke-width="0.9"/>
<line x1="764.2" y1="397.5" x2="767.8" y2="397.5" stroke="#72c6d0" stroke-width="0.9"/>
<path d="M777.2 410L779.1 406.58L775.3 406.58Z" fill="#f2622a"/>
<path d="M777.2 415.26L779.1 411.84L775.3 411.84Z" fill="#f2622a"/>
<path d="M779.3 416.5L781.2 413.08L777.4 413.08Z" fill="#f2622a"/>
<path d="M777.2 406.66L779.1 403.24L775.3 403.24Z" fill="#f2622a"/>
<path d="M781.41 415.46L783.31 412.04L779.51 412.04Z" fill="#f2622a"/>
<path d="M779.3 413.48L781.2 410.06L777.4 410.06Z" fill="#f2622a"/>
<path d="M775.1 416.32L777 412.9L773.2 412.9Z" fill="#f2622a"/>
<path d="M774.17 416.64L776.07 413.22L772.27 413.22Z" fill="#f2622a"/>
<path d="M773.29 414.78L775.19 411.36L771.39 411.36Z" fill="#f2622a"/>
<line x1="773.2" y1="412.5" x2="781.2" y2="412.5" stroke="#f8ab84" stroke-width="0.9"/>
<line x1="777.5" y1="408.59" x2="777.5" y2="415.41" stroke="#f8ab84" stroke-width="0.9"/>
<line x1="775.4" y1="408.5" x2="779" y2="408.5" stroke="#f8ab84" stroke-width="0.9"/>
<line x1="775.4" y1="415.5" x2="779" y2="415.5" stroke="#f8ab84" stroke-width="0.9"/>
<path d="M788.6 381.08L790.55 383.03L788.6 384.98L786.65 383.03Z" fill="#ec1b2b"/>
<path d="M788.6 375.72L790.55 377.67L788.6 379.62L786.65 377.67Z" fill="#ec1b2b"/>
<path d="M788.6 384.23L790.55 386.18L788.6 388.13L786.65 386.18Z" fill="#ec1b2b"/>
<path d="M788.6 387.53L790.55 389.48L788.6 391.43L786.65 389.48Z" fill="#ec1b2b"/>
<path d="M788.6 395.81L790.55 397.76L788.6 399.71L786.65 397.76Z" fill="#ec1b2b"/>
<path d="M792.81 380.28L794.76 382.23L792.81 384.18L790.86 382.23Z" fill="#ec1b2b"/>
<path d="M792.81 385.21L794.76 387.16L792.81 389.11L790.86 387.16Z" fill="#ec1b2b"/>
<path d="M790.7 394.47L792.65 396.42L790.7 398.37L788.75 396.42Z" fill="#ec1b2b"/>
<path d="M786.5 394.52L788.45 396.47L786.5 398.42L784.55 396.47Z" fill="#ec1b2b"/>
<line x1="784.6" y1="388.5" x2="792.6" y2="388.5" stroke="#f7909a" stroke-width="0.9"/>
<line x1="788.5" y1="381.36" x2="788.5" y2="395.62" stroke="#f7909a" stroke-width="0.9"/>
<line x1="786.8" y1="381.5" x2="790.4" y2="381.5" stroke="#f7909a" stroke-width="0.9"/>
<line x1="786.8" y1="395.5" x2="790.4" y2="395.5" stroke="#f7909a" stroke-width="0.9"/>
<line x1="674.4" y1="400.5" x2="689.4" y2="400.5" stroke="#555" stroke-width="1"/>
<path d="M681.9 396.4v2M681.05 396.9l1.7 1M682.75 396.9l-1.7 1" stroke="#333" stroke-width="0.7"/>
<line x1="686.8" y1="380.5" x2="701.8" y2="380.5" stroke="#555" stroke-width="1"/>
<path d="M694.3 376.2v2M693.45 376.7l1.7 1M695.15 376.7l-1.7 1" stroke="#333" stroke-width="0.7"/>
<line x1="710" y1="373.5" x2="724.8" y2="373.5" stroke="#555" stroke-width="1"/>
<path d="M717.4 368.8v2M716.55 369.3l1.7 1M718.25 369.3l-1.7 1" stroke="#333" stroke-width="0.7"/>
<line x1="740.4" y1="407.5" x2="755.3" y2="407.5" stroke="#555" stroke-width="1"/>
<path d="M747.85 403.3v2M747 403.8l1.7 1M748.7 403.8l-1.7 1" stroke="#333" stroke-width="0.7"/>
<line x1="753.4" y1="384.5" x2="767.7" y2="384.5" stroke="#555" stroke-width="1"/>
<path d="M760.55 380.2v2M759.7 380.7l1.7 1M761.4 380.7l-1.7 1" stroke="#333" stroke-width="0.7"/>
<line x1="776" y1="378.5" x2="791" y2="378.5" stroke="#555" stroke-width="1"/>
<path d="M783.5 374.3v2M782.65 374.8l1.7 1M784.35 374.8l-1.7 1" stroke="#333" stroke-width="0.7"/>
</svg>
</body></html>
